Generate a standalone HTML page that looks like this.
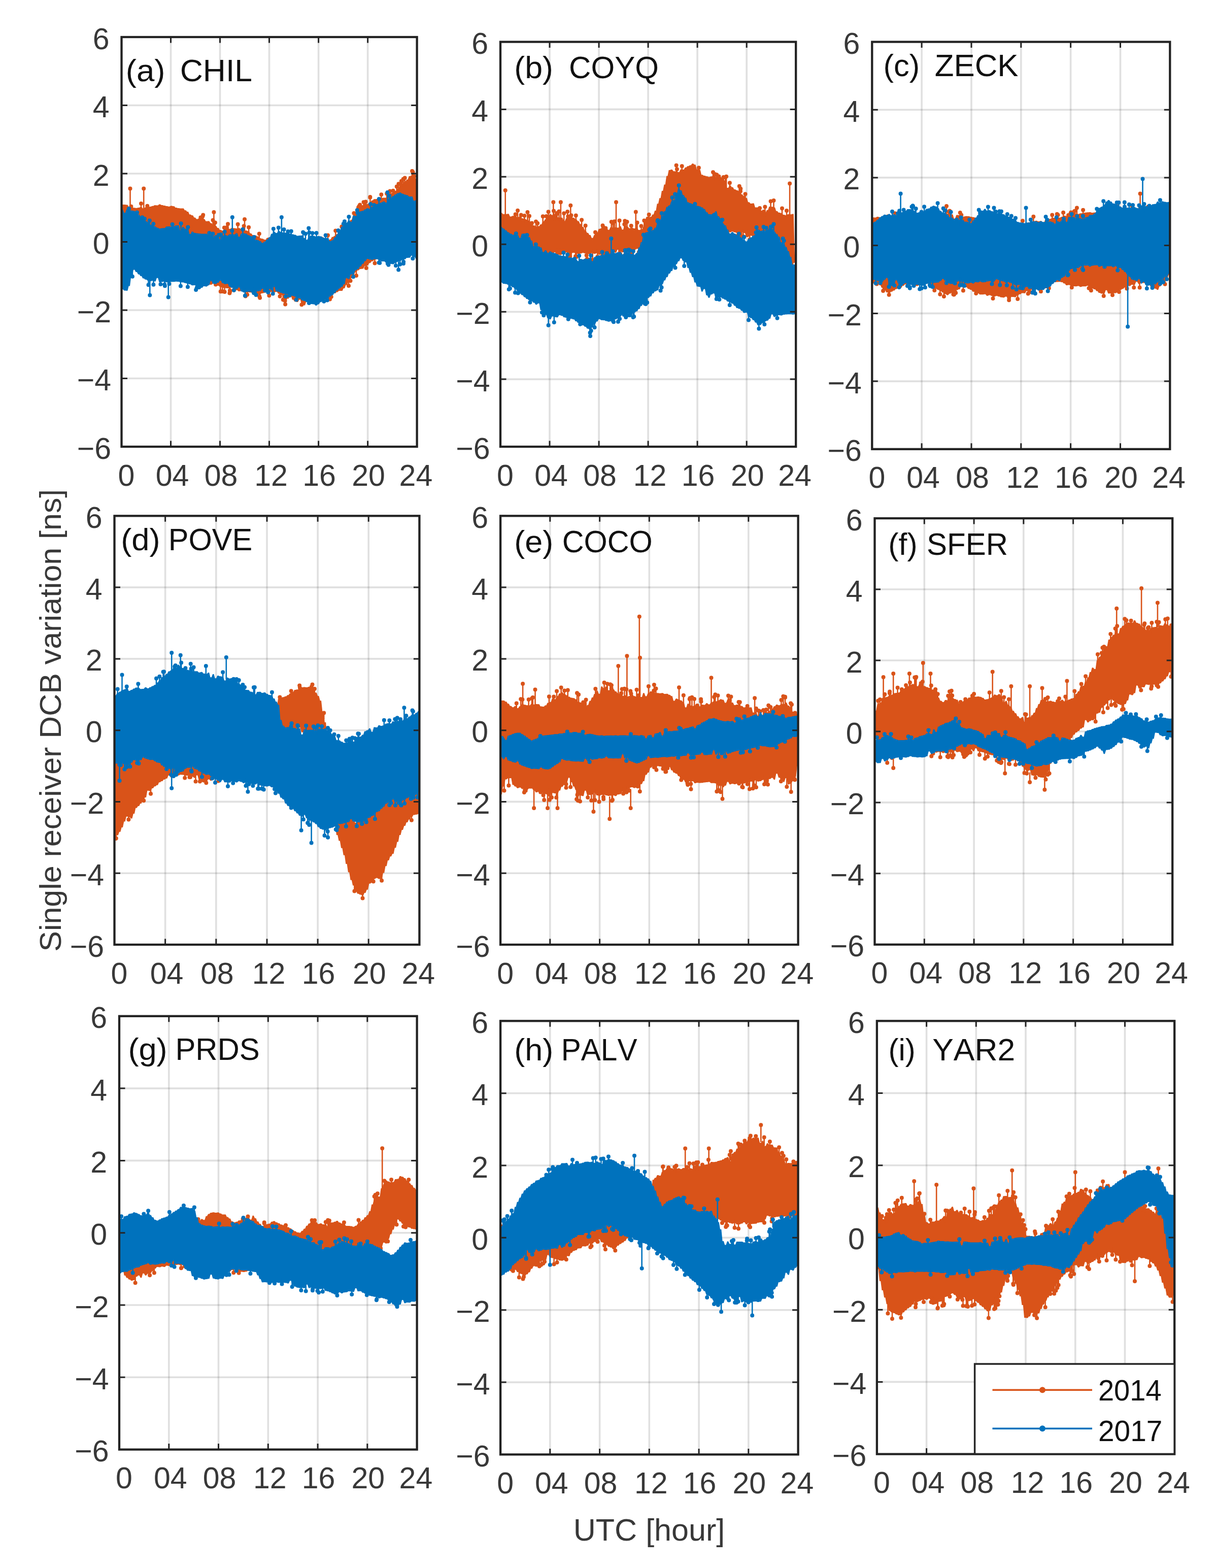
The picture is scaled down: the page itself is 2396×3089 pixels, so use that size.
<!DOCTYPE html><html><head><meta charset="utf-8"><title>Single receiver DCB variation</title>
<style>html,body{margin:0;padding:0;background:#fff;}svg{display:block;}text{font-family:"Liberation Sans",Arial,Helvetica,sans-serif;font-kerning:none;}</style></head><body>
<svg width="2396" height="3089" viewBox="0 0 2396 3089">
<rect width="2396" height="3089" fill="#fff"/>
<clipPath id="ca"><rect x="239.5" y="73" width="582.1" height="807"/></clipPath>
<path d="M336.5 73V880M433.5 73V880M530.5 73V880M627.6 73V880M724.6 73V880" stroke="#262626" stroke-opacity="0.145" stroke-width="3.6" fill="none"/>
<path d="M239.5 745.5H821.6M239.5 611H821.6M239.5 476.5H821.6M239.5 342H821.6M239.5 207.5H821.6" stroke="#262626" stroke-opacity="0.145" stroke-width="3.6" fill="none"/>
<g clip-path="url(#ca)">
<polygon fill="#D95319" points="235.3,403.3 237.7,403.3 239.9,402.9 242.2,402.9 244.5,403 246.8,403 249.1,403.4 251.4,403.4 253.7,407.6 256,407.6 258.4,407.5 260.6,407.5 262.9,409.2 265.2,409.2 267.5,409.8 269.8,409.8 272.1,409.1 274.4,409.1 276.8,407.6 279,407.6 281.3,410.4 283.6,410.4 285.9,408.2 288.2,408.2 290.5,408.3 292.8,408.3 295.1,406.9 297.4,406.9 299.7,405.7 302,405.7 304.3,404.2 306.6,404.2 308.9,404.5 311.2,404.5 313.5,402.5 315.8,402.5 318.1,404.1 320.4,404.1 322.7,404.9 325,404.9 327.3,406.1 329.6,406.1 331.9,406.7 334.2,406.7 336.5,405.5 338.8,405.5 341.1,406.3 343.4,406.3 345.7,409.1 348,409.1 350.3,409.9 352.6,409.9 354.9,410.5 357.2,410.5 359.5,410.6 361.8,410.6 364.1,414.2 366.4,414.2 368.7,417.1 371,417.1 373.3,422.4 375.6,422.4 377.9,424.3 380.2,424.3 382.5,428.6 384.8,428.6 387.1,431.4 389.4,431.4 391.7,429.9 394,429.9 396.3,433.3 398.6,433.3 400.9,431.4 403.2,431.4 405.5,435.7 407.8,435.7 410.1,435.5 412.4,435.5 414.7,439.4 417,439.4 419.3,443.7 421.6,443.7 423.9,445.1 426.2,445.1 428.5,449.1 430.8,449.1 433.1,453.1 435.4,453.1 437.7,454.2 440,454.2 442.3,450.2 444.6,450.2 446.9,448.6 449.2,448.6 451.5,450.8 453.8,450.8 456.1,449 458.4,449 460.7,449.5 463,449.5 465.3,450.1 467.6,450.1 469.9,449.3 472.2,449.3 474.5,451.3 476.8,451.3 479.1,451.9 481.4,451.9 483.7,453.9 486,453.9 488.3,455.3 490.6,455.3 492.9,459.7 495.2,459.7 497.5,463.1 499.8,463.1 502.1,463.8 504.4,463.8 506.7,465.4 509,465.4 511.3,469.3 513.6,469.3 515.9,470.3 518.2,470.3 520.5,472 522.8,472 525.1,472.4 527.4,472.4 529.7,475.4 532,475.4 534.3,475.3 536.6,475.3 538.9,476.2 541.2,476.2 543.5,477.1 545.8,477.1 548.1,478.8 550.4,478.8 552.7,479.7 555,479.7 557.3,478.9 559.6,478.9 561.9,480.6 564.2,480.6 566.5,480.7 568.8,480.7 571.1,481.9 573.4,481.9 575.7,481.4 578,481.4 580.3,483.6 582.6,483.6 584.9,490.5 587.2,490.5 589.5,481.2 591.8,481.2 594.1,482.5 596.4,482.5 598.7,483.1 601,483.1 603.3,483 605.6,483 607.9,481.2 610.2,481.2 612.5,485.7 614.8,485.7 617.1,480.5 619.4,480.5 621.7,480.3 624,480.3 626.3,478.9 628.6,478.9 630.9,476.1 633.2,476.1 635.5,475.7 637.8,475.7 640.1,474.4 642.4,474.4 644.7,474.7 647,474.7 649.3,471.6 651.6,471.6 653.9,466.7 656.2,466.7 658.5,464.8 660.8,464.8 663.1,461.1 665.4,461.1 667.7,458.7 670,458.7 672.3,453.9 674.6,453.9 676.9,450.6 679.2,450.6 681.5,443.5 683.8,443.5 686.1,436.9 688.4,436.9 690.7,433.3 693,433.3 695.3,425.2 697.6,425.2 699.9,419.4 702.2,419.4 704.5,412.7 706.8,412.7 709.1,406.7 711.4,406.7 713.7,404.3 716,404.3 718.3,400.7 720.6,400.7 722.9,401.7 725.2,401.7 727.5,399.1 729.8,399.1 732.1,394.7 734.4,394.7 736.7,392.3 739,392.3 741.3,392 743.6,392 745.9,390.9 748.2,390.9 750.5,389.9 752.8,389.9 755.1,389.6 757.4,389.6 759.7,389.4 762,389.4 764.3,385.9 766.6,385.9 768.9,380.5 771.2,380.5 773.5,379.3 775.8,379.3 778.1,376 780.4,376 782.7,371.6 785,371.6 787.3,366.9 789.6,366.9 791.9,362.2 794.2,362.2 796.5,357.7 798.8,357.7 801.1,353.8 803.4,353.8 805.7,347 808,347 810.3,345.8 812.6,345.8 814.9,348.1 817.2,348.1 819.5,352 821.8,352 824.1,351.2 826.4,351.2 826.4,469.4 824.1,469.4 821.8,470.6 819.5,470.6 817.2,474 814.9,474 812.6,473.6 810.3,473.6 808,476.5 805.7,476.5 803.4,478.6 801.1,478.6 798.8,480 796.5,480 794.2,475.9 791.9,475.9 789.6,483.7 787.3,483.7 785,485.7 782.7,485.7 780.4,488.5 778.1,488.5 775.8,482.8 773.5,482.8 771.2,493.1 768.9,493.1 766.6,495.6 764.3,495.6 762,496.4 759.7,496.4 757.4,495.5 755.1,495.5 752.8,501.8 750.5,501.8 748.2,506.5 745.9,506.5 743.6,510.2 741.3,510.2 739,512.8 736.7,512.8 734.4,514.7 732.1,514.7 729.8,518.2 727.5,518.2 725.2,523.1 722.9,523.1 720.6,524.3 718.3,524.3 716,529.6 713.7,529.6 711.4,530.1 709.1,530.1 706.8,532.6 704.5,532.6 702.2,536.3 699.9,536.3 697.6,541.5 695.3,541.5 693,548.1 690.7,548.1 688.4,556.3 686.1,556.3 683.8,561.4 681.5,561.4 679.2,568 676.9,568 674.6,573.1 672.3,573.1 670,573 667.7,573 665.4,575.5 663.1,575.5 660.8,577.9 658.5,577.9 656.2,578.6 653.9,578.6 651.6,579.2 649.3,579.2 647,582.5 644.7,582.5 642.4,581.5 640.1,581.5 637.8,585.9 635.5,585.9 633.2,585.7 630.9,585.7 628.6,589.4 626.3,589.4 624,589.6 621.7,589.6 619.4,593.7 617.1,593.7 614.8,592.2 612.5,592.2 610.2,596.9 607.9,596.9 605.6,594.3 603.3,594.3 601,601.6 598.7,601.6 596.4,599.9 594.1,599.9 591.8,590.5 589.5,590.5 587.2,594.9 584.9,594.9 582.6,594.3 580.3,594.3 578,590.5 575.7,590.5 573.4,582.3 571.1,582.3 568.8,588.6 566.5,588.6 564.2,584.7 561.9,584.7 559.6,582.7 557.3,582.7 555,581.2 552.7,581.2 550.4,578.8 548.1,578.8 545.8,575.1 543.5,575.1 541.2,576.1 538.9,576.1 536.6,574.9 534.3,574.9 532,575.6 529.7,575.6 527.4,575.9 525.1,575.9 522.8,576.7 520.5,576.7 518.2,577.8 515.9,577.8 513.6,579.2 511.3,579.2 509,580.2 506.7,580.2 504.4,580 502.1,580 499.8,577 497.5,577 495.2,576.3 492.9,576.3 490.6,576.1 488.3,576.1 486,576 483.7,576 481.4,575.6 479.1,575.6 476.8,573 474.5,573 472.2,574 469.9,574 467.6,571.8 465.3,571.8 463,572.3 460.7,572.3 458.4,563.9 456.1,563.9 453.8,568.3 451.5,568.3 449.2,567.9 446.9,567.9 444.6,567.6 442.3,567.6 440,567.3 437.7,567.3 435.4,565 433.1,565 430.8,562.9 428.5,562.9 426.2,560.7 423.9,560.7 421.6,557 419.3,557 417,554 414.7,554 412.4,543.1 410.1,543.1 407.8,549.9 405.5,549.9 403.2,549.9 400.9,549.9 398.6,546.6 396.3,546.6 394,546.6 391.7,546.6 389.4,545.7 387.1,545.7 384.8,543.6 382.5,543.6 380.2,542.9 377.9,542.9 375.6,541.9 373.3,541.9 371,540.3 368.7,540.3 366.4,539.2 364.1,539.2 361.8,539.6 359.5,539.6 357.2,538.1 354.9,538.1 352.6,538.5 350.3,538.5 348,537.6 345.7,537.6 343.4,530.3 341.1,530.3 338.8,537.9 336.5,537.9 334.2,537.1 331.9,537.1 329.6,537.6 327.3,537.6 325,537.3 322.7,537.3 320.4,538.3 318.1,538.3 315.8,535.1 313.5,535.1 311.2,532.3 308.9,532.3 306.6,536.8 304.3,536.8 302,538.1 299.7,538.1 297.4,538.1 295.1,538.1 292.8,536.7 290.5,536.7 288.2,537.6 285.9,537.6 283.6,536.4 281.3,536.4 279,535.6 276.8,535.6 274.4,535.3 272.1,535.3 269.8,531 267.5,531 265.2,529.3 262.9,529.3 260.6,525.6 258.4,525.6 256,521.8 253.7,521.8 251.4,517.6 249.1,517.6 246.8,515 244.5,515 242.2,511.5 239.9,511.5 237.7,510.6 235.3,510.6"/>
<path d="M256.5 410.8V371.6M283.2 413.2V371.6M421.4 447.2V418M482 456.3V432.1M562.1 580.2V599.6M438.4 561.5V574M762.2 395.5V381.6M560.2 488V477.5M813.6 355.7V339.1M729.3 404.1V389M441.9 459.2V448.4M400.2 440.9V423.4M706.1 422.1V408.8M680.3 455V443.9M709.2 418.1V403.5M751.3 397.8V383.3M716.5 411.6V398.2M797.7 365.5V350.5M533.4 484.3V475.1M790.2 373.2V363.7M480.6 460.2V445.2M447 458.5V448.1M633.3 485V470.3M661.2 471.1V454.6M399.4 440.8V425.9M781.7 381V367.6M697.4 433.2V419.9M590.1 490.6V477.9M626.1 487.5V471.7M490.1 465.1V447.7M528.2 483V472.2M535.5 484.6V472.4M790.9 372.5V356.7M396.8 440.5V429.3M423.9 453.1V438.6M646 480.1V463.4M816.1 357.1V347.3M278 417V401.1M290.3 416.7V405.7M768.4 390.9V376.5M258.4 415.3V406.7M707.4 420.4V406.4M710.1 417V406.4M774.6 386.3V375.7M785.4 378.1V362.3M673.3 462.4V446.5M574.1 489.9V477.8M468.6 458.5V441.8M541 485.3V471.7M395.3 440.3V428.5M794.6 368.7V352.8M449 458.2V441.3M812.1 354.9V336.9M729.3 404.2V387.9M510.8 476.2V460.4M720.5 409.3V397.5M419.5 449.9V433.7M759.3 490.2V505.8M452.4 560.4V577.4M460.7 562V571.6M816.4 464.6V480.3M372.7 533.9V547.3M453.2 560.5V574.4M790.9 475.2V483.7M322.6 528.3V545.6M809.9 467.2V484.1M413.3 544.7V555.5M331.1 528.3V544.6M652.7 570.8V584.7M319.8 528.3V541M551.5 571.3V583.8M327.3 528.3V544M384.1 536.5V553.7M818.9 463.5V481.4M320.9 528.3V538.2M367.1 532.6V544.9M259.9 517.1V529.3M347 528.3V543.5M616.3 585V593.3M244.7 506.4V516.1M738.5 503.7V518.4M292.9 528.3V544.1M702 527.3V542.9M328 528.3V539.7M561.6 575.9V592.4M562.2 576.2V587.1M408.1 542.1V558.9M385.9 537V551.8M690.5 542.8V553.3M530.3 568.7V582.2M594.4 591V600.2M511.1 570.8V583.7M335.3 528.3V543.6M407.3 541.9V551M721.7 515.8V528M487.2 567.4V580.5M650 571.6V589.6M442.6 558.4V574.9M452.9 560.5V572.2M557.8 574.2V590.4M425 551.5V560.4M434.7 556.8V574.2M789.9 475.5V488.4M349 528.4V544.5M415.2 545.8V557.1M687 547.9V563M512.1 570.7V586.8M483.8 566.7V583.5" stroke="#D95319" stroke-width="2.6" fill="none"/>
<path d="M252.5 371.6a4 4 0 1 0 8 0a4 4 0 1 0 -8 0M279.2 371.6a4 4 0 1 0 8 0a4 4 0 1 0 -8 0M417.4 418a4 4 0 1 0 8 0a4 4 0 1 0 -8 0M478 432.1a4 4 0 1 0 8 0a4 4 0 1 0 -8 0M558.1 599.6a4 4 0 1 0 8 0a4 4 0 1 0 -8 0M434.4 574a4 4 0 1 0 8 0a4 4 0 1 0 -8 0M758.2 381.6a4 4 0 1 0 8 0a4 4 0 1 0 -8 0M556.2 477.5a4 4 0 1 0 8 0a4 4 0 1 0 -8 0M809.6 339.1a4 4 0 1 0 8 0a4 4 0 1 0 -8 0M725.3 389a4 4 0 1 0 8 0a4 4 0 1 0 -8 0M437.9 448.4a4 4 0 1 0 8 0a4 4 0 1 0 -8 0M396.2 423.4a4 4 0 1 0 8 0a4 4 0 1 0 -8 0M702.1 408.8a4 4 0 1 0 8 0a4 4 0 1 0 -8 0M676.3 443.9a4 4 0 1 0 8 0a4 4 0 1 0 -8 0M705.2 403.5a4 4 0 1 0 8 0a4 4 0 1 0 -8 0M747.3 383.3a4 4 0 1 0 8 0a4 4 0 1 0 -8 0M712.5 398.2a4 4 0 1 0 8 0a4 4 0 1 0 -8 0M793.7 350.5a4 4 0 1 0 8 0a4 4 0 1 0 -8 0M529.4 475.1a4 4 0 1 0 8 0a4 4 0 1 0 -8 0M786.2 363.7a4 4 0 1 0 8 0a4 4 0 1 0 -8 0M476.6 445.2a4 4 0 1 0 8 0a4 4 0 1 0 -8 0M443 448.1a4 4 0 1 0 8 0a4 4 0 1 0 -8 0M629.3 470.3a4 4 0 1 0 8 0a4 4 0 1 0 -8 0M657.2 454.6a4 4 0 1 0 8 0a4 4 0 1 0 -8 0M395.4 425.9a4 4 0 1 0 8 0a4 4 0 1 0 -8 0M777.7 367.6a4 4 0 1 0 8 0a4 4 0 1 0 -8 0M693.4 419.9a4 4 0 1 0 8 0a4 4 0 1 0 -8 0M586.1 477.9a4 4 0 1 0 8 0a4 4 0 1 0 -8 0M622.1 471.7a4 4 0 1 0 8 0a4 4 0 1 0 -8 0M486.1 447.7a4 4 0 1 0 8 0a4 4 0 1 0 -8 0M524.2 472.2a4 4 0 1 0 8 0a4 4 0 1 0 -8 0M531.5 472.4a4 4 0 1 0 8 0a4 4 0 1 0 -8 0M786.9 356.7a4 4 0 1 0 8 0a4 4 0 1 0 -8 0M392.8 429.3a4 4 0 1 0 8 0a4 4 0 1 0 -8 0M419.9 438.6a4 4 0 1 0 8 0a4 4 0 1 0 -8 0M642 463.4a4 4 0 1 0 8 0a4 4 0 1 0 -8 0M812.1 347.3a4 4 0 1 0 8 0a4 4 0 1 0 -8 0M274 401.1a4 4 0 1 0 8 0a4 4 0 1 0 -8 0M286.3 405.7a4 4 0 1 0 8 0a4 4 0 1 0 -8 0M764.4 376.5a4 4 0 1 0 8 0a4 4 0 1 0 -8 0M254.4 406.7a4 4 0 1 0 8 0a4 4 0 1 0 -8 0M703.4 406.4a4 4 0 1 0 8 0a4 4 0 1 0 -8 0M706.1 406.4a4 4 0 1 0 8 0a4 4 0 1 0 -8 0M770.6 375.7a4 4 0 1 0 8 0a4 4 0 1 0 -8 0M781.4 362.3a4 4 0 1 0 8 0a4 4 0 1 0 -8 0M669.3 446.5a4 4 0 1 0 8 0a4 4 0 1 0 -8 0M570.1 477.8a4 4 0 1 0 8 0a4 4 0 1 0 -8 0M464.6 441.8a4 4 0 1 0 8 0a4 4 0 1 0 -8 0M537 471.7a4 4 0 1 0 8 0a4 4 0 1 0 -8 0M391.3 428.5a4 4 0 1 0 8 0a4 4 0 1 0 -8 0M790.6 352.8a4 4 0 1 0 8 0a4 4 0 1 0 -8 0M445 441.3a4 4 0 1 0 8 0a4 4 0 1 0 -8 0M808.1 336.9a4 4 0 1 0 8 0a4 4 0 1 0 -8 0M725.3 387.9a4 4 0 1 0 8 0a4 4 0 1 0 -8 0M506.8 460.4a4 4 0 1 0 8 0a4 4 0 1 0 -8 0M716.5 397.5a4 4 0 1 0 8 0a4 4 0 1 0 -8 0M415.5 433.7a4 4 0 1 0 8 0a4 4 0 1 0 -8 0M755.3 505.8a4 4 0 1 0 8 0a4 4 0 1 0 -8 0M448.4 577.4a4 4 0 1 0 8 0a4 4 0 1 0 -8 0M456.7 571.6a4 4 0 1 0 8 0a4 4 0 1 0 -8 0M812.4 480.3a4 4 0 1 0 8 0a4 4 0 1 0 -8 0M368.7 547.3a4 4 0 1 0 8 0a4 4 0 1 0 -8 0M449.2 574.4a4 4 0 1 0 8 0a4 4 0 1 0 -8 0M786.9 483.7a4 4 0 1 0 8 0a4 4 0 1 0 -8 0M318.6 545.6a4 4 0 1 0 8 0a4 4 0 1 0 -8 0M805.9 484.1a4 4 0 1 0 8 0a4 4 0 1 0 -8 0M409.3 555.5a4 4 0 1 0 8 0a4 4 0 1 0 -8 0M327.1 544.6a4 4 0 1 0 8 0a4 4 0 1 0 -8 0M648.7 584.7a4 4 0 1 0 8 0a4 4 0 1 0 -8 0M315.8 541a4 4 0 1 0 8 0a4 4 0 1 0 -8 0M547.5 583.8a4 4 0 1 0 8 0a4 4 0 1 0 -8 0M323.3 544a4 4 0 1 0 8 0a4 4 0 1 0 -8 0M380.1 553.7a4 4 0 1 0 8 0a4 4 0 1 0 -8 0M814.9 481.4a4 4 0 1 0 8 0a4 4 0 1 0 -8 0M316.9 538.2a4 4 0 1 0 8 0a4 4 0 1 0 -8 0M363.1 544.9a4 4 0 1 0 8 0a4 4 0 1 0 -8 0M255.9 529.3a4 4 0 1 0 8 0a4 4 0 1 0 -8 0M343 543.5a4 4 0 1 0 8 0a4 4 0 1 0 -8 0M612.3 593.3a4 4 0 1 0 8 0a4 4 0 1 0 -8 0M240.7 516.1a4 4 0 1 0 8 0a4 4 0 1 0 -8 0M734.5 518.4a4 4 0 1 0 8 0a4 4 0 1 0 -8 0M288.9 544.1a4 4 0 1 0 8 0a4 4 0 1 0 -8 0M698 542.9a4 4 0 1 0 8 0a4 4 0 1 0 -8 0M324 539.7a4 4 0 1 0 8 0a4 4 0 1 0 -8 0M557.6 592.4a4 4 0 1 0 8 0a4 4 0 1 0 -8 0M558.2 587.1a4 4 0 1 0 8 0a4 4 0 1 0 -8 0M404.1 558.9a4 4 0 1 0 8 0a4 4 0 1 0 -8 0M381.9 551.8a4 4 0 1 0 8 0a4 4 0 1 0 -8 0M686.5 553.3a4 4 0 1 0 8 0a4 4 0 1 0 -8 0M526.3 582.2a4 4 0 1 0 8 0a4 4 0 1 0 -8 0M590.4 600.2a4 4 0 1 0 8 0a4 4 0 1 0 -8 0M507.1 583.7a4 4 0 1 0 8 0a4 4 0 1 0 -8 0M331.3 543.6a4 4 0 1 0 8 0a4 4 0 1 0 -8 0M403.3 551a4 4 0 1 0 8 0a4 4 0 1 0 -8 0M717.7 528a4 4 0 1 0 8 0a4 4 0 1 0 -8 0M483.2 580.5a4 4 0 1 0 8 0a4 4 0 1 0 -8 0M646 589.6a4 4 0 1 0 8 0a4 4 0 1 0 -8 0M438.6 574.9a4 4 0 1 0 8 0a4 4 0 1 0 -8 0M448.9 572.2a4 4 0 1 0 8 0a4 4 0 1 0 -8 0M553.8 590.4a4 4 0 1 0 8 0a4 4 0 1 0 -8 0M421 560.4a4 4 0 1 0 8 0a4 4 0 1 0 -8 0M430.7 574.2a4 4 0 1 0 8 0a4 4 0 1 0 -8 0M785.9 488.4a4 4 0 1 0 8 0a4 4 0 1 0 -8 0M345 544.5a4 4 0 1 0 8 0a4 4 0 1 0 -8 0M411.2 557.1a4 4 0 1 0 8 0a4 4 0 1 0 -8 0M683 563a4 4 0 1 0 8 0a4 4 0 1 0 -8 0M508.1 586.8a4 4 0 1 0 8 0a4 4 0 1 0 -8 0M479.8 583.5a4 4 0 1 0 8 0a4 4 0 1 0 -8 0" fill="#D95319"/>
<polygon fill="#0072BD" points="235.3,412.2 237.7,412.2 239.9,412.5 242.2,412.5 244.5,419.3 246.8,419.3 249.1,412.5 251.4,412.5 253.7,414.1 256,414.1 258.4,414.7 260.6,414.7 262.9,415.6 265.2,415.6 267.5,419.2 269.8,419.2 272.1,422.5 274.4,422.5 276.8,427.4 279,427.4 281.3,431.4 283.6,431.4 285.9,435.2 288.2,435.2 290.5,437.6 292.8,437.6 295.1,442.6 297.4,442.6 299.7,444.3 302,444.3 304.3,445.9 306.6,445.9 308.9,448.6 311.2,448.6 313.5,450.2 315.8,450.2 318.1,449.4 320.4,449.4 322.7,449.2 325,449.2 327.3,446.3 329.6,446.3 331.9,446 334.2,446 336.5,446.6 338.8,446.6 341.1,445.8 343.4,445.8 345.7,443.9 348,443.9 350.3,444 352.6,444 354.9,454.3 357.2,454.3 359.5,447.1 361.8,447.1 364.1,450.6 366.4,450.6 368.7,451.2 371,451.2 373.3,460.9 375.6,460.9 377.9,456.3 380.2,456.3 382.5,458.7 384.8,458.7 387.1,459.4 389.4,459.4 391.7,460 394,460 396.3,460.6 398.6,460.6 400.9,460.4 403.2,460.4 405.5,460.6 407.8,460.6 410.1,462.8 412.4,462.8 414.7,462.8 417,462.8 419.3,465.7 421.6,465.7 423.9,463.1 426.2,463.1 428.5,465.7 430.8,465.7 433.1,471.8 435.4,471.8 437.7,464.2 440,464.2 442.3,462.5 444.6,462.5 446.9,464.2 449.2,464.2 451.5,461.5 453.8,461.5 456.1,461.7 458.4,461.7 460.7,461.8 463,461.8 465.3,459.2 467.6,459.2 469.9,466.6 472.2,466.6 474.5,460.1 476.8,460.1 479.1,459.6 481.4,459.6 483.7,460.3 486,460.3 488.3,463.3 490.6,463.3 492.9,464.9 495.2,464.9 497.5,467.6 499.8,467.6 502.1,471.7 504.4,471.7 506.7,472.9 509,472.9 511.3,475.1 513.6,475.1 515.9,478.4 518.2,478.4 520.5,475.7 522.8,475.7 525.1,471.8 527.4,471.8 529.7,467.2 532,467.2 534.3,460.5 536.6,460.5 538.9,456.3 541.2,456.3 543.5,459 545.8,459 548.1,454.8 550.4,454.8 552.7,456.8 555,456.8 557.3,458.1 559.6,458.1 561.9,458.3 564.2,458.3 566.5,458.7 568.8,458.7 571.1,460.1 573.4,460.1 575.7,461.4 578,461.4 580.3,462.6 582.6,462.6 584.9,464.6 587.2,464.6 589.5,464.1 591.8,464.1 594.1,463.8 596.4,463.8 598.7,469.1 601,469.1 603.3,472.2 605.6,472.2 607.9,466 610.2,466 612.5,463.7 614.8,463.7 617.1,464.6 619.4,464.6 621.7,465.9 624,465.9 626.3,465.1 628.6,465.1 630.9,465.5 633.2,465.5 635.5,467.8 637.8,467.8 640.1,469.2 642.4,469.2 644.7,468.5 647,468.5 649.3,475 651.6,475 653.9,473.2 656.2,473.2 658.5,467.6 660.8,467.6 663.1,461.7 665.4,461.7 667.7,454.3 670,454.3 672.3,446.2 674.6,446.2 676.9,442.8 679.2,442.8 681.5,438.5 683.8,438.5 686.1,434.2 688.4,434.2 690.7,436.7 693,436.7 695.3,424.6 697.6,424.6 699.9,425.3 702.2,425.3 704.5,420 706.8,420 709.1,416.3 711.4,416.3 713.7,415.2 716,415.2 718.3,412.6 720.6,412.6 722.9,409.9 725.2,409.9 727.5,411.7 729.8,411.7 732.1,407.4 734.4,407.4 736.7,403.9 739,403.9 741.3,402.1 743.6,402.1 745.9,400.8 748.2,400.8 750.5,398.8 752.8,398.8 755.1,396.8 757.4,396.8 759.7,399.1 762,399.1 764.3,391.9 766.6,391.9 768.9,388.9 771.2,388.9 773.5,386.3 775.8,386.3 778.1,382.9 780.4,382.9 782.7,380.4 785,380.4 787.3,379.2 789.6,379.2 791.9,381.6 794.2,381.6 796.5,383.2 798.8,383.2 801.1,384.6 803.4,384.6 805.7,387.3 808,387.3 810.3,386.9 812.6,386.9 814.9,395.2 817.2,395.2 819.5,394.2 821.8,394.2 824.1,397.2 826.4,397.2 826.4,509.1 824.1,509.1 821.8,510.2 819.5,510.2 817.2,506.6 814.9,506.6 812.6,503.8 810.3,503.8 808,507.7 805.7,507.7 803.4,508 801.1,508 798.8,510.8 796.5,510.8 794.2,512.4 791.9,512.4 789.6,514.1 787.3,514.1 785,515.7 782.7,515.7 780.4,518.1 778.1,518.1 775.8,520.4 773.5,520.4 771.2,520 768.9,520 766.6,517.6 764.3,517.6 762,517.3 759.7,517.3 757.4,514.9 755.1,514.9 752.8,515.1 750.5,515.1 748.2,511.8 745.9,511.8 743.6,510.8 741.3,510.8 739,510.8 736.7,510.8 734.4,511.9 732.1,511.9 729.8,511.3 727.5,511.3 725.2,510.1 722.9,510.1 720.6,514.5 718.3,514.5 716,519.7 713.7,519.7 711.4,524.9 709.1,524.9 706.8,529.9 704.5,529.9 702.2,532.7 699.9,532.7 697.6,540.1 695.3,540.1 693,541.1 690.7,541.1 688.4,549.7 686.1,549.7 683.8,548.1 681.5,548.1 679.2,560 676.9,560 674.6,565.3 672.3,565.3 670,568.5 667.7,568.5 665.4,572.5 663.1,572.5 660.8,577.3 658.5,577.3 656.2,581.5 653.9,581.5 651.6,584.3 649.3,584.3 647,588.9 644.7,588.9 642.4,590.2 640.1,590.2 637.8,592.6 635.5,592.6 633.2,595.2 630.9,595.2 628.6,599.6 626.3,599.6 624,602.1 621.7,602.1 619.4,599.5 617.1,599.5 614.8,599 612.5,599 610.2,596.6 607.9,596.6 605.6,595.3 603.3,595.3 601,593 598.7,593 596.4,591.7 594.1,591.7 591.8,588.1 589.5,588.1 587.2,587.7 584.9,587.7 582.6,584.6 580.3,584.6 578,583 575.7,583 573.4,581.3 571.1,581.3 568.8,580.3 566.5,580.3 564.2,579 561.9,579 559.6,578.4 557.3,578.4 555,576.9 552.7,576.9 550.4,574.7 548.1,574.7 545.8,574.3 543.5,574.3 541.2,565.3 538.9,565.3 536.6,572.3 534.3,572.3 532,569.3 529.7,569.3 527.4,571.3 525.1,571.3 522.8,570.4 520.5,570.4 518.2,569.1 515.9,569.1 513.6,573 511.3,573 509,574.1 506.7,574.1 504.4,572.8 502.1,572.8 499.8,575.2 497.5,575.2 495.2,575.2 492.9,575.2 490.6,574.8 488.3,574.8 486,575.2 483.7,575.2 481.4,576.1 479.1,576.1 476.8,574.2 474.5,574.2 472.2,566.3 469.9,566.3 467.6,569.7 465.3,569.7 463,567.9 460.7,567.9 458.4,567.3 456.1,567.3 453.8,565.1 451.5,565.1 449.2,559.2 446.9,559.2 444.6,559.7 442.3,559.7 440,558.1 437.7,558.1 435.4,552.9 433.1,552.9 430.8,556.9 428.5,556.9 426.2,559.4 423.9,559.4 421.6,559.3 419.3,559.3 417,553.7 414.7,553.7 412.4,561.9 410.1,561.9 407.8,564.4 405.5,564.4 403.2,564 400.9,564 398.6,566.9 396.3,566.9 394,564.3 391.7,564.3 389.4,564.6 387.1,564.6 384.8,562.1 382.5,562.1 380.2,562.3 377.9,562.3 375.6,560.3 373.3,560.3 371,559.1 368.7,559.1 366.4,557.7 364.1,557.7 361.8,556.6 359.5,556.6 357.2,555.9 354.9,555.9 352.6,555 350.3,555 348,554.7 345.7,554.7 343.4,555.2 341.1,555.2 338.8,555.3 336.5,555.3 334.2,556.6 331.9,556.6 329.6,556.2 327.3,556.2 325,554.8 322.7,554.8 320.4,555.6 318.1,555.6 315.8,555.9 313.5,555.9 311.2,547.7 308.9,547.7 306.6,554.4 304.3,554.4 302,553.2 299.7,553.2 297.4,553.9 295.1,553.9 292.8,552.8 290.5,552.8 288.2,550.7 285.9,550.7 283.6,548.6 281.3,548.6 279,543.9 276.8,543.9 274.4,540.4 272.1,540.4 269.8,536 267.5,536 265.2,531.5 262.9,531.5 260.6,543.9 258.4,543.9 256,563.6 253.7,563.6 251.4,572.7 249.1,572.7 246.8,572.5 244.5,572.5 242.2,570 239.9,570 237.7,568.9 235.3,568.9"/>
<path d="M457.8 467.1V428.1M554.8 462.4V428.1M608.2 470.4V449.6M763.4 397.8V379M295.3 548.1V581.4M331.7 550.5V585.4M785.2 509.9V531.6M573.8 469.1V455.4M666.5 465.8V453.9M559.5 466V452M284.8 441.9V430.9M687.4 441.4V427.1M548.8 463.6V448.4M302.2 453V440.9M615.7 473V459.3M254 421.9V410.9M737.1 412.3V404M339.6 453.3V442M623.5 473V459.1M457.3 469.7V454.5M746.8 408V392M767.1 398.2V385.8M435.2 472.8V462M431 472.7V463.1M609.4 473V458.1M730.1 415.7V402.1M678.9 449V436.2M500.7 476.9V466.9M676.7 450.9V441.1M704.4 428V418.9M294.7 448.7V434.6M538.8 466.2V450.7M412.4 470.1V459M602 473V460.6M597.1 473V457.5M703.8 428.3V414.1M270 428.8V418.5M356.6 454.7V440.3M478.3 466.8V451.8M419.3 471V460.5M370.3 460.3V447.4M567.4 467.7V456M641.6 476.6V463.5M442.6 471.7V456.6M280.2 437.8V428.3M386.1 554.9V571M570.4 573.6V582.3M562.9 571.5V584M528.3 562.4V576.1M504.5 565.6V580.9M795.1 503.3V515.8M528.9 562.3V575M482.8 568.7V582.5M333.4 547.9V559.2M748.2 504.8V518.1M696.1 531.3V545.2M638.3 584.6V593.7M765.5 510V521.8M387.6 555.4V567.3M460.9 559.7V571.8M324.2 547.9V560.5M302.4 546.5V560.7M746.6 504.6V517.5M369.9 550.5V565.3M316.4 547.9V559.9M355.9 547.9V563.4M763.8 509.5V519.2M392.2 556.6V565.9M537.7 564.1V578.5M292.5 545.2V561.2M499.3 566.4V574.9M522.3 563.2V572.2M788.3 506.1V520.7M794.9 503.4V519.3M644.8 580.5V591.5M260.9 534V544.8M583.8 578.1V590.5M324.9 547.9V563.2M500.1 566.3V577.3M608.9 588.6V597M779.9 509.5V523.2M813.3 498.8V509.3M525.3 562.8V572" stroke="#0072BD" stroke-width="2.6" fill="none"/>
<path d="M453.8 428.1a4 4 0 1 0 8 0a4 4 0 1 0 -8 0M550.8 428.1a4 4 0 1 0 8 0a4 4 0 1 0 -8 0M604.2 449.6a4 4 0 1 0 8 0a4 4 0 1 0 -8 0M759.4 379a4 4 0 1 0 8 0a4 4 0 1 0 -8 0M291.3 581.4a4 4 0 1 0 8 0a4 4 0 1 0 -8 0M327.7 585.4a4 4 0 1 0 8 0a4 4 0 1 0 -8 0M781.2 531.6a4 4 0 1 0 8 0a4 4 0 1 0 -8 0M569.8 455.4a4 4 0 1 0 8 0a4 4 0 1 0 -8 0M662.5 453.9a4 4 0 1 0 8 0a4 4 0 1 0 -8 0M555.5 452a4 4 0 1 0 8 0a4 4 0 1 0 -8 0M280.8 430.9a4 4 0 1 0 8 0a4 4 0 1 0 -8 0M683.4 427.1a4 4 0 1 0 8 0a4 4 0 1 0 -8 0M544.8 448.4a4 4 0 1 0 8 0a4 4 0 1 0 -8 0M298.2 440.9a4 4 0 1 0 8 0a4 4 0 1 0 -8 0M611.7 459.3a4 4 0 1 0 8 0a4 4 0 1 0 -8 0M250 410.9a4 4 0 1 0 8 0a4 4 0 1 0 -8 0M733.1 404a4 4 0 1 0 8 0a4 4 0 1 0 -8 0M335.6 442a4 4 0 1 0 8 0a4 4 0 1 0 -8 0M619.5 459.1a4 4 0 1 0 8 0a4 4 0 1 0 -8 0M453.3 454.5a4 4 0 1 0 8 0a4 4 0 1 0 -8 0M742.8 392a4 4 0 1 0 8 0a4 4 0 1 0 -8 0M763.1 385.8a4 4 0 1 0 8 0a4 4 0 1 0 -8 0M431.2 462a4 4 0 1 0 8 0a4 4 0 1 0 -8 0M427 463.1a4 4 0 1 0 8 0a4 4 0 1 0 -8 0M605.4 458.1a4 4 0 1 0 8 0a4 4 0 1 0 -8 0M726.1 402.1a4 4 0 1 0 8 0a4 4 0 1 0 -8 0M674.9 436.2a4 4 0 1 0 8 0a4 4 0 1 0 -8 0M496.7 466.9a4 4 0 1 0 8 0a4 4 0 1 0 -8 0M672.7 441.1a4 4 0 1 0 8 0a4 4 0 1 0 -8 0M700.4 418.9a4 4 0 1 0 8 0a4 4 0 1 0 -8 0M290.7 434.6a4 4 0 1 0 8 0a4 4 0 1 0 -8 0M534.8 450.7a4 4 0 1 0 8 0a4 4 0 1 0 -8 0M408.4 459a4 4 0 1 0 8 0a4 4 0 1 0 -8 0M598 460.6a4 4 0 1 0 8 0a4 4 0 1 0 -8 0M593.1 457.5a4 4 0 1 0 8 0a4 4 0 1 0 -8 0M699.8 414.1a4 4 0 1 0 8 0a4 4 0 1 0 -8 0M266 418.5a4 4 0 1 0 8 0a4 4 0 1 0 -8 0M352.6 440.3a4 4 0 1 0 8 0a4 4 0 1 0 -8 0M474.3 451.8a4 4 0 1 0 8 0a4 4 0 1 0 -8 0M415.3 460.5a4 4 0 1 0 8 0a4 4 0 1 0 -8 0M366.3 447.4a4 4 0 1 0 8 0a4 4 0 1 0 -8 0M563.4 456a4 4 0 1 0 8 0a4 4 0 1 0 -8 0M637.6 463.5a4 4 0 1 0 8 0a4 4 0 1 0 -8 0M438.6 456.6a4 4 0 1 0 8 0a4 4 0 1 0 -8 0M276.2 428.3a4 4 0 1 0 8 0a4 4 0 1 0 -8 0M382.1 571a4 4 0 1 0 8 0a4 4 0 1 0 -8 0M566.4 582.3a4 4 0 1 0 8 0a4 4 0 1 0 -8 0M558.9 584a4 4 0 1 0 8 0a4 4 0 1 0 -8 0M524.3 576.1a4 4 0 1 0 8 0a4 4 0 1 0 -8 0M500.5 580.9a4 4 0 1 0 8 0a4 4 0 1 0 -8 0M791.1 515.8a4 4 0 1 0 8 0a4 4 0 1 0 -8 0M524.9 575a4 4 0 1 0 8 0a4 4 0 1 0 -8 0M478.8 582.5a4 4 0 1 0 8 0a4 4 0 1 0 -8 0M329.4 559.2a4 4 0 1 0 8 0a4 4 0 1 0 -8 0M744.2 518.1a4 4 0 1 0 8 0a4 4 0 1 0 -8 0M692.1 545.2a4 4 0 1 0 8 0a4 4 0 1 0 -8 0M634.3 593.7a4 4 0 1 0 8 0a4 4 0 1 0 -8 0M761.5 521.8a4 4 0 1 0 8 0a4 4 0 1 0 -8 0M383.6 567.3a4 4 0 1 0 8 0a4 4 0 1 0 -8 0M456.9 571.8a4 4 0 1 0 8 0a4 4 0 1 0 -8 0M320.2 560.5a4 4 0 1 0 8 0a4 4 0 1 0 -8 0M298.4 560.7a4 4 0 1 0 8 0a4 4 0 1 0 -8 0M742.6 517.5a4 4 0 1 0 8 0a4 4 0 1 0 -8 0M365.9 565.3a4 4 0 1 0 8 0a4 4 0 1 0 -8 0M312.4 559.9a4 4 0 1 0 8 0a4 4 0 1 0 -8 0M351.9 563.4a4 4 0 1 0 8 0a4 4 0 1 0 -8 0M759.8 519.2a4 4 0 1 0 8 0a4 4 0 1 0 -8 0M388.2 565.9a4 4 0 1 0 8 0a4 4 0 1 0 -8 0M533.7 578.5a4 4 0 1 0 8 0a4 4 0 1 0 -8 0M288.5 561.2a4 4 0 1 0 8 0a4 4 0 1 0 -8 0M495.3 574.9a4 4 0 1 0 8 0a4 4 0 1 0 -8 0M518.3 572.2a4 4 0 1 0 8 0a4 4 0 1 0 -8 0M784.3 520.7a4 4 0 1 0 8 0a4 4 0 1 0 -8 0M790.9 519.3a4 4 0 1 0 8 0a4 4 0 1 0 -8 0M640.8 591.5a4 4 0 1 0 8 0a4 4 0 1 0 -8 0M256.9 544.8a4 4 0 1 0 8 0a4 4 0 1 0 -8 0M579.8 590.5a4 4 0 1 0 8 0a4 4 0 1 0 -8 0M320.9 563.2a4 4 0 1 0 8 0a4 4 0 1 0 -8 0M496.1 577.3a4 4 0 1 0 8 0a4 4 0 1 0 -8 0M604.9 597a4 4 0 1 0 8 0a4 4 0 1 0 -8 0M775.9 523.2a4 4 0 1 0 8 0a4 4 0 1 0 -8 0M809.3 509.3a4 4 0 1 0 8 0a4 4 0 1 0 -8 0M521.3 572a4 4 0 1 0 8 0a4 4 0 1 0 -8 0" fill="#0072BD"/>
</g>
<path d="M239.5 880v-11.5M239.5 73v11.5M336.5 880v-11.5M336.5 73v11.5M433.5 880v-11.5M433.5 73v11.5M530.5 880v-11.5M530.5 73v11.5M627.6 880v-11.5M627.6 73v11.5M724.6 880v-11.5M724.6 73v11.5M821.6 880v-11.5M821.6 73v11.5M239.5 880h11.5M821.6 880h-11.5M239.5 745.5h11.5M821.6 745.5h-11.5M239.5 611h11.5M821.6 611h-11.5M239.5 476.5h11.5M821.6 476.5h-11.5M239.5 342h11.5M821.6 342h-11.5M239.5 207.5h11.5M821.6 207.5h-11.5M239.5 73h11.5M821.6 73h-11.5" stroke="#262626" stroke-width="3" fill="none"/>
<rect x="239.5" y="73" width="582.1" height="807" fill="none" stroke="#222" stroke-width="4.3"/>
<g font-size="59" fill="#383838"><text x="249" y="956.5" text-anchor="middle">0</text><text x="339.5" y="956.5" text-anchor="middle">04</text><text x="435.5" y="956.5" text-anchor="middle">08</text><text x="534" y="956.5" text-anchor="middle">12</text><text x="629.1" y="956.5" text-anchor="middle">16</text><text x="726.1" y="956.5" text-anchor="middle">20</text><text x="819.4" y="956.5" text-anchor="middle">24</text><text x="219" y="903.5" text-anchor="end">−6</text><text x="219" y="769" text-anchor="end">−4</text><text x="219" y="634.5" text-anchor="end">−2</text><text x="215.5" y="500" text-anchor="end">0</text><text x="215.5" y="365.5" text-anchor="end">2</text><text x="215.5" y="231" text-anchor="end">4</text><text x="215.5" y="96.5" text-anchor="end">6</text></g>
<text x="247.7" y="159.5" font-size="61" fill="#111" textLength="77.8" lengthAdjust="spacingAndGlyphs">(a)</text>
<text x="354.7" y="159.5" font-size="61" fill="#111" textLength="142.3" lengthAdjust="spacingAndGlyphs">CHIL</text>
<clipPath id="cb"><rect x="986" y="82.5" width="582.2" height="797.5"/></clipPath>
<path d="M1083 82.5V880M1180.1 82.5V880M1277.1 82.5V880M1374.1 82.5V880M1471.2 82.5V880" stroke="#262626" stroke-opacity="0.145" stroke-width="3.6" fill="none"/>
<path d="M986 747.1H1568.2M986 614.2H1568.2M986 481.2H1568.2M986 348.3H1568.2M986 215.4H1568.2" stroke="#262626" stroke-opacity="0.145" stroke-width="3.6" fill="none"/>
<g clip-path="url(#cb)">
<polygon fill="#D95319" points="981.9,421.4 984.1,421.4 986.5,419.2 988.8,419.2 991.1,421.7 993.4,421.7 995.7,421.7 998,421.7 1000.3,421.2 1002.6,421.2 1004.9,426.6 1007.2,426.6 1009.5,425.2 1011.8,425.2 1014.1,424.3 1016.4,424.3 1018.7,428.1 1021,428.1 1023.3,426.2 1025.6,426.2 1027.9,429.9 1030.2,429.9 1032.5,430.7 1034.8,430.7 1037.1,432.8 1039.4,432.8 1041.7,434.5 1044,434.5 1046.3,441.7 1048.6,441.7 1050.9,443.9 1053.2,443.9 1055.5,446.6 1057.8,446.6 1060.1,445.6 1062.4,445.6 1064.7,442.1 1067,442.1 1069.3,436 1071.6,436 1073.9,431.9 1076.2,431.9 1078.5,426.5 1080.8,426.5 1083.1,421.8 1085.4,421.8 1087.7,423.7 1090,423.7 1092.3,427.2 1094.6,427.2 1096.9,428.1 1099.2,428.1 1101.5,428.5 1103.8,428.5 1106.1,428.7 1108.4,428.7 1110.7,435.5 1113,435.5 1115.3,429.5 1117.6,429.5 1119.9,426.6 1122.2,426.6 1124.5,427.6 1126.8,427.6 1129.1,428.9 1131.4,428.9 1133.7,431.9 1136,431.9 1138.3,435.5 1140.6,435.5 1142.9,441.3 1145.2,441.3 1147.5,447 1149.8,447 1152.1,454 1154.4,454 1156.7,458.7 1159,458.7 1161.3,462.9 1163.6,462.9 1165.9,468.7 1168.2,468.7 1170.5,462.8 1172.8,462.8 1175.1,457.7 1177.4,457.7 1179.7,450.8 1182,450.8 1184.3,449.6 1186.6,449.6 1188.9,449 1191.2,449 1193.5,448.9 1195.8,448.9 1198.1,452.7 1200.4,452.7 1202.7,447.4 1205,447.4 1207.3,448.4 1209.6,448.4 1211.9,447.8 1214.2,447.8 1216.5,448.6 1218.8,448.6 1221.1,445.6 1223.4,445.6 1225.7,452.3 1228,452.3 1230.3,443.2 1232.6,443.2 1234.9,446.6 1237.2,446.6 1239.5,449.5 1241.8,449.5 1244.1,448.6 1246.4,448.6 1248.7,450 1251,450 1253.3,448.1 1255.6,448.1 1257.9,452.9 1260.2,452.9 1262.5,452.6 1264.8,452.6 1267.1,446.8 1269.4,446.8 1271.7,437.5 1274,437.5 1276.3,431.6 1278.6,431.6 1280.9,427 1283.2,427 1285.5,422.5 1287.8,422.5 1290.1,415 1292.4,415 1294.7,401.3 1297,401.3 1299.3,390.2 1301.6,390.2 1303.9,376 1306.2,376 1308.5,363.4 1310.8,363.4 1313.1,346.7 1315.4,346.7 1317.7,334.9 1320,334.9 1322.3,334 1324.6,334 1326.9,337.2 1329.2,337.2 1331.5,337.7 1333.8,337.7 1336.1,339.1 1338.4,339.1 1340.7,333.7 1343,333.7 1345.3,333.9 1347.6,333.9 1349.9,329.7 1352.2,329.7 1354.5,327.3 1356.8,327.3 1359.1,325.6 1361.4,325.6 1363.7,322.2 1366,322.2 1368.3,324.3 1370.6,324.3 1372.9,333.5 1375.2,333.5 1377.5,334.6 1379.8,334.6 1382.1,344.2 1384.4,344.2 1386.7,346.1 1389,346.1 1391.3,347.2 1393.6,347.2 1395.9,348.4 1398.2,348.4 1400.5,347.6 1402.8,347.6 1405.1,345.9 1407.4,345.9 1409.7,348.2 1412,348.2 1414.3,347.2 1416.6,347.2 1418.9,349.1 1421.2,349.1 1423.5,352.1 1425.8,352.1 1428.1,356.2 1430.4,356.2 1432.7,370.1 1435,370.1 1437.3,365.5 1439.6,365.5 1441.9,368.8 1444.2,368.8 1446.5,373 1448.8,373 1451.1,374.7 1453.4,374.7 1455.7,377.2 1458,377.2 1460.3,382.8 1462.6,382.8 1464.9,386 1467.2,386 1469.5,390 1471.8,390 1474.1,398.2 1476.4,398.2 1478.7,401.1 1481,401.1 1483.3,400.5 1485.6,400.5 1487.9,408.6 1490.2,408.6 1492.5,408.6 1494.8,408.6 1497.1,413.5 1499.4,413.5 1501.7,416.4 1504,416.4 1506.3,419.1 1508.6,419.1 1510.9,413.7 1513.2,413.7 1515.5,407.1 1517.8,407.1 1520.1,407.3 1522.4,407.3 1524.7,408.4 1527,408.4 1529.3,415.8 1531.6,415.8 1533.9,418.8 1536.2,418.8 1538.5,419.7 1540.8,419.7 1543.1,422.9 1545.4,422.9 1547.7,424 1550,424 1552.3,421.9 1554.6,421.9 1556.9,422.3 1559.2,422.3 1561.5,421.4 1563.8,421.4 1566.1,506.4 1568.4,506.4 1570.7,518.5 1573,518.5 1573,522.5 1570.7,522.5 1568.4,513.3 1566.1,513.3 1563.8,512.4 1561.5,512.4 1559.2,506.1 1556.9,506.1 1554.6,506.1 1552.3,506.1 1550,505.1 1547.7,505.1 1545.4,499.4 1543.1,499.4 1540.8,498.4 1538.5,498.4 1536.2,494.9 1533.9,494.9 1531.6,493 1529.3,493 1527,488.8 1524.7,488.8 1522.4,487.5 1520.1,487.5 1517.8,484.1 1515.5,484.1 1513.2,482.1 1510.9,482.1 1508.6,482.4 1506.3,482.4 1504,478.7 1501.7,478.7 1499.4,473.7 1497.1,473.7 1494.8,473.5 1492.5,473.5 1490.2,471.8 1487.9,471.8 1485.6,466.8 1483.3,466.8 1481,464.5 1478.7,464.5 1476.4,462.7 1474.1,462.7 1471.8,462.2 1469.5,462.2 1467.2,459.1 1464.9,459.1 1462.6,457.2 1460.3,457.2 1458,457 1455.7,457 1453.4,459.2 1451.1,459.2 1448.8,457.8 1446.5,457.8 1444.2,456.2 1441.9,456.2 1439.6,457.8 1437.3,457.8 1435,455.8 1432.7,455.8 1430.4,456.2 1428.1,456.2 1425.8,455.1 1423.5,455.1 1421.2,455.4 1418.9,455.4 1416.6,453.7 1414.3,453.7 1412,445.5 1409.7,445.5 1407.4,451.8 1405.1,451.8 1402.8,450.7 1400.5,450.7 1398.2,451.6 1395.9,451.6 1393.6,451.3 1391.3,451.3 1389,447.7 1386.7,447.7 1384.4,447.7 1382.1,447.7 1379.8,447.5 1377.5,447.5 1375.2,446.1 1372.9,446.1 1370.6,444.8 1368.3,444.8 1366,444.5 1363.7,444.5 1361.4,444.4 1359.1,444.4 1356.8,443.4 1354.5,443.4 1352.2,445.7 1349.9,445.7 1347.6,444.2 1345.3,444.2 1343,444.3 1340.7,444.3 1338.4,440.2 1336.1,440.2 1333.8,443.1 1331.5,443.1 1329.2,440.9 1326.9,440.9 1324.6,442.6 1322.3,442.6 1320,444.2 1317.7,444.2 1315.4,445.2 1313.1,445.2 1310.8,448.3 1308.5,448.3 1306.2,450.2 1303.9,450.2 1301.6,453.3 1299.3,453.3 1297,457.7 1294.7,457.7 1292.4,460.2 1290.1,460.2 1287.8,464 1285.5,464 1283.2,468 1280.9,468 1278.6,474.4 1276.3,474.4 1274,476.8 1271.7,476.8 1269.4,480.3 1267.1,480.3 1264.8,485.7 1262.5,485.7 1260.2,489.5 1257.9,489.5 1255.6,490.6 1253.3,490.6 1251,493.5 1248.7,493.5 1246.4,494.2 1244.1,494.2 1241.8,492.9 1239.5,492.9 1237.2,494.6 1234.9,494.6 1232.6,495.4 1230.3,495.4 1228,496.9 1225.7,496.9 1223.4,495.8 1221.1,495.8 1218.8,492 1216.5,492 1214.2,497.8 1211.9,497.8 1209.6,496 1207.3,496 1205,500.2 1202.7,500.2 1200.4,499.1 1198.1,499.1 1195.8,497.8 1193.5,497.8 1191.2,501.4 1188.9,501.4 1186.6,498.7 1184.3,498.7 1182,502.1 1179.7,502.1 1177.4,498.8 1175.1,498.8 1172.8,500 1170.5,500 1168.2,498.6 1165.9,498.6 1163.6,501.1 1161.3,501.1 1159,500.6 1156.7,500.6 1154.4,499.3 1152.1,499.3 1149.8,498.3 1147.5,498.3 1145.2,499.4 1142.9,499.4 1140.6,500.5 1138.3,500.5 1136,498.8 1133.7,498.8 1131.4,498.1 1129.1,498.1 1126.8,498.7 1124.5,498.7 1122.2,497.7 1119.9,497.7 1117.6,497.2 1115.3,497.2 1113,500.3 1110.7,500.3 1108.4,499.4 1106.1,499.4 1103.8,500.3 1101.5,500.3 1099.2,500.2 1096.9,500.2 1094.6,497.3 1092.3,497.3 1090,499.3 1087.7,499.3 1085.4,497.7 1083.1,497.7 1080.8,498.8 1078.5,498.8 1076.2,498.9 1073.9,498.9 1071.6,497.2 1069.3,497.2 1067,492.1 1064.7,492.1 1062.4,495.9 1060.1,495.9 1057.8,495.2 1055.5,495.2 1053.2,497.9 1050.9,497.9 1048.6,498 1046.3,498 1044,496.9 1041.7,496.9 1039.4,495.7 1037.1,495.7 1034.8,493.9 1032.5,493.9 1030.2,496.3 1027.9,496.3 1025.6,496.6 1023.3,496.6 1021,493.7 1018.7,493.7 1016.4,494.3 1014.1,494.3 1011.8,494 1009.5,494 1007.2,494.6 1004.9,494.6 1002.6,490.7 1000.3,490.7 998,493.9 995.7,493.9 993.4,492.6 991.1,492.6 988.8,495.8 986.5,495.8 984.1,495 981.9,495"/>
<path d="M995.7 423.7V374.9M1020 428.7V414.8M1039.4 436.5V418.1M1090.3 427.7V398.2M1104.9 430.9V398.2M1124.3 430V404.8M1214 449.7V398.2M1252.8 451.3V417.4M1556.1 425.3V361.6M1524.5 411.7V394.9M1504.8 426.3V417.1M1456.8 387.4V366.7M1276.4 440.4V430.8M1043 445.5V425.6M1091 434V415.6M1425.7 363.3V349.1M1119.3 436.6V426.3M1153.6 461.6V444.6M1468.5 397.4V382.3M1056 455.4V436.4M1278.7 437.5V422.8M1416.4 356.5V347.6M1092.1 434.3V425.4M1134.8 439.4V424.5M1094.4 434.8V425.9M1033.4 438.6V425M1243.7 456V444.8M1270.7 452.2V435.3M1187.5 459.8V444.2M1096.9 435.3V421.6M1207.9 456.9V439.6M1437.9 373.4V360.3M1376.9 342.6V330.4M1497 420.5V410.1M1333.9 345.2V333.2M1173 471.3V457.4M1097.6 435.5V419.8M1507.4 428.1V407.6M1048 449.3V439.6M1210.7 456.5V436.2M1408.6 356.5V343M1541 430.1V410.5M1220.6 454.9V434.6M1459.3 389.3V371.7M1431.1 367.9V347.8M1405 356.5V339.2M1255.5 459V438.6M1146.1 452.8V433.3M1125.5 436.1V424.2M1118.2 436.7V417M1412.3 356.5V344.2M1080.5 434.9V417.3M1069.7 446.1V426.2M1059.2 457.1V439.8M1111.2 437.3V420.3M1518.6 415.6V396.5M1343.7 342.6V327.3M1235.5 454.7V437M1429.3 366.4V349.3M1263.5 463.4V445.3M1188.6 459.7V447.3M1015.6 433.7V422.3M1550 431.9V415M1204.7 457.5V437.1M1026.7 436.8V423.6M1230.3 453.8V441.7M1459 389.1V376.7M1269.3 455.1V434.6M1272.1 449.3V437.3M1332.6 345V325.7M1193.4 459V449.4M1231.3 454V435.2M1076.5 439V426.1M1101.5 436.3V416.5M1472.5 452.6V463.2M1060.5 488.4V500.3M1430 446.2V456M1314.9 437.7V455.4M1519.5 478.3V498.7M1238.6 486.3V505.6M1559.6 500.2V521M1477.3 455.1V471.8M1047.2 487.8V503.8M993.2 485.4V504M1096.8 489.4V504.5M1063.4 488.5V507.3M1245.4 485.7V499.6M1017.3 486.5V504.1M1004.6 485.9V498.7M1464.5 450.9V465.8M1156.8 491V510.3M1118.3 490V510.6M1155.6 491V503M1506.6 471.2V479.7M1497.6 466.3V482.3M1453.8 449.4V463.8M1134 490.4V505.1M1098.2 489.4V498.3M1184.4 491.3V508.2M1123.1 490.1V500.2M1410.6 443.5V451.9M1486.6 460.3V468.6M1123.3 490.1V504.8M1135.8 490.5V506.1M1434.5 446.8V462.1M1258.9 480.1V496.7M1177.1 491.6V505.9M1222 487.9V500.3M1297.1 448.6V469.3M1347.1 434.8V444.8M1134.3 490.4V505.7M1053 488.1V505.1M1387.1 440.3V457M1305.6 442.8V455.2M1201.2 489.7V502M1270.5 470.5V490M1191.2 490.7V508.4M1231.8 487V501.9M1526.5 482.1V494.7M1500.2 467.7V477.7M1420 444.8V458.5M1491 462.7V472.6M1457.5 449.9V469M1554 497.2V515.1M1097.6 489.4V507M1167.7 491.3V512M1461.3 450.5V466.6M1040 487.5V501.3M1336 433.3V453.5M1075.9 488.8V501.7M1420.9 444.9V465.6M1562.7 502V514.6M1411.3 443.6V454.6M1024.4 486.8V503.4M1219.4 488.1V504.5M1190.2 490.8V499M1104 489.6V498.4M1458.5 450.1V459.8" stroke="#D95319" stroke-width="2.6" fill="none"/>
<path d="M991.7 374.9a4 4 0 1 0 8 0a4 4 0 1 0 -8 0M1016 414.8a4 4 0 1 0 8 0a4 4 0 1 0 -8 0M1035.4 418.1a4 4 0 1 0 8 0a4 4 0 1 0 -8 0M1086.3 398.2a4 4 0 1 0 8 0a4 4 0 1 0 -8 0M1100.9 398.2a4 4 0 1 0 8 0a4 4 0 1 0 -8 0M1120.3 404.8a4 4 0 1 0 8 0a4 4 0 1 0 -8 0M1210 398.2a4 4 0 1 0 8 0a4 4 0 1 0 -8 0M1248.8 417.4a4 4 0 1 0 8 0a4 4 0 1 0 -8 0M1552.1 361.6a4 4 0 1 0 8 0a4 4 0 1 0 -8 0M1520.5 394.9a4 4 0 1 0 8 0a4 4 0 1 0 -8 0M1500.8 417.1a4 4 0 1 0 8 0a4 4 0 1 0 -8 0M1452.8 366.7a4 4 0 1 0 8 0a4 4 0 1 0 -8 0M1272.4 430.8a4 4 0 1 0 8 0a4 4 0 1 0 -8 0M1039 425.6a4 4 0 1 0 8 0a4 4 0 1 0 -8 0M1087 415.6a4 4 0 1 0 8 0a4 4 0 1 0 -8 0M1421.7 349.1a4 4 0 1 0 8 0a4 4 0 1 0 -8 0M1115.3 426.3a4 4 0 1 0 8 0a4 4 0 1 0 -8 0M1149.6 444.6a4 4 0 1 0 8 0a4 4 0 1 0 -8 0M1464.5 382.3a4 4 0 1 0 8 0a4 4 0 1 0 -8 0M1052 436.4a4 4 0 1 0 8 0a4 4 0 1 0 -8 0M1274.7 422.8a4 4 0 1 0 8 0a4 4 0 1 0 -8 0M1412.4 347.6a4 4 0 1 0 8 0a4 4 0 1 0 -8 0M1088.1 425.4a4 4 0 1 0 8 0a4 4 0 1 0 -8 0M1130.8 424.5a4 4 0 1 0 8 0a4 4 0 1 0 -8 0M1090.4 425.9a4 4 0 1 0 8 0a4 4 0 1 0 -8 0M1029.4 425a4 4 0 1 0 8 0a4 4 0 1 0 -8 0M1239.7 444.8a4 4 0 1 0 8 0a4 4 0 1 0 -8 0M1266.7 435.3a4 4 0 1 0 8 0a4 4 0 1 0 -8 0M1183.5 444.2a4 4 0 1 0 8 0a4 4 0 1 0 -8 0M1092.9 421.6a4 4 0 1 0 8 0a4 4 0 1 0 -8 0M1203.9 439.6a4 4 0 1 0 8 0a4 4 0 1 0 -8 0M1433.9 360.3a4 4 0 1 0 8 0a4 4 0 1 0 -8 0M1372.9 330.4a4 4 0 1 0 8 0a4 4 0 1 0 -8 0M1493 410.1a4 4 0 1 0 8 0a4 4 0 1 0 -8 0M1329.9 333.2a4 4 0 1 0 8 0a4 4 0 1 0 -8 0M1169 457.4a4 4 0 1 0 8 0a4 4 0 1 0 -8 0M1093.6 419.8a4 4 0 1 0 8 0a4 4 0 1 0 -8 0M1503.4 407.6a4 4 0 1 0 8 0a4 4 0 1 0 -8 0M1044 439.6a4 4 0 1 0 8 0a4 4 0 1 0 -8 0M1206.7 436.2a4 4 0 1 0 8 0a4 4 0 1 0 -8 0M1404.6 343a4 4 0 1 0 8 0a4 4 0 1 0 -8 0M1537 410.5a4 4 0 1 0 8 0a4 4 0 1 0 -8 0M1216.6 434.6a4 4 0 1 0 8 0a4 4 0 1 0 -8 0M1455.3 371.7a4 4 0 1 0 8 0a4 4 0 1 0 -8 0M1427.1 347.8a4 4 0 1 0 8 0a4 4 0 1 0 -8 0M1401 339.2a4 4 0 1 0 8 0a4 4 0 1 0 -8 0M1251.5 438.6a4 4 0 1 0 8 0a4 4 0 1 0 -8 0M1142.1 433.3a4 4 0 1 0 8 0a4 4 0 1 0 -8 0M1121.5 424.2a4 4 0 1 0 8 0a4 4 0 1 0 -8 0M1114.2 417a4 4 0 1 0 8 0a4 4 0 1 0 -8 0M1408.3 344.2a4 4 0 1 0 8 0a4 4 0 1 0 -8 0M1076.5 417.3a4 4 0 1 0 8 0a4 4 0 1 0 -8 0M1065.7 426.2a4 4 0 1 0 8 0a4 4 0 1 0 -8 0M1055.2 439.8a4 4 0 1 0 8 0a4 4 0 1 0 -8 0M1107.2 420.3a4 4 0 1 0 8 0a4 4 0 1 0 -8 0M1514.6 396.5a4 4 0 1 0 8 0a4 4 0 1 0 -8 0M1339.7 327.3a4 4 0 1 0 8 0a4 4 0 1 0 -8 0M1231.5 437a4 4 0 1 0 8 0a4 4 0 1 0 -8 0M1425.3 349.3a4 4 0 1 0 8 0a4 4 0 1 0 -8 0M1259.5 445.3a4 4 0 1 0 8 0a4 4 0 1 0 -8 0M1184.6 447.3a4 4 0 1 0 8 0a4 4 0 1 0 -8 0M1011.6 422.3a4 4 0 1 0 8 0a4 4 0 1 0 -8 0M1546 415a4 4 0 1 0 8 0a4 4 0 1 0 -8 0M1200.7 437.1a4 4 0 1 0 8 0a4 4 0 1 0 -8 0M1022.7 423.6a4 4 0 1 0 8 0a4 4 0 1 0 -8 0M1226.3 441.7a4 4 0 1 0 8 0a4 4 0 1 0 -8 0M1455 376.7a4 4 0 1 0 8 0a4 4 0 1 0 -8 0M1265.3 434.6a4 4 0 1 0 8 0a4 4 0 1 0 -8 0M1268.1 437.3a4 4 0 1 0 8 0a4 4 0 1 0 -8 0M1328.6 325.7a4 4 0 1 0 8 0a4 4 0 1 0 -8 0M1189.4 449.4a4 4 0 1 0 8 0a4 4 0 1 0 -8 0M1227.3 435.2a4 4 0 1 0 8 0a4 4 0 1 0 -8 0M1072.5 426.1a4 4 0 1 0 8 0a4 4 0 1 0 -8 0M1097.5 416.5a4 4 0 1 0 8 0a4 4 0 1 0 -8 0M1468.5 463.2a4 4 0 1 0 8 0a4 4 0 1 0 -8 0M1056.5 500.3a4 4 0 1 0 8 0a4 4 0 1 0 -8 0M1426 456a4 4 0 1 0 8 0a4 4 0 1 0 -8 0M1310.9 455.4a4 4 0 1 0 8 0a4 4 0 1 0 -8 0M1515.5 498.7a4 4 0 1 0 8 0a4 4 0 1 0 -8 0M1234.6 505.6a4 4 0 1 0 8 0a4 4 0 1 0 -8 0M1555.6 521a4 4 0 1 0 8 0a4 4 0 1 0 -8 0M1473.3 471.8a4 4 0 1 0 8 0a4 4 0 1 0 -8 0M1043.2 503.8a4 4 0 1 0 8 0a4 4 0 1 0 -8 0M989.2 504a4 4 0 1 0 8 0a4 4 0 1 0 -8 0M1092.8 504.5a4 4 0 1 0 8 0a4 4 0 1 0 -8 0M1059.4 507.3a4 4 0 1 0 8 0a4 4 0 1 0 -8 0M1241.4 499.6a4 4 0 1 0 8 0a4 4 0 1 0 -8 0M1013.3 504.1a4 4 0 1 0 8 0a4 4 0 1 0 -8 0M1000.6 498.7a4 4 0 1 0 8 0a4 4 0 1 0 -8 0M1460.5 465.8a4 4 0 1 0 8 0a4 4 0 1 0 -8 0M1152.8 510.3a4 4 0 1 0 8 0a4 4 0 1 0 -8 0M1114.3 510.6a4 4 0 1 0 8 0a4 4 0 1 0 -8 0M1151.6 503a4 4 0 1 0 8 0a4 4 0 1 0 -8 0M1502.6 479.7a4 4 0 1 0 8 0a4 4 0 1 0 -8 0M1493.6 482.3a4 4 0 1 0 8 0a4 4 0 1 0 -8 0M1449.8 463.8a4 4 0 1 0 8 0a4 4 0 1 0 -8 0M1130 505.1a4 4 0 1 0 8 0a4 4 0 1 0 -8 0M1094.2 498.3a4 4 0 1 0 8 0a4 4 0 1 0 -8 0M1180.4 508.2a4 4 0 1 0 8 0a4 4 0 1 0 -8 0M1119.1 500.2a4 4 0 1 0 8 0a4 4 0 1 0 -8 0M1406.6 451.9a4 4 0 1 0 8 0a4 4 0 1 0 -8 0M1482.6 468.6a4 4 0 1 0 8 0a4 4 0 1 0 -8 0M1119.3 504.8a4 4 0 1 0 8 0a4 4 0 1 0 -8 0M1131.8 506.1a4 4 0 1 0 8 0a4 4 0 1 0 -8 0M1430.5 462.1a4 4 0 1 0 8 0a4 4 0 1 0 -8 0M1254.9 496.7a4 4 0 1 0 8 0a4 4 0 1 0 -8 0M1173.1 505.9a4 4 0 1 0 8 0a4 4 0 1 0 -8 0M1218 500.3a4 4 0 1 0 8 0a4 4 0 1 0 -8 0M1293.1 469.3a4 4 0 1 0 8 0a4 4 0 1 0 -8 0M1343.1 444.8a4 4 0 1 0 8 0a4 4 0 1 0 -8 0M1130.3 505.7a4 4 0 1 0 8 0a4 4 0 1 0 -8 0M1049 505.1a4 4 0 1 0 8 0a4 4 0 1 0 -8 0M1383.1 457a4 4 0 1 0 8 0a4 4 0 1 0 -8 0M1301.6 455.2a4 4 0 1 0 8 0a4 4 0 1 0 -8 0M1197.2 502a4 4 0 1 0 8 0a4 4 0 1 0 -8 0M1266.5 490a4 4 0 1 0 8 0a4 4 0 1 0 -8 0M1187.2 508.4a4 4 0 1 0 8 0a4 4 0 1 0 -8 0M1227.8 501.9a4 4 0 1 0 8 0a4 4 0 1 0 -8 0M1522.5 494.7a4 4 0 1 0 8 0a4 4 0 1 0 -8 0M1496.2 477.7a4 4 0 1 0 8 0a4 4 0 1 0 -8 0M1416 458.5a4 4 0 1 0 8 0a4 4 0 1 0 -8 0M1487 472.6a4 4 0 1 0 8 0a4 4 0 1 0 -8 0M1453.5 469a4 4 0 1 0 8 0a4 4 0 1 0 -8 0M1550 515.1a4 4 0 1 0 8 0a4 4 0 1 0 -8 0M1093.6 507a4 4 0 1 0 8 0a4 4 0 1 0 -8 0M1163.7 512a4 4 0 1 0 8 0a4 4 0 1 0 -8 0M1457.3 466.6a4 4 0 1 0 8 0a4 4 0 1 0 -8 0M1036 501.3a4 4 0 1 0 8 0a4 4 0 1 0 -8 0M1332 453.5a4 4 0 1 0 8 0a4 4 0 1 0 -8 0M1071.9 501.7a4 4 0 1 0 8 0a4 4 0 1 0 -8 0M1416.9 465.6a4 4 0 1 0 8 0a4 4 0 1 0 -8 0M1558.7 514.6a4 4 0 1 0 8 0a4 4 0 1 0 -8 0M1407.3 454.6a4 4 0 1 0 8 0a4 4 0 1 0 -8 0M1020.4 503.4a4 4 0 1 0 8 0a4 4 0 1 0 -8 0M1215.4 504.5a4 4 0 1 0 8 0a4 4 0 1 0 -8 0M1186.2 499a4 4 0 1 0 8 0a4 4 0 1 0 -8 0M1100 498.4a4 4 0 1 0 8 0a4 4 0 1 0 -8 0M1454.5 459.8a4 4 0 1 0 8 0a4 4 0 1 0 -8 0" fill="#D95319"/>
<polygon fill="#0072BD" points="981.9,447.2 984.1,447.2 986.5,447.1 988.8,447.1 991.1,450.3 993.4,450.3 995.7,453.8 998,453.8 1000.3,457.4 1002.6,457.4 1004.9,460.2 1007.2,460.2 1009.5,462.2 1011.8,462.2 1014.1,462.6 1016.4,462.6 1018.7,462.9 1021,462.9 1023.3,468.8 1025.6,468.8 1027.9,460.6 1030.2,460.6 1032.5,460.1 1034.8,460.1 1037.1,462.8 1039.4,462.8 1041.7,467.2 1044,467.2 1046.3,474 1048.6,474 1050.9,484.9 1053.2,484.9 1055.5,482.6 1057.8,482.6 1060.1,485.4 1062.4,485.4 1064.7,487.5 1067,487.5 1069.3,496.4 1071.6,496.4 1073.9,493 1076.2,493 1078.5,497.9 1080.8,497.9 1083.1,495.3 1085.4,495.3 1087.7,497.5 1090,497.5 1092.3,498.4 1094.6,498.4 1096.9,500.5 1099.2,500.5 1101.5,502.8 1103.8,502.8 1106.1,503.8 1108.4,503.8 1110.7,504.5 1113,504.5 1115.3,504.5 1117.6,504.5 1119.9,507.5 1122.2,507.5 1124.5,507.3 1126.8,507.3 1129.1,509.3 1131.4,509.3 1133.7,510.6 1136,510.6 1138.3,514.2 1140.6,514.2 1142.9,510 1145.2,510 1147.5,511 1149.8,511 1152.1,509.6 1154.4,509.6 1156.7,509.9 1159,509.9 1161.3,507.5 1163.6,507.5 1165.9,514.5 1168.2,514.5 1170.5,506.2 1172.8,506.2 1175.1,503.9 1177.4,503.9 1179.7,503.2 1182,503.2 1184.3,503 1186.6,503 1188.9,501.5 1191.2,501.5 1193.5,499.6 1195.8,499.6 1198.1,499.6 1200.4,499.6 1202.7,499.8 1205,499.8 1207.3,498 1209.6,498 1211.9,498.4 1214.2,498.4 1216.5,496.7 1218.8,496.7 1221.1,496.4 1223.4,496.4 1225.7,501 1228,501 1230.3,497.8 1232.6,497.8 1234.9,496.8 1237.2,496.8 1239.5,500.5 1241.8,500.5 1244.1,500 1246.4,500 1248.7,501.8 1251,501.8 1253.3,498.3 1255.6,498.3 1257.9,487.5 1260.2,487.5 1262.5,476.9 1264.8,476.9 1267.1,463.7 1269.4,463.7 1271.7,457.5 1274,457.5 1276.3,456.7 1278.6,456.7 1280.9,454.7 1283.2,454.7 1285.5,453.2 1287.8,453.2 1290.1,448.4 1292.4,448.4 1294.7,439.7 1297,439.7 1299.3,432.5 1301.6,432.5 1303.9,425.1 1306.2,425.1 1308.5,416.1 1310.8,416.1 1313.1,407.5 1315.4,407.5 1317.7,404.5 1320,404.5 1322.3,396.9 1324.6,396.9 1326.9,394 1329.2,394 1331.5,381.7 1333.8,381.7 1336.1,371.6 1338.4,371.6 1340.7,375 1343,375 1345.3,384.2 1347.6,384.2 1349.9,389.5 1352.2,389.5 1354.5,398.4 1356.8,398.4 1359.1,400.3 1361.4,400.3 1363.7,402 1366,402 1368.3,404.5 1370.6,404.5 1372.9,405.5 1375.2,405.5 1377.5,406.5 1379.8,406.5 1382.1,408.4 1384.4,408.4 1386.7,411.8 1389,411.8 1391.3,417.8 1393.6,417.8 1395.9,422.1 1398.2,422.1 1400.5,422.2 1402.8,422.2 1405.1,419.6 1407.4,419.6 1409.7,416.3 1412,416.3 1414.3,426.1 1416.6,426.1 1418.9,429.9 1421.2,429.9 1423.5,440.3 1425.8,440.3 1428.1,443.9 1430.4,443.9 1432.7,452.2 1435,452.2 1437.3,459.9 1439.6,459.9 1441.9,457.1 1444.2,457.1 1446.5,460 1448.8,460 1451.1,462.9 1453.4,462.9 1455.7,465.2 1458,465.2 1460.3,468.3 1462.6,468.3 1464.9,472.2 1467.2,472.2 1469.5,475.4 1471.8,475.4 1474.1,470.4 1476.4,470.4 1478.7,467.4 1481,467.4 1483.3,464.1 1485.6,464.1 1487.9,462 1490.2,462 1492.5,456.7 1494.8,456.7 1497.1,454.9 1499.4,454.9 1501.7,454.1 1504,454.1 1506.3,454 1508.6,454 1510.9,452.8 1513.2,452.8 1515.5,449.3 1517.8,449.3 1520.1,451 1522.4,451 1524.7,456.3 1527,456.3 1529.3,460.8 1531.6,460.8 1533.9,466.3 1536.2,466.3 1538.5,477.2 1540.8,477.2 1543.1,478.7 1545.4,478.7 1547.7,486.6 1550,486.6 1552.3,494.8 1554.6,494.8 1556.9,505.9 1559.2,505.9 1561.5,520.9 1563.8,520.9 1566.1,521.3 1568.4,521.3 1570.7,524.9 1573,524.9 1573,619.7 1570.7,619.7 1568.4,618.9 1566.1,618.9 1563.8,619.7 1561.5,619.7 1559.2,619.2 1556.9,619.2 1554.6,619.3 1552.3,619.3 1550,619.5 1547.7,619.5 1545.4,619.9 1543.1,619.9 1540.8,621.6 1538.5,621.6 1536.2,621.1 1533.9,621.1 1531.6,622.4 1529.3,622.4 1527,624.4 1524.7,624.4 1522.4,619.6 1520.1,619.6 1517.8,627.9 1515.5,627.9 1513.2,631.7 1510.9,631.7 1508.6,633.3 1506.3,633.3 1504,636.4 1501.7,636.4 1499.4,640.2 1497.1,640.2 1494.8,640.8 1492.5,640.8 1490.2,635.6 1487.9,635.6 1485.6,630.7 1483.3,630.7 1481,626.7 1478.7,626.7 1476.4,624.5 1474.1,624.5 1471.8,615.9 1469.5,615.9 1467.2,616.5 1464.9,616.5 1462.6,612.2 1460.3,612.2 1458,608.4 1455.7,608.4 1453.4,606.9 1451.1,606.9 1448.8,602.4 1446.5,602.4 1444.2,598.2 1441.9,598.2 1439.6,596 1437.3,596 1435,594.1 1432.7,594.1 1430.4,590.5 1428.1,590.5 1425.8,588.5 1423.5,588.5 1421.2,585.9 1418.9,585.9 1416.6,586.1 1414.3,586.1 1412,588.2 1409.7,588.2 1407.4,578.2 1405.1,578.2 1402.8,580.2 1400.5,580.2 1398.2,586.8 1395.9,586.8 1393.6,581.8 1391.3,581.8 1389,569.6 1386.7,569.6 1384.4,574.6 1382.1,574.6 1379.8,565.2 1377.5,565.2 1375.2,564.5 1372.9,564.5 1370.6,556.6 1368.3,556.6 1366,546.1 1363.7,546.1 1361.4,537.5 1359.1,537.5 1356.8,527.9 1354.5,527.9 1352.2,516.9 1349.9,516.9 1347.6,514.3 1345.3,514.3 1343,508.9 1340.7,508.9 1338.4,514.7 1336.1,514.7 1333.8,520.5 1331.5,520.5 1329.2,525.7 1326.9,525.7 1324.6,534 1322.3,534 1320,539.1 1317.7,539.1 1315.4,546 1313.1,546 1310.8,552.5 1308.5,552.5 1306.2,559.8 1303.9,559.8 1301.6,563.5 1299.3,563.5 1297,571.9 1294.7,571.9 1292.4,574.1 1290.1,574.1 1287.8,578.1 1285.5,578.1 1283.2,584 1280.9,584 1278.6,587 1276.3,587 1274,592.8 1271.7,592.8 1269.4,597.4 1267.1,597.4 1264.8,602.8 1262.5,602.8 1260.2,608.9 1257.9,608.9 1255.6,613.4 1253.3,613.4 1251,615.9 1248.7,615.9 1246.4,617.7 1244.1,617.7 1241.8,617.2 1239.5,617.2 1237.2,617.7 1234.9,617.7 1232.6,619.4 1230.3,619.4 1228,619.9 1225.7,619.9 1223.4,623.7 1221.1,623.7 1218.8,627 1216.5,627 1214.2,629.2 1211.9,629.2 1209.6,632.9 1207.3,632.9 1205,633.1 1202.7,633.1 1200.4,633.8 1198.1,633.8 1195.8,632.6 1193.5,632.6 1191.2,631.1 1188.9,631.1 1186.6,630.7 1184.3,630.7 1182,628.7 1179.7,628.7 1177.4,633.5 1175.1,633.5 1172.8,638.9 1170.5,638.9 1168.2,645.3 1165.9,645.3 1163.6,649.3 1161.3,649.3 1159,647.6 1156.7,647.6 1154.4,643.7 1152.1,643.7 1149.8,641.1 1147.5,641.1 1145.2,638.1 1142.9,638.1 1140.6,636.1 1138.3,636.1 1136,632.9 1133.7,632.9 1131.4,629.3 1129.1,629.3 1126.8,628 1124.5,628 1122.2,628.1 1119.9,628.1 1117.6,626.2 1115.3,626.2 1113,625.2 1110.7,625.2 1108.4,622.3 1106.1,622.3 1103.8,621.1 1101.5,621.1 1099.2,625.2 1096.9,625.2 1094.6,624.7 1092.3,624.7 1090,623.5 1087.7,623.5 1085.4,629.1 1083.1,629.1 1080.8,627.3 1078.5,627.3 1076.2,620.5 1073.9,620.5 1071.6,615.4 1069.3,615.4 1067,611.1 1064.7,611.1 1062.4,597.7 1060.1,597.7 1057.8,600.2 1055.5,600.2 1053.2,596.6 1050.9,596.6 1048.6,593.5 1046.3,593.5 1044,591.4 1041.7,591.4 1039.4,589.1 1037.1,589.1 1034.8,585.5 1032.5,585.5 1030.2,581.4 1027.9,581.4 1025.6,578.4 1023.3,578.4 1021,573.7 1018.7,573.7 1016.4,569.4 1014.1,569.4 1011.8,566.1 1009.5,566.1 1007.2,563.4 1004.9,563.4 1002.6,560.9 1000.3,560.9 998,559.4 995.7,559.4 993.4,558.9 991.1,558.9 988.8,556.6 986.5,556.6 984.1,555.2 981.9,555.2"/>
<path d="M1204.3 504.8V470M1490.6 465.6V448M1524.5 460.4V441.4M1080.6 621.9V640.8M1163.1 644.1V662M1495.4 636.1V647.4M1132 518.3V510.1M1232.1 504.8V494.9M1519.7 457.3V446.5M1279.4 464.2V452.6M1303.9 434.5V420M1504.6 461.7V446.9M1118.2 514.3V501.5M1295.6 449.3V435.5M1186.6 510V496.6M1324.6 404.6V388.9M1466.2 479.5V466.9M1519.1 457.4V446.5M1267.8 473.1V462.6M1369.4 411.9V401.7M1337.7 378.2V365.2M1330.2 393.9V382.6M1423.2 443.3V432.9M1231.7 504.6V493.1M1544.6 487V474.2M1016.8 470.3V460.1M1489.6 468.8V458M1493.9 465.6V456.1M1207.4 506.9V495.1M1238.8 506.8V492M1195.8 508.6V498.7M1247.8 509.5V495.1M1038.4 471.8V462.9M1281.5 463.4V450.2M1141.2 518.3V503.7M1542.6 484.2V470.1M1241.1 507.5V493.3M1455.9 473.2V460.5M1235.2 505.7V493M1164.2 515.8V503.2M1110.4 512V497.7M1055.8 490V481.5M1296.1 448.4V433.9M1509.9 460.1V449.1M1240.8 610V621M1209.1 623.4V634.3M1506.3 627V639.1M1270.8 586.6V598.2M1247.6 609V624.9M1162.6 641.2V655.4M1475 615.1V630.5M1275.2 581.4V596M1330.6 515.7V527.6M1208.2 623.9V632.8M1171.6 631.9V645.1M1437.8 588.2V601M1249.2 608.8V623.8M1272.3 584.8V599.1M1411.7 579.1V589M1348.2 508.9V523.9M1020.8 567V577.4M1067.9 604.5V615.4M1164.7 639.8V651.4M1233.2 611V624.9M1091.8 619.6V635.1M1417.4 579.1V590.1M1221.1 616.1V627.9M1071.3 608.4V621.2M1236 610.6V621.3M1044.4 585V595.8M1217.9 618.1V633.8M1229.5 611.5V620M1531.5 615.4V626.8M1301.6 557.5V572.5M1119.8 618.7V628.8M1242 609.8V618.7M1015 562V576.5M1303.6 554.5V566.3M1002.7 554.5V570M1270.2 587.4V597.4M1143.2 629.4V638.8M1004.9 555.5V568.2" stroke="#0072BD" stroke-width="2.6" fill="none"/>
<path d="M1200.3 470a4 4 0 1 0 8 0a4 4 0 1 0 -8 0M1486.6 448a4 4 0 1 0 8 0a4 4 0 1 0 -8 0M1520.5 441.4a4 4 0 1 0 8 0a4 4 0 1 0 -8 0M1076.6 640.8a4 4 0 1 0 8 0a4 4 0 1 0 -8 0M1159.1 662a4 4 0 1 0 8 0a4 4 0 1 0 -8 0M1491.4 647.4a4 4 0 1 0 8 0a4 4 0 1 0 -8 0M1128 510.1a4 4 0 1 0 8 0a4 4 0 1 0 -8 0M1228.1 494.9a4 4 0 1 0 8 0a4 4 0 1 0 -8 0M1515.7 446.5a4 4 0 1 0 8 0a4 4 0 1 0 -8 0M1275.4 452.6a4 4 0 1 0 8 0a4 4 0 1 0 -8 0M1299.9 420a4 4 0 1 0 8 0a4 4 0 1 0 -8 0M1500.6 446.9a4 4 0 1 0 8 0a4 4 0 1 0 -8 0M1114.2 501.5a4 4 0 1 0 8 0a4 4 0 1 0 -8 0M1291.6 435.5a4 4 0 1 0 8 0a4 4 0 1 0 -8 0M1182.6 496.6a4 4 0 1 0 8 0a4 4 0 1 0 -8 0M1320.6 388.9a4 4 0 1 0 8 0a4 4 0 1 0 -8 0M1462.2 466.9a4 4 0 1 0 8 0a4 4 0 1 0 -8 0M1515.1 446.5a4 4 0 1 0 8 0a4 4 0 1 0 -8 0M1263.8 462.6a4 4 0 1 0 8 0a4 4 0 1 0 -8 0M1365.4 401.7a4 4 0 1 0 8 0a4 4 0 1 0 -8 0M1333.7 365.2a4 4 0 1 0 8 0a4 4 0 1 0 -8 0M1326.2 382.6a4 4 0 1 0 8 0a4 4 0 1 0 -8 0M1419.2 432.9a4 4 0 1 0 8 0a4 4 0 1 0 -8 0M1227.7 493.1a4 4 0 1 0 8 0a4 4 0 1 0 -8 0M1540.6 474.2a4 4 0 1 0 8 0a4 4 0 1 0 -8 0M1012.8 460.1a4 4 0 1 0 8 0a4 4 0 1 0 -8 0M1485.6 458a4 4 0 1 0 8 0a4 4 0 1 0 -8 0M1489.9 456.1a4 4 0 1 0 8 0a4 4 0 1 0 -8 0M1203.4 495.1a4 4 0 1 0 8 0a4 4 0 1 0 -8 0M1234.8 492a4 4 0 1 0 8 0a4 4 0 1 0 -8 0M1191.8 498.7a4 4 0 1 0 8 0a4 4 0 1 0 -8 0M1243.8 495.1a4 4 0 1 0 8 0a4 4 0 1 0 -8 0M1034.4 462.9a4 4 0 1 0 8 0a4 4 0 1 0 -8 0M1277.5 450.2a4 4 0 1 0 8 0a4 4 0 1 0 -8 0M1137.2 503.7a4 4 0 1 0 8 0a4 4 0 1 0 -8 0M1538.6 470.1a4 4 0 1 0 8 0a4 4 0 1 0 -8 0M1237.1 493.3a4 4 0 1 0 8 0a4 4 0 1 0 -8 0M1451.9 460.5a4 4 0 1 0 8 0a4 4 0 1 0 -8 0M1231.2 493a4 4 0 1 0 8 0a4 4 0 1 0 -8 0M1160.2 503.2a4 4 0 1 0 8 0a4 4 0 1 0 -8 0M1106.4 497.7a4 4 0 1 0 8 0a4 4 0 1 0 -8 0M1051.8 481.5a4 4 0 1 0 8 0a4 4 0 1 0 -8 0M1292.1 433.9a4 4 0 1 0 8 0a4 4 0 1 0 -8 0M1505.9 449.1a4 4 0 1 0 8 0a4 4 0 1 0 -8 0M1236.8 621a4 4 0 1 0 8 0a4 4 0 1 0 -8 0M1205.1 634.3a4 4 0 1 0 8 0a4 4 0 1 0 -8 0M1502.3 639.1a4 4 0 1 0 8 0a4 4 0 1 0 -8 0M1266.8 598.2a4 4 0 1 0 8 0a4 4 0 1 0 -8 0M1243.6 624.9a4 4 0 1 0 8 0a4 4 0 1 0 -8 0M1158.6 655.4a4 4 0 1 0 8 0a4 4 0 1 0 -8 0M1471 630.5a4 4 0 1 0 8 0a4 4 0 1 0 -8 0M1271.2 596a4 4 0 1 0 8 0a4 4 0 1 0 -8 0M1326.6 527.6a4 4 0 1 0 8 0a4 4 0 1 0 -8 0M1204.2 632.8a4 4 0 1 0 8 0a4 4 0 1 0 -8 0M1167.6 645.1a4 4 0 1 0 8 0a4 4 0 1 0 -8 0M1433.8 601a4 4 0 1 0 8 0a4 4 0 1 0 -8 0M1245.2 623.8a4 4 0 1 0 8 0a4 4 0 1 0 -8 0M1268.3 599.1a4 4 0 1 0 8 0a4 4 0 1 0 -8 0M1407.7 589a4 4 0 1 0 8 0a4 4 0 1 0 -8 0M1344.2 523.9a4 4 0 1 0 8 0a4 4 0 1 0 -8 0M1016.8 577.4a4 4 0 1 0 8 0a4 4 0 1 0 -8 0M1063.9 615.4a4 4 0 1 0 8 0a4 4 0 1 0 -8 0M1160.7 651.4a4 4 0 1 0 8 0a4 4 0 1 0 -8 0M1229.2 624.9a4 4 0 1 0 8 0a4 4 0 1 0 -8 0M1087.8 635.1a4 4 0 1 0 8 0a4 4 0 1 0 -8 0M1413.4 590.1a4 4 0 1 0 8 0a4 4 0 1 0 -8 0M1217.1 627.9a4 4 0 1 0 8 0a4 4 0 1 0 -8 0M1067.3 621.2a4 4 0 1 0 8 0a4 4 0 1 0 -8 0M1232 621.3a4 4 0 1 0 8 0a4 4 0 1 0 -8 0M1040.4 595.8a4 4 0 1 0 8 0a4 4 0 1 0 -8 0M1213.9 633.8a4 4 0 1 0 8 0a4 4 0 1 0 -8 0M1225.5 620a4 4 0 1 0 8 0a4 4 0 1 0 -8 0M1527.5 626.8a4 4 0 1 0 8 0a4 4 0 1 0 -8 0M1297.6 572.5a4 4 0 1 0 8 0a4 4 0 1 0 -8 0M1115.8 628.8a4 4 0 1 0 8 0a4 4 0 1 0 -8 0M1238 618.7a4 4 0 1 0 8 0a4 4 0 1 0 -8 0M1011 576.5a4 4 0 1 0 8 0a4 4 0 1 0 -8 0M1299.6 566.3a4 4 0 1 0 8 0a4 4 0 1 0 -8 0M998.7 570a4 4 0 1 0 8 0a4 4 0 1 0 -8 0M1266.2 597.4a4 4 0 1 0 8 0a4 4 0 1 0 -8 0M1139.2 638.8a4 4 0 1 0 8 0a4 4 0 1 0 -8 0M1000.9 568.2a4 4 0 1 0 8 0a4 4 0 1 0 -8 0" fill="#0072BD"/>
</g>
<path d="M986 880v-11.5M986 82.5v11.5M1083 880v-11.5M1083 82.5v11.5M1180.1 880v-11.5M1180.1 82.5v11.5M1277.1 880v-11.5M1277.1 82.5v11.5M1374.1 880v-11.5M1374.1 82.5v11.5M1471.2 880v-11.5M1471.2 82.5v11.5M1568.2 880v-11.5M1568.2 82.5v11.5M986 880h11.5M1568.2 880h-11.5M986 747.1h11.5M1568.2 747.1h-11.5M986 614.2h11.5M1568.2 614.2h-11.5M986 481.2h11.5M1568.2 481.2h-11.5M986 348.3h11.5M1568.2 348.3h-11.5M986 215.4h11.5M1568.2 215.4h-11.5M986 82.5h11.5M1568.2 82.5h-11.5" stroke="#262626" stroke-width="3" fill="none"/>
<rect x="986" y="82.5" width="582.2" height="797.5" fill="none" stroke="#222" stroke-width="4.3"/>
<g font-size="59" fill="#383838"><text x="995.5" y="956.5" text-anchor="middle">0</text><text x="1086" y="956.5" text-anchor="middle">04</text><text x="1182.1" y="956.5" text-anchor="middle">08</text><text x="1280.6" y="956.5" text-anchor="middle">12</text><text x="1375.6" y="956.5" text-anchor="middle">16</text><text x="1472.7" y="956.5" text-anchor="middle">20</text><text x="1566" y="956.5" text-anchor="middle">24</text><text x="965.5" y="903.5" text-anchor="end">−6</text><text x="965.5" y="770.6" text-anchor="end">−4</text><text x="965.5" y="637.7" text-anchor="end">−2</text><text x="962" y="504.8" text-anchor="end">0</text><text x="962" y="371.8" text-anchor="end">2</text><text x="962" y="238.9" text-anchor="end">4</text><text x="962" y="106" text-anchor="end">6</text></g>
<text x="1013.3" y="154.3" font-size="61" fill="#111" textLength="76.6" lengthAdjust="spacingAndGlyphs">(b)</text>
<text x="1121.1" y="154.3" font-size="61" fill="#111" textLength="176.9" lengthAdjust="spacingAndGlyphs">COYQ</text>
<clipPath id="cc"><rect x="1718.3" y="82.5" width="587" height="802.3"/></clipPath>
<path d="M1816.1 82.5V884.8M1914 82.5V884.8M2011.8 82.5V884.8M2109.6 82.5V884.8M2207.5 82.5V884.8" stroke="#262626" stroke-opacity="0.145" stroke-width="3.6" fill="none"/>
<path d="M1718.3 751.1H2305.3M1718.3 617.4H2305.3M1718.3 483.6H2305.3M1718.3 349.9H2305.3M1718.3 216.2H2305.3" stroke="#262626" stroke-opacity="0.145" stroke-width="3.6" fill="none"/>
<g clip-path="url(#cc)">
<polygon fill="#D95319" points="1714.1,427.1 1716.5,427.1 1718.7,428.2 1721,428.2 1723.3,428.6 1725.6,428.6 1727.9,427 1730.2,427 1732.5,427.8 1734.8,427.8 1737.1,427 1739.4,427 1741.7,428 1744,428 1746.3,432.8 1748.6,432.8 1750.9,427.8 1753.2,427.8 1755.5,425.6 1757.8,425.6 1760.1,425 1762.4,425 1764.7,425.5 1767,425.5 1769.3,426.4 1771.6,426.4 1773.9,425.6 1776.2,425.6 1778.5,426.4 1780.8,426.4 1783.1,426.3 1785.4,426.3 1787.7,425.9 1790,425.9 1792.3,423.7 1794.6,423.7 1796.9,424.6 1799.2,424.6 1801.5,424.8 1803.8,424.8 1806.1,425.1 1808.4,425.1 1810.7,430.4 1813,430.4 1815.3,423.9 1817.6,423.9 1819.9,422.2 1822.2,422.2 1824.5,423.8 1826.8,423.8 1829.1,423.1 1831.4,423.1 1833.7,421.7 1836,421.7 1838.3,421.5 1840.6,421.5 1842.9,422.4 1845.2,422.4 1847.5,422.1 1849.8,422.1 1852.1,422 1854.4,422 1856.7,422.9 1859,422.9 1861.3,422.7 1863.6,422.7 1865.9,421.1 1868.2,421.1 1870.5,421.1 1872.8,421.1 1875.1,422.3 1877.4,422.3 1879.7,430.6 1882,430.6 1884.3,423.5 1886.6,423.5 1888.9,423.8 1891.2,423.8 1893.5,430.8 1895.8,430.8 1898.1,426.5 1900.4,426.5 1902.7,425.8 1905,425.8 1907.3,426.1 1909.6,426.1 1911.9,427 1914.2,427 1916.5,427.8 1918.8,427.8 1921.1,428.8 1923.4,428.8 1925.7,430 1928,430 1930.3,431.5 1932.6,431.5 1934.9,432.1 1937.2,432.1 1939.5,432 1941.8,432 1944.1,432.8 1946.4,432.8 1948.7,432.4 1951,432.4 1953.3,433.7 1955.6,433.7 1957.9,435.5 1960.2,435.5 1962.5,441.4 1964.8,441.4 1967.1,436.2 1969.4,436.2 1971.7,437 1974,437 1976.3,436.3 1978.6,436.3 1980.9,438.2 1983.2,438.2 1985.5,437.7 1987.8,437.7 1990.1,439.3 1992.4,439.3 1994.7,438.1 1997,438.1 1999.3,439.1 2001.6,439.1 2003.9,440.8 2006.2,440.8 2008.5,448.1 2010.8,448.1 2013.1,440.4 2015.4,440.4 2017.7,440.6 2020,440.6 2022.3,438.7 2024.6,438.7 2026.9,438 2029.2,438 2031.5,438.4 2033.8,438.4 2036.1,435.7 2038.4,435.7 2040.7,434.7 2043,434.7 2045.3,436 2047.6,436 2049.9,435.3 2052.2,435.3 2054.5,440.2 2056.8,440.2 2059.1,432.9 2061.4,432.9 2063.7,432.8 2066,432.8 2068.3,431 2070.6,431 2072.9,429 2075.2,429 2077.5,428.9 2079.8,428.9 2082.1,428.2 2084.4,428.2 2086.7,428.5 2089,428.5 2091.3,427 2093.6,427 2095.9,424.7 2098.2,424.7 2100.5,425.4 2102.8,425.4 2105.1,425.1 2107.4,425.1 2109.7,422.2 2112,422.2 2114.3,423.6 2116.6,423.6 2118.9,420.5 2121.2,420.5 2123.5,421.6 2125.8,421.6 2128.1,420.2 2130.4,420.2 2132.7,420.1 2135,420.1 2137.3,418.7 2139.6,418.7 2141.9,418.2 2144.2,418.2 2146.5,418 2148.8,418 2151.1,418.9 2153.4,418.9 2155.7,418.5 2158,418.5 2160.3,417.9 2162.6,417.9 2164.9,416.2 2167.2,416.2 2169.5,415.7 2171.8,415.7 2174.1,415.5 2176.4,415.5 2178.7,414.2 2181,414.2 2183.3,414.3 2185.6,414.3 2187.9,414.3 2190.2,414.3 2192.5,413.1 2194.8,413.1 2197.1,417.5 2199.4,417.5 2201.7,411.6 2204,411.6 2206.3,412 2208.6,412 2210.9,418.8 2213.2,418.8 2215.5,410.7 2217.8,410.7 2220.1,409.4 2222.4,409.4 2224.7,410.1 2227,410.1 2229.3,410.9 2231.6,410.9 2233.9,409.4 2236.2,409.4 2238.5,416.3 2240.8,416.3 2243.1,408.1 2245.4,408.1 2247.7,408.1 2250,408.1 2252.3,409.8 2254.6,409.8 2256.9,409.8 2259.2,409.8 2261.5,412.7 2263.8,412.7 2266.1,412.6 2268.4,412.6 2270.7,414.2 2273,414.2 2275.3,413.6 2277.6,413.6 2279.9,415.5 2282.2,415.5 2284.5,416 2286.8,416 2289.1,420.1 2291.4,420.1 2293.7,419.4 2296,419.4 2298.3,420.5 2300.6,420.5 2302.9,421.4 2305.2,421.4 2307.5,424.2 2309.8,424.2 2309.8,539.8 2307.5,539.8 2305.2,541.2 2302.9,541.2 2300.6,547.9 2298.3,547.9 2296,552.9 2293.7,552.9 2291.4,559.3 2289.1,559.3 2286.8,564.2 2284.5,564.2 2282.2,571.1 2279.9,571.1 2277.6,568.8 2275.3,568.8 2273,567.1 2270.7,567.1 2268.4,564 2266.1,564 2263.8,552.3 2261.5,552.3 2259.2,557.5 2256.9,557.5 2254.6,557.6 2252.3,557.6 2250,557.4 2247.7,557.4 2245.4,559.5 2243.1,559.5 2240.8,555.3 2238.5,555.3 2236.2,561 2233.9,561 2231.6,561.1 2229.3,561.1 2227,563.6 2224.7,563.6 2222.4,563.3 2220.1,563.3 2217.8,566.5 2215.5,566.5 2213.2,569.3 2210.9,569.3 2208.6,571.4 2206.3,571.4 2204,575 2201.7,575 2199.4,577.5 2197.1,577.5 2194.8,577.8 2192.5,577.8 2190.2,578.2 2187.9,578.2 2185.6,578.2 2183.3,578.2 2181,571.8 2178.7,571.8 2176.4,578.6 2174.1,578.6 2171.8,578.5 2169.5,578.5 2167.2,576.9 2164.9,576.9 2162.6,573.5 2160.3,573.5 2158,570.1 2155.7,570.1 2153.4,568.6 2151.1,568.6 2148.8,565.5 2146.5,565.5 2144.2,563 2141.9,563 2139.6,564.3 2137.3,564.3 2135,564.3 2132.7,564.3 2130.4,565.2 2128.1,565.2 2125.8,563.4 2123.5,563.4 2121.2,564.2 2118.9,564.2 2116.6,564 2114.3,564 2112,563.2 2109.7,563.2 2107.4,561.5 2105.1,561.5 2102.8,562 2100.5,562 2098.2,558.4 2095.9,558.4 2093.6,556.1 2091.3,556.1 2089,555.2 2086.7,555.2 2084.4,555.5 2082.1,555.5 2079.8,555.9 2077.5,555.9 2075.2,558.9 2072.9,558.9 2070.6,559.7 2068.3,559.7 2066,561.6 2063.7,561.6 2061.4,557.5 2059.1,557.5 2056.8,565.6 2054.5,565.6 2052.2,564.1 2049.9,564.1 2047.6,569.2 2045.3,569.2 2043,569.4 2040.7,569.4 2038.4,569.8 2036.1,569.8 2033.8,571 2031.5,571 2029.2,572.4 2026.9,572.4 2024.6,573.6 2022.3,573.6 2020,577.7 2017.7,577.7 2015.4,577.6 2013.1,577.6 2010.8,579.7 2008.5,579.7 2006.2,581.7 2003.9,581.7 2001.6,585.4 1999.3,585.4 1997,585 1994.7,585 1992.4,585.1 1990.1,585.1 1987.8,586.3 1985.5,586.3 1983.2,584.4 1980.9,584.4 1978.6,586.2 1976.3,586.2 1974,585.7 1971.7,585.7 1969.4,584.3 1967.1,584.3 1964.8,583.1 1962.5,583.1 1960.2,584.4 1957.9,584.4 1955.6,583 1953.3,583 1951,581.5 1948.7,581.5 1946.4,582.7 1944.1,582.7 1941.8,579.7 1939.5,579.7 1937.2,580.2 1934.9,580.2 1932.6,580.3 1930.3,580.3 1928,577.9 1925.7,577.9 1923.4,575.2 1921.1,575.2 1918.8,574.8 1916.5,574.8 1914.2,570.9 1911.9,570.9 1909.6,569.2 1907.3,569.2 1905,565.9 1902.7,565.9 1900.4,564.2 1898.1,564.2 1895.8,564 1893.5,564 1891.2,569.9 1888.9,569.9 1886.6,571.6 1884.3,571.6 1882,575.2 1879.7,575.2 1877.4,576.1 1875.1,576.1 1872.8,578.6 1870.5,578.6 1868.2,581.5 1865.9,581.5 1863.6,579.4 1861.3,579.4 1859,576.3 1856.7,576.3 1854.4,573.8 1852.1,573.8 1849.8,571.3 1847.5,571.3 1845.2,569.1 1842.9,569.1 1840.6,565.6 1838.3,565.6 1836,562.8 1833.7,562.8 1831.4,559.2 1829.1,559.2 1826.8,557.4 1824.5,557.4 1822.2,557.8 1819.9,557.8 1817.6,558.4 1815.3,558.4 1813,557.8 1810.7,557.8 1808.4,557.8 1806.1,557.8 1803.8,556.6 1801.5,556.6 1799.2,554.1 1796.9,554.1 1794.6,558.3 1792.3,558.3 1790,558.6 1787.7,558.6 1785.4,560.2 1783.1,560.2 1780.8,562.9 1778.5,562.9 1776.2,567.1 1773.9,567.1 1771.6,567 1769.3,567 1767,569.5 1764.7,569.5 1762.4,572.4 1760.1,572.4 1757.8,574.7 1755.5,574.7 1753.2,577.4 1750.9,577.4 1748.6,575.9 1746.3,575.9 1744,571.4 1741.7,571.4 1739.4,567.1 1737.1,567.1 1734.8,562 1732.5,562 1730.2,557.2 1727.9,557.2 1725.6,553 1723.3,553 1721,547.8 1718.7,547.8 1716.5,546.4 1714.1,546.4"/>
<path d="M1865 426.8V406.1M2121.9 426.8V409.4M2246.6 413.4V381.4M2036.3 442.4V426.8M2262.4 419.6V407.3M2118.2 430V415.6M2110.3 431.5V418.5M1894.3 433.4V423.4M2201.4 420.8V406.6M2095.1 434.2V418.8M2178.4 423.3V407.9M2181.9 422.9V411M2134.1 428.1V413.7M1960.5 442.4V431.5M1996.7 447.3V438.2M1941.8 439.9V425.3M2073.2 438.2V423.6M1950.6 441.1V425.3M2082.8 436.5V421.7M1778.7 433.3V422.4M1749.9 434.6V426.2M1843.5 430.3V415.1M1955.3 441.7V432.8M1763.3 434V420.3M2109.6 431.6V420.1M2289.1 425.7V417.6M1841.2 430.4V417.4M1871.2 430.2V415.4M1791 432.7V421.1M2114.3 430.7V421.3M1846.8 430.2V418.8M2084.6 436.2V423.6M2282.8 424.2V408.7M1992.3 446.8V436.5M1891.8 433V419.1M1783.1 433.1V424.2M1869.7 430V416.9M2282.4 424.1V412.8M1771.2 433.6V419M2230.9 417.7V406.2M2015 448.8V434.9M2117 430.2V416.1M2105.1 432.4V424.1M1923.2 568.9V577.9M1751.7 569.9V580.7M2192 570.7V581.3M2005.2 574.9V588.9M1988.1 577.4V591.3M2245.6 551.3V566.6M1878.4 567.5V579.7M1897.9 557.9V572.6M1883.2 565.1V576.9M1806.7 549.3V559.5M2054.2 557.9V566.4M2204.9 564.9V575.1M1878.2 567.6V575.8M2295.5 544.1V559.8M2149.9 558.1V572.2M1722 542.3V554.4M1841.3 558V571.9M2174.7 570.7V582.9M1956.5 575.1V588M1801.7 549.3V558M2066.8 553.5V567.8M2037.1 562.9V576.3M1859.9 570.6V584.1M1804 549.3V557.8M1881.9 565.7V575.3M2050.9 558.9V574.1M1852.3 565.5V579.7M2025.7 566.2V578.4M2065.8 553.9V566.1M2029.9 565V575.5M2220.4 555.9V568.5M2111.8 556V566.2M1988.2 577.4V586.3M1740.1 560.6V573M2234.2 553.4V566.4M1727.5 547.9V559.5M1879.5 566.9V580.6M1880 566.7V580.3M2145.5 556V567.7" stroke="#D95319" stroke-width="2.6" fill="none"/>
<path d="M1861 406.1a4 4 0 1 0 8 0a4 4 0 1 0 -8 0M2117.9 409.4a4 4 0 1 0 8 0a4 4 0 1 0 -8 0M2242.6 381.4a4 4 0 1 0 8 0a4 4 0 1 0 -8 0M2032.3 426.8a4 4 0 1 0 8 0a4 4 0 1 0 -8 0M2258.4 407.3a4 4 0 1 0 8 0a4 4 0 1 0 -8 0M2114.2 415.6a4 4 0 1 0 8 0a4 4 0 1 0 -8 0M2106.3 418.5a4 4 0 1 0 8 0a4 4 0 1 0 -8 0M1890.3 423.4a4 4 0 1 0 8 0a4 4 0 1 0 -8 0M2197.4 406.6a4 4 0 1 0 8 0a4 4 0 1 0 -8 0M2091.1 418.8a4 4 0 1 0 8 0a4 4 0 1 0 -8 0M2174.4 407.9a4 4 0 1 0 8 0a4 4 0 1 0 -8 0M2177.9 411a4 4 0 1 0 8 0a4 4 0 1 0 -8 0M2130.1 413.7a4 4 0 1 0 8 0a4 4 0 1 0 -8 0M1956.5 431.5a4 4 0 1 0 8 0a4 4 0 1 0 -8 0M1992.7 438.2a4 4 0 1 0 8 0a4 4 0 1 0 -8 0M1937.8 425.3a4 4 0 1 0 8 0a4 4 0 1 0 -8 0M2069.2 423.6a4 4 0 1 0 8 0a4 4 0 1 0 -8 0M1946.6 425.3a4 4 0 1 0 8 0a4 4 0 1 0 -8 0M2078.8 421.7a4 4 0 1 0 8 0a4 4 0 1 0 -8 0M1774.7 422.4a4 4 0 1 0 8 0a4 4 0 1 0 -8 0M1745.9 426.2a4 4 0 1 0 8 0a4 4 0 1 0 -8 0M1839.5 415.1a4 4 0 1 0 8 0a4 4 0 1 0 -8 0M1951.3 432.8a4 4 0 1 0 8 0a4 4 0 1 0 -8 0M1759.3 420.3a4 4 0 1 0 8 0a4 4 0 1 0 -8 0M2105.6 420.1a4 4 0 1 0 8 0a4 4 0 1 0 -8 0M2285.1 417.6a4 4 0 1 0 8 0a4 4 0 1 0 -8 0M1837.2 417.4a4 4 0 1 0 8 0a4 4 0 1 0 -8 0M1867.2 415.4a4 4 0 1 0 8 0a4 4 0 1 0 -8 0M1787 421.1a4 4 0 1 0 8 0a4 4 0 1 0 -8 0M2110.3 421.3a4 4 0 1 0 8 0a4 4 0 1 0 -8 0M1842.8 418.8a4 4 0 1 0 8 0a4 4 0 1 0 -8 0M2080.6 423.6a4 4 0 1 0 8 0a4 4 0 1 0 -8 0M2278.8 408.7a4 4 0 1 0 8 0a4 4 0 1 0 -8 0M1988.3 436.5a4 4 0 1 0 8 0a4 4 0 1 0 -8 0M1887.8 419.1a4 4 0 1 0 8 0a4 4 0 1 0 -8 0M1779.1 424.2a4 4 0 1 0 8 0a4 4 0 1 0 -8 0M1865.7 416.9a4 4 0 1 0 8 0a4 4 0 1 0 -8 0M2278.4 412.8a4 4 0 1 0 8 0a4 4 0 1 0 -8 0M1767.2 419a4 4 0 1 0 8 0a4 4 0 1 0 -8 0M2226.9 406.2a4 4 0 1 0 8 0a4 4 0 1 0 -8 0M2011 434.9a4 4 0 1 0 8 0a4 4 0 1 0 -8 0M2113 416.1a4 4 0 1 0 8 0a4 4 0 1 0 -8 0M2101.1 424.1a4 4 0 1 0 8 0a4 4 0 1 0 -8 0M1919.2 577.9a4 4 0 1 0 8 0a4 4 0 1 0 -8 0M1747.7 580.7a4 4 0 1 0 8 0a4 4 0 1 0 -8 0M2188 581.3a4 4 0 1 0 8 0a4 4 0 1 0 -8 0M2001.2 588.9a4 4 0 1 0 8 0a4 4 0 1 0 -8 0M1984.1 591.3a4 4 0 1 0 8 0a4 4 0 1 0 -8 0M2241.6 566.6a4 4 0 1 0 8 0a4 4 0 1 0 -8 0M1874.4 579.7a4 4 0 1 0 8 0a4 4 0 1 0 -8 0M1893.9 572.6a4 4 0 1 0 8 0a4 4 0 1 0 -8 0M1879.2 576.9a4 4 0 1 0 8 0a4 4 0 1 0 -8 0M1802.7 559.5a4 4 0 1 0 8 0a4 4 0 1 0 -8 0M2050.2 566.4a4 4 0 1 0 8 0a4 4 0 1 0 -8 0M2200.9 575.1a4 4 0 1 0 8 0a4 4 0 1 0 -8 0M1874.2 575.8a4 4 0 1 0 8 0a4 4 0 1 0 -8 0M2291.5 559.8a4 4 0 1 0 8 0a4 4 0 1 0 -8 0M2145.9 572.2a4 4 0 1 0 8 0a4 4 0 1 0 -8 0M1718 554.4a4 4 0 1 0 8 0a4 4 0 1 0 -8 0M1837.3 571.9a4 4 0 1 0 8 0a4 4 0 1 0 -8 0M2170.7 582.9a4 4 0 1 0 8 0a4 4 0 1 0 -8 0M1952.5 588a4 4 0 1 0 8 0a4 4 0 1 0 -8 0M1797.7 558a4 4 0 1 0 8 0a4 4 0 1 0 -8 0M2062.8 567.8a4 4 0 1 0 8 0a4 4 0 1 0 -8 0M2033.1 576.3a4 4 0 1 0 8 0a4 4 0 1 0 -8 0M1855.9 584.1a4 4 0 1 0 8 0a4 4 0 1 0 -8 0M1800 557.8a4 4 0 1 0 8 0a4 4 0 1 0 -8 0M1877.9 575.3a4 4 0 1 0 8 0a4 4 0 1 0 -8 0M2046.9 574.1a4 4 0 1 0 8 0a4 4 0 1 0 -8 0M1848.3 579.7a4 4 0 1 0 8 0a4 4 0 1 0 -8 0M2021.7 578.4a4 4 0 1 0 8 0a4 4 0 1 0 -8 0M2061.8 566.1a4 4 0 1 0 8 0a4 4 0 1 0 -8 0M2025.9 575.5a4 4 0 1 0 8 0a4 4 0 1 0 -8 0M2216.4 568.5a4 4 0 1 0 8 0a4 4 0 1 0 -8 0M2107.8 566.2a4 4 0 1 0 8 0a4 4 0 1 0 -8 0M1984.2 586.3a4 4 0 1 0 8 0a4 4 0 1 0 -8 0M1736.1 573a4 4 0 1 0 8 0a4 4 0 1 0 -8 0M2230.2 566.4a4 4 0 1 0 8 0a4 4 0 1 0 -8 0M1723.5 559.5a4 4 0 1 0 8 0a4 4 0 1 0 -8 0M1875.5 580.6a4 4 0 1 0 8 0a4 4 0 1 0 -8 0M1876 580.3a4 4 0 1 0 8 0a4 4 0 1 0 -8 0M2141.5 567.7a4 4 0 1 0 8 0a4 4 0 1 0 -8 0" fill="#D95319"/>
<polygon fill="#0072BD" points="1714.1,439.4 1716.5,439.4 1718.7,438.6 1721,438.6 1723.3,436.5 1725.6,436.5 1727.9,432.8 1730.2,432.8 1732.5,428.3 1734.8,428.3 1737.1,425.5 1739.4,425.5 1741.7,422.7 1744,422.7 1746.3,423.6 1748.6,423.6 1750.9,421.5 1753.2,421.5 1755.5,423.9 1757.8,423.9 1760.1,421.9 1762.4,421.9 1764.7,423.4 1767,423.4 1769.3,421.1 1771.6,421.1 1773.9,418.5 1776.2,418.5 1778.5,417.2 1780.8,417.2 1783.1,415 1785.4,415 1787.7,411.9 1790,411.9 1792.3,412.1 1794.6,412.1 1796.9,415 1799.2,415 1801.5,415.3 1803.8,415.3 1806.1,419.1 1808.4,419.1 1810.7,418 1813,418 1815.3,418.9 1817.6,418.9 1819.9,415.6 1822.2,415.6 1824.5,411.4 1826.8,411.4 1829.1,410.5 1831.4,410.5 1833.7,407 1836,407 1838.3,405.2 1840.6,405.2 1842.9,406.6 1845.2,406.6 1847.5,410.1 1849.8,410.1 1852.1,415.3 1854.4,415.3 1856.7,418.7 1859,418.7 1861.3,419.5 1863.6,419.5 1865.9,422.8 1868.2,422.8 1870.5,427.9 1872.8,427.9 1875.1,429.1 1877.4,429.1 1879.7,432.2 1882,432.2 1884.3,434.5 1886.6,434.5 1888.9,435.4 1891.2,435.4 1893.5,437.4 1895.8,437.4 1898.1,436.4 1900.4,436.4 1902.7,436.8 1905,436.8 1907.3,437.5 1909.6,437.5 1911.9,439.8 1914.2,439.8 1916.5,434.2 1918.8,434.2 1921.1,428.8 1923.4,428.8 1925.7,423.7 1928,423.7 1930.3,419.8 1932.6,419.8 1934.9,414.9 1937.2,414.9 1939.5,411.5 1941.8,411.5 1944.1,415 1946.4,415 1948.7,413.9 1951,413.9 1953.3,416 1955.6,416 1957.9,417.9 1960.2,417.9 1962.5,420.2 1964.8,420.2 1967.1,419.1 1969.4,419.1 1971.7,420.5 1974,420.5 1976.3,422.1 1978.6,422.1 1980.9,424.5 1983.2,424.5 1985.5,426.8 1987.8,426.8 1990.1,427 1992.4,427 1994.7,430.7 1997,430.7 1999.3,432.5 2001.6,432.5 2003.9,437 2006.2,437 2008.5,438.3 2010.8,438.3 2013.1,438.4 2015.4,438.4 2017.7,439.5 2020,439.5 2022.3,438.4 2024.6,438.4 2026.9,438.2 2029.2,438.2 2031.5,436.1 2033.8,436.1 2036.1,435.8 2038.4,435.8 2040.7,435.9 2043,435.9 2045.3,437.7 2047.6,437.7 2049.9,435.8 2052.2,435.8 2054.5,437.2 2056.8,437.2 2059.1,437 2061.4,437 2063.7,437.1 2066,437.1 2068.3,436.3 2070.6,436.3 2072.9,437.4 2075.2,437.4 2077.5,440.4 2079.8,440.4 2082.1,435.7 2084.4,435.7 2086.7,437 2089,437 2091.3,433.9 2093.6,433.9 2095.9,430.1 2098.2,430.1 2100.5,437 2102.8,437 2105.1,427.3 2107.4,427.3 2109.7,427.5 2112,427.5 2114.3,427.5 2116.6,427.5 2118.9,430 2121.2,430 2123.5,428.9 2125.8,428.9 2128.1,430 2130.4,430 2132.7,432.9 2135,432.9 2137.3,428.3 2139.6,428.3 2141.9,427.3 2144.2,427.3 2146.5,423.4 2148.8,423.4 2151.1,423.2 2153.4,423.2 2155.7,420.3 2158,420.3 2160.3,415.3 2162.6,415.3 2164.9,409.6 2167.2,409.6 2169.5,407.2 2171.8,407.2 2174.1,403.2 2176.4,403.2 2178.7,396.9 2181,396.9 2183.3,394.1 2185.6,394.1 2187.9,396.9 2190.2,396.9 2192.5,400.8 2194.8,400.8 2197.1,401.5 2199.4,401.5 2201.7,404.1 2204,404.1 2206.3,406.8 2208.6,406.8 2210.9,408.9 2213.2,408.9 2215.5,408.6 2217.8,408.6 2220.1,409.3 2222.4,409.3 2224.7,409.2 2227,409.2 2229.3,408 2231.6,408 2233.9,407.5 2236.2,407.5 2238.5,409.5 2240.8,409.5 2243.1,411 2245.4,411 2247.7,411.7 2250,411.7 2252.3,409.8 2254.6,409.8 2256.9,412.4 2259.2,412.4 2261.5,408 2263.8,408 2266.1,404.6 2268.4,404.6 2270.7,402.2 2273,402.2 2275.3,401.7 2277.6,401.7 2279.9,397.1 2282.2,397.1 2284.5,399.6 2286.8,399.6 2289.1,396.5 2291.4,396.5 2293.7,397.6 2296,397.6 2298.3,398.2 2300.6,398.2 2302.9,397.7 2305.2,397.7 2307.5,397.2 2309.8,397.2 2309.8,537.1 2307.5,537.1 2305.2,539.1 2302.9,539.1 2300.6,543.8 2298.3,543.8 2296,546.7 2293.7,546.7 2291.4,549.1 2289.1,549.1 2286.8,553.5 2284.5,553.5 2282.2,556.4 2279.9,556.4 2277.6,560.2 2275.3,560.2 2273,559.4 2270.7,559.4 2268.4,561.6 2266.1,561.6 2263.8,562.7 2261.5,562.7 2259.2,561.7 2256.9,561.7 2254.6,555.5 2252.3,555.5 2250,558.8 2247.7,558.8 2245.4,549.9 2243.1,549.9 2240.8,554 2238.5,554 2236.2,552.1 2233.9,552.1 2231.6,550.7 2229.3,550.7 2227,545.6 2224.7,545.6 2222.4,540.5 2220.1,540.5 2217.8,536.1 2215.5,536.1 2213.2,532.1 2210.9,532.1 2208.6,527.8 2206.3,527.8 2204,528.4 2201.7,528.4 2199.4,524.4 2197.1,524.4 2194.8,526.5 2192.5,526.5 2190.2,524.4 2187.9,524.4 2185.6,524.4 2183.3,524.4 2181,524.6 2178.7,524.6 2176.4,522.6 2174.1,522.6 2171.8,523.9 2169.5,523.9 2167.2,525.7 2164.9,525.7 2162.6,522.5 2160.3,522.5 2158,522.8 2155.7,522.8 2153.4,523.5 2151.1,523.5 2148.8,525.3 2146.5,525.3 2144.2,523 2141.9,523 2139.6,523.2 2137.3,523.2 2135,522.7 2132.7,522.7 2130.4,525.1 2128.1,525.1 2125.8,527.8 2123.5,527.8 2121.2,528.6 2118.9,528.6 2116.6,529.2 2114.3,529.2 2112,530.1 2109.7,530.1 2107.4,533.6 2105.1,533.6 2102.8,538.8 2100.5,538.8 2098.2,545 2095.9,545 2093.6,547.5 2091.3,547.5 2089,553.7 2086.7,553.7 2084.4,552 2082.1,552 2079.8,555.7 2077.5,555.7 2075.2,559.6 2072.9,559.6 2070.6,564.4 2068.3,564.4 2066,565.9 2063.7,565.9 2061.4,568 2059.1,568 2056.8,571.3 2054.5,571.3 2052.2,571.1 2049.9,571.1 2047.6,572.4 2045.3,572.4 2043,570.2 2040.7,570.2 2038.4,570.9 2036.1,570.9 2033.8,568.6 2031.5,568.6 2029.2,569.2 2026.9,569.2 2024.6,564.9 2022.3,564.9 2020,566.6 2017.7,566.6 2015.4,563.4 2013.1,563.4 2010.8,561 2008.5,561 2006.2,561.5 2003.9,561.5 2001.6,561.8 1999.3,561.8 1997,559.4 1994.7,559.4 1992.4,557.3 1990.1,557.3 1987.8,556 1985.5,556 1983.2,557.2 1980.9,557.2 1978.6,554.4 1976.3,554.4 1974,553.5 1971.7,553.5 1969.4,551.8 1967.1,551.8 1964.8,550.2 1962.5,550.2 1960.2,553.6 1957.9,553.6 1955.6,552.3 1953.3,552.3 1951,553.7 1948.7,553.7 1946.4,554.5 1944.1,554.5 1941.8,556.1 1939.5,556.1 1937.2,556.3 1934.9,556.3 1932.6,554.8 1930.3,554.8 1928,556.2 1925.7,556.2 1923.4,555.7 1921.1,555.7 1918.8,558.6 1916.5,558.6 1914.2,557 1911.9,557 1909.6,558.2 1907.3,558.2 1905,558.3 1902.7,558.3 1900.4,555.6 1898.1,555.6 1895.8,554.4 1893.5,554.4 1891.2,554.1 1888.9,554.1 1886.6,555 1884.3,555 1882,552.1 1879.7,552.1 1877.4,552 1875.1,552 1872.8,550.8 1870.5,550.8 1868.2,552.9 1865.9,552.9 1863.6,553.3 1861.3,553.3 1859,549.6 1856.7,549.6 1854.4,553.4 1852.1,553.4 1849.8,556.6 1847.5,556.6 1845.2,556.9 1842.9,556.9 1840.6,557.3 1838.3,557.3 1836,557 1833.7,557 1831.4,558.1 1829.1,558.1 1826.8,559.4 1824.5,559.4 1822.2,563.1 1819.9,563.1 1817.6,562.9 1815.3,562.9 1813,562.1 1810.7,562.1 1808.4,560.9 1806.1,560.9 1803.8,561.2 1801.5,561.2 1799.2,562 1796.9,562 1794.6,561.1 1792.3,561.1 1790,560.4 1787.7,560.4 1785.4,557.8 1783.1,557.8 1780.8,560.2 1778.5,560.2 1776.2,558.3 1773.9,558.3 1771.6,558.3 1769.3,558.3 1767,552.2 1764.7,552.2 1762.4,558.3 1760.1,558.3 1757.8,556.9 1755.5,556.9 1753.2,556.2 1750.9,556.2 1748.6,547.5 1746.3,547.5 1744,551.5 1741.7,551.5 1739.4,555.4 1737.1,555.4 1734.8,553.4 1732.5,553.4 1730.2,553.4 1727.9,553.4 1725.6,551.4 1723.3,551.4 1721,551.5 1718.7,551.5 1716.5,551.4 1714.1,551.4"/>
<path d="M1774.6 423.6V381.4M2021.6 442.9V409.4M2251.5 415.3V352.6M2222.1 537.8V643.4M2001 442V429.6M1821.1 423.9V407.3M1796.5 421.4V407.3M1772.2 428.7V415.3M1780.6 425V413.5M1931.5 428.1V419M1862.6 429.1V414.4M2133.8 440.8V425.5M1873.6 435.7V417.8M1958.5 425.6V409.5M1847.6 417.9V400.2M1932.9 426.5V418.4M2081.7 444.9V428.3M2264.7 415.4V405.6M2200.6 412.2V399.1M1758 430.8V416.8M2122.3 437.6V426M2063.5 444.9V433.1M1893.6 445.4V428.4M1984.8 433.4V422.1M2232.1 416.1V403.9M2174.2 411V396.2M2111.5 434.7V421.8M2215.9 416.1V407.2M2249.9 419.1V408.6M2161.2 424.2V411.5M1815.6 426.7V417.6M2060.6 444.9V427.1M2224.9 416.1V402.8M1895.7 445.7V436.4M1799.1 422.2V406.2M1798.5 422V405.2M1910.3 447.7V432.7M1858.7 426.2V410.6M1769.1 430V420.4M1804.7 423.7V410.9M1992.8 437.3V425.5M2244.5 418.2V404.4M2254.4 419.8V401.9M2030.8 445.6V432.7M1885 442.3V432.8M1969.4 428.8V416.3M1973 429.9V416.4M2215.8 416.1V398.5M1928.7 431.3V413.5M1946.9 422.5V407.6M2204.3 414.3V399M2257.8 419.3V409.7M2285.9 406.1V394.3M1891.5 445.1V436.6M2095.9 440.2V430.9M1962 426.6V416.9M1787.9 551.8V563.2M2286 545.6V558.9M1995.4 550.7V566.4M2036.4 561.7V574.9M1881.6 545.4V558.1M1771.6 550.3V565.9M1833 550.6V563.4M2034.5 561.1V576.5M2299 534.9V549.9M1864.8 543.2V557.6M1831.9 550.8V561.4M2202.2 518.9V532.4M2259.8 553.9V568.2M1800.6 553V563.1M2270.9 551.7V563.2M1877.4 544.8V555.1M2039.9 562.7V578.3M2134.2 516.4V532M1792.8 552.3V567.8M1983.8 548V562M2132.9 516.7V529.8M1954.5 544.3V559.5M2002.8 552.4V570M1970.3 544.9V561.5M1955.8 544.1V552.3M2176.4 515.7V525.5M1756.8 548.4V559.3M2015.1 555.5V567.8M1880.4 545.2V556.9M2103.9 528.6V542.2M1725.5 544.1V558M2010.6 554.2V567M2118 520.8V531.7M2291.8 540.9V555.7M1762.2 549.2V562.3M1891.6 546.8V562.1M1837.7 549.5V565.2M2104.9 527.6V541.1M1895.7 547.3V561.6M1869.5 543.8V553.6M1812.2 554.1V569.5M1751.6 547.7V565M1823 552.9V566.3M2288.5 543.6V556M2064.7 556.9V573.4M2270.5 551.8V567M1900.2 548V562.9M1734.6 545.4V557.2M1873.5 544.3V555.5M1792.8 552.3V565.9M1815.7 554.5V568M1775.1 550.6V560.1" stroke="#0072BD" stroke-width="2.6" fill="none"/>
<path d="M1770.6 381.4a4 4 0 1 0 8 0a4 4 0 1 0 -8 0M2017.6 409.4a4 4 0 1 0 8 0a4 4 0 1 0 -8 0M2247.5 352.6a4 4 0 1 0 8 0a4 4 0 1 0 -8 0M2218.1 643.4a4 4 0 1 0 8 0a4 4 0 1 0 -8 0M1997 429.6a4 4 0 1 0 8 0a4 4 0 1 0 -8 0M1817.1 407.3a4 4 0 1 0 8 0a4 4 0 1 0 -8 0M1792.5 407.3a4 4 0 1 0 8 0a4 4 0 1 0 -8 0M1768.2 415.3a4 4 0 1 0 8 0a4 4 0 1 0 -8 0M1776.6 413.5a4 4 0 1 0 8 0a4 4 0 1 0 -8 0M1927.5 419a4 4 0 1 0 8 0a4 4 0 1 0 -8 0M1858.6 414.4a4 4 0 1 0 8 0a4 4 0 1 0 -8 0M2129.8 425.5a4 4 0 1 0 8 0a4 4 0 1 0 -8 0M1869.6 417.8a4 4 0 1 0 8 0a4 4 0 1 0 -8 0M1954.5 409.5a4 4 0 1 0 8 0a4 4 0 1 0 -8 0M1843.6 400.2a4 4 0 1 0 8 0a4 4 0 1 0 -8 0M1928.9 418.4a4 4 0 1 0 8 0a4 4 0 1 0 -8 0M2077.7 428.3a4 4 0 1 0 8 0a4 4 0 1 0 -8 0M2260.7 405.6a4 4 0 1 0 8 0a4 4 0 1 0 -8 0M2196.6 399.1a4 4 0 1 0 8 0a4 4 0 1 0 -8 0M1754 416.8a4 4 0 1 0 8 0a4 4 0 1 0 -8 0M2118.3 426a4 4 0 1 0 8 0a4 4 0 1 0 -8 0M2059.5 433.1a4 4 0 1 0 8 0a4 4 0 1 0 -8 0M1889.6 428.4a4 4 0 1 0 8 0a4 4 0 1 0 -8 0M1980.8 422.1a4 4 0 1 0 8 0a4 4 0 1 0 -8 0M2228.1 403.9a4 4 0 1 0 8 0a4 4 0 1 0 -8 0M2170.2 396.2a4 4 0 1 0 8 0a4 4 0 1 0 -8 0M2107.5 421.8a4 4 0 1 0 8 0a4 4 0 1 0 -8 0M2211.9 407.2a4 4 0 1 0 8 0a4 4 0 1 0 -8 0M2245.9 408.6a4 4 0 1 0 8 0a4 4 0 1 0 -8 0M2157.2 411.5a4 4 0 1 0 8 0a4 4 0 1 0 -8 0M1811.6 417.6a4 4 0 1 0 8 0a4 4 0 1 0 -8 0M2056.6 427.1a4 4 0 1 0 8 0a4 4 0 1 0 -8 0M2220.9 402.8a4 4 0 1 0 8 0a4 4 0 1 0 -8 0M1891.7 436.4a4 4 0 1 0 8 0a4 4 0 1 0 -8 0M1795.1 406.2a4 4 0 1 0 8 0a4 4 0 1 0 -8 0M1794.5 405.2a4 4 0 1 0 8 0a4 4 0 1 0 -8 0M1906.3 432.7a4 4 0 1 0 8 0a4 4 0 1 0 -8 0M1854.7 410.6a4 4 0 1 0 8 0a4 4 0 1 0 -8 0M1765.1 420.4a4 4 0 1 0 8 0a4 4 0 1 0 -8 0M1800.7 410.9a4 4 0 1 0 8 0a4 4 0 1 0 -8 0M1988.8 425.5a4 4 0 1 0 8 0a4 4 0 1 0 -8 0M2240.5 404.4a4 4 0 1 0 8 0a4 4 0 1 0 -8 0M2250.4 401.9a4 4 0 1 0 8 0a4 4 0 1 0 -8 0M2026.8 432.7a4 4 0 1 0 8 0a4 4 0 1 0 -8 0M1881 432.8a4 4 0 1 0 8 0a4 4 0 1 0 -8 0M1965.4 416.3a4 4 0 1 0 8 0a4 4 0 1 0 -8 0M1969 416.4a4 4 0 1 0 8 0a4 4 0 1 0 -8 0M2211.8 398.5a4 4 0 1 0 8 0a4 4 0 1 0 -8 0M1924.7 413.5a4 4 0 1 0 8 0a4 4 0 1 0 -8 0M1942.9 407.6a4 4 0 1 0 8 0a4 4 0 1 0 -8 0M2200.3 399a4 4 0 1 0 8 0a4 4 0 1 0 -8 0M2253.8 409.7a4 4 0 1 0 8 0a4 4 0 1 0 -8 0M2281.9 394.3a4 4 0 1 0 8 0a4 4 0 1 0 -8 0M1887.5 436.6a4 4 0 1 0 8 0a4 4 0 1 0 -8 0M2091.9 430.9a4 4 0 1 0 8 0a4 4 0 1 0 -8 0M1958 416.9a4 4 0 1 0 8 0a4 4 0 1 0 -8 0M1783.9 563.2a4 4 0 1 0 8 0a4 4 0 1 0 -8 0M2282 558.9a4 4 0 1 0 8 0a4 4 0 1 0 -8 0M1991.4 566.4a4 4 0 1 0 8 0a4 4 0 1 0 -8 0M2032.4 574.9a4 4 0 1 0 8 0a4 4 0 1 0 -8 0M1877.6 558.1a4 4 0 1 0 8 0a4 4 0 1 0 -8 0M1767.6 565.9a4 4 0 1 0 8 0a4 4 0 1 0 -8 0M1829 563.4a4 4 0 1 0 8 0a4 4 0 1 0 -8 0M2030.5 576.5a4 4 0 1 0 8 0a4 4 0 1 0 -8 0M2295 549.9a4 4 0 1 0 8 0a4 4 0 1 0 -8 0M1860.8 557.6a4 4 0 1 0 8 0a4 4 0 1 0 -8 0M1827.9 561.4a4 4 0 1 0 8 0a4 4 0 1 0 -8 0M2198.2 532.4a4 4 0 1 0 8 0a4 4 0 1 0 -8 0M2255.8 568.2a4 4 0 1 0 8 0a4 4 0 1 0 -8 0M1796.6 563.1a4 4 0 1 0 8 0a4 4 0 1 0 -8 0M2266.9 563.2a4 4 0 1 0 8 0a4 4 0 1 0 -8 0M1873.4 555.1a4 4 0 1 0 8 0a4 4 0 1 0 -8 0M2035.9 578.3a4 4 0 1 0 8 0a4 4 0 1 0 -8 0M2130.2 532a4 4 0 1 0 8 0a4 4 0 1 0 -8 0M1788.8 567.8a4 4 0 1 0 8 0a4 4 0 1 0 -8 0M1979.8 562a4 4 0 1 0 8 0a4 4 0 1 0 -8 0M2128.9 529.8a4 4 0 1 0 8 0a4 4 0 1 0 -8 0M1950.5 559.5a4 4 0 1 0 8 0a4 4 0 1 0 -8 0M1998.8 570a4 4 0 1 0 8 0a4 4 0 1 0 -8 0M1966.3 561.5a4 4 0 1 0 8 0a4 4 0 1 0 -8 0M1951.8 552.3a4 4 0 1 0 8 0a4 4 0 1 0 -8 0M2172.4 525.5a4 4 0 1 0 8 0a4 4 0 1 0 -8 0M1752.8 559.3a4 4 0 1 0 8 0a4 4 0 1 0 -8 0M2011.1 567.8a4 4 0 1 0 8 0a4 4 0 1 0 -8 0M1876.4 556.9a4 4 0 1 0 8 0a4 4 0 1 0 -8 0M2099.9 542.2a4 4 0 1 0 8 0a4 4 0 1 0 -8 0M1721.5 558a4 4 0 1 0 8 0a4 4 0 1 0 -8 0M2006.6 567a4 4 0 1 0 8 0a4 4 0 1 0 -8 0M2114 531.7a4 4 0 1 0 8 0a4 4 0 1 0 -8 0M2287.8 555.7a4 4 0 1 0 8 0a4 4 0 1 0 -8 0M1758.2 562.3a4 4 0 1 0 8 0a4 4 0 1 0 -8 0M1887.6 562.1a4 4 0 1 0 8 0a4 4 0 1 0 -8 0M1833.7 565.2a4 4 0 1 0 8 0a4 4 0 1 0 -8 0M2100.9 541.1a4 4 0 1 0 8 0a4 4 0 1 0 -8 0M1891.7 561.6a4 4 0 1 0 8 0a4 4 0 1 0 -8 0M1865.5 553.6a4 4 0 1 0 8 0a4 4 0 1 0 -8 0M1808.2 569.5a4 4 0 1 0 8 0a4 4 0 1 0 -8 0M1747.6 565a4 4 0 1 0 8 0a4 4 0 1 0 -8 0M1819 566.3a4 4 0 1 0 8 0a4 4 0 1 0 -8 0M2284.5 556a4 4 0 1 0 8 0a4 4 0 1 0 -8 0M2060.7 573.4a4 4 0 1 0 8 0a4 4 0 1 0 -8 0M2266.5 567a4 4 0 1 0 8 0a4 4 0 1 0 -8 0M1896.2 562.9a4 4 0 1 0 8 0a4 4 0 1 0 -8 0M1730.6 557.2a4 4 0 1 0 8 0a4 4 0 1 0 -8 0M1869.5 555.5a4 4 0 1 0 8 0a4 4 0 1 0 -8 0M1788.8 565.9a4 4 0 1 0 8 0a4 4 0 1 0 -8 0M1811.7 568a4 4 0 1 0 8 0a4 4 0 1 0 -8 0M1771.1 560.1a4 4 0 1 0 8 0a4 4 0 1 0 -8 0" fill="#0072BD"/>
</g>
<path d="M1718.3 884.8v-11.5M1718.3 82.5v11.5M1816.1 884.8v-11.5M1816.1 82.5v11.5M1914 884.8v-11.5M1914 82.5v11.5M2011.8 884.8v-11.5M2011.8 82.5v11.5M2109.6 884.8v-11.5M2109.6 82.5v11.5M2207.5 884.8v-11.5M2207.5 82.5v11.5M2305.3 884.8v-11.5M2305.3 82.5v11.5M1718.3 884.8h11.5M2305.3 884.8h-11.5M1718.3 751.1h11.5M2305.3 751.1h-11.5M1718.3 617.4h11.5M2305.3 617.4h-11.5M1718.3 483.6h11.5M2305.3 483.6h-11.5M1718.3 349.9h11.5M2305.3 349.9h-11.5M1718.3 216.2h11.5M2305.3 216.2h-11.5M1718.3 82.5h11.5M2305.3 82.5h-11.5" stroke="#262626" stroke-width="3" fill="none"/>
<rect x="1718.3" y="82.5" width="587" height="802.3" fill="none" stroke="#222" stroke-width="4.3"/>
<g font-size="59" fill="#383838"><text x="1727.8" y="961.3" text-anchor="middle">0</text><text x="1819.1" y="961.3" text-anchor="middle">04</text><text x="1916" y="961.3" text-anchor="middle">08</text><text x="2015.3" y="961.3" text-anchor="middle">12</text><text x="2111.1" y="961.3" text-anchor="middle">16</text><text x="2209" y="961.3" text-anchor="middle">20</text><text x="2303.1" y="961.3" text-anchor="middle">24</text><text x="1697.8" y="908.3" text-anchor="end">−6</text><text x="1697.8" y="774.6" text-anchor="end">−4</text><text x="1697.8" y="640.9" text-anchor="end">−2</text><text x="1694.3" y="507.1" text-anchor="end">0</text><text x="1694.3" y="373.4" text-anchor="end">2</text><text x="1694.3" y="239.7" text-anchor="end">4</text><text x="1694.3" y="106" text-anchor="end">6</text></g>
<text x="1740.5" y="150.2" font-size="61" fill="#111" textLength="71.7" lengthAdjust="spacingAndGlyphs">(c)</text>
<text x="1841.7" y="150.2" font-size="61" fill="#111" textLength="164.8" lengthAdjust="spacingAndGlyphs">ZECK</text>
<clipPath id="cd"><rect x="225.5" y="1016.3" width="600.9" height="844.7"/></clipPath>
<path d="M325.6 1016.3V1861M425.8 1016.3V1861M526 1016.3V1861M626.1 1016.3V1861M726.2 1016.3V1861" stroke="#262626" stroke-opacity="0.145" stroke-width="3.6" fill="none"/>
<path d="M225.5 1720.2H826.4M225.5 1579.4H826.4M225.5 1438.7H826.4M225.5 1297.9H826.4M225.5 1157.1H826.4" stroke="#262626" stroke-opacity="0.145" stroke-width="3.6" fill="none"/>
<g clip-path="url(#cd)">
<polygon fill="#D95319" points="221.3,1480.5 223.7,1480.5 225.9,1476.6 228.2,1476.6 230.5,1475.9 232.8,1475.9 235.1,1476.7 237.4,1476.7 239.7,1476 242,1476 244.3,1473.8 246.6,1473.8 248.9,1473.5 251.2,1473.5 253.5,1473.7 255.8,1473.7 258.1,1473.1 260.4,1473.1 262.8,1471.9 265,1471.9 267.3,1471.4 269.6,1471.4 271.9,1471.3 274.2,1471.3 276.5,1470 278.8,1470 281.1,1470.4 283.4,1470.4 285.7,1468.4 288,1468.4 290.3,1467.4 292.6,1467.4 294.9,1467 297.2,1467 299.5,1465.9 301.8,1465.9 304.1,1474 306.4,1474 308.7,1465.9 311,1465.9 313.3,1464.3 315.6,1464.3 317.9,1463.3 320.2,1463.3 322.5,1464.4 324.8,1464.4 327.1,1462.5 329.4,1462.5 331.7,1461.2 334,1461.2 336.3,1460.7 338.6,1460.7 340.9,1459.2 343.2,1459.2 345.5,1458 347.8,1458 350.1,1457 352.4,1457 354.7,1456 357,1456 359.3,1456.3 361.6,1456.3 363.9,1454.7 366.2,1454.7 368.5,1453.6 370.8,1453.6 373.1,1453 375.4,1453 377.7,1452.4 380,1452.4 382.3,1450.6 384.6,1450.6 386.9,1449.4 389.2,1449.4 391.5,1449.6 393.8,1449.6 396.1,1447.8 398.4,1447.8 400.7,1448 403,1448 405.3,1446.3 407.6,1446.3 409.9,1446.4 412.2,1446.4 414.5,1443.7 416.8,1443.7 419.1,1442.6 421.4,1442.6 423.7,1441.7 426,1441.7 428.3,1442.5 430.6,1442.5 432.9,1440.9 435.2,1440.9 437.5,1439.7 439.8,1439.7 442.1,1438.2 444.4,1438.2 446.7,1444 449,1444 451.3,1435.6 453.6,1435.6 455.9,1441.7 458.2,1441.7 460.5,1434.6 462.8,1434.6 465.1,1434.7 467.4,1434.7 469.7,1431.7 472,1431.7 474.3,1432.5 476.6,1432.5 478.9,1430.1 481.2,1430.1 483.5,1430.8 485.8,1430.8 488.1,1428.1 490.4,1428.1 492.7,1427.3 495,1427.3 497.3,1426.8 499.6,1426.8 501.9,1426 504.2,1426 506.5,1424.3 508.8,1424.3 511.1,1424.5 513.4,1424.5 515.7,1423.9 518,1423.9 520.3,1421.2 522.6,1421.2 524.9,1420.3 527.2,1420.3 529.5,1417.9 531.8,1417.9 534.1,1412.7 536.4,1412.7 538.7,1410.3 541,1410.3 543.3,1394.9 545.6,1394.9 547.9,1376.3 550.2,1376.3 552.5,1374.6 554.8,1374.6 557.1,1373.3 559.4,1373.3 561.7,1371.8 564,1371.8 566.3,1369.3 568.6,1369.3 570.9,1365.8 573.2,1365.8 575.5,1363.3 577.8,1363.3 580.1,1359.1 582.4,1359.1 584.7,1358.3 587,1358.3 589.3,1357.3 591.6,1357.3 593.9,1354 596.2,1354 598.5,1353.6 600.8,1353.6 603.1,1354 605.4,1354 607.7,1353 610,1353 612.3,1354.9 614.6,1354.9 616.9,1357.7 619.2,1357.7 621.5,1364.4 623.8,1364.4 626.1,1371 628.4,1371 630.7,1380.2 633,1380.2 635.3,1401.6 637.6,1401.6 639.9,1423 642.2,1423 644.5,1455.7 646.8,1455.7 649.1,1504.1 651.4,1504.1 653.7,1523.5 656,1523.5 658.3,1535.9 660.6,1535.9 662.9,1549.9 665.2,1549.9 667.5,1561.7 669.8,1561.7 672.1,1583.5 674.4,1583.5 676.7,1585.5 679,1585.5 681.3,1591.1 683.6,1591.1 685.9,1598.9 688.2,1598.9 690.5,1604.8 692.8,1604.8 695.1,1611.4 697.4,1611.4 699.7,1620.8 702,1620.8 704.3,1616 706.6,1616 708.9,1614.9 711.2,1614.9 713.5,1614.5 715.8,1614.5 718.1,1613 720.4,1613 722.7,1611.7 725,1611.7 727.3,1607.8 729.6,1607.8 731.9,1602.7 734.2,1602.7 736.5,1596.6 738.8,1596.6 741.1,1590.9 743.4,1590.9 745.7,1592 748,1592 750.3,1584.5 752.6,1584.5 754.9,1573.9 757.2,1573.9 759.5,1567.9 761.8,1567.9 764.1,1562.2 766.4,1562.2 768.7,1555.5 771,1555.5 773.3,1550.7 775.6,1550.7 777.9,1546.2 780.2,1546.2 782.5,1545.4 784.8,1545.4 787.1,1542.2 789.4,1542.2 791.7,1541.5 794,1541.5 796.3,1538.6 798.6,1538.6 800.9,1538.5 803.2,1538.5 805.5,1535.7 807.8,1535.7 810.1,1534 812.4,1534 814.7,1531.7 817,1531.7 819.3,1528.9 821.6,1528.9 823.9,1526.6 826.2,1526.6 828.5,1527.6 830.8,1527.6 830.8,1603.1 828.5,1603.1 826.2,1603.6 823.9,1603.6 821.6,1604.8 819.3,1604.8 817,1605.4 814.7,1605.4 812.4,1609.3 810.1,1609.3 807.8,1614.6 805.5,1614.6 803.2,1620 800.9,1620 798.6,1627 796.3,1627 794,1634.9 791.7,1634.9 789.4,1645.1 787.1,1645.1 784.8,1658.5 782.5,1658.5 780.2,1670.2 777.9,1670.2 775.6,1681.9 773.3,1681.9 771,1687.2 768.7,1687.2 766.4,1695.1 764.1,1695.1 761.8,1706.3 759.5,1706.3 757.2,1719.7 754.9,1719.7 752.6,1732.8 750.3,1732.8 748,1731.4 745.7,1731.4 743.4,1729.8 741.1,1729.8 738.8,1731.7 736.5,1731.7 734.2,1739 731.9,1739 729.6,1740.8 727.3,1740.8 725,1752.7 722.7,1752.7 720.4,1759 718.1,1759 715.8,1764.4 713.5,1764.4 711.2,1762.6 708.9,1762.6 706.6,1760.8 704.3,1760.8 702,1756.2 699.7,1756.2 697.4,1744.4 695.1,1744.4 692.8,1733.8 690.5,1733.8 688.2,1718.5 685.9,1718.5 683.6,1702.1 681.3,1702.1 679,1684.7 676.7,1684.7 674.4,1670.8 672.1,1670.8 669.8,1656.5 667.5,1656.5 665.2,1644.9 662.9,1644.9 660.6,1625.2 658.3,1625.2 656,1595.5 653.7,1595.5 651.4,1534.9 649.1,1534.9 646.8,1476.1 644.5,1476.1 642.2,1446.5 639.9,1446.5 637.6,1445.9 635.3,1445.9 633,1443.2 630.7,1443.2 628.4,1441.9 626.1,1441.9 623.8,1441.3 621.5,1441.3 619.2,1441.2 616.9,1441.2 614.6,1442.5 612.3,1442.5 610,1441.6 607.7,1441.6 605.4,1441.3 603.1,1441.3 600.8,1441.8 598.5,1441.8 596.2,1442.7 593.9,1442.7 591.6,1433.6 589.3,1433.6 587,1442.8 584.7,1442.8 582.4,1441.2 580.1,1441.2 577.8,1442.2 575.5,1442.2 573.2,1443.7 570.9,1443.7 568.6,1444.3 566.3,1444.3 564,1444.3 561.7,1444.3 559.4,1446.5 557.1,1446.5 554.8,1447.2 552.5,1447.2 550.2,1449 547.9,1449 545.6,1452.7 543.3,1452.7 541,1465.6 538.7,1465.6 536.4,1479.8 534.1,1479.8 531.8,1493.1 529.5,1493.1 527.2,1505.9 524.9,1505.9 522.6,1506.4 520.3,1506.4 518,1507.2 515.7,1507.2 513.4,1510.3 511.1,1510.3 508.8,1510.2 506.5,1510.2 504.2,1512.9 501.9,1512.9 499.6,1512.3 497.3,1512.3 495,1514.6 492.7,1514.6 490.4,1516.3 488.1,1516.3 485.8,1516.5 483.5,1516.5 481.2,1517.8 478.9,1517.8 476.6,1520.4 474.3,1520.4 472,1513.7 469.7,1513.7 467.4,1520.2 465.1,1520.2 462.8,1523.7 460.5,1523.7 458.2,1524.9 455.9,1524.9 453.6,1525.9 451.3,1525.9 449,1526.9 446.7,1526.9 444.4,1527.8 442.1,1527.8 439.8,1528.9 437.5,1528.9 435.2,1532 432.9,1532 430.6,1533.5 428.3,1533.5 426,1533 423.7,1533 421.4,1535.6 419.1,1535.6 416.8,1538 414.5,1538 412.2,1535.6 409.9,1535.6 407.6,1540.2 405.3,1540.2 403,1541.5 400.7,1541.5 398.4,1540.5 396.1,1540.5 393.8,1536.5 391.5,1536.5 389.2,1527.5 386.9,1527.5 384.6,1532.6 382.3,1532.6 380,1530.2 377.7,1530.2 375.4,1526.3 373.1,1526.3 370.8,1527.9 368.5,1527.9 366.2,1528.2 363.9,1528.2 361.6,1526.4 359.3,1526.4 357,1526.3 354.7,1526.3 352.4,1527.8 350.1,1527.8 347.8,1528.8 345.5,1528.8 343.2,1529.9 340.9,1529.9 338.6,1531.8 336.3,1531.8 334,1527.7 331.7,1527.7 329.4,1533.7 327.1,1533.7 324.8,1535.7 322.5,1535.7 320.2,1539 317.9,1539 315.6,1541.2 313.3,1541.2 311,1546.7 308.7,1546.7 306.4,1549.3 304.1,1549.3 301.8,1553.1 299.5,1553.1 297.2,1558.4 294.9,1558.4 292.6,1557.7 290.3,1557.7 288,1571 285.7,1571 283.4,1575.4 281.1,1575.4 278.8,1582.9 276.5,1582.9 274.2,1588 271.9,1588 269.6,1591.7 267.3,1591.7 265,1603.1 262.8,1603.1 260.4,1612.4 258.1,1612.4 255.8,1610.1 253.5,1610.1 251.2,1608.7 248.9,1608.7 246.6,1618.6 244.3,1618.6 242,1629.9 239.7,1629.9 237.4,1638.8 235.1,1638.8 232.8,1645.6 230.5,1645.6 228.2,1645.2 225.9,1645.2 223.7,1650.5 221.3,1650.5"/>
<path d="M745.9 1594.4V1581.4M551.4 1383.1V1373.6M426.3 1450.2V1437.3M736 1606.9V1597.7M746.8 1593.3V1578.8M573.7 1373.5V1361.3M437.4 1447.9V1438.3M615.5 1362.3V1348.6M619.8 1367.8V1357M651.9 1522.7V1514.1M285.5 1477.1V1463.4M687.7 1607.3V1593.4M590.2 1364.4V1350.5M236.2 1484V1473.1M448.8 1445.5V1436.6M748.5 1591.2V1577.2M720.4 1620.9V1609.6M375.9 1460.8V1448M613.8 1362.1V1353M590.9 1364.2V1355.1M367.8 1462.6V1449.2M753.8 1584.4V1570.8M661.8 1550.6V1538.1M638.2 1416.9V1404.6M705.9 1625V1610.9M299.4 1475.1V1462.4M228.2 1639.7V1652.1M810.9 1602.1V1615.8M385.5 1525V1539.5M478.1 1510.8V1520M364.2 1519.2V1532.4M481.3 1509.9V1523.7M735.7 1726.4V1736.5M228.8 1639.4V1651.5M714.5 1756.2V1769.6M462.3 1515.2V1526.9M503.6 1503.6V1513.7M752.1 1722.3V1734.7M253.4 1601.4V1614.6M373.4 1519.2V1531M297 1549.2V1563.7M430.3 1524.2V1538.6M448.8 1519V1528.4M375 1519.2V1531M564.1 1436.8V1449.6M406.3 1532.1V1542.2M698.4 1742V1755.4M620.1 1434V1448M548.4 1440.5V1453.8M462.4 1515.2V1525.9M283.2 1567.1V1577.3M393.9 1529.9V1539.5" stroke="#D95319" stroke-width="2.6" fill="none"/>
<path d="M741.9 1581.4a4 4 0 1 0 8 0a4 4 0 1 0 -8 0M547.4 1373.6a4 4 0 1 0 8 0a4 4 0 1 0 -8 0M422.3 1437.3a4 4 0 1 0 8 0a4 4 0 1 0 -8 0M732 1597.7a4 4 0 1 0 8 0a4 4 0 1 0 -8 0M742.8 1578.8a4 4 0 1 0 8 0a4 4 0 1 0 -8 0M569.7 1361.3a4 4 0 1 0 8 0a4 4 0 1 0 -8 0M433.4 1438.3a4 4 0 1 0 8 0a4 4 0 1 0 -8 0M611.5 1348.6a4 4 0 1 0 8 0a4 4 0 1 0 -8 0M615.8 1357a4 4 0 1 0 8 0a4 4 0 1 0 -8 0M647.9 1514.1a4 4 0 1 0 8 0a4 4 0 1 0 -8 0M281.5 1463.4a4 4 0 1 0 8 0a4 4 0 1 0 -8 0M683.7 1593.4a4 4 0 1 0 8 0a4 4 0 1 0 -8 0M586.2 1350.5a4 4 0 1 0 8 0a4 4 0 1 0 -8 0M232.2 1473.1a4 4 0 1 0 8 0a4 4 0 1 0 -8 0M444.8 1436.6a4 4 0 1 0 8 0a4 4 0 1 0 -8 0M744.5 1577.2a4 4 0 1 0 8 0a4 4 0 1 0 -8 0M716.4 1609.6a4 4 0 1 0 8 0a4 4 0 1 0 -8 0M371.9 1448a4 4 0 1 0 8 0a4 4 0 1 0 -8 0M609.8 1353a4 4 0 1 0 8 0a4 4 0 1 0 -8 0M586.9 1355.1a4 4 0 1 0 8 0a4 4 0 1 0 -8 0M363.8 1449.2a4 4 0 1 0 8 0a4 4 0 1 0 -8 0M749.8 1570.8a4 4 0 1 0 8 0a4 4 0 1 0 -8 0M657.8 1538.1a4 4 0 1 0 8 0a4 4 0 1 0 -8 0M634.2 1404.6a4 4 0 1 0 8 0a4 4 0 1 0 -8 0M701.9 1610.9a4 4 0 1 0 8 0a4 4 0 1 0 -8 0M295.4 1462.4a4 4 0 1 0 8 0a4 4 0 1 0 -8 0M224.2 1652.1a4 4 0 1 0 8 0a4 4 0 1 0 -8 0M806.9 1615.8a4 4 0 1 0 8 0a4 4 0 1 0 -8 0M381.5 1539.5a4 4 0 1 0 8 0a4 4 0 1 0 -8 0M474.1 1520a4 4 0 1 0 8 0a4 4 0 1 0 -8 0M360.2 1532.4a4 4 0 1 0 8 0a4 4 0 1 0 -8 0M477.3 1523.7a4 4 0 1 0 8 0a4 4 0 1 0 -8 0M731.7 1736.5a4 4 0 1 0 8 0a4 4 0 1 0 -8 0M224.8 1651.5a4 4 0 1 0 8 0a4 4 0 1 0 -8 0M710.5 1769.6a4 4 0 1 0 8 0a4 4 0 1 0 -8 0M458.3 1526.9a4 4 0 1 0 8 0a4 4 0 1 0 -8 0M499.6 1513.7a4 4 0 1 0 8 0a4 4 0 1 0 -8 0M748.1 1734.7a4 4 0 1 0 8 0a4 4 0 1 0 -8 0M249.4 1614.6a4 4 0 1 0 8 0a4 4 0 1 0 -8 0M369.4 1531a4 4 0 1 0 8 0a4 4 0 1 0 -8 0M293 1563.7a4 4 0 1 0 8 0a4 4 0 1 0 -8 0M426.3 1538.6a4 4 0 1 0 8 0a4 4 0 1 0 -8 0M444.8 1528.4a4 4 0 1 0 8 0a4 4 0 1 0 -8 0M371 1531a4 4 0 1 0 8 0a4 4 0 1 0 -8 0M560.1 1449.6a4 4 0 1 0 8 0a4 4 0 1 0 -8 0M402.3 1542.2a4 4 0 1 0 8 0a4 4 0 1 0 -8 0M694.4 1755.4a4 4 0 1 0 8 0a4 4 0 1 0 -8 0M616.1 1448a4 4 0 1 0 8 0a4 4 0 1 0 -8 0M544.4 1453.8a4 4 0 1 0 8 0a4 4 0 1 0 -8 0M458.4 1525.9a4 4 0 1 0 8 0a4 4 0 1 0 -8 0M279.2 1577.3a4 4 0 1 0 8 0a4 4 0 1 0 -8 0M389.9 1539.5a4 4 0 1 0 8 0a4 4 0 1 0 -8 0" fill="#D95319"/>
<polygon fill="#0072BD" points="221.3,1372.4 223.7,1372.4 225.9,1369.7 228.2,1369.7 230.5,1365.5 232.8,1365.5 235.1,1362.6 237.4,1362.6 239.7,1359.5 242,1359.5 244.3,1358.1 246.6,1358.1 248.9,1353.9 251.2,1353.9 253.5,1361.1 255.8,1361.1 258.1,1359.1 260.4,1359.1 262.8,1356.4 265,1356.4 267.3,1354.6 269.6,1354.6 271.9,1355 274.2,1355 276.5,1357.2 278.8,1357.2 281.1,1356.9 283.4,1356.9 285.7,1354 288,1354 290.3,1356 292.6,1356 294.9,1353.7 297.2,1353.7 299.5,1351.4 301.8,1351.4 304.1,1349.3 306.4,1349.3 308.7,1344.6 311,1344.6 313.3,1340.3 315.6,1340.3 317.9,1333.9 320.2,1333.9 322.5,1331.2 324.8,1331.2 327.1,1327.5 329.4,1327.5 331.7,1322.6 334,1322.6 336.3,1320.5 338.6,1320.5 340.9,1316 343.2,1316 345.5,1315.4 347.8,1315.4 350.1,1309.5 352.4,1309.5 354.7,1313.1 357,1313.1 359.3,1316.1 361.6,1316.1 363.9,1318.5 366.2,1318.5 368.5,1319.6 370.8,1319.6 373.1,1321.1 375.4,1321.1 377.7,1322.6 380,1322.6 382.3,1322.2 384.6,1322.2 386.9,1322.2 389.2,1322.2 391.5,1324.7 393.8,1324.7 396.1,1323.7 398.4,1323.7 400.7,1326.7 403,1326.7 405.3,1327.4 407.6,1327.4 409.9,1324.9 412.2,1324.9 414.5,1334.2 416.8,1334.2 419.1,1328.1 421.4,1328.1 423.7,1336.3 426,1336.3 428.3,1331 430.6,1331 432.9,1332.3 435.2,1332.3 437.5,1333.1 439.8,1333.1 442.1,1340.6 444.4,1340.6 446.7,1334.8 449,1334.8 451.3,1336.5 453.6,1336.5 455.9,1335.7 458.2,1335.7 460.5,1337.8 462.8,1337.8 465.1,1341.4 467.4,1341.4 469.7,1346.9 472,1346.9 474.3,1348.9 476.6,1348.9 478.9,1353.4 481.2,1353.4 483.5,1359.1 485.8,1359.1 488.1,1359.3 490.4,1359.3 492.7,1362.5 495,1362.5 497.3,1363.4 499.6,1363.4 501.9,1367.7 504.2,1367.7 506.5,1362.9 508.8,1362.9 511.1,1362.7 513.4,1362.7 515.7,1364.9 518,1364.9 520.3,1364.1 522.6,1364.1 524.9,1366.8 527.2,1366.8 529.5,1369 531.8,1369 534.1,1369.4 536.4,1369.4 538.7,1376.1 541,1376.1 543.3,1382.3 545.6,1382.3 547.9,1388.4 550.2,1388.4 552.5,1418.3 554.8,1418.3 557.1,1429.5 559.4,1429.5 561.7,1433.1 564,1433.1 566.3,1432.2 568.6,1432.2 570.9,1433.2 573.2,1433.2 575.5,1433.7 577.8,1433.7 580.1,1434.3 582.4,1434.3 584.7,1436.5 587,1436.5 589.3,1434.5 591.6,1434.5 593.9,1446.9 596.2,1446.9 598.5,1436.8 600.8,1436.8 603.1,1438.3 605.4,1438.3 607.7,1437.8 610,1437.8 612.3,1437.4 614.6,1437.4 616.9,1438 619.2,1438 621.5,1439.1 623.8,1439.1 626.1,1436.1 628.4,1436.1 630.7,1435.6 633,1435.6 635.3,1436.1 637.6,1436.1 639.9,1435 642.2,1435 644.5,1438.8 646.8,1438.8 649.1,1441 651.4,1441 653.7,1446.3 656,1446.3 658.3,1449.9 660.6,1449.9 662.9,1458.1 665.2,1458.1 667.5,1458.6 669.8,1458.6 672.1,1461 674.4,1461 676.7,1463.2 679,1463.2 681.3,1462.9 683.6,1462.9 685.9,1460.4 688.2,1460.4 690.5,1459.7 692.8,1459.7 695.1,1461 697.4,1461 699.7,1459.3 702,1459.3 704.3,1455.3 706.6,1455.3 708.9,1451.1 711.2,1451.1 713.5,1447.6 715.8,1447.6 718.1,1440.5 720.4,1440.5 722.7,1438.5 725,1438.5 727.3,1434.7 729.6,1434.7 731.9,1441.4 734.2,1441.4 736.5,1432.5 738.8,1432.5 741.1,1433.1 743.4,1433.1 745.7,1428.7 748,1428.7 750.3,1430 752.6,1430 754.9,1428.7 757.2,1428.7 759.5,1425.5 761.8,1425.5 764.1,1424.4 766.4,1424.4 768.7,1425.2 771,1425.2 773.3,1421.1 775.6,1421.1 777.9,1422.6 780.2,1422.6 782.5,1420.5 784.8,1420.5 787.1,1417 789.4,1417 791.7,1419.3 794,1419.3 796.3,1412.7 798.6,1412.7 800.9,1414.8 803.2,1414.8 805.5,1411.5 807.8,1411.5 810.1,1408.4 812.4,1408.4 814.7,1407.2 817,1407.2 819.3,1404.1 821.6,1404.1 823.9,1400.5 826.2,1400.5 828.5,1407.4 830.8,1407.4 830.8,1561.8 828.5,1561.8 826.2,1559.9 823.9,1559.9 821.6,1565.6 819.3,1565.6 817,1568.6 814.7,1568.6 812.4,1568.8 810.1,1568.8 807.8,1570.6 805.5,1570.6 803.2,1572.5 800.9,1572.5 798.6,1575.6 796.3,1575.6 794,1577.4 791.7,1577.4 789.4,1579.8 787.1,1579.8 784.8,1578.5 782.5,1578.5 780.2,1581.9 777.9,1581.9 775.6,1575.1 773.3,1575.1 771,1583.4 768.7,1583.4 766.4,1581.6 764.1,1581.6 761.8,1583.6 759.5,1583.6 757.2,1589.4 754.9,1589.4 752.6,1593.6 750.3,1593.6 748,1598.3 745.7,1598.3 743.4,1599.7 741.1,1599.7 738.8,1606 736.5,1606 734.2,1607.5 731.9,1607.5 729.6,1611 727.3,1611 725,1612 722.7,1612 720.4,1616.9 718.1,1616.9 715.8,1619.5 713.5,1619.5 711.2,1619.9 708.9,1619.9 706.6,1620 704.3,1620 702,1618.9 699.7,1618.9 697.4,1618.5 695.1,1618.5 692.8,1613.8 690.5,1613.8 688.2,1619.4 685.9,1619.4 683.6,1620.1 681.3,1620.1 679,1622.1 676.7,1622.1 674.4,1622.9 672.1,1622.9 669.8,1623.4 667.5,1623.4 665.2,1617 662.9,1617 660.6,1628.6 658.3,1628.6 656,1630.5 653.7,1630.5 651.4,1631.4 649.1,1631.4 646.8,1633.4 644.5,1633.4 642.2,1636.3 639.9,1636.3 637.6,1634.5 635.3,1634.5 633,1632.9 630.7,1632.9 628.4,1629.6 626.1,1629.6 623.8,1623.4 621.5,1623.4 619.2,1620.3 616.9,1620.3 614.6,1617.4 612.3,1617.4 610,1615.8 607.7,1615.8 605.4,1612 603.1,1612 600.8,1605.4 598.5,1605.4 596.2,1609.1 593.9,1609.1 591.6,1607.1 589.3,1607.1 587,1602.4 584.7,1602.4 582.4,1598.2 580.1,1598.2 577.8,1593.5 575.5,1593.5 573.2,1590.6 570.9,1590.6 568.6,1587.8 566.3,1587.8 564,1582.9 561.7,1582.9 559.4,1574.8 557.1,1574.8 554.8,1571.4 552.5,1571.4 550.2,1563.7 547.9,1563.7 545.6,1559.3 543.3,1559.3 541,1551.5 538.7,1551.5 536.4,1550.9 534.1,1550.9 531.8,1548.6 529.5,1548.6 527.2,1549.5 524.9,1549.5 522.6,1549 520.3,1549 518,1548.3 515.7,1548.3 513.4,1547.3 511.1,1547.3 508.8,1543.4 506.5,1543.4 504.2,1545.4 501.9,1545.4 499.6,1544.5 497.3,1544.5 495,1544.4 492.7,1544.4 490.4,1541.7 488.1,1541.7 485.8,1540.9 483.5,1540.9 481.2,1543.1 478.9,1543.1 476.6,1540.4 474.3,1540.4 472,1539.2 469.7,1539.2 467.4,1541.6 465.1,1541.6 462.8,1540.2 460.5,1540.2 458.2,1539.3 455.9,1539.3 453.6,1541.8 451.3,1541.8 449,1541.3 446.7,1541.3 444.4,1541.2 442.1,1541.2 439.8,1536.6 437.5,1536.6 435.2,1541.1 432.9,1541.1 430.6,1537.9 428.3,1537.9 426,1535.4 423.7,1535.4 421.4,1532.4 419.1,1532.4 416.8,1529.3 414.5,1529.3 412.2,1526.1 409.9,1526.1 407.6,1526.4 405.3,1526.4 403,1524.3 400.7,1524.3 398.4,1521.2 396.1,1521.2 393.8,1519.8 391.5,1519.8 389.2,1515.9 386.9,1515.9 384.6,1514.6 382.3,1514.6 380,1510.3 377.7,1510.3 375.4,1512.4 373.1,1512.4 370.8,1512.6 368.5,1512.6 366.2,1514.8 363.9,1514.8 361.6,1519.7 359.3,1519.7 357,1521 354.7,1521 352.4,1524 350.1,1524 347.8,1523.4 345.5,1523.4 343.2,1513.2 340.9,1513.2 338.6,1516.1 336.3,1516.1 334,1514.5 331.7,1514.5 329.4,1513.2 327.1,1513.2 324.8,1511 322.5,1511 320.2,1508 317.9,1508 315.6,1503.1 313.3,1503.1 311,1502.2 308.7,1502.2 306.4,1499.8 304.1,1499.8 301.8,1497 299.5,1497 297.2,1497.2 294.9,1497.2 292.6,1496.1 290.3,1496.1 288,1494.6 285.7,1494.6 283.4,1492.2 281.1,1492.2 278.8,1497.4 276.5,1497.4 274.2,1498.6 271.9,1498.6 269.6,1498.8 267.3,1498.8 265,1497.5 262.8,1497.5 260.4,1502.5 258.1,1502.5 255.8,1506.8 253.5,1506.8 251.2,1508.6 248.9,1508.6 246.6,1506.5 244.3,1506.5 242,1504.2 239.7,1504.2 237.4,1506 235.1,1506 232.8,1504.2 230.5,1504.2 228.2,1504.2 225.9,1504.2 223.7,1504.4 221.3,1504.4"/>
<path d="M240.5 1365V1329.5M338.2 1324.3V1285.9M355.7 1317.6V1290.8M375.7 1326V1307.7M405.8 1330.2V1311.9M445.8 1338.7V1295.1M796.4 1418.8V1394.3M235.5 1500.2V1537.9M338.2 1513.1V1552.7M488.4 1538.6V1559.7M593.6 1602.7V1635.7M613.6 1613.9V1660.4M646.1 1628.8V1649.8M813.9 1416.1V1401.6M535.9 1379.6V1363.8M789.1 1425.9V1416.9M376.7 1330.4V1317.3M499.9 1371.3V1354.3M622.3 1446.4V1433.6M650.6 1451.6V1438.8M478.4 1361V1349.1M321.6 1341.2V1323.5M778.3 1430.1V1416.8M249.7 1362.6V1352.5M646 1448.4V1433.9M756.8 1436.4V1418.8M470.7 1354.2V1340.1M634.1 1445.6V1430.7M357.1 1322.4V1305.4M365.4 1325.9V1316.2M705.4 1463.1V1445.3M573.5 1442.4V1431.3M466.2 1350.3V1337.9M323 1339.9V1323.3M779.6 1429.6V1417.4M617.8 1446.4V1431.2M586.4 1444.3V1429.1M666.8 1465.7V1449.8M272.3 1365V1347.3M344.1 1324.3V1313.3M688.7 1470.3V1455.6M682.2 1472.2V1458.6M586.9 1444.4V1430.2M345.7 1323.2V1310.9M308 1354.7V1336.5M603.1 1446.4V1429.6M460.3 1347V1337.7M702 1466.1V1455.8M482 1364.1V1353.7M439.1 1341V1324.3M658.5 1458.5V1446.7M694.5 1468.7V1453.2M689.3 1470.1V1458.5M812.5 1416.7V1399.5M376.6 1330.4V1320.1M501.8 1371.5V1354.1M626.4 1446.4V1429.2M782.8 1428.4V1414.2M699.3 1467.3V1454.2M707 1461.7V1445.6M767.3 1433.4V1419.2M381.6 1331.1V1314.4M574.5 1442.6V1425.1M231.7 1375.7V1357.6M800.3 1421.5V1409.9M314.3 1348.5V1332.7M498.4 1535.8V1547.9M509.8 1537.4V1553.8M342 1511.1V1529M721.8 1605.2V1619.6M377 1501.9V1518.3M606.1 1605.5V1621.3M639.5 1627.6V1646M786 1570.7V1581.4M485.5 1534V1547.4M508.2 1537.2V1553.8M597.8 1600.8V1614.2M681.9 1611.6V1628M665.4 1616.3V1628.9M573.8 1582.8V1591.6M256.3 1495.9V1510.2M237.8 1496.3V1506.9M418.1 1522.4V1533.4M516 1538.3V1553.7M541 1544.7V1554.5M484.4 1533.8V1547.9M767.3 1573.3V1585.9M337.1 1508.2V1526.3M346.1 1513.4V1523.1M273.4 1488.2V1503.9M249.3 1498.3V1511.2M738.9 1595.5V1613.3M245.4 1497.6V1515.5M790.5 1569.6V1586.5M797.1 1566.8V1582.8M377.5 1502.1V1519.7M235.3 1495.9V1506.5M270.2 1489.6V1502.9M809.7 1561.5V1573.8M663.4 1616.9V1635.3M822.8 1554.2V1570.8M814.6 1559.3V1571.2M779 1571.7V1586.5M542.9 1547.2V1562.5M459.2 1531.5V1542.8M328.1 1503.1V1515.1M645.7 1624.8V1638.1M449 1532.9V1548.9M609.2 1607.2V1625M424 1525.9V1541.8M519.7 1538.8V1555.5M347.1 1514V1526.3M720.6 1605.9V1615M702.9 1609.7V1627.5M713.3 1609.7V1623.1M490.5 1534.7V1544.8M770.3 1572.9V1582M397.9 1512.1V1530.5M661.7 1617.6V1633.9" stroke="#0072BD" stroke-width="2.6" fill="none"/>
<path d="M236.5 1329.5a4 4 0 1 0 8 0a4 4 0 1 0 -8 0M334.2 1285.9a4 4 0 1 0 8 0a4 4 0 1 0 -8 0M351.7 1290.8a4 4 0 1 0 8 0a4 4 0 1 0 -8 0M371.7 1307.7a4 4 0 1 0 8 0a4 4 0 1 0 -8 0M401.8 1311.9a4 4 0 1 0 8 0a4 4 0 1 0 -8 0M441.8 1295.1a4 4 0 1 0 8 0a4 4 0 1 0 -8 0M792.4 1394.3a4 4 0 1 0 8 0a4 4 0 1 0 -8 0M231.5 1537.9a4 4 0 1 0 8 0a4 4 0 1 0 -8 0M334.2 1552.7a4 4 0 1 0 8 0a4 4 0 1 0 -8 0M484.4 1559.7a4 4 0 1 0 8 0a4 4 0 1 0 -8 0M589.6 1635.7a4 4 0 1 0 8 0a4 4 0 1 0 -8 0M609.6 1660.4a4 4 0 1 0 8 0a4 4 0 1 0 -8 0M642.1 1649.8a4 4 0 1 0 8 0a4 4 0 1 0 -8 0M809.9 1401.6a4 4 0 1 0 8 0a4 4 0 1 0 -8 0M531.9 1363.8a4 4 0 1 0 8 0a4 4 0 1 0 -8 0M785.1 1416.9a4 4 0 1 0 8 0a4 4 0 1 0 -8 0M372.7 1317.3a4 4 0 1 0 8 0a4 4 0 1 0 -8 0M495.9 1354.3a4 4 0 1 0 8 0a4 4 0 1 0 -8 0M618.3 1433.6a4 4 0 1 0 8 0a4 4 0 1 0 -8 0M646.6 1438.8a4 4 0 1 0 8 0a4 4 0 1 0 -8 0M474.4 1349.1a4 4 0 1 0 8 0a4 4 0 1 0 -8 0M317.6 1323.5a4 4 0 1 0 8 0a4 4 0 1 0 -8 0M774.3 1416.8a4 4 0 1 0 8 0a4 4 0 1 0 -8 0M245.7 1352.5a4 4 0 1 0 8 0a4 4 0 1 0 -8 0M642 1433.9a4 4 0 1 0 8 0a4 4 0 1 0 -8 0M752.8 1418.8a4 4 0 1 0 8 0a4 4 0 1 0 -8 0M466.7 1340.1a4 4 0 1 0 8 0a4 4 0 1 0 -8 0M630.1 1430.7a4 4 0 1 0 8 0a4 4 0 1 0 -8 0M353.1 1305.4a4 4 0 1 0 8 0a4 4 0 1 0 -8 0M361.4 1316.2a4 4 0 1 0 8 0a4 4 0 1 0 -8 0M701.4 1445.3a4 4 0 1 0 8 0a4 4 0 1 0 -8 0M569.5 1431.3a4 4 0 1 0 8 0a4 4 0 1 0 -8 0M462.2 1337.9a4 4 0 1 0 8 0a4 4 0 1 0 -8 0M319 1323.3a4 4 0 1 0 8 0a4 4 0 1 0 -8 0M775.6 1417.4a4 4 0 1 0 8 0a4 4 0 1 0 -8 0M613.8 1431.2a4 4 0 1 0 8 0a4 4 0 1 0 -8 0M582.4 1429.1a4 4 0 1 0 8 0a4 4 0 1 0 -8 0M662.8 1449.8a4 4 0 1 0 8 0a4 4 0 1 0 -8 0M268.3 1347.3a4 4 0 1 0 8 0a4 4 0 1 0 -8 0M340.1 1313.3a4 4 0 1 0 8 0a4 4 0 1 0 -8 0M684.7 1455.6a4 4 0 1 0 8 0a4 4 0 1 0 -8 0M678.2 1458.6a4 4 0 1 0 8 0a4 4 0 1 0 -8 0M582.9 1430.2a4 4 0 1 0 8 0a4 4 0 1 0 -8 0M341.7 1310.9a4 4 0 1 0 8 0a4 4 0 1 0 -8 0M304 1336.5a4 4 0 1 0 8 0a4 4 0 1 0 -8 0M599.1 1429.6a4 4 0 1 0 8 0a4 4 0 1 0 -8 0M456.3 1337.7a4 4 0 1 0 8 0a4 4 0 1 0 -8 0M698 1455.8a4 4 0 1 0 8 0a4 4 0 1 0 -8 0M478 1353.7a4 4 0 1 0 8 0a4 4 0 1 0 -8 0M435.1 1324.3a4 4 0 1 0 8 0a4 4 0 1 0 -8 0M654.5 1446.7a4 4 0 1 0 8 0a4 4 0 1 0 -8 0M690.5 1453.2a4 4 0 1 0 8 0a4 4 0 1 0 -8 0M685.3 1458.5a4 4 0 1 0 8 0a4 4 0 1 0 -8 0M808.5 1399.5a4 4 0 1 0 8 0a4 4 0 1 0 -8 0M372.6 1320.1a4 4 0 1 0 8 0a4 4 0 1 0 -8 0M497.8 1354.1a4 4 0 1 0 8 0a4 4 0 1 0 -8 0M622.4 1429.2a4 4 0 1 0 8 0a4 4 0 1 0 -8 0M778.8 1414.2a4 4 0 1 0 8 0a4 4 0 1 0 -8 0M695.3 1454.2a4 4 0 1 0 8 0a4 4 0 1 0 -8 0M703 1445.6a4 4 0 1 0 8 0a4 4 0 1 0 -8 0M763.3 1419.2a4 4 0 1 0 8 0a4 4 0 1 0 -8 0M377.6 1314.4a4 4 0 1 0 8 0a4 4 0 1 0 -8 0M570.5 1425.1a4 4 0 1 0 8 0a4 4 0 1 0 -8 0M227.7 1357.6a4 4 0 1 0 8 0a4 4 0 1 0 -8 0M796.3 1409.9a4 4 0 1 0 8 0a4 4 0 1 0 -8 0M310.3 1332.7a4 4 0 1 0 8 0a4 4 0 1 0 -8 0M494.4 1547.9a4 4 0 1 0 8 0a4 4 0 1 0 -8 0M505.8 1553.8a4 4 0 1 0 8 0a4 4 0 1 0 -8 0M338 1529a4 4 0 1 0 8 0a4 4 0 1 0 -8 0M717.8 1619.6a4 4 0 1 0 8 0a4 4 0 1 0 -8 0M373 1518.3a4 4 0 1 0 8 0a4 4 0 1 0 -8 0M602.1 1621.3a4 4 0 1 0 8 0a4 4 0 1 0 -8 0M635.5 1646a4 4 0 1 0 8 0a4 4 0 1 0 -8 0M782 1581.4a4 4 0 1 0 8 0a4 4 0 1 0 -8 0M481.5 1547.4a4 4 0 1 0 8 0a4 4 0 1 0 -8 0M504.2 1553.8a4 4 0 1 0 8 0a4 4 0 1 0 -8 0M593.8 1614.2a4 4 0 1 0 8 0a4 4 0 1 0 -8 0M677.9 1628a4 4 0 1 0 8 0a4 4 0 1 0 -8 0M661.4 1628.9a4 4 0 1 0 8 0a4 4 0 1 0 -8 0M569.8 1591.6a4 4 0 1 0 8 0a4 4 0 1 0 -8 0M252.3 1510.2a4 4 0 1 0 8 0a4 4 0 1 0 -8 0M233.8 1506.9a4 4 0 1 0 8 0a4 4 0 1 0 -8 0M414.1 1533.4a4 4 0 1 0 8 0a4 4 0 1 0 -8 0M512 1553.7a4 4 0 1 0 8 0a4 4 0 1 0 -8 0M537 1554.5a4 4 0 1 0 8 0a4 4 0 1 0 -8 0M480.4 1547.9a4 4 0 1 0 8 0a4 4 0 1 0 -8 0M763.3 1585.9a4 4 0 1 0 8 0a4 4 0 1 0 -8 0M333.1 1526.3a4 4 0 1 0 8 0a4 4 0 1 0 -8 0M342.1 1523.1a4 4 0 1 0 8 0a4 4 0 1 0 -8 0M269.4 1503.9a4 4 0 1 0 8 0a4 4 0 1 0 -8 0M245.3 1511.2a4 4 0 1 0 8 0a4 4 0 1 0 -8 0M734.9 1613.3a4 4 0 1 0 8 0a4 4 0 1 0 -8 0M241.4 1515.5a4 4 0 1 0 8 0a4 4 0 1 0 -8 0M786.5 1586.5a4 4 0 1 0 8 0a4 4 0 1 0 -8 0M793.1 1582.8a4 4 0 1 0 8 0a4 4 0 1 0 -8 0M373.5 1519.7a4 4 0 1 0 8 0a4 4 0 1 0 -8 0M231.3 1506.5a4 4 0 1 0 8 0a4 4 0 1 0 -8 0M266.2 1502.9a4 4 0 1 0 8 0a4 4 0 1 0 -8 0M805.7 1573.8a4 4 0 1 0 8 0a4 4 0 1 0 -8 0M659.4 1635.3a4 4 0 1 0 8 0a4 4 0 1 0 -8 0M818.8 1570.8a4 4 0 1 0 8 0a4 4 0 1 0 -8 0M810.6 1571.2a4 4 0 1 0 8 0a4 4 0 1 0 -8 0M775 1586.5a4 4 0 1 0 8 0a4 4 0 1 0 -8 0M538.9 1562.5a4 4 0 1 0 8 0a4 4 0 1 0 -8 0M455.2 1542.8a4 4 0 1 0 8 0a4 4 0 1 0 -8 0M324.1 1515.1a4 4 0 1 0 8 0a4 4 0 1 0 -8 0M641.7 1638.1a4 4 0 1 0 8 0a4 4 0 1 0 -8 0M445 1548.9a4 4 0 1 0 8 0a4 4 0 1 0 -8 0M605.2 1625a4 4 0 1 0 8 0a4 4 0 1 0 -8 0M420 1541.8a4 4 0 1 0 8 0a4 4 0 1 0 -8 0M515.7 1555.5a4 4 0 1 0 8 0a4 4 0 1 0 -8 0M343.1 1526.3a4 4 0 1 0 8 0a4 4 0 1 0 -8 0M716.6 1615a4 4 0 1 0 8 0a4 4 0 1 0 -8 0M698.9 1627.5a4 4 0 1 0 8 0a4 4 0 1 0 -8 0M709.3 1623.1a4 4 0 1 0 8 0a4 4 0 1 0 -8 0M486.5 1544.8a4 4 0 1 0 8 0a4 4 0 1 0 -8 0M766.3 1582a4 4 0 1 0 8 0a4 4 0 1 0 -8 0M393.9 1530.5a4 4 0 1 0 8 0a4 4 0 1 0 -8 0M657.7 1633.9a4 4 0 1 0 8 0a4 4 0 1 0 -8 0" fill="#0072BD"/>
</g>
<path d="M225.5 1861v-11.5M225.5 1016.3v11.5M325.6 1861v-11.5M325.6 1016.3v11.5M425.8 1861v-11.5M425.8 1016.3v11.5M526 1861v-11.5M526 1016.3v11.5M626.1 1861v-11.5M626.1 1016.3v11.5M726.2 1861v-11.5M726.2 1016.3v11.5M826.4 1861v-11.5M826.4 1016.3v11.5M225.5 1861h11.5M826.4 1861h-11.5M225.5 1720.2h11.5M826.4 1720.2h-11.5M225.5 1579.4h11.5M826.4 1579.4h-11.5M225.5 1438.7h11.5M826.4 1438.7h-11.5M225.5 1297.9h11.5M826.4 1297.9h-11.5M225.5 1157.1h11.5M826.4 1157.1h-11.5M225.5 1016.3h11.5M826.4 1016.3h-11.5" stroke="#262626" stroke-width="3" fill="none"/>
<rect x="225.5" y="1016.3" width="600.9" height="844.7" fill="none" stroke="#222" stroke-width="4.3"/>
<g font-size="59" fill="#383838"><text x="235" y="1937.5" text-anchor="middle">0</text><text x="328.6" y="1937.5" text-anchor="middle">04</text><text x="427.8" y="1937.5" text-anchor="middle">08</text><text x="529.5" y="1937.5" text-anchor="middle">12</text><text x="627.6" y="1937.5" text-anchor="middle">16</text><text x="727.8" y="1937.5" text-anchor="middle">20</text><text x="824.2" y="1937.5" text-anchor="middle">24</text><text x="205" y="1884.5" text-anchor="end">−6</text><text x="205" y="1743.7" text-anchor="end">−4</text><text x="205" y="1602.9" text-anchor="end">−2</text><text x="201.5" y="1462.2" text-anchor="end">0</text><text x="201.5" y="1321.4" text-anchor="end">2</text><text x="201.5" y="1180.6" text-anchor="end">4</text><text x="201.5" y="1039.8" text-anchor="end">6</text></g>
<text x="238.2" y="1084.2" font-size="61" fill="#111" textLength="77.3" lengthAdjust="spacingAndGlyphs">(d)</text>
<text x="331.7" y="1084.2" font-size="61" fill="#111" textLength="165.5" lengthAdjust="spacingAndGlyphs">POVE</text>
<clipPath id="ce"><rect x="986.1" y="1016.3" width="586.5" height="844.7"/></clipPath>
<path d="M1083.8 1016.3V1861M1181.6 1016.3V1861M1279.3 1016.3V1861M1377.1 1016.3V1861M1474.8 1016.3V1861" stroke="#262626" stroke-opacity="0.145" stroke-width="3.6" fill="none"/>
<path d="M986.1 1720.2H1572.6M986.1 1579.4H1572.6M986.1 1438.7H1572.6M986.1 1297.9H1572.6M986.1 1157.1H1572.6" stroke="#262626" stroke-opacity="0.145" stroke-width="3.6" fill="none"/>
<g clip-path="url(#ce)">
<polygon fill="#D95319" points="982,1379.7 984.2,1379.7 986.6,1379.9 988.9,1379.9 991.2,1380.1 993.5,1380.1 995.8,1382.2 998.1,1382.2 1000.4,1386.2 1002.7,1386.2 1005,1390.8 1007.3,1390.8 1009.6,1393.2 1011.9,1393.2 1014.2,1390.8 1016.5,1390.8 1018.8,1395 1021.1,1395 1023.4,1391.3 1025.7,1391.3 1028,1386.6 1030.3,1386.6 1032.6,1388.2 1034.9,1388.2 1037.2,1389.2 1039.5,1389.2 1041.8,1389.5 1044.1,1389.5 1046.4,1386.4 1048.7,1386.4 1051,1387.7 1053.3,1387.7 1055.6,1387.1 1057.9,1387.1 1060.2,1387.2 1062.5,1387.2 1064.8,1391.6 1067.1,1391.6 1069.4,1392 1071.7,1392 1074,1389.6 1076.3,1389.6 1078.6,1384.5 1080.9,1384.5 1083.2,1383.1 1085.5,1383.1 1087.8,1376.1 1090.1,1376.1 1092.4,1377.3 1094.7,1377.3 1097,1371.2 1099.3,1371.2 1101.6,1366 1103.9,1366 1106.2,1363.8 1108.5,1363.8 1110.8,1366.4 1113.1,1366.4 1115.4,1369.6 1117.7,1369.6 1120,1372.5 1122.3,1372.5 1124.6,1374.6 1126.9,1374.6 1129.2,1375.2 1131.5,1375.2 1133.8,1377.5 1136.1,1377.5 1138.4,1382.2 1140.7,1382.2 1143,1383.8 1145.3,1383.8 1147.6,1387 1149.9,1387 1152.2,1394.2 1154.5,1394.2 1156.8,1388.8 1159.1,1388.8 1161.4,1380.7 1163.7,1380.7 1166,1374 1168.3,1374 1170.6,1367 1172.9,1367 1175.2,1360.2 1177.5,1360.2 1179.8,1366.7 1182.1,1366.7 1184.4,1352.2 1186.7,1352.2 1189,1355.7 1191.3,1355.7 1193.6,1351.8 1195.9,1351.8 1198.2,1359.8 1200.5,1359.8 1202.8,1357.3 1205.1,1357.3 1207.4,1357.7 1209.7,1357.7 1212,1361.9 1214.3,1361.9 1216.6,1365.4 1218.9,1365.4 1221.2,1367.7 1223.5,1367.7 1225.8,1371 1228.1,1371 1230.4,1369.7 1232.7,1369.7 1235,1372 1237.3,1372 1239.6,1371 1241.9,1371 1244.2,1368 1246.5,1368 1248.8,1371.2 1251.1,1371.2 1253.4,1372.8 1255.7,1372.8 1258,1367.9 1260.3,1367.9 1262.6,1372.9 1264.9,1372.9 1267.2,1365.3 1269.5,1365.3 1271.8,1371.4 1274.1,1371.4 1276.4,1365.8 1278.7,1365.8 1281,1361.9 1283.3,1361.9 1285.6,1362.6 1287.9,1362.6 1290.2,1364.7 1292.5,1364.7 1294.8,1365.2 1297.1,1365.2 1299.4,1365.7 1301.7,1365.7 1304,1365.2 1306.3,1365.2 1308.6,1367 1310.9,1367 1313.2,1366.8 1315.5,1366.8 1317.8,1368.7 1320.1,1368.7 1322.4,1371.3 1324.7,1371.3 1327,1380.4 1329.3,1380.4 1331.6,1376.3 1333.9,1376.3 1336.2,1377.8 1338.5,1377.8 1340.8,1379.7 1343.1,1379.7 1345.4,1382.9 1347.7,1382.9 1350,1393.4 1352.3,1393.4 1354.6,1386.2 1356.9,1386.2 1359.2,1389.7 1361.5,1389.7 1363.8,1390.7 1366.1,1390.7 1368.4,1389.8 1370.7,1389.8 1373,1390.2 1375.3,1390.2 1377.6,1391.3 1379.9,1391.3 1382.2,1387.9 1384.5,1387.9 1386.8,1388.6 1389.1,1388.6 1391.4,1385.2 1393.7,1385.2 1396,1387.5 1398.3,1387.5 1400.6,1383.8 1402.9,1383.8 1405.2,1381.7 1407.5,1381.7 1409.8,1381.6 1412.1,1381.6 1414.4,1379.5 1416.7,1379.5 1419,1377.5 1421.3,1377.5 1423.6,1378.4 1425.9,1378.4 1428.2,1384.5 1430.5,1384.5 1432.8,1379.9 1435.1,1379.9 1437.4,1384 1439.7,1384 1442,1384.1 1444.3,1384.1 1446.6,1388.9 1448.9,1388.9 1451.2,1388 1453.5,1388 1455.8,1389.9 1458.1,1389.9 1460.4,1390.8 1462.7,1390.8 1465,1393.6 1467.3,1393.6 1469.6,1392.8 1471.9,1392.8 1474.2,1393.4 1476.5,1393.4 1478.8,1393.5 1481.1,1393.5 1483.4,1403.5 1485.7,1403.5 1488,1401.9 1490.3,1401.9 1492.6,1409.5 1494.9,1409.5 1497.2,1410 1499.5,1410 1501.8,1412.6 1504.1,1412.6 1506.4,1406 1508.7,1406 1511,1402.9 1513.3,1402.9 1515.6,1400.3 1517.9,1400.3 1520.2,1395.8 1522.5,1395.8 1524.8,1391.3 1527.1,1391.3 1529.4,1388 1531.7,1388 1534,1389.2 1536.3,1389.2 1538.6,1387.1 1540.9,1387.1 1543.2,1387.1 1545.5,1387.1 1547.8,1384 1550.1,1384 1552.4,1389.9 1554.7,1389.9 1557,1393.4 1559.3,1393.4 1561.6,1402 1563.9,1402 1566.2,1404 1568.5,1404 1570.8,1406.5 1573.1,1406.5 1575.4,1415 1577.7,1415 1577.7,1515.1 1575.4,1515.1 1573.1,1508.9 1570.8,1508.9 1568.5,1530.4 1566.2,1530.4 1563.9,1538.9 1561.6,1538.9 1559.3,1544 1557,1544 1554.7,1545.4 1552.4,1545.4 1550.1,1532.9 1547.8,1532.9 1545.5,1540.4 1543.2,1540.4 1540.9,1535.8 1538.6,1535.8 1536.3,1532 1534,1532 1531.7,1524.2 1529.4,1524.2 1527.1,1535.9 1524.8,1535.9 1522.5,1532.4 1520.2,1532.4 1517.9,1534.8 1515.6,1534.8 1513.3,1536.9 1511,1536.9 1508.7,1534.1 1506.4,1534.1 1504.1,1536.8 1501.8,1536.8 1499.5,1539.1 1497.2,1539.1 1494.9,1539.8 1492.6,1539.8 1490.3,1537.2 1488,1537.2 1485.7,1540.3 1483.4,1540.3 1481.1,1539.7 1478.8,1539.7 1476.5,1541.3 1474.2,1541.3 1471.9,1542.2 1469.6,1542.2 1467.3,1543.4 1465,1543.4 1462.7,1544.1 1460.4,1544.1 1458.1,1545.3 1455.8,1545.3 1453.5,1544 1451.2,1544 1448.9,1544.9 1446.6,1544.9 1444.3,1544.1 1442,1544.1 1439.7,1545.3 1437.4,1545.3 1435.1,1540.6 1432.8,1540.6 1430.5,1547.8 1428.2,1547.8 1425.9,1551 1423.6,1551 1421.3,1548.1 1419,1548.1 1416.7,1548.5 1414.4,1548.5 1412.1,1543.6 1409.8,1543.6 1407.5,1542.7 1405.2,1542.7 1402.9,1542.7 1400.6,1542.7 1398.3,1540.6 1396,1540.6 1393.7,1540.9 1391.4,1540.9 1389.1,1541.5 1386.8,1541.5 1384.5,1542.2 1382.2,1542.2 1379.9,1542.4 1377.6,1542.4 1375.3,1541.9 1373,1541.9 1370.7,1543 1368.4,1543 1366.1,1539.3 1363.8,1539.3 1361.5,1539.3 1359.2,1539.3 1356.9,1540.2 1354.6,1540.2 1352.3,1541.6 1350,1541.6 1347.7,1536.5 1345.4,1536.5 1343.1,1534.5 1340.8,1534.5 1338.5,1529 1336.2,1529 1333.9,1524.2 1331.6,1524.2 1329.3,1522.3 1327,1522.3 1324.7,1517.5 1322.4,1517.5 1320.1,1511.3 1317.8,1511.3 1315.5,1512.5 1313.2,1512.5 1310.9,1513.9 1308.6,1513.9 1306.3,1511.1 1304,1511.1 1301.7,1510.1 1299.4,1510.1 1297.1,1509.2 1294.8,1509.2 1292.5,1510.9 1290.2,1510.9 1287.9,1509.3 1285.6,1509.3 1283.3,1512.4 1281,1512.4 1278.7,1522.1 1276.4,1522.1 1274.1,1526.6 1271.8,1526.6 1269.5,1539 1267.2,1539 1264.9,1544.7 1262.6,1544.7 1260.3,1548.3 1258,1548.3 1255.7,1551 1253.4,1551 1251.1,1552.5 1248.8,1552.5 1246.5,1550.9 1244.2,1550.9 1241.9,1551.8 1239.6,1551.8 1237.3,1556.6 1235,1556.6 1232.7,1562.2 1230.4,1562.2 1228.1,1559.4 1225.8,1559.4 1223.5,1564.5 1221.2,1564.5 1218.9,1565.3 1216.6,1565.3 1214.3,1568.3 1212,1568.3 1209.7,1567.1 1207.4,1567.1 1205.1,1567.4 1202.8,1567.4 1200.5,1568.1 1198.2,1568.1 1195.9,1567 1193.6,1567 1191.3,1565.8 1189,1565.8 1186.7,1566.1 1184.4,1566.1 1182.1,1567.8 1179.8,1567.8 1177.5,1567.1 1175.2,1567.1 1172.9,1561.7 1170.6,1561.7 1168.3,1565.3 1166,1565.3 1163.7,1565.9 1161.4,1565.9 1159.1,1566.5 1156.8,1566.5 1154.5,1557.8 1152.2,1557.8 1149.9,1568.2 1147.6,1568.2 1145.3,1567.6 1143,1567.6 1140.7,1566.1 1138.4,1566.1 1136.1,1556.4 1133.8,1556.4 1131.5,1549.4 1129.2,1549.4 1126.9,1541 1124.6,1541 1122.3,1532.3 1120,1532.3 1117.7,1540.9 1115.4,1540.9 1113.1,1546.4 1110.8,1546.4 1108.5,1550.1 1106.2,1550.1 1103.9,1557.6 1101.6,1557.6 1099.3,1563.7 1097,1563.7 1094.7,1563.1 1092.4,1563.1 1090.1,1562.2 1087.8,1562.2 1085.5,1564.3 1083.2,1564.3 1080.9,1565.7 1078.6,1565.7 1076.3,1564.6 1074,1564.6 1071.7,1561.7 1069.4,1561.7 1067.1,1562.1 1064.8,1562.1 1062.5,1559.9 1060.2,1559.9 1057.9,1560.9 1055.6,1560.9 1053.3,1557.3 1051,1557.3 1048.7,1553.6 1046.4,1553.6 1044.1,1553.6 1041.8,1553.6 1039.5,1556.2 1037.2,1556.2 1034.9,1553.1 1032.6,1553.1 1030.3,1554.2 1028,1554.2 1025.7,1551.6 1023.4,1551.6 1021.1,1552.8 1018.8,1552.8 1016.5,1549.4 1014.2,1549.4 1011.9,1546.3 1009.6,1546.3 1007.3,1532.9 1005,1532.9 1002.7,1533.4 1000.4,1533.4 998.1,1535.6 995.8,1535.6 993.5,1549.5 991.2,1549.5 988.9,1565.1 986.6,1565.1 984.2,1570.4 982,1570.4"/>
<path d="M1030.1 1390.2V1347.1M1054.5 1389.4V1358.4M1091.2 1378.2V1372.5M1218.3 1365.9V1311.9M1235.4 1371.8V1292.2M1259.8 1370.4V1214.8M1261 1370V1295.8M1338 1380V1354.2M1401.5 1385.9V1335.2M1487.1 1403V1375.3M1543.3 1388V1371.8M1140.1 1383V1368.3M1052.1 1555.9V1592.1M1079 1561.8V1592.1M1098.5 1561.8V1592.1M1169.4 1561.8V1599.1M1201.2 1568.9V1613.2M1242.7 1554.8V1592.1M1423.5 1547.8V1573.8M1407.1 1392.5V1372.9M1346.8 1392V1369.7M1017.7 1400.5V1385.4M1049.8 1397.5V1373.9M1539.4 1397.2V1379.1M1026.2 1399V1377.2M1455.5 1399.8V1383.1M1566.5 1413.2V1404.4M1242.3 1379.9V1361.4M1560 1406.6V1388M1048 1397.5V1376.1M1494.6 1418.3V1399.9M1196.8 1363.3V1347.2M1414.5 1390.6V1370.2M1029.4 1398.4V1377.9M1137 1389.4V1365.3M1041.7 1397.5V1378.1M1472.6 1401.7V1390.9M1359.6 1396.7V1375.2M1381.1 1400.4V1377.4M1105.7 1374.9V1354.6M1437.6 1392.4V1379.6M1204.9 1367.6V1350.1M1224.1 1376.8V1365.7M1498 1421.6V1401.5M1547.1 1394.9V1373.9M1154.6 1400.1V1378.6M1149.2 1396.8V1383.5M1457.8 1400.7V1383.3M1514.2 1409.9V1389.8M1112.2 1375.1V1360.4M1204.7 1367.5V1356.3M1190.6 1359.7V1344.8M1254.5 1379.9V1358.8M1292.5 1372.8V1356.5M1230.4 1379.8V1356.7M1358.7 1396.4V1377.2M1435 1391.3V1370.4M1373.8 1400.7V1390.1M1258.3 1378.9V1370M1547 1395V1372.7M1504.2 1418.6V1399M1202.4 1366.4V1348.3M1225.6 1377.5V1357.6M1288.2 1372.8V1360.7M1558 1404.6V1385.6M1507.3 1415.9V1402.2M1288.9 1372.8V1349.1M1509.7 1413.8V1397.9M1243.5 1379.9V1366.4M1489.9 1413.8V1395.7M1368.1 1399.1V1377.1M1440.4 1393.5V1372.4M1277.9 1373.3V1351.9M1518.3 1406.4V1393.1M1152.1 1398.5V1386.4M1234.3 1379.9V1358M1081.9 1393.6V1372.3M1173.3 1374.4V1356.9M1436.3 1391.9V1381.1M1409.3 1391.9V1368.3M1363.4 1397.8V1373.8M1097 1381.7V1361.5M1118.8 1378.9V1359.6M1381.5 1400.3V1382.1M1180.5 1556.2V1579.5M1312.3 1501.9V1520.3M1456.1 1534V1543.5M1476.9 1533.4V1554.4M1412.3 1536.7V1559.2M1189 1558.1V1570.2M1137.5 1554.1V1565.7M1508.6 1526.1V1544.1M1143 1558.2V1578.8M1558.7 1536.6V1560M1115.5 1530.3V1544.8M993.5 1537.5V1557.4M1136.1 1551.5V1574.6M1072.2 1552.2V1576M1205.7 1559.2V1577.4M1035.7 1544.5V1557.5M1355.2 1530.7V1546M1124.2 1530.2V1550.5M1506 1526.3V1545.1M1354.5 1530.7V1543.3M1361.5 1531V1554.8M1538.8 1525.1V1539.2M1306.4 1501.3V1514.5M1566.1 1522.6V1536.2M1472.7 1534V1544.8M1485.6 1530.9V1547.1M1070.5 1551.9V1566.4M1096.2 1553.7V1571.3M1462.3 1534V1550.2M1002.4 1527.1V1547.4M1138.7 1556.1V1577.3M1081.9 1553.7V1564.7M1483.5 1531.6V1553.2M1361.2 1531V1544.3M1288.9 1499.3V1511.5M1158.2 1555.6V1570.9M1260.8 1536.3V1559.3M1082.8 1553.7V1562.3M1034.2 1544.2V1556.3M1172.4 1554.4V1576.3M1065.1 1550.7V1560.5M1315.3 1502.3V1513.3M1307.7 1501.4V1514.3M1311.3 1501.8V1520.6M1419.9 1538.7V1560.3M1565.7 1523.9V1535.1M1115.5 1530.4V1551.7M1256.6 1538.7V1549.2M1415.6 1537.6V1556.5M1239.9 1547.6V1557.6M1165.2 1554.4V1577.1M1234.4 1549.5V1560.7M1513 1525.7V1545.5M1490 1529.7V1551M1550.3 1531.8V1550M1207 1558.8V1575.7M1087 1553.7V1570.9M1511 1525.9V1538.1M1342.2 1523.9V1536.4M1189.2 1558.1V1574.3M1228.1 1551.7V1563.4M1463.6 1534V1551.1M1032.9 1544V1561.1M1293.4 1499.9V1516.7M1082.9 1553.7V1575.7" stroke="#D95319" stroke-width="2.6" fill="none"/>
<path d="M1026.1 1347.1a4 4 0 1 0 8 0a4 4 0 1 0 -8 0M1050.5 1358.4a4 4 0 1 0 8 0a4 4 0 1 0 -8 0M1087.2 1372.5a4 4 0 1 0 8 0a4 4 0 1 0 -8 0M1214.3 1311.9a4 4 0 1 0 8 0a4 4 0 1 0 -8 0M1231.4 1292.2a4 4 0 1 0 8 0a4 4 0 1 0 -8 0M1255.8 1214.8a4 4 0 1 0 8 0a4 4 0 1 0 -8 0M1257 1295.8a4 4 0 1 0 8 0a4 4 0 1 0 -8 0M1334 1354.2a4 4 0 1 0 8 0a4 4 0 1 0 -8 0M1397.5 1335.2a4 4 0 1 0 8 0a4 4 0 1 0 -8 0M1483.1 1375.3a4 4 0 1 0 8 0a4 4 0 1 0 -8 0M1539.3 1371.8a4 4 0 1 0 8 0a4 4 0 1 0 -8 0M1136.1 1368.3a4 4 0 1 0 8 0a4 4 0 1 0 -8 0M1048.1 1592.1a4 4 0 1 0 8 0a4 4 0 1 0 -8 0M1075 1592.1a4 4 0 1 0 8 0a4 4 0 1 0 -8 0M1094.5 1592.1a4 4 0 1 0 8 0a4 4 0 1 0 -8 0M1165.4 1599.1a4 4 0 1 0 8 0a4 4 0 1 0 -8 0M1197.2 1613.2a4 4 0 1 0 8 0a4 4 0 1 0 -8 0M1238.7 1592.1a4 4 0 1 0 8 0a4 4 0 1 0 -8 0M1419.5 1573.8a4 4 0 1 0 8 0a4 4 0 1 0 -8 0M1403.1 1372.9a4 4 0 1 0 8 0a4 4 0 1 0 -8 0M1342.8 1369.7a4 4 0 1 0 8 0a4 4 0 1 0 -8 0M1013.7 1385.4a4 4 0 1 0 8 0a4 4 0 1 0 -8 0M1045.8 1373.9a4 4 0 1 0 8 0a4 4 0 1 0 -8 0M1535.4 1379.1a4 4 0 1 0 8 0a4 4 0 1 0 -8 0M1022.2 1377.2a4 4 0 1 0 8 0a4 4 0 1 0 -8 0M1451.5 1383.1a4 4 0 1 0 8 0a4 4 0 1 0 -8 0M1562.5 1404.4a4 4 0 1 0 8 0a4 4 0 1 0 -8 0M1238.3 1361.4a4 4 0 1 0 8 0a4 4 0 1 0 -8 0M1556 1388a4 4 0 1 0 8 0a4 4 0 1 0 -8 0M1044 1376.1a4 4 0 1 0 8 0a4 4 0 1 0 -8 0M1490.6 1399.9a4 4 0 1 0 8 0a4 4 0 1 0 -8 0M1192.8 1347.2a4 4 0 1 0 8 0a4 4 0 1 0 -8 0M1410.5 1370.2a4 4 0 1 0 8 0a4 4 0 1 0 -8 0M1025.4 1377.9a4 4 0 1 0 8 0a4 4 0 1 0 -8 0M1133 1365.3a4 4 0 1 0 8 0a4 4 0 1 0 -8 0M1037.7 1378.1a4 4 0 1 0 8 0a4 4 0 1 0 -8 0M1468.6 1390.9a4 4 0 1 0 8 0a4 4 0 1 0 -8 0M1355.6 1375.2a4 4 0 1 0 8 0a4 4 0 1 0 -8 0M1377.1 1377.4a4 4 0 1 0 8 0a4 4 0 1 0 -8 0M1101.7 1354.6a4 4 0 1 0 8 0a4 4 0 1 0 -8 0M1433.6 1379.6a4 4 0 1 0 8 0a4 4 0 1 0 -8 0M1200.9 1350.1a4 4 0 1 0 8 0a4 4 0 1 0 -8 0M1220.1 1365.7a4 4 0 1 0 8 0a4 4 0 1 0 -8 0M1494 1401.5a4 4 0 1 0 8 0a4 4 0 1 0 -8 0M1543.1 1373.9a4 4 0 1 0 8 0a4 4 0 1 0 -8 0M1150.6 1378.6a4 4 0 1 0 8 0a4 4 0 1 0 -8 0M1145.2 1383.5a4 4 0 1 0 8 0a4 4 0 1 0 -8 0M1453.8 1383.3a4 4 0 1 0 8 0a4 4 0 1 0 -8 0M1510.2 1389.8a4 4 0 1 0 8 0a4 4 0 1 0 -8 0M1108.2 1360.4a4 4 0 1 0 8 0a4 4 0 1 0 -8 0M1200.7 1356.3a4 4 0 1 0 8 0a4 4 0 1 0 -8 0M1186.6 1344.8a4 4 0 1 0 8 0a4 4 0 1 0 -8 0M1250.5 1358.8a4 4 0 1 0 8 0a4 4 0 1 0 -8 0M1288.5 1356.5a4 4 0 1 0 8 0a4 4 0 1 0 -8 0M1226.4 1356.7a4 4 0 1 0 8 0a4 4 0 1 0 -8 0M1354.7 1377.2a4 4 0 1 0 8 0a4 4 0 1 0 -8 0M1431 1370.4a4 4 0 1 0 8 0a4 4 0 1 0 -8 0M1369.8 1390.1a4 4 0 1 0 8 0a4 4 0 1 0 -8 0M1254.3 1370a4 4 0 1 0 8 0a4 4 0 1 0 -8 0M1543 1372.7a4 4 0 1 0 8 0a4 4 0 1 0 -8 0M1500.2 1399a4 4 0 1 0 8 0a4 4 0 1 0 -8 0M1198.4 1348.3a4 4 0 1 0 8 0a4 4 0 1 0 -8 0M1221.6 1357.6a4 4 0 1 0 8 0a4 4 0 1 0 -8 0M1284.2 1360.7a4 4 0 1 0 8 0a4 4 0 1 0 -8 0M1554 1385.6a4 4 0 1 0 8 0a4 4 0 1 0 -8 0M1503.3 1402.2a4 4 0 1 0 8 0a4 4 0 1 0 -8 0M1284.9 1349.1a4 4 0 1 0 8 0a4 4 0 1 0 -8 0M1505.7 1397.9a4 4 0 1 0 8 0a4 4 0 1 0 -8 0M1239.5 1366.4a4 4 0 1 0 8 0a4 4 0 1 0 -8 0M1485.9 1395.7a4 4 0 1 0 8 0a4 4 0 1 0 -8 0M1364.1 1377.1a4 4 0 1 0 8 0a4 4 0 1 0 -8 0M1436.4 1372.4a4 4 0 1 0 8 0a4 4 0 1 0 -8 0M1273.9 1351.9a4 4 0 1 0 8 0a4 4 0 1 0 -8 0M1514.3 1393.1a4 4 0 1 0 8 0a4 4 0 1 0 -8 0M1148.1 1386.4a4 4 0 1 0 8 0a4 4 0 1 0 -8 0M1230.3 1358a4 4 0 1 0 8 0a4 4 0 1 0 -8 0M1077.9 1372.3a4 4 0 1 0 8 0a4 4 0 1 0 -8 0M1169.3 1356.9a4 4 0 1 0 8 0a4 4 0 1 0 -8 0M1432.3 1381.1a4 4 0 1 0 8 0a4 4 0 1 0 -8 0M1405.3 1368.3a4 4 0 1 0 8 0a4 4 0 1 0 -8 0M1359.4 1373.8a4 4 0 1 0 8 0a4 4 0 1 0 -8 0M1093 1361.5a4 4 0 1 0 8 0a4 4 0 1 0 -8 0M1114.8 1359.6a4 4 0 1 0 8 0a4 4 0 1 0 -8 0M1377.5 1382.1a4 4 0 1 0 8 0a4 4 0 1 0 -8 0M1176.5 1579.5a4 4 0 1 0 8 0a4 4 0 1 0 -8 0M1308.3 1520.3a4 4 0 1 0 8 0a4 4 0 1 0 -8 0M1452.1 1543.5a4 4 0 1 0 8 0a4 4 0 1 0 -8 0M1472.9 1554.4a4 4 0 1 0 8 0a4 4 0 1 0 -8 0M1408.3 1559.2a4 4 0 1 0 8 0a4 4 0 1 0 -8 0M1185 1570.2a4 4 0 1 0 8 0a4 4 0 1 0 -8 0M1133.5 1565.7a4 4 0 1 0 8 0a4 4 0 1 0 -8 0M1504.6 1544.1a4 4 0 1 0 8 0a4 4 0 1 0 -8 0M1139 1578.8a4 4 0 1 0 8 0a4 4 0 1 0 -8 0M1554.7 1560a4 4 0 1 0 8 0a4 4 0 1 0 -8 0M1111.5 1544.8a4 4 0 1 0 8 0a4 4 0 1 0 -8 0M989.5 1557.4a4 4 0 1 0 8 0a4 4 0 1 0 -8 0M1132.1 1574.6a4 4 0 1 0 8 0a4 4 0 1 0 -8 0M1068.2 1576a4 4 0 1 0 8 0a4 4 0 1 0 -8 0M1201.7 1577.4a4 4 0 1 0 8 0a4 4 0 1 0 -8 0M1031.7 1557.5a4 4 0 1 0 8 0a4 4 0 1 0 -8 0M1351.2 1546a4 4 0 1 0 8 0a4 4 0 1 0 -8 0M1120.2 1550.5a4 4 0 1 0 8 0a4 4 0 1 0 -8 0M1502 1545.1a4 4 0 1 0 8 0a4 4 0 1 0 -8 0M1350.5 1543.3a4 4 0 1 0 8 0a4 4 0 1 0 -8 0M1357.5 1554.8a4 4 0 1 0 8 0a4 4 0 1 0 -8 0M1534.8 1539.2a4 4 0 1 0 8 0a4 4 0 1 0 -8 0M1302.4 1514.5a4 4 0 1 0 8 0a4 4 0 1 0 -8 0M1562.1 1536.2a4 4 0 1 0 8 0a4 4 0 1 0 -8 0M1468.7 1544.8a4 4 0 1 0 8 0a4 4 0 1 0 -8 0M1481.6 1547.1a4 4 0 1 0 8 0a4 4 0 1 0 -8 0M1066.5 1566.4a4 4 0 1 0 8 0a4 4 0 1 0 -8 0M1092.2 1571.3a4 4 0 1 0 8 0a4 4 0 1 0 -8 0M1458.3 1550.2a4 4 0 1 0 8 0a4 4 0 1 0 -8 0M998.4 1547.4a4 4 0 1 0 8 0a4 4 0 1 0 -8 0M1134.7 1577.3a4 4 0 1 0 8 0a4 4 0 1 0 -8 0M1077.9 1564.7a4 4 0 1 0 8 0a4 4 0 1 0 -8 0M1479.5 1553.2a4 4 0 1 0 8 0a4 4 0 1 0 -8 0M1357.2 1544.3a4 4 0 1 0 8 0a4 4 0 1 0 -8 0M1284.9 1511.5a4 4 0 1 0 8 0a4 4 0 1 0 -8 0M1154.2 1570.9a4 4 0 1 0 8 0a4 4 0 1 0 -8 0M1256.8 1559.3a4 4 0 1 0 8 0a4 4 0 1 0 -8 0M1078.8 1562.3a4 4 0 1 0 8 0a4 4 0 1 0 -8 0M1030.2 1556.3a4 4 0 1 0 8 0a4 4 0 1 0 -8 0M1168.4 1576.3a4 4 0 1 0 8 0a4 4 0 1 0 -8 0M1061.1 1560.5a4 4 0 1 0 8 0a4 4 0 1 0 -8 0M1311.3 1513.3a4 4 0 1 0 8 0a4 4 0 1 0 -8 0M1303.7 1514.3a4 4 0 1 0 8 0a4 4 0 1 0 -8 0M1307.3 1520.6a4 4 0 1 0 8 0a4 4 0 1 0 -8 0M1415.9 1560.3a4 4 0 1 0 8 0a4 4 0 1 0 -8 0M1561.7 1535.1a4 4 0 1 0 8 0a4 4 0 1 0 -8 0M1111.5 1551.7a4 4 0 1 0 8 0a4 4 0 1 0 -8 0M1252.6 1549.2a4 4 0 1 0 8 0a4 4 0 1 0 -8 0M1411.6 1556.5a4 4 0 1 0 8 0a4 4 0 1 0 -8 0M1235.9 1557.6a4 4 0 1 0 8 0a4 4 0 1 0 -8 0M1161.2 1577.1a4 4 0 1 0 8 0a4 4 0 1 0 -8 0M1230.4 1560.7a4 4 0 1 0 8 0a4 4 0 1 0 -8 0M1509 1545.5a4 4 0 1 0 8 0a4 4 0 1 0 -8 0M1486 1551a4 4 0 1 0 8 0a4 4 0 1 0 -8 0M1546.3 1550a4 4 0 1 0 8 0a4 4 0 1 0 -8 0M1203 1575.7a4 4 0 1 0 8 0a4 4 0 1 0 -8 0M1083 1570.9a4 4 0 1 0 8 0a4 4 0 1 0 -8 0M1507 1538.1a4 4 0 1 0 8 0a4 4 0 1 0 -8 0M1338.2 1536.4a4 4 0 1 0 8 0a4 4 0 1 0 -8 0M1185.2 1574.3a4 4 0 1 0 8 0a4 4 0 1 0 -8 0M1224.1 1563.4a4 4 0 1 0 8 0a4 4 0 1 0 -8 0M1459.6 1551.1a4 4 0 1 0 8 0a4 4 0 1 0 -8 0M1028.9 1561.1a4 4 0 1 0 8 0a4 4 0 1 0 -8 0M1289.4 1516.7a4 4 0 1 0 8 0a4 4 0 1 0 -8 0M1078.9 1575.7a4 4 0 1 0 8 0a4 4 0 1 0 -8 0" fill="#D95319"/>
<polygon fill="#0072BD" points="982,1455.9 984.2,1455.9 986.6,1455.7 988.9,1455.7 991.2,1453.6 993.5,1453.6 995.8,1457.8 998.1,1457.8 1000.4,1449.2 1002.7,1449.2 1005,1447.7 1007.3,1447.7 1009.6,1445.8 1011.9,1445.8 1014.2,1444.3 1016.5,1444.3 1018.8,1443.5 1021.1,1443.5 1023.4,1443.4 1025.7,1443.4 1028,1446.2 1030.3,1446.2 1032.6,1449 1034.9,1449 1037.2,1452.4 1039.5,1452.4 1041.8,1455.8 1044.1,1455.8 1046.4,1458.8 1048.7,1458.8 1051,1456.8 1053.3,1456.8 1055.6,1455.3 1057.9,1455.3 1060.2,1452.8 1062.5,1452.8 1064.8,1451.3 1067.1,1451.3 1069.4,1449.1 1071.7,1449.1 1074,1448.4 1076.3,1448.4 1078.6,1448 1080.9,1448 1083.2,1447.6 1085.5,1447.6 1087.8,1447.1 1090.1,1447.1 1092.4,1446.2 1094.7,1446.2 1097,1446.2 1099.3,1446.2 1101.6,1445.1 1103.9,1445.1 1106.2,1444.9 1108.5,1444.9 1110.8,1444.1 1113.1,1444.1 1115.4,1444 1117.7,1444 1120,1442.8 1122.3,1442.8 1124.6,1443.2 1126.9,1443.2 1129.2,1442.1 1131.5,1442.1 1133.8,1442 1136.1,1442 1138.4,1443.4 1140.7,1443.4 1143,1443.6 1145.3,1443.6 1147.6,1444.2 1149.9,1444.2 1152.2,1447.2 1154.5,1447.2 1156.8,1446 1159.1,1446 1161.4,1445.5 1163.7,1445.5 1166,1446.2 1168.3,1446.2 1170.6,1447.5 1172.9,1447.5 1175.2,1448.4 1177.5,1448.4 1179.8,1448.9 1182.1,1448.9 1184.4,1448.5 1186.7,1448.5 1189,1449.4 1191.3,1449.4 1193.6,1449.1 1195.9,1449.1 1198.2,1449.1 1200.5,1449.1 1202.8,1448.7 1205.1,1448.7 1207.4,1448.9 1209.7,1448.9 1212,1448.6 1214.3,1448.6 1216.6,1449.2 1218.9,1449.2 1221.2,1448.4 1223.5,1448.4 1225.8,1448.4 1228.1,1448.4 1230.4,1448.6 1232.7,1448.6 1235,1448.9 1237.3,1448.9 1239.6,1448.9 1241.9,1448.9 1244.2,1448.7 1246.5,1448.7 1248.8,1448.3 1251.1,1448.3 1253.4,1448.6 1255.7,1448.6 1258,1449.3 1260.3,1449.3 1262.6,1448.1 1264.9,1448.1 1267.2,1449.3 1269.5,1449.3 1271.8,1454.5 1274.1,1454.5 1276.4,1448.6 1278.7,1448.6 1281,1447.8 1283.3,1447.8 1285.6,1452.5 1287.9,1452.5 1290.2,1445 1292.5,1445 1294.8,1444.2 1297.1,1444.2 1299.4,1442.1 1301.7,1442.1 1304,1448.9 1306.3,1448.9 1308.6,1441.7 1310.9,1441.7 1313.2,1441 1315.5,1441 1317.8,1440.2 1320.1,1440.2 1322.4,1440.5 1324.7,1440.5 1327,1439.6 1329.3,1439.6 1331.6,1439.6 1333.9,1439.6 1336.2,1438.7 1338.5,1438.7 1340.8,1438.5 1343.1,1438.5 1345.4,1436.2 1347.7,1436.2 1350,1434.6 1352.3,1434.6 1354.6,1433.7 1356.9,1433.7 1359.2,1432.3 1361.5,1432.3 1363.8,1431 1366.1,1431 1368.4,1434.7 1370.7,1434.7 1373,1428.4 1375.3,1428.4 1377.6,1427.2 1379.9,1427.2 1382.2,1423.5 1384.5,1423.5 1386.8,1421.5 1389.1,1421.5 1391.4,1418.9 1393.7,1418.9 1396,1415.8 1398.3,1415.8 1400.6,1415.7 1402.9,1415.7 1405.2,1414.5 1407.5,1414.5 1409.8,1416.1 1412.1,1416.1 1414.4,1417.9 1416.7,1417.9 1419,1419.2 1421.3,1419.2 1423.6,1420.6 1425.9,1420.6 1428.2,1421 1430.5,1421 1432.8,1420.2 1435.1,1420.2 1437.4,1420.9 1439.7,1420.9 1442,1420.3 1444.3,1420.3 1446.6,1423.6 1448.9,1423.6 1451.2,1419.5 1453.5,1419.5 1455.8,1418.7 1458.1,1418.7 1460.4,1417.7 1462.7,1417.7 1465,1416.5 1467.3,1416.5 1469.6,1414.2 1471.9,1414.2 1474.2,1413.5 1476.5,1413.5 1478.8,1410.9 1481.1,1410.9 1483.4,1408.9 1485.7,1408.9 1488,1407.4 1490.3,1407.4 1492.6,1411 1494.9,1411 1497.2,1402.8 1499.5,1402.8 1501.8,1408.5 1504.1,1408.5 1506.4,1404.6 1508.7,1404.6 1511,1405.3 1513.3,1405.3 1515.6,1405.2 1517.9,1405.2 1520.2,1405.8 1522.5,1405.8 1524.8,1407.7 1527.1,1407.7 1529.4,1408.3 1531.7,1408.3 1534,1410.3 1536.3,1410.3 1538.6,1410.7 1540.9,1410.7 1543.2,1412.6 1545.5,1412.6 1547.8,1414 1550.1,1414 1552.4,1412.2 1554.7,1412.2 1557,1412 1559.3,1412 1561.6,1411 1563.9,1411 1566.2,1410.3 1568.5,1410.3 1570.8,1409.8 1573.1,1409.8 1575.4,1410.6 1577.7,1410.6 1577.7,1451.2 1575.4,1451.2 1573.1,1450.6 1570.8,1450.6 1568.5,1452.1 1566.2,1452.1 1563.9,1451.6 1561.6,1451.6 1559.3,1454.9 1557,1454.9 1554.7,1456.8 1552.4,1456.8 1550.1,1458.3 1547.8,1458.3 1545.5,1461.1 1543.2,1461.1 1540.9,1463.3 1538.6,1463.3 1536.3,1465.6 1534,1465.6 1531.7,1468.4 1529.4,1468.4 1527.1,1471.5 1524.8,1471.5 1522.5,1471.9 1520.2,1471.9 1517.9,1472.3 1515.6,1472.3 1513.3,1471.5 1511,1471.5 1508.7,1470.2 1506.4,1470.2 1504.1,1470.2 1501.8,1470.2 1499.5,1469.3 1497.2,1469.3 1494.9,1471.6 1492.6,1471.6 1490.3,1472.4 1488,1472.4 1485.7,1473.4 1483.4,1473.4 1481.1,1474.6 1478.8,1474.6 1476.5,1475.6 1474.2,1475.6 1471.9,1477.2 1469.6,1477.2 1467.3,1478.3 1465,1478.3 1462.7,1478.3 1460.4,1478.3 1458.1,1478.5 1455.8,1478.5 1453.5,1479.3 1451.2,1479.3 1448.9,1480.4 1446.6,1480.4 1444.3,1481.8 1442,1481.8 1439.7,1483.9 1437.4,1483.9 1435.1,1484.8 1432.8,1484.8 1430.5,1480 1428.2,1480 1425.9,1487.5 1423.6,1487.5 1421.3,1487.6 1419,1487.6 1416.7,1481.1 1414.4,1481.1 1412.1,1486.8 1409.8,1486.8 1407.5,1478 1405.2,1478 1402.9,1486.4 1400.6,1486.4 1398.3,1486.7 1396,1486.7 1393.7,1487.5 1391.4,1487.5 1389.1,1487.5 1386.8,1487.5 1384.5,1482.7 1382.2,1482.7 1379.9,1486.5 1377.6,1486.5 1375.3,1486.9 1373,1486.9 1370.7,1487.8 1368.4,1487.8 1366.1,1488.3 1363.8,1488.3 1361.5,1487.8 1359.2,1487.8 1356.9,1484.2 1354.6,1484.2 1352.3,1489.1 1350,1489.1 1347.7,1489.1 1345.4,1489.1 1343.1,1489.9 1340.8,1489.9 1338.5,1489.7 1336.2,1489.7 1333.9,1489.5 1331.6,1489.5 1329.3,1490.7 1327,1490.7 1324.7,1490.4 1322.4,1490.4 1320.1,1491.3 1317.8,1491.3 1315.5,1491.9 1313.2,1491.9 1310.9,1491.2 1308.6,1491.2 1306.3,1491.6 1304,1491.6 1301.7,1492.2 1299.4,1492.2 1297.1,1493 1294.8,1493 1292.5,1492.5 1290.2,1492.5 1287.9,1493.1 1285.6,1493.1 1283.3,1493.6 1281,1493.6 1278.7,1489.8 1276.4,1489.8 1274.1,1496.6 1271.8,1496.6 1269.5,1498.4 1267.2,1498.4 1264.9,1500.8 1262.6,1500.8 1260.3,1503 1258,1503 1255.7,1504.1 1253.4,1504.1 1251.1,1502.6 1248.8,1502.6 1246.5,1500.4 1244.2,1500.4 1241.9,1498.8 1239.6,1498.8 1237.3,1494 1235,1494 1232.7,1494.1 1230.4,1494.1 1228.1,1486.1 1225.8,1486.1 1223.5,1494.1 1221.2,1494.1 1218.9,1494.2 1216.6,1494.2 1214.3,1493.9 1212,1493.9 1209.7,1494.2 1207.4,1494.2 1205.1,1494 1202.8,1494 1200.5,1493.8 1198.2,1493.8 1195.9,1490.4 1193.6,1490.4 1191.3,1493.4 1189,1493.4 1186.7,1494.5 1184.4,1494.5 1182.1,1493.7 1179.8,1493.7 1177.5,1495.4 1175.2,1495.4 1172.9,1495.8 1170.6,1495.8 1168.3,1496.8 1166,1496.8 1163.7,1494.8 1161.4,1494.8 1159.1,1499.1 1156.8,1499.1 1154.5,1494.8 1152.2,1494.8 1149.9,1500.8 1147.6,1500.8 1145.3,1500.6 1143,1500.6 1140.7,1500.1 1138.4,1500.1 1136.1,1500.2 1133.8,1500.2 1131.5,1500 1129.2,1500 1126.9,1499.5 1124.6,1499.5 1122.3,1498.2 1120,1498.2 1117.7,1498.6 1115.4,1498.6 1113.1,1497.3 1110.8,1497.3 1108.5,1495.2 1106.2,1495.2 1103.9,1502 1101.6,1502 1099.3,1505 1097,1505 1094.7,1507.8 1092.4,1507.8 1090.1,1511.2 1087.8,1511.2 1085.5,1514.6 1083.2,1514.6 1080.9,1515.8 1078.6,1515.8 1076.3,1515.4 1074,1515.4 1071.7,1514.4 1069.4,1514.4 1067.1,1512.1 1064.8,1512.1 1062.5,1515.2 1060.2,1515.2 1057.9,1514.8 1055.6,1514.8 1053.3,1514.5 1051,1514.5 1048.7,1515 1046.4,1515 1044.1,1513 1041.8,1513 1039.5,1511.7 1037.2,1511.7 1034.9,1509.9 1032.6,1509.9 1030.3,1508.5 1028,1508.5 1025.7,1506.3 1023.4,1506.3 1021.1,1500 1018.8,1500 1016.5,1502.6 1014.2,1502.6 1011.9,1501.5 1009.6,1501.5 1007.3,1499.5 1005,1499.5 1002.7,1498.2 1000.4,1498.2 998.1,1491.2 995.8,1491.2 993.5,1495.7 991.2,1495.7 988.9,1491.6 986.6,1491.6 984.2,1493.7 982,1493.7"/>
<path d="M1242.9 1456.5V1446.3M1117.7 1451.2V1441.6M1542.3 1419.6V1410.7M1311.7 1448.7V1438.4M1338.3 1446.2V1434.1M1523.4 1414.2V1402.6M988.7 1462.6V1453.8M1451.3 1428.1V1415.9M1456 1426.8V1417.2M1064.7 1459.5V1450.1M1341 1445.8V1435.7M1466.7 1423.7V1411.4M1148.6 1451.8V1441.7M1477.8 1467.8V1480.3M1361.6 1480.3V1492.5M1459.6 1470.8V1482.8M1493.1 1463.4V1473M1463.8 1470.2V1482.1M1161.6 1490.1V1501.1M1415.4 1479.2V1491.2M1546.6 1451.3V1461.1M1530.1 1461.2V1472.6M1428.9 1478.3V1490.5M1234.2 1487.8V1498.7M1366.9 1479.9V1491.9M1336.3 1482.1V1492.4" stroke="#0072BD" stroke-width="2.6" fill="none"/>
<path d="M1238.9 1446.3a4 4 0 1 0 8 0a4 4 0 1 0 -8 0M1113.7 1441.6a4 4 0 1 0 8 0a4 4 0 1 0 -8 0M1538.3 1410.7a4 4 0 1 0 8 0a4 4 0 1 0 -8 0M1307.7 1438.4a4 4 0 1 0 8 0a4 4 0 1 0 -8 0M1334.3 1434.1a4 4 0 1 0 8 0a4 4 0 1 0 -8 0M1519.4 1402.6a4 4 0 1 0 8 0a4 4 0 1 0 -8 0M984.7 1453.8a4 4 0 1 0 8 0a4 4 0 1 0 -8 0M1447.3 1415.9a4 4 0 1 0 8 0a4 4 0 1 0 -8 0M1452 1417.2a4 4 0 1 0 8 0a4 4 0 1 0 -8 0M1060.7 1450.1a4 4 0 1 0 8 0a4 4 0 1 0 -8 0M1337 1435.7a4 4 0 1 0 8 0a4 4 0 1 0 -8 0M1462.7 1411.4a4 4 0 1 0 8 0a4 4 0 1 0 -8 0M1144.6 1441.7a4 4 0 1 0 8 0a4 4 0 1 0 -8 0M1473.8 1480.3a4 4 0 1 0 8 0a4 4 0 1 0 -8 0M1357.6 1492.5a4 4 0 1 0 8 0a4 4 0 1 0 -8 0M1455.6 1482.8a4 4 0 1 0 8 0a4 4 0 1 0 -8 0M1489.1 1473a4 4 0 1 0 8 0a4 4 0 1 0 -8 0M1459.8 1482.1a4 4 0 1 0 8 0a4 4 0 1 0 -8 0M1157.6 1501.1a4 4 0 1 0 8 0a4 4 0 1 0 -8 0M1411.4 1491.2a4 4 0 1 0 8 0a4 4 0 1 0 -8 0M1542.6 1461.1a4 4 0 1 0 8 0a4 4 0 1 0 -8 0M1526.1 1472.6a4 4 0 1 0 8 0a4 4 0 1 0 -8 0M1424.9 1490.5a4 4 0 1 0 8 0a4 4 0 1 0 -8 0M1230.2 1498.7a4 4 0 1 0 8 0a4 4 0 1 0 -8 0M1362.9 1491.9a4 4 0 1 0 8 0a4 4 0 1 0 -8 0M1332.3 1492.4a4 4 0 1 0 8 0a4 4 0 1 0 -8 0" fill="#0072BD"/>
</g>
<path d="M986.1 1861v-11.5M986.1 1016.3v11.5M1083.8 1861v-11.5M1083.8 1016.3v11.5M1181.6 1861v-11.5M1181.6 1016.3v11.5M1279.3 1861v-11.5M1279.3 1016.3v11.5M1377.1 1861v-11.5M1377.1 1016.3v11.5M1474.8 1861v-11.5M1474.8 1016.3v11.5M1572.6 1861v-11.5M1572.6 1016.3v11.5M986.1 1861h11.5M1572.6 1861h-11.5M986.1 1720.2h11.5M1572.6 1720.2h-11.5M986.1 1579.4h11.5M1572.6 1579.4h-11.5M986.1 1438.7h11.5M1572.6 1438.7h-11.5M986.1 1297.9h11.5M1572.6 1297.9h-11.5M986.1 1157.1h11.5M1572.6 1157.1h-11.5M986.1 1016.3h11.5M1572.6 1016.3h-11.5" stroke="#262626" stroke-width="3" fill="none"/>
<rect x="986.1" y="1016.3" width="586.5" height="844.7" fill="none" stroke="#222" stroke-width="4.3"/>
<g font-size="59" fill="#383838"><text x="995.6" y="1937.5" text-anchor="middle">0</text><text x="1086.8" y="1937.5" text-anchor="middle">04</text><text x="1183.6" y="1937.5" text-anchor="middle">08</text><text x="1282.8" y="1937.5" text-anchor="middle">12</text><text x="1378.6" y="1937.5" text-anchor="middle">16</text><text x="1476.3" y="1937.5" text-anchor="middle">20</text><text x="1570.4" y="1937.5" text-anchor="middle">24</text><text x="965.6" y="1884.5" text-anchor="end">−6</text><text x="965.6" y="1743.7" text-anchor="end">−4</text><text x="965.6" y="1602.9" text-anchor="end">−2</text><text x="962.1" y="1462.2" text-anchor="end">0</text><text x="962.1" y="1321.4" text-anchor="end">2</text><text x="962.1" y="1180.6" text-anchor="end">4</text><text x="962.1" y="1039.8" text-anchor="end">6</text></g>
<text x="1013.3" y="1088.3" font-size="61" fill="#111" textLength="77" lengthAdjust="spacingAndGlyphs">(e)</text>
<text x="1107.7" y="1088.3" font-size="61" fill="#111" textLength="178.1" lengthAdjust="spacingAndGlyphs">COCO</text>
<clipPath id="cf"><rect x="1723.5" y="1021.1" width="586.7" height="839.7"/></clipPath>
<path d="M1821.3 1021.1V1860.8M1919.1 1021.1V1860.8M2016.8 1021.1V1860.8M2114.6 1021.1V1860.8M2212.4 1021.1V1860.8" stroke="#262626" stroke-opacity="0.145" stroke-width="3.6" fill="none"/>
<path d="M1723.5 1720.8H2310.2M1723.5 1580.9H2310.2M1723.5 1441H2310.2M1723.5 1301H2310.2M1723.5 1161H2310.2" stroke="#262626" stroke-opacity="0.145" stroke-width="3.6" fill="none"/>
<g clip-path="url(#cf)">
<polygon fill="#D95319" points="1719.3,1395.5 1721.7,1395.5 1723.9,1400.1 1726.2,1400.1 1728.5,1387.2 1730.8,1387.2 1733.1,1384.4 1735.4,1384.4 1737.7,1379.5 1740,1379.5 1742.3,1374.2 1744.6,1374.2 1746.9,1372.7 1749.2,1372.7 1751.5,1369.7 1753.8,1369.7 1756.1,1368.4 1758.4,1368.4 1760.7,1365.5 1763,1365.5 1765.3,1365 1767.6,1365 1769.9,1364.2 1772.2,1364.2 1774.5,1359.4 1776.8,1359.4 1779.1,1356.7 1781.4,1356.7 1783.7,1354 1786,1354 1788.3,1351.8 1790.6,1351.8 1792.9,1349.1 1795.2,1349.1 1797.5,1347.4 1799.8,1347.4 1802.1,1347.9 1804.4,1347.9 1806.7,1351.7 1809,1351.7 1811.3,1346.1 1813.6,1346.1 1815.9,1348.2 1818.2,1348.2 1820.5,1351.6 1822.8,1351.6 1825.1,1353.5 1827.4,1353.5 1829.7,1355 1832,1355 1834.3,1358.2 1836.6,1358.2 1838.9,1365.4 1841.2,1365.4 1843.5,1369.1 1845.8,1369.1 1848.1,1374.3 1850.4,1374.3 1852.7,1380.5 1855,1380.5 1857.3,1383.1 1859.6,1383.1 1861.9,1379 1864.2,1379 1866.5,1379.6 1868.8,1379.6 1871.1,1371 1873.4,1371 1875.7,1374.4 1878,1374.4 1880.3,1377.1 1882.6,1377.1 1884.9,1378.6 1887.2,1378.6 1889.5,1385.9 1891.8,1385.9 1894.1,1382.9 1896.4,1382.9 1898.7,1380.3 1901,1380.3 1903.3,1378.7 1905.6,1378.7 1907.9,1374.3 1910.2,1374.3 1912.5,1373.4 1914.8,1373.4 1917.1,1371.7 1919.4,1371.7 1921.7,1372.5 1924,1372.5 1926.3,1371.9 1928.6,1371.9 1930.9,1372.8 1933.2,1372.8 1935.5,1374.8 1937.8,1374.8 1940.1,1378.1 1942.4,1378.1 1944.7,1377.2 1947,1377.2 1949.3,1374.9 1951.6,1374.9 1953.9,1373.7 1956.2,1373.7 1958.5,1368.3 1960.8,1368.3 1963.1,1369.6 1965.4,1369.6 1967.7,1367.2 1970,1367.2 1972.3,1371.8 1974.6,1371.8 1976.9,1383.6 1979.2,1383.6 1981.5,1380.8 1983.8,1380.8 1986.1,1388.5 1988.4,1388.5 1990.7,1392.1 1993,1392.1 1995.3,1400.3 1997.6,1400.3 1999.9,1404.9 2002.2,1404.9 2004.5,1411.1 2006.8,1411.1 2009.1,1415.1 2011.4,1415.1 2013.7,1412.5 2016,1412.5 2018.3,1421.9 2020.6,1421.9 2022.9,1413.7 2025.2,1413.7 2027.5,1415.6 2029.8,1415.6 2032.1,1409 2034.4,1409 2036.7,1404.1 2039,1404.1 2041.3,1394.7 2043.6,1394.7 2045.9,1387.1 2048.2,1387.1 2050.5,1379 2052.8,1379 2055.1,1378 2057.4,1378 2059.7,1381.6 2062,1381.6 2064.3,1381.4 2066.6,1381.4 2068.9,1380.5 2071.2,1380.5 2073.5,1381.9 2075.8,1381.9 2078.1,1383.1 2080.4,1383.1 2082.7,1384 2085,1384 2087.3,1380.5 2089.6,1380.5 2091.9,1378.5 2094.2,1378.5 2096.5,1381.4 2098.8,1381.4 2101.1,1380 2103.4,1380 2105.7,1378.1 2108,1378.1 2110.3,1375.9 2112.6,1375.9 2114.9,1375 2117.2,1375 2119.5,1366.8 2121.8,1366.8 2124.1,1361.8 2126.4,1361.8 2128.7,1352.5 2131,1352.5 2133.3,1351 2135.6,1351 2137.9,1342.9 2140.2,1342.9 2142.5,1334.2 2144.8,1334.2 2147.1,1323.9 2149.4,1323.9 2151.7,1315.2 2154,1315.2 2156.3,1318 2158.6,1318 2160.9,1300.7 2163.2,1300.7 2165.5,1293.8 2167.8,1293.8 2170.1,1286.6 2172.4,1286.6 2174.7,1275.8 2177,1275.8 2179.3,1273.1 2181.6,1273.1 2183.9,1260 2186.2,1260 2188.5,1254.5 2190.8,1254.5 2193.1,1250.5 2195.4,1250.5 2197.7,1244.9 2200,1244.9 2202.3,1247.8 2204.6,1247.8 2206.9,1237.2 2209.2,1237.2 2211.5,1232.8 2213.8,1232.8 2216.1,1229.2 2218.4,1229.2 2220.7,1226.2 2223,1226.2 2225.3,1226.5 2227.6,1226.5 2229.9,1226.8 2232.2,1226.8 2234.5,1221.9 2236.8,1221.9 2239.1,1227.1 2241.4,1227.1 2243.7,1228.6 2246,1228.6 2248.3,1233.9 2250.6,1233.9 2252.9,1236.1 2255.2,1236.1 2257.5,1240.8 2259.8,1240.8 2262.1,1241.5 2264.4,1241.5 2266.7,1237.3 2269,1237.3 2271.3,1235.5 2273.6,1235.5 2275.9,1235 2278.2,1235 2280.5,1236.7 2282.8,1236.7 2285.1,1231.8 2287.4,1231.8 2289.7,1232.5 2292,1232.5 2294.3,1227.5 2296.6,1227.5 2298.9,1230.2 2301.2,1230.2 2303.5,1232.7 2305.8,1232.7 2308.1,1232.3 2310.4,1232.3 2312.7,1233.3 2315,1233.3 2315,1320.4 2312.7,1320.4 2310.4,1322 2308.1,1322 2305.8,1324.6 2303.5,1324.6 2301.2,1332.4 2298.9,1332.4 2296.6,1338.3 2294.3,1338.3 2292,1342.6 2289.7,1342.6 2287.4,1346.3 2285.1,1346.3 2282.8,1350.5 2280.5,1350.5 2278.2,1348.7 2275.9,1348.7 2273.6,1348.7 2271.3,1348.7 2269,1348.9 2266.7,1348.9 2264.4,1349.2 2262.1,1349.2 2259.8,1348.6 2257.5,1348.6 2255.2,1354.1 2252.9,1354.1 2250.6,1353.8 2248.3,1353.8 2246,1356.5 2243.7,1356.5 2241.4,1350.5 2239.1,1350.5 2236.8,1365.4 2234.5,1365.4 2232.2,1369.4 2229.9,1369.4 2227.6,1368.2 2225.3,1368.2 2223,1379.9 2220.7,1379.9 2218.4,1387.1 2216.1,1387.1 2213.8,1390 2211.5,1390 2209.2,1388.8 2206.9,1388.8 2204.6,1386.9 2202.3,1386.9 2200,1384.3 2197.7,1384.3 2195.4,1380.4 2193.1,1380.4 2190.8,1377.2 2188.5,1377.2 2186.2,1380.2 2183.9,1380.2 2181.6,1386.5 2179.3,1386.5 2177,1390.1 2174.7,1390.1 2172.4,1394.4 2170.1,1394.4 2167.8,1404.1 2165.5,1404.1 2163.2,1405.7 2160.9,1405.7 2158.6,1411.4 2156.3,1411.4 2154,1414.8 2151.7,1414.8 2149.4,1420.4 2147.1,1420.4 2144.8,1423.3 2142.5,1423.3 2140.2,1418.7 2137.9,1418.7 2135.6,1433.1 2133.3,1433.1 2131,1435.4 2128.7,1435.4 2126.4,1439.9 2124.1,1439.9 2121.8,1443 2119.5,1443 2117.2,1447.4 2114.9,1447.4 2112.6,1454.1 2110.3,1454.1 2108,1459.9 2105.7,1459.9 2103.4,1462.2 2101.1,1462.2 2098.8,1466.1 2096.5,1466.1 2094.2,1472.1 2091.9,1472.1 2089.6,1477.8 2087.3,1477.8 2085,1485.9 2082.7,1485.9 2080.4,1492.3 2078.1,1492.3 2075.8,1499.7 2073.5,1499.7 2071.2,1504.7 2068.9,1504.7 2066.6,1518 2064.3,1518 2062,1526.4 2059.7,1526.4 2057.4,1532 2055.1,1532 2052.8,1531.8 2050.5,1531.8 2048.2,1530.7 2045.9,1530.7 2043.6,1527.4 2041.3,1527.4 2039,1528.6 2036.7,1528.6 2034.4,1527.6 2032.1,1527.6 2029.8,1517.6 2027.5,1517.6 2025.2,1520.5 2022.9,1520.5 2020.6,1516.2 2018.3,1516.2 2016,1510.4 2013.7,1510.4 2011.4,1504.2 2009.1,1504.2 2006.8,1492 2004.5,1492 2002.2,1490.9 1999.9,1490.9 1997.6,1498.4 1995.3,1498.4 1993,1499 1990.7,1499 1988.4,1498.1 1986.1,1498.1 1983.8,1494.8 1981.5,1494.8 1979.2,1497.3 1976.9,1497.3 1974.6,1496.4 1972.3,1496.4 1970,1487.2 1967.7,1487.2 1965.4,1490.7 1963.1,1490.7 1960.8,1489.7 1958.5,1489.7 1956.2,1487.8 1953.9,1487.8 1951.6,1487 1949.3,1487 1947,1485.4 1944.7,1485.4 1942.4,1483.9 1940.1,1483.9 1937.8,1482 1935.5,1482 1933.2,1481.3 1930.9,1481.3 1928.6,1480 1926.3,1480 1924,1474.2 1921.7,1474.2 1919.4,1479.9 1917.1,1479.9 1914.8,1476.6 1912.5,1476.6 1910.2,1482.8 1907.9,1482.8 1905.6,1481.6 1903.3,1481.6 1901,1483.3 1898.7,1483.3 1896.4,1484.6 1894.1,1484.6 1891.8,1480.9 1889.5,1480.9 1887.2,1481.7 1884.9,1481.7 1882.6,1479.2 1880.3,1479.2 1878,1484.2 1875.7,1484.2 1873.4,1480.8 1871.1,1480.8 1868.8,1484.2 1866.5,1484.2 1864.2,1482.6 1861.9,1482.6 1859.6,1483.6 1857.3,1483.6 1855,1481.8 1852.7,1481.8 1850.4,1481.4 1848.1,1481.4 1845.8,1482.8 1843.5,1482.8 1841.2,1480.2 1838.9,1480.2 1836.6,1481.1 1834.3,1481.1 1832,1477.8 1829.7,1477.8 1827.4,1477.9 1825.1,1477.9 1822.8,1475.7 1820.5,1475.7 1818.2,1474.7 1815.9,1474.7 1813.6,1477.1 1811.3,1477.1 1809,1473.3 1806.7,1473.3 1804.4,1472.6 1802.1,1472.6 1799.8,1474.2 1797.5,1474.2 1795.2,1470.6 1792.9,1470.6 1790.6,1470.5 1788.3,1470.5 1786,1469 1783.7,1469 1781.4,1469.8 1779.1,1469.8 1776.8,1469.8 1774.5,1469.8 1772.2,1472.1 1769.9,1472.1 1767.6,1476.4 1765.3,1476.4 1763,1482.5 1760.7,1482.5 1758.4,1488.7 1756.1,1488.7 1753.8,1494.1 1751.5,1494.1 1749.2,1497.2 1746.9,1497.2 1744.6,1489.9 1742.3,1489.9 1740,1482.5 1737.7,1482.5 1735.4,1475.3 1733.1,1475.3 1730.8,1466.1 1728.5,1466.1 1726.2,1453 1723.9,1453 1721.7,1455.2 1719.3,1455.2"/>
<path d="M1740.6 1381.6V1333.9M1760.2 1370.3V1326.9M1791.9 1353.5V1326.9M1818.8 1352.1V1305.9M1833.5 1360.5V1326.9M1955.7 1375.5V1323.4M1992.4 1395.5V1352.1M2029.1 1420V1352.1M2053.5 1381.5V1355.6M2102.4 1381.5V1341.6M2200.2 1246.8V1198.8M2249.1 1235.9V1159M2280.9 1236.6V1187.6M1760.2 1480.1V1513M1980.2 1493.4V1523.5M2029.1 1521.4V1541M2058.4 1528.4V1555.7M1874.8 1381.6V1360.8M2059.7 1388.8V1377M1817.8 1357.2V1342.9M2228.6 1235.2V1222.8M1805.3 1353.8V1333.7M1949.7 1384.2V1364.3M2139.1 1350.1V1332.2M1743.3 1384.7V1367.7M2021.7 1424.4V1407.4M2216.2 1239.1V1219.3M2263.3 1249.9V1235.7M1871 1379.3V1362.3M2300.7 1237.6V1218.4M1785.1 1363.6V1350.1M2254.4 1245.6V1231M2028.6 1425.6V1416.6M1902.2 1388.9V1377.6M2219.4 1238.1V1221.9M2296.2 1236.7V1220.1M1839.4 1372.8V1361.9M1987.9 1396.4V1377.4M2130.6 1362.6V1347.5M1740.1 1387.8V1378.7M1868.2 1381.2V1370.7M2172.4 1291.9V1275.9M1753.1 1378.4V1362.6M1876.2 1382.4V1370.3M2064.6 1390.1V1374M1839.7 1373.2V1364.3M2279.3 1243V1225M2175.3 1286.8V1273.9M1802.3 1355V1334.5M2117.3 1381.9V1361.4M1972.8 1380.4V1361.3M2170.7 1294.9V1286.4M2084.1 1391.9V1381.5M2197.6 1255.1V1238.2M2269.4 1247.3V1227.1M1804.6 1354V1335.2M2162.9 1308.5V1288.9M2087 1391.2V1376.1M2201.2 1251.5V1233.3M1847.7 1382V1367.3M1978.2 1386.1V1373.5M2308.1 1241.9V1232.1M1733.8 1393.9V1378M1776.8 1369V1358M1793 1358.8V1344.6M1919.1 1378.8V1367.1M2255.3 1246.3V1228.2M1814.6 1355.4V1345.9M2188.3 1264.4V1249M1915.9 1380.7V1370.8M1843.2 1377.1V1363.7M2283.6 1241.2V1225.8M1875.3 1381.9V1369.8M2261.7 1250.6V1237.2M1892.7 1392.4V1383.1M2099.3 1388V1372.6M1843.2 1377.1V1357.9M1834.8 1367.7V1350.5M2019.9 1424.1V1407.1M1752.9 1378.5V1365.6M1768.6 1373.1V1354.8M1730.2 1397.5V1380.6M1903 1473.1V1484.2M1801 1464.5V1482.3M2198.4 1374V1390.2M2210.9 1381.2V1398.1M1988 1488.1V1504.8M1835.3 1470.1V1489.8M1899.8 1473.3V1491.1M1852.7 1473V1491.7M2182.6 1374.3V1394.8M1731 1459V1473.2M2158.7 1401V1421.6M1822.1 1467.9V1477.2M1971.7 1484.9V1494.6M1972.3 1485.1V1502.9M1989 1488.2V1505.2M2108 1448.4V1460.1M2213.8 1380.4V1396.9M1946 1476.5V1490.4M1912.1 1472.6V1482.2M1804.2 1465V1485.1M1748.2 1488.7V1502.7M2067.6 1503.2V1523.7M1897.9 1473.4V1485.7M2023.2 1509.3V1523.7M1838.6 1470.7V1484.2M1940.7 1474.7V1494.5M1964.2 1482.4V1498.3M1742.5 1479.3V1489.5M1780.5 1461.1V1480.2M1906.3 1472.9V1484.4M2196.4 1372.9V1386.6M2040.4 1518.4V1532.2M1868.3 1474.9V1491.4M1876.7 1474.5V1491.9M1814.7 1466.7V1481.5M2307.5 1313.8V1333.1M1903.6 1473.1V1487.6M2189.5 1368.9V1388.7M2173.9 1384.5V1403.3M1872.5 1474.7V1488.6M1822.8 1468.1V1483.8M1930 1471.7V1487.1M1794.8 1463.4V1477.7M1866.7 1475V1490.3M2018.5 1504.2V1522.8M1742.3 1479.1V1489.1M1742.3 1479.1V1489.2M2087 1471.6V1491.2M2282.1 1339.3V1352.9M2064.6 1509.6V1526.1M2060.5 1518.2V1535.4M1732.4 1461.5V1473M2279.3 1339.3V1350.1M2268.2 1339.3V1356.6M1757.4 1477.7V1493.1M1968.1 1483.7V1501M1973.2 1485.4V1501.6M2248.3 1346.8V1359.7M1767.5 1465.6V1484.9M2155.9 1403.4V1412.8M1901.3 1473.2V1489.3M2269.2 1339.3V1352.1M2152.6 1406.3V1415.1M1879.1 1474.4V1487.5M2001 1488.9V1506.4" stroke="#D95319" stroke-width="2.6" fill="none"/>
<path d="M1736.6 1333.9a4 4 0 1 0 8 0a4 4 0 1 0 -8 0M1756.2 1326.9a4 4 0 1 0 8 0a4 4 0 1 0 -8 0M1787.9 1326.9a4 4 0 1 0 8 0a4 4 0 1 0 -8 0M1814.8 1305.9a4 4 0 1 0 8 0a4 4 0 1 0 -8 0M1829.5 1326.9a4 4 0 1 0 8 0a4 4 0 1 0 -8 0M1951.7 1323.4a4 4 0 1 0 8 0a4 4 0 1 0 -8 0M1988.4 1352.1a4 4 0 1 0 8 0a4 4 0 1 0 -8 0M2025.1 1352.1a4 4 0 1 0 8 0a4 4 0 1 0 -8 0M2049.5 1355.6a4 4 0 1 0 8 0a4 4 0 1 0 -8 0M2098.4 1341.6a4 4 0 1 0 8 0a4 4 0 1 0 -8 0M2196.2 1198.8a4 4 0 1 0 8 0a4 4 0 1 0 -8 0M2245.1 1159a4 4 0 1 0 8 0a4 4 0 1 0 -8 0M2276.9 1187.6a4 4 0 1 0 8 0a4 4 0 1 0 -8 0M1756.2 1513a4 4 0 1 0 8 0a4 4 0 1 0 -8 0M1976.2 1523.5a4 4 0 1 0 8 0a4 4 0 1 0 -8 0M2025.1 1541a4 4 0 1 0 8 0a4 4 0 1 0 -8 0M2054.4 1555.7a4 4 0 1 0 8 0a4 4 0 1 0 -8 0M1870.8 1360.8a4 4 0 1 0 8 0a4 4 0 1 0 -8 0M2055.7 1377a4 4 0 1 0 8 0a4 4 0 1 0 -8 0M1813.8 1342.9a4 4 0 1 0 8 0a4 4 0 1 0 -8 0M2224.6 1222.8a4 4 0 1 0 8 0a4 4 0 1 0 -8 0M1801.3 1333.7a4 4 0 1 0 8 0a4 4 0 1 0 -8 0M1945.7 1364.3a4 4 0 1 0 8 0a4 4 0 1 0 -8 0M2135.1 1332.2a4 4 0 1 0 8 0a4 4 0 1 0 -8 0M1739.3 1367.7a4 4 0 1 0 8 0a4 4 0 1 0 -8 0M2017.7 1407.4a4 4 0 1 0 8 0a4 4 0 1 0 -8 0M2212.2 1219.3a4 4 0 1 0 8 0a4 4 0 1 0 -8 0M2259.3 1235.7a4 4 0 1 0 8 0a4 4 0 1 0 -8 0M1867 1362.3a4 4 0 1 0 8 0a4 4 0 1 0 -8 0M2296.7 1218.4a4 4 0 1 0 8 0a4 4 0 1 0 -8 0M1781.1 1350.1a4 4 0 1 0 8 0a4 4 0 1 0 -8 0M2250.4 1231a4 4 0 1 0 8 0a4 4 0 1 0 -8 0M2024.6 1416.6a4 4 0 1 0 8 0a4 4 0 1 0 -8 0M1898.2 1377.6a4 4 0 1 0 8 0a4 4 0 1 0 -8 0M2215.4 1221.9a4 4 0 1 0 8 0a4 4 0 1 0 -8 0M2292.2 1220.1a4 4 0 1 0 8 0a4 4 0 1 0 -8 0M1835.4 1361.9a4 4 0 1 0 8 0a4 4 0 1 0 -8 0M1983.9 1377.4a4 4 0 1 0 8 0a4 4 0 1 0 -8 0M2126.6 1347.5a4 4 0 1 0 8 0a4 4 0 1 0 -8 0M1736.1 1378.7a4 4 0 1 0 8 0a4 4 0 1 0 -8 0M1864.2 1370.7a4 4 0 1 0 8 0a4 4 0 1 0 -8 0M2168.4 1275.9a4 4 0 1 0 8 0a4 4 0 1 0 -8 0M1749.1 1362.6a4 4 0 1 0 8 0a4 4 0 1 0 -8 0M1872.2 1370.3a4 4 0 1 0 8 0a4 4 0 1 0 -8 0M2060.6 1374a4 4 0 1 0 8 0a4 4 0 1 0 -8 0M1835.7 1364.3a4 4 0 1 0 8 0a4 4 0 1 0 -8 0M2275.3 1225a4 4 0 1 0 8 0a4 4 0 1 0 -8 0M2171.3 1273.9a4 4 0 1 0 8 0a4 4 0 1 0 -8 0M1798.3 1334.5a4 4 0 1 0 8 0a4 4 0 1 0 -8 0M2113.3 1361.4a4 4 0 1 0 8 0a4 4 0 1 0 -8 0M1968.8 1361.3a4 4 0 1 0 8 0a4 4 0 1 0 -8 0M2166.7 1286.4a4 4 0 1 0 8 0a4 4 0 1 0 -8 0M2080.1 1381.5a4 4 0 1 0 8 0a4 4 0 1 0 -8 0M2193.6 1238.2a4 4 0 1 0 8 0a4 4 0 1 0 -8 0M2265.4 1227.1a4 4 0 1 0 8 0a4 4 0 1 0 -8 0M1800.6 1335.2a4 4 0 1 0 8 0a4 4 0 1 0 -8 0M2158.9 1288.9a4 4 0 1 0 8 0a4 4 0 1 0 -8 0M2083 1376.1a4 4 0 1 0 8 0a4 4 0 1 0 -8 0M2197.2 1233.3a4 4 0 1 0 8 0a4 4 0 1 0 -8 0M1843.7 1367.3a4 4 0 1 0 8 0a4 4 0 1 0 -8 0M1974.2 1373.5a4 4 0 1 0 8 0a4 4 0 1 0 -8 0M2304.1 1232.1a4 4 0 1 0 8 0a4 4 0 1 0 -8 0M1729.8 1378a4 4 0 1 0 8 0a4 4 0 1 0 -8 0M1772.8 1358a4 4 0 1 0 8 0a4 4 0 1 0 -8 0M1789 1344.6a4 4 0 1 0 8 0a4 4 0 1 0 -8 0M1915.1 1367.1a4 4 0 1 0 8 0a4 4 0 1 0 -8 0M2251.3 1228.2a4 4 0 1 0 8 0a4 4 0 1 0 -8 0M1810.6 1345.9a4 4 0 1 0 8 0a4 4 0 1 0 -8 0M2184.3 1249a4 4 0 1 0 8 0a4 4 0 1 0 -8 0M1911.9 1370.8a4 4 0 1 0 8 0a4 4 0 1 0 -8 0M1839.2 1363.7a4 4 0 1 0 8 0a4 4 0 1 0 -8 0M2279.6 1225.8a4 4 0 1 0 8 0a4 4 0 1 0 -8 0M1871.3 1369.8a4 4 0 1 0 8 0a4 4 0 1 0 -8 0M2257.7 1237.2a4 4 0 1 0 8 0a4 4 0 1 0 -8 0M1888.7 1383.1a4 4 0 1 0 8 0a4 4 0 1 0 -8 0M2095.3 1372.6a4 4 0 1 0 8 0a4 4 0 1 0 -8 0M1839.2 1357.9a4 4 0 1 0 8 0a4 4 0 1 0 -8 0M1830.8 1350.5a4 4 0 1 0 8 0a4 4 0 1 0 -8 0M2015.9 1407.1a4 4 0 1 0 8 0a4 4 0 1 0 -8 0M1748.9 1365.6a4 4 0 1 0 8 0a4 4 0 1 0 -8 0M1764.6 1354.8a4 4 0 1 0 8 0a4 4 0 1 0 -8 0M1726.2 1380.6a4 4 0 1 0 8 0a4 4 0 1 0 -8 0M1899 1484.2a4 4 0 1 0 8 0a4 4 0 1 0 -8 0M1797 1482.3a4 4 0 1 0 8 0a4 4 0 1 0 -8 0M2194.4 1390.2a4 4 0 1 0 8 0a4 4 0 1 0 -8 0M2206.9 1398.1a4 4 0 1 0 8 0a4 4 0 1 0 -8 0M1984 1504.8a4 4 0 1 0 8 0a4 4 0 1 0 -8 0M1831.3 1489.8a4 4 0 1 0 8 0a4 4 0 1 0 -8 0M1895.8 1491.1a4 4 0 1 0 8 0a4 4 0 1 0 -8 0M1848.7 1491.7a4 4 0 1 0 8 0a4 4 0 1 0 -8 0M2178.6 1394.8a4 4 0 1 0 8 0a4 4 0 1 0 -8 0M1727 1473.2a4 4 0 1 0 8 0a4 4 0 1 0 -8 0M2154.7 1421.6a4 4 0 1 0 8 0a4 4 0 1 0 -8 0M1818.1 1477.2a4 4 0 1 0 8 0a4 4 0 1 0 -8 0M1967.7 1494.6a4 4 0 1 0 8 0a4 4 0 1 0 -8 0M1968.3 1502.9a4 4 0 1 0 8 0a4 4 0 1 0 -8 0M1985 1505.2a4 4 0 1 0 8 0a4 4 0 1 0 -8 0M2104 1460.1a4 4 0 1 0 8 0a4 4 0 1 0 -8 0M2209.8 1396.9a4 4 0 1 0 8 0a4 4 0 1 0 -8 0M1942 1490.4a4 4 0 1 0 8 0a4 4 0 1 0 -8 0M1908.1 1482.2a4 4 0 1 0 8 0a4 4 0 1 0 -8 0M1800.2 1485.1a4 4 0 1 0 8 0a4 4 0 1 0 -8 0M1744.2 1502.7a4 4 0 1 0 8 0a4 4 0 1 0 -8 0M2063.6 1523.7a4 4 0 1 0 8 0a4 4 0 1 0 -8 0M1893.9 1485.7a4 4 0 1 0 8 0a4 4 0 1 0 -8 0M2019.2 1523.7a4 4 0 1 0 8 0a4 4 0 1 0 -8 0M1834.6 1484.2a4 4 0 1 0 8 0a4 4 0 1 0 -8 0M1936.7 1494.5a4 4 0 1 0 8 0a4 4 0 1 0 -8 0M1960.2 1498.3a4 4 0 1 0 8 0a4 4 0 1 0 -8 0M1738.5 1489.5a4 4 0 1 0 8 0a4 4 0 1 0 -8 0M1776.5 1480.2a4 4 0 1 0 8 0a4 4 0 1 0 -8 0M1902.3 1484.4a4 4 0 1 0 8 0a4 4 0 1 0 -8 0M2192.4 1386.6a4 4 0 1 0 8 0a4 4 0 1 0 -8 0M2036.4 1532.2a4 4 0 1 0 8 0a4 4 0 1 0 -8 0M1864.3 1491.4a4 4 0 1 0 8 0a4 4 0 1 0 -8 0M1872.7 1491.9a4 4 0 1 0 8 0a4 4 0 1 0 -8 0M1810.7 1481.5a4 4 0 1 0 8 0a4 4 0 1 0 -8 0M2303.5 1333.1a4 4 0 1 0 8 0a4 4 0 1 0 -8 0M1899.6 1487.6a4 4 0 1 0 8 0a4 4 0 1 0 -8 0M2185.5 1388.7a4 4 0 1 0 8 0a4 4 0 1 0 -8 0M2169.9 1403.3a4 4 0 1 0 8 0a4 4 0 1 0 -8 0M1868.5 1488.6a4 4 0 1 0 8 0a4 4 0 1 0 -8 0M1818.8 1483.8a4 4 0 1 0 8 0a4 4 0 1 0 -8 0M1926 1487.1a4 4 0 1 0 8 0a4 4 0 1 0 -8 0M1790.8 1477.7a4 4 0 1 0 8 0a4 4 0 1 0 -8 0M1862.7 1490.3a4 4 0 1 0 8 0a4 4 0 1 0 -8 0M2014.5 1522.8a4 4 0 1 0 8 0a4 4 0 1 0 -8 0M1738.3 1489.1a4 4 0 1 0 8 0a4 4 0 1 0 -8 0M1738.3 1489.2a4 4 0 1 0 8 0a4 4 0 1 0 -8 0M2083 1491.2a4 4 0 1 0 8 0a4 4 0 1 0 -8 0M2278.1 1352.9a4 4 0 1 0 8 0a4 4 0 1 0 -8 0M2060.6 1526.1a4 4 0 1 0 8 0a4 4 0 1 0 -8 0M2056.5 1535.4a4 4 0 1 0 8 0a4 4 0 1 0 -8 0M1728.4 1473a4 4 0 1 0 8 0a4 4 0 1 0 -8 0M2275.3 1350.1a4 4 0 1 0 8 0a4 4 0 1 0 -8 0M2264.2 1356.6a4 4 0 1 0 8 0a4 4 0 1 0 -8 0M1753.4 1493.1a4 4 0 1 0 8 0a4 4 0 1 0 -8 0M1964.1 1501a4 4 0 1 0 8 0a4 4 0 1 0 -8 0M1969.2 1501.6a4 4 0 1 0 8 0a4 4 0 1 0 -8 0M2244.3 1359.7a4 4 0 1 0 8 0a4 4 0 1 0 -8 0M1763.5 1484.9a4 4 0 1 0 8 0a4 4 0 1 0 -8 0M2151.9 1412.8a4 4 0 1 0 8 0a4 4 0 1 0 -8 0M1897.3 1489.3a4 4 0 1 0 8 0a4 4 0 1 0 -8 0M2265.2 1352.1a4 4 0 1 0 8 0a4 4 0 1 0 -8 0M2148.6 1415.1a4 4 0 1 0 8 0a4 4 0 1 0 -8 0M1875.1 1487.5a4 4 0 1 0 8 0a4 4 0 1 0 -8 0M1997 1506.4a4 4 0 1 0 8 0a4 4 0 1 0 -8 0" fill="#D95319"/>
<polygon fill="#0072BD" points="1719.3,1459.3 1721.7,1459.3 1723.9,1457.5 1726.2,1457.5 1728.5,1456.5 1730.8,1456.5 1733.1,1456.3 1735.4,1456.3 1737.7,1451.9 1740,1451.9 1742.3,1449.4 1744.6,1449.4 1746.9,1448.1 1749.2,1448.1 1751.5,1449.5 1753.8,1449.5 1756.1,1451.9 1758.4,1451.9 1760.7,1454.9 1763,1454.9 1765.3,1456.8 1767.6,1456.8 1769.9,1458.3 1772.2,1458.3 1774.5,1458.1 1776.8,1458.1 1779.1,1458.1 1781.4,1458.1 1783.7,1457.5 1786,1457.5 1788.3,1456.9 1790.6,1456.9 1792.9,1455.4 1795.2,1455.4 1797.5,1457.1 1799.8,1457.1 1802.1,1453.5 1804.4,1453.5 1806.7,1452.6 1809,1452.6 1811.3,1450.1 1813.6,1450.1 1815.9,1449.1 1818.2,1449.1 1820.5,1447.8 1822.8,1447.8 1825.1,1444.8 1827.4,1444.8 1829.7,1444.3 1832,1444.3 1834.3,1446 1836.6,1446 1838.9,1436.8 1841.2,1436.8 1843.5,1442.1 1845.8,1442.1 1848.1,1431.5 1850.4,1431.5 1852.7,1428.7 1855,1428.7 1857.3,1427 1859.6,1427 1861.9,1424.3 1864.2,1424.3 1866.5,1423.4 1868.8,1423.4 1871.1,1421.5 1873.4,1421.5 1875.7,1418.9 1878,1418.9 1880.3,1416.7 1882.6,1416.7 1884.9,1424.2 1887.2,1424.2 1889.5,1428.1 1891.8,1428.1 1894.1,1432.8 1896.4,1432.8 1898.7,1434.2 1901,1434.2 1903.3,1435.7 1905.6,1435.7 1907.9,1434.8 1910.2,1434.8 1912.5,1435.4 1914.8,1435.4 1917.1,1437.5 1919.4,1437.5 1921.7,1438.4 1924,1438.4 1926.3,1440 1928.6,1440 1930.9,1443.1 1933.2,1443.1 1935.5,1445.8 1937.8,1445.8 1940.1,1454 1942.4,1454 1944.7,1447.7 1947,1447.7 1949.3,1447.7 1951.6,1447.7 1953.9,1448.1 1956.2,1448.1 1958.5,1444.7 1960.8,1444.7 1963.1,1444.3 1965.4,1444.3 1967.7,1444 1970,1444 1972.3,1451.8 1974.6,1451.8 1976.9,1447.6 1979.2,1447.6 1981.5,1448.1 1983.8,1448.1 1986.1,1450.8 1988.4,1450.8 1990.7,1452 1993,1452 1995.3,1453.1 1997.6,1453.1 1999.9,1454.5 2002.2,1454.5 2004.5,1457.9 2006.8,1457.9 2009.1,1458.8 2011.4,1458.8 2013.7,1462 2016,1462 2018.3,1464.5 2020.6,1464.5 2022.9,1475.4 2025.2,1475.4 2027.5,1473 2029.8,1473 2032.1,1469.7 2034.4,1469.7 2036.7,1468.4 2039,1468.4 2041.3,1464.6 2043.6,1464.6 2045.9,1462.4 2048.2,1462.4 2050.5,1458.8 2052.8,1458.8 2055.1,1456.8 2057.4,1456.8 2059.7,1454.4 2062,1454.4 2064.3,1452 2066.6,1452 2068.9,1452.2 2071.2,1452.2 2073.5,1451.6 2075.8,1451.6 2078.1,1451.6 2080.4,1451.6 2082.7,1452.4 2085,1452.4 2087.3,1458.7 2089.6,1458.7 2091.9,1452.8 2094.2,1452.8 2096.5,1453.4 2098.8,1453.4 2101.1,1455.3 2103.4,1455.3 2105.7,1457 2108,1457 2110.3,1457.8 2112.6,1457.8 2114.9,1457.1 2117.2,1457.1 2119.5,1453.4 2121.8,1453.4 2124.1,1451.9 2126.4,1451.9 2128.7,1447.8 2131,1447.8 2133.3,1451.3 2135.6,1451.3 2137.9,1440.7 2140.2,1440.7 2142.5,1438.7 2144.8,1438.7 2147.1,1438.1 2149.4,1438.1 2151.7,1436.1 2154,1436.1 2156.3,1434.3 2158.6,1434.3 2160.9,1433 2163.2,1433 2165.5,1431.8 2167.8,1431.8 2170.1,1430.4 2172.4,1430.4 2174.7,1430.3 2177,1430.3 2179.3,1428 2181.6,1428 2183.9,1427.5 2186.2,1427.5 2188.5,1425.6 2190.8,1425.6 2193.1,1421.1 2195.4,1421.1 2197.7,1417.6 2200,1417.6 2202.3,1415.3 2204.6,1415.3 2206.9,1411.5 2209.2,1411.5 2211.5,1407.5 2213.8,1407.5 2216.1,1407.9 2218.4,1407.9 2220.7,1407.9 2223,1407.9 2225.3,1408.4 2227.6,1408.4 2229.9,1408.9 2232.2,1408.9 2234.5,1410 2236.8,1410 2239.1,1410 2241.4,1410 2243.7,1412.4 2246,1412.4 2248.3,1415.1 2250.6,1415.1 2252.9,1418.9 2255.2,1418.9 2257.5,1420.8 2259.8,1420.8 2262.1,1421.5 2264.4,1421.5 2266.7,1419.8 2269,1419.8 2271.3,1418.4 2273.6,1418.4 2275.9,1415.4 2278.2,1415.4 2280.5,1413.5 2282.8,1413.5 2285.1,1412.6 2287.4,1412.6 2289.7,1413.7 2292,1413.7 2294.3,1413.9 2296.6,1413.9 2298.9,1415.3 2301.2,1415.3 2303.5,1415.8 2305.8,1415.8 2308.1,1415.4 2310.4,1415.4 2312.7,1415.3 2315,1415.3 2315,1452.3 2312.7,1452.3 2310.4,1453.2 2308.1,1453.2 2305.8,1452.6 2303.5,1452.6 2301.2,1451 2298.9,1451 2296.6,1450.1 2294.3,1450.1 2292,1450.4 2289.7,1450.4 2287.4,1448.4 2285.1,1448.4 2282.8,1443.9 2280.5,1443.9 2278.2,1443.4 2275.9,1443.4 2273.6,1455.4 2271.3,1455.4 2269,1464.6 2266.7,1464.6 2264.4,1474.6 2262.1,1474.6 2259.8,1471.1 2257.5,1471.1 2255.2,1472.8 2252.9,1472.8 2250.6,1469.9 2248.3,1469.9 2246,1465.4 2243.7,1465.4 2241.4,1462 2239.1,1462 2236.8,1459.7 2234.5,1459.7 2232.2,1457.8 2229.9,1457.8 2227.6,1457.2 2225.3,1457.2 2223,1455.4 2220.7,1455.4 2218.4,1453.9 2216.1,1453.9 2213.8,1453.2 2211.5,1453.2 2209.2,1457.6 2206.9,1457.6 2204.6,1462.9 2202.3,1462.9 2200,1468.1 2197.7,1468.1 2195.4,1471.7 2193.1,1471.7 2190.8,1475 2188.5,1475 2186.2,1477.1 2183.9,1477.1 2181.6,1477.4 2179.3,1477.4 2177,1485.3 2174.7,1485.3 2172.4,1478.7 2170.1,1478.7 2167.8,1474.8 2165.5,1474.8 2163.2,1471 2160.9,1471 2158.6,1474.2 2156.3,1474.2 2154,1476.4 2151.7,1476.4 2149.4,1478.5 2147.1,1478.5 2144.8,1480.3 2142.5,1480.3 2140.2,1481.1 2137.9,1481.1 2135.6,1487.3 2133.3,1487.3 2131,1489.3 2128.7,1489.3 2126.4,1490 2124.1,1490 2121.8,1493.2 2119.5,1493.2 2117.2,1495.5 2114.9,1495.5 2112.6,1494.5 2110.3,1494.5 2108,1495.5 2105.7,1495.5 2103.4,1495.3 2101.1,1495.3 2098.8,1495.4 2096.5,1495.4 2094.2,1495.7 2091.9,1495.7 2089.6,1496.8 2087.3,1496.8 2085,1498.6 2082.7,1498.6 2080.4,1500.7 2078.1,1500.7 2075.8,1501.3 2073.5,1501.3 2071.2,1503.8 2068.9,1503.8 2066.6,1506.4 2064.3,1506.4 2062,1507.3 2059.7,1507.3 2057.4,1506.6 2055.1,1506.6 2052.8,1508.9 2050.5,1508.9 2048.2,1509.6 2045.9,1509.6 2043.6,1510.2 2041.3,1510.2 2039,1509.1 2036.7,1509.1 2034.4,1507.1 2032.1,1507.1 2029.8,1505.4 2027.5,1505.4 2025.2,1505.2 2022.9,1505.2 2020.6,1503.1 2018.3,1503.1 2016,1502.7 2013.7,1502.7 2011.4,1500.3 2009.1,1500.3 2006.8,1499.9 2004.5,1499.9 2002.2,1497.3 1999.9,1497.3 1997.6,1496.2 1995.3,1496.2 1993,1495.8 1990.7,1495.8 1988.4,1494 1986.1,1494 1983.8,1493.6 1981.5,1493.6 1979.2,1493 1976.9,1493 1974.6,1492.5 1972.3,1492.5 1970,1491.2 1967.7,1491.2 1965.4,1489.4 1963.1,1489.4 1960.8,1487.1 1958.5,1487.1 1956.2,1483.9 1953.9,1483.9 1951.6,1482.3 1949.3,1482.3 1947,1479.2 1944.7,1479.2 1942.4,1476.8 1940.1,1476.8 1937.8,1475.2 1935.5,1475.2 1933.2,1473.3 1930.9,1473.3 1928.6,1471.4 1926.3,1471.4 1924,1467.8 1921.7,1467.8 1919.4,1466.3 1917.1,1466.3 1914.8,1467.1 1912.5,1467.1 1910.2,1466.1 1907.9,1466.1 1905.6,1466.9 1903.3,1466.9 1901,1466 1898.7,1466 1896.4,1466.5 1894.1,1466.5 1891.8,1468.7 1889.5,1468.7 1887.2,1471.1 1884.9,1471.1 1882.6,1473.3 1880.3,1473.3 1878,1475.4 1875.7,1475.4 1873.4,1476.8 1871.1,1476.8 1868.8,1477.7 1866.5,1477.7 1864.2,1478.7 1861.9,1478.7 1859.6,1479.9 1857.3,1479.9 1855,1480.7 1852.7,1480.7 1850.4,1480.2 1848.1,1480.2 1845.8,1480.5 1843.5,1480.5 1841.2,1483.9 1838.9,1483.9 1836.6,1485.3 1834.3,1485.3 1832,1480.6 1829.7,1480.6 1827.4,1490.1 1825.1,1490.1 1822.8,1491.8 1820.5,1491.8 1818.2,1492.2 1815.9,1492.2 1813.6,1491.8 1811.3,1491.8 1809,1492.3 1806.7,1492.3 1804.4,1491.4 1802.1,1491.4 1799.8,1491.3 1797.5,1491.3 1795.2,1489.8 1792.9,1489.8 1790.6,1491.6 1788.3,1491.6 1786,1492.5 1783.7,1492.5 1781.4,1492 1779.1,1492 1776.8,1491.1 1774.5,1491.1 1772.2,1492.2 1769.9,1492.2 1767.6,1492.8 1765.3,1492.8 1763,1494.2 1760.7,1494.2 1758.4,1496 1756.1,1496 1753.8,1494 1751.5,1494 1749.2,1498.1 1746.9,1498.1 1744.6,1500.1 1742.3,1500.1 1740,1495.3 1737.7,1495.3 1735.4,1503.3 1733.1,1503.3 1730.8,1503.4 1728.5,1503.4 1726.2,1501.3 1723.9,1501.3 1721.7,1504.4 1719.3,1504.4"/>
<path d="M2228 1416.1V1407.4M1960.9 1453V1442.9M2042.3 1472.9V1462.2M1743 1458.1V1446.3M1956 1453.9V1444.8M1789.7 1464V1451.1M1755.6 1459.3V1446.1M2287.7 1420.6V1409.1M1883.3 1425.1V1415.6M2218.5 1416.1V1404.4M2259.5 1429.7V1417.2M1981.2 1456V1442.6M2277.8 1423.7V1411.7M2075.8 1459.5V1449.3M1727.8 1464.6V1452.7M1890.1 1434.8V1422.1M1795.6 1463.2V1453.1M1829.5 1451.1V1438.4M2238.3 1417V1406.9M2033.2 1499.6V1513M1880 1465.5V1474.2M2260.7 1469.5V1479.6M2136.3 1478.2V1490.4M2209.2 1448.5V1460.7M1864.8 1470.8V1480.1M2016.4 1494.4V1504.4M2008.8 1492.2V1504.8M1775 1484V1493.2M2107.9 1487.5V1499.9M1961 1480V1489.4M2079.8 1491.9V1501.1M1989.2 1487V1496.9M1901.2 1458.8V1468M2248.9 1460.8V1471M2209 1448.7V1460.7M1968.4 1484V1495.1M2299.8 1443.3V1453.8M1989.1 1487V1496.5" stroke="#0072BD" stroke-width="2.6" fill="none"/>
<path d="M2224 1407.4a4 4 0 1 0 8 0a4 4 0 1 0 -8 0M1956.9 1442.9a4 4 0 1 0 8 0a4 4 0 1 0 -8 0M2038.3 1462.2a4 4 0 1 0 8 0a4 4 0 1 0 -8 0M1739 1446.3a4 4 0 1 0 8 0a4 4 0 1 0 -8 0M1952 1444.8a4 4 0 1 0 8 0a4 4 0 1 0 -8 0M1785.7 1451.1a4 4 0 1 0 8 0a4 4 0 1 0 -8 0M1751.6 1446.1a4 4 0 1 0 8 0a4 4 0 1 0 -8 0M2283.7 1409.1a4 4 0 1 0 8 0a4 4 0 1 0 -8 0M1879.3 1415.6a4 4 0 1 0 8 0a4 4 0 1 0 -8 0M2214.5 1404.4a4 4 0 1 0 8 0a4 4 0 1 0 -8 0M2255.5 1417.2a4 4 0 1 0 8 0a4 4 0 1 0 -8 0M1977.2 1442.6a4 4 0 1 0 8 0a4 4 0 1 0 -8 0M2273.8 1411.7a4 4 0 1 0 8 0a4 4 0 1 0 -8 0M2071.8 1449.3a4 4 0 1 0 8 0a4 4 0 1 0 -8 0M1723.8 1452.7a4 4 0 1 0 8 0a4 4 0 1 0 -8 0M1886.1 1422.1a4 4 0 1 0 8 0a4 4 0 1 0 -8 0M1791.6 1453.1a4 4 0 1 0 8 0a4 4 0 1 0 -8 0M1825.5 1438.4a4 4 0 1 0 8 0a4 4 0 1 0 -8 0M2234.3 1406.9a4 4 0 1 0 8 0a4 4 0 1 0 -8 0M2029.2 1513a4 4 0 1 0 8 0a4 4 0 1 0 -8 0M1876 1474.2a4 4 0 1 0 8 0a4 4 0 1 0 -8 0M2256.7 1479.6a4 4 0 1 0 8 0a4 4 0 1 0 -8 0M2132.3 1490.4a4 4 0 1 0 8 0a4 4 0 1 0 -8 0M2205.2 1460.7a4 4 0 1 0 8 0a4 4 0 1 0 -8 0M1860.8 1480.1a4 4 0 1 0 8 0a4 4 0 1 0 -8 0M2012.4 1504.4a4 4 0 1 0 8 0a4 4 0 1 0 -8 0M2004.8 1504.8a4 4 0 1 0 8 0a4 4 0 1 0 -8 0M1771 1493.2a4 4 0 1 0 8 0a4 4 0 1 0 -8 0M2103.9 1499.9a4 4 0 1 0 8 0a4 4 0 1 0 -8 0M1957 1489.4a4 4 0 1 0 8 0a4 4 0 1 0 -8 0M2075.8 1501.1a4 4 0 1 0 8 0a4 4 0 1 0 -8 0M1985.2 1496.9a4 4 0 1 0 8 0a4 4 0 1 0 -8 0M1897.2 1468a4 4 0 1 0 8 0a4 4 0 1 0 -8 0M2244.9 1471a4 4 0 1 0 8 0a4 4 0 1 0 -8 0M2205 1460.7a4 4 0 1 0 8 0a4 4 0 1 0 -8 0M1964.4 1495.1a4 4 0 1 0 8 0a4 4 0 1 0 -8 0M2295.8 1453.8a4 4 0 1 0 8 0a4 4 0 1 0 -8 0M1985.1 1496.5a4 4 0 1 0 8 0a4 4 0 1 0 -8 0" fill="#0072BD"/>
</g>
<path d="M1723.5 1860.8v-11.5M1723.5 1021.1v11.5M1821.3 1860.8v-11.5M1821.3 1021.1v11.5M1919.1 1860.8v-11.5M1919.1 1021.1v11.5M2016.8 1860.8v-11.5M2016.8 1021.1v11.5M2114.6 1860.8v-11.5M2114.6 1021.1v11.5M2212.4 1860.8v-11.5M2212.4 1021.1v11.5M2310.2 1860.8v-11.5M2310.2 1021.1v11.5M1723.5 1860.8h11.5M2310.2 1860.8h-11.5M1723.5 1720.8h11.5M2310.2 1720.8h-11.5M1723.5 1580.9h11.5M2310.2 1580.9h-11.5M1723.5 1441h11.5M2310.2 1441h-11.5M1723.5 1301h11.5M2310.2 1301h-11.5M1723.5 1161h11.5M2310.2 1161h-11.5M1723.5 1021.1h11.5M2310.2 1021.1h-11.5" stroke="#262626" stroke-width="3" fill="none"/>
<rect x="1723.5" y="1021.1" width="586.7" height="839.7" fill="none" stroke="#222" stroke-width="4.3"/>
<g font-size="59" fill="#383838"><text x="1733" y="1937.3" text-anchor="middle">0</text><text x="1824.3" y="1937.3" text-anchor="middle">04</text><text x="1921.1" y="1937.3" text-anchor="middle">08</text><text x="2020.3" y="1937.3" text-anchor="middle">12</text><text x="2116.1" y="1937.3" text-anchor="middle">16</text><text x="2213.9" y="1937.3" text-anchor="middle">20</text><text x="2308" y="1937.3" text-anchor="middle">24</text><text x="1703" y="1884.3" text-anchor="end">−6</text><text x="1703" y="1744.3" text-anchor="end">−4</text><text x="1703" y="1604.4" text-anchor="end">−2</text><text x="1699.5" y="1464.5" text-anchor="end">0</text><text x="1699.5" y="1324.5" text-anchor="end">2</text><text x="1699.5" y="1184.5" text-anchor="end">4</text><text x="1699.5" y="1044.6" text-anchor="end">6</text></g>
<text x="1750.3" y="1093.3" font-size="61" fill="#111" textLength="57.3" lengthAdjust="spacingAndGlyphs">(f)</text>
<text x="1826.1" y="1093.3" font-size="61" fill="#111" textLength="159.9" lengthAdjust="spacingAndGlyphs">SFER</text>
<clipPath id="cg"><rect x="235" y="2001.8" width="586.6" height="853.8"/></clipPath>
<path d="M332.8 2001.8V2855.6M430.5 2001.8V2855.6M528.3 2001.8V2855.6M626.1 2001.8V2855.6M723.8 2001.8V2855.6" stroke="#262626" stroke-opacity="0.145" stroke-width="3.6" fill="none"/>
<path d="M235 2713.3H821.6M235 2571H821.6M235 2428.7H821.6M235 2286.4H821.6M235 2144.1H821.6" stroke="#262626" stroke-opacity="0.145" stroke-width="3.6" fill="none"/>
<g clip-path="url(#cg)">
<polygon fill="#D95319" points="230.8,2419.1 233.2,2419.1 235.4,2417.1 237.8,2417.1 240,2417 242.3,2417 244.6,2417.5 246.9,2417.5 249.2,2418.3 251.5,2418.3 253.8,2416.4 256.1,2416.4 258.4,2416.5 260.7,2416.5 263,2416 265.3,2416 267.6,2416.1 269.9,2416.1 272.2,2415.3 274.5,2415.3 276.8,2416.3 279.1,2416.3 281.4,2417.2 283.7,2417.2 286,2416.6 288.3,2416.6 290.6,2414.6 292.9,2414.6 295.2,2414.7 297.5,2414.7 299.8,2414 302.1,2414 304.4,2422.2 306.7,2422.2 309,2414.2 311.3,2414.2 313.6,2414.3 315.9,2414.3 318.2,2421.6 320.5,2421.6 322.8,2412.8 325.1,2412.8 327.4,2413.1 329.7,2413.1 332,2413.2 334.3,2413.2 336.6,2412.3 338.9,2412.3 341.2,2412 343.5,2412 345.8,2411.6 348.1,2411.6 350.4,2412.9 352.7,2412.9 355,2412.1 357.3,2412.1 359.6,2412.8 361.9,2412.8 364.2,2411 366.5,2411 368.8,2411.3 371.1,2411.3 373.4,2412.4 375.7,2412.4 378,2410.5 380.3,2410.5 382.6,2409.2 384.9,2409.2 387.2,2407.7 389.5,2407.7 391.8,2404.5 394.1,2404.5 396.4,2401.6 398.7,2401.6 401,2403.3 403.3,2403.3 405.6,2395.7 407.9,2395.7 410.2,2391.5 412.5,2391.5 414.8,2389.1 417.1,2389.1 419.4,2388.2 421.7,2388.2 424,2389.1 426.3,2389.1 428.6,2388.5 430.9,2388.5 433.2,2390.6 435.5,2390.6 437.8,2392.6 440.1,2392.6 442.4,2392.4 444.7,2392.4 447,2397.4 449.3,2397.4 451.6,2400.5 453.9,2400.5 456.2,2406 458.5,2406 460.8,2408 463.1,2408 465.4,2406.7 467.7,2406.7 470,2404.2 472.3,2404.2 474.6,2403.8 476.9,2403.8 479.2,2402.4 481.5,2402.4 483.8,2398.9 486.1,2398.9 488.4,2399 490.7,2399 493,2402.5 495.3,2402.5 497.6,2394.8 499.9,2394.8 502.2,2399.9 504.5,2399.9 506.8,2406.3 509.1,2406.3 511.4,2411 513.7,2411 516,2416.1 518.3,2416.1 520.6,2413.2 522.9,2413.2 525.2,2411.6 527.5,2411.6 529.8,2410.5 532.1,2410.5 534.4,2406.7 536.7,2406.7 539,2405.4 541.3,2405.4 543.6,2408.1 545.9,2408.1 548.2,2409.8 550.5,2409.8 552.8,2412.2 555.1,2412.2 557.4,2413.6 559.7,2413.6 562,2415.7 564.3,2415.7 566.6,2417.5 568.9,2417.5 571.2,2419.8 573.5,2419.8 575.8,2423.2 578.1,2423.2 580.4,2425.6 582.7,2425.6 585,2428 587.3,2428 589.6,2428.7 591.9,2428.7 594.2,2424.7 596.5,2424.7 598.8,2420.4 601.1,2420.4 603.4,2414.8 605.7,2414.8 608,2410.3 610.3,2410.3 612.6,2406.4 614.9,2406.4 617.2,2406.7 619.5,2406.7 621.8,2407.4 624.1,2407.4 626.4,2411.2 628.7,2411.2 631,2409.9 633.3,2409.9 635.6,2411.9 637.9,2411.9 640.2,2411.5 642.5,2411.5 644.8,2415.8 647.1,2415.8 649.4,2408.3 651.7,2408.3 654,2408.2 656.3,2408.2 658.6,2406.7 660.9,2406.7 663.2,2405 665.5,2405 667.8,2408.2 670.1,2408.2 672.4,2410.3 674.7,2410.3 677,2411.2 679.3,2411.2 681.6,2415 683.9,2415 686.2,2415.1 688.5,2415.1 690.8,2415.5 693.1,2415.5 695.4,2416.8 697.7,2416.8 700,2414.8 702.3,2414.8 704.6,2411.2 706.9,2411.2 709.2,2406.3 711.5,2406.3 713.8,2403 716.1,2403 718.4,2398 720.7,2398 723,2393.7 725.3,2393.7 727.6,2386 729.9,2386 732.2,2372.8 734.5,2372.8 736.8,2362.5 739.1,2362.5 741.4,2356 743.7,2356 746,2357.3 748.3,2357.3 750.6,2340.7 752.9,2340.7 755.2,2333 757.5,2333 759.8,2325.6 762.1,2325.6 764.4,2327.6 766.7,2327.6 769,2329.2 771.3,2329.2 773.6,2328.4 775.9,2328.4 778.2,2323 780.5,2323 782.8,2322.6 785.1,2322.6 787.4,2317 789.7,2317 792,2318.2 794.3,2318.2 796.6,2321 798.9,2321 801.2,2326.1 803.5,2326.1 805.8,2330.8 808.1,2330.8 810.4,2334.4 812.7,2334.4 815,2340.1 817.3,2340.1 819.6,2343.7 821.9,2343.7 824.2,2344.9 826.5,2344.9 826.5,2422.7 824.2,2422.7 821.9,2422.6 819.6,2422.6 817.3,2421.5 815,2421.5 812.7,2420.7 810.4,2420.7 808.1,2418.2 805.8,2418.2 803.5,2417.3 801.2,2417.3 798.9,2415.1 796.6,2415.1 794.3,2410.7 792,2410.7 789.7,2406.6 787.4,2406.6 785.1,2402.6 782.8,2402.6 780.5,2412.7 778.2,2412.7 775.9,2422.4 773.6,2422.4 771.3,2431.5 769,2431.5 766.7,2440.7 764.4,2440.7 762.1,2449.8 759.8,2449.8 757.5,2447.9 755.2,2447.9 752.9,2456 750.6,2456 748.3,2458.4 746,2458.4 743.7,2459.1 741.4,2459.1 739.1,2462.3 736.8,2462.3 734.5,2463.2 732.2,2463.2 729.9,2460.8 727.6,2460.8 725.3,2461 723,2461 720.7,2460.7 718.4,2460.7 716.1,2462.4 713.8,2462.4 711.5,2463.3 709.2,2463.3 706.9,2463.7 704.6,2463.7 702.3,2463.2 700,2463.2 697.7,2464 695.4,2464 693.1,2465.1 690.8,2465.1 688.5,2466 686.2,2466 683.9,2466.5 681.6,2466.5 679.3,2467.9 677,2467.9 674.7,2469 672.4,2469 670.1,2468.1 667.8,2468.1 665.5,2470 663.2,2470 660.9,2471.3 658.6,2471.3 656.3,2472.6 654,2472.6 651.7,2473.5 649.4,2473.5 647.1,2473.3 644.8,2473.3 642.5,2473.4 640.2,2473.4 637.9,2467.7 635.6,2467.7 633.3,2475.4 631,2475.4 628.7,2476.9 626.4,2476.9 624.1,2477.7 621.8,2477.7 619.5,2477.7 617.2,2477.7 614.9,2480.6 612.6,2480.6 610.3,2481.5 608,2481.5 605.7,2482.2 603.4,2482.2 601.1,2483.3 598.8,2483.3 596.5,2483.9 594.2,2483.9 591.9,2484 589.6,2484 587.3,2485.3 585,2485.3 582.7,2486.3 580.4,2486.3 578.1,2486.7 575.8,2486.7 573.5,2480.7 571.2,2480.7 568.9,2488.8 566.6,2488.8 564.3,2489 562,2489 559.7,2490.8 557.4,2490.8 555.1,2490.4 552.8,2490.4 550.5,2492.5 548.2,2492.5 545.9,2492.4 543.6,2492.4 541.3,2493.3 539,2493.3 536.7,2494.9 534.4,2494.9 532.1,2495.9 529.8,2495.9 527.5,2493 525.2,2493 522.9,2497.3 520.6,2497.3 518.3,2499.3 516,2499.3 513.7,2493.6 511.4,2493.6 509.1,2499.1 506.8,2499.1 504.5,2500.8 502.2,2500.8 499.9,2501.5 497.6,2501.5 495.3,2502.2 493,2502.2 490.7,2503.2 488.4,2503.2 486.1,2505.3 483.8,2505.3 481.5,2506 479.2,2506 476.9,2505.4 474.6,2505.4 472.3,2506.1 470,2506.1 467.7,2505 465.4,2505 463.1,2499.2 460.8,2499.2 458.5,2502.1 456.2,2502.1 453.9,2504.8 451.6,2504.8 449.3,2504.6 447,2504.6 444.7,2505.2 442.4,2505.2 440.1,2506.1 437.8,2506.1 435.5,2505.9 433.2,2505.9 430.9,2505.9 428.6,2505.9 426.3,2504.6 424,2504.6 421.7,2504.5 419.4,2504.5 417.1,2504.4 414.8,2504.4 412.5,2506.2 410.2,2506.2 407.9,2500.1 405.6,2500.1 403.3,2504.6 401,2504.6 398.7,2501.8 396.4,2501.8 394.1,2499.8 391.8,2499.8 389.5,2499.6 387.2,2499.6 384.9,2497 382.6,2497 380.3,2496.2 378,2496.2 375.7,2495.9 373.4,2495.9 371.1,2491.4 368.8,2491.4 366.5,2494.9 364.2,2494.9 361.9,2490.9 359.6,2490.9 357.3,2492.7 355,2492.7 352.7,2491.6 350.4,2491.6 348.1,2492.1 345.8,2492.1 343.5,2492.5 341.2,2492.5 338.9,2491.6 336.6,2491.6 334.3,2494 332,2494 329.7,2493.5 327.4,2493.5 325.1,2496.1 322.8,2496.1 320.5,2495.2 318.2,2495.2 315.9,2496.4 313.6,2496.4 311.3,2496 309,2496 306.7,2499.3 304.4,2499.3 302.1,2504.2 299.8,2504.2 297.5,2508.1 295.2,2508.1 292.9,2509.6 290.6,2509.6 288.3,2512.8 286,2512.8 283.7,2508.7 281.4,2508.7 279.1,2517.2 276.8,2517.2 274.5,2512.8 272.2,2512.8 269.9,2515.2 267.6,2515.2 265.3,2521.9 263,2521.9 260.7,2522.9 258.4,2522.9 256.1,2520.7 253.8,2520.7 251.5,2517.5 249.2,2517.5 246.9,2512.7 244.6,2512.7 242.3,2499 240,2499 237.8,2485.7 235.4,2485.7 233.2,2480.1 230.8,2480.1"/>
<path d="M753.2 2345.3V2262.2M279.7 2424.1V2411.8M757.4 2339.5V2326.3M614.6 2413.7V2404.1M771.1 2337.6V2324.1M677.9 2420.1V2408.3M308.3 2422.7V2411.3M739.6 2368.6V2353.9M351.5 2420.6V2408.4M305.5 2422.9V2412.5M563 2423.3V2413.8M478.5 2410.3V2401.7M743.9 2361.6V2351.3M520.7 2422.1V2409.9M805.3 2336.8V2324.1M647.4 2417.9V2408.4M646.2 2418.3V2403.7M289.9 2423.6V2411.5M648.9 2417.5V2404.7M620.1 2415.3V2404.1M520.7 2422.1V2408.3M641.7 2419.6V2407.5M488.5 2406.6V2396.4M382.4 2418.7V2406.2M737.6 2371.8V2357M706.5 2418V2403.6M390.5 2413.5V2402M295.1 2499.8V2512.3M750.1 2448.1V2459.2M688.5 2457.6V2468.5M660.6 2462.4V2471.8M437.7 2497.3V2510.3M669.8 2460.6V2470.9M356.9 2484.7V2498.3M382 2488.2V2502.2M781.5 2400.5V2412.5M799.2 2408.2V2417.5M744.6 2450.6V2464.7M406.3 2497.3V2509.8M698.6 2456.1V2469.1M392 2492V2505.1M682.5 2458.5V2470.8M711.7 2454.2V2467.7M764.2 2435.6V2445.5M795 2405.2V2416.3M724.8 2452.6V2462.7M303.9 2493.4V2507.6M357.1 2484.7V2498M460.3 2497.3V2507.3M470.6 2497.3V2507.7M679.6 2458.9V2473.7M364 2485.6V2494.6M266.6 2513V2527.2" stroke="#D95319" stroke-width="2.6" fill="none"/>
<path d="M749.2 2262.2a4 4 0 1 0 8 0a4 4 0 1 0 -8 0M275.7 2411.8a4 4 0 1 0 8 0a4 4 0 1 0 -8 0M753.4 2326.3a4 4 0 1 0 8 0a4 4 0 1 0 -8 0M610.6 2404.1a4 4 0 1 0 8 0a4 4 0 1 0 -8 0M767.1 2324.1a4 4 0 1 0 8 0a4 4 0 1 0 -8 0M673.9 2408.3a4 4 0 1 0 8 0a4 4 0 1 0 -8 0M304.3 2411.3a4 4 0 1 0 8 0a4 4 0 1 0 -8 0M735.6 2353.9a4 4 0 1 0 8 0a4 4 0 1 0 -8 0M347.5 2408.4a4 4 0 1 0 8 0a4 4 0 1 0 -8 0M301.5 2412.5a4 4 0 1 0 8 0a4 4 0 1 0 -8 0M559 2413.8a4 4 0 1 0 8 0a4 4 0 1 0 -8 0M474.5 2401.7a4 4 0 1 0 8 0a4 4 0 1 0 -8 0M739.9 2351.3a4 4 0 1 0 8 0a4 4 0 1 0 -8 0M516.7 2409.9a4 4 0 1 0 8 0a4 4 0 1 0 -8 0M801.3 2324.1a4 4 0 1 0 8 0a4 4 0 1 0 -8 0M643.4 2408.4a4 4 0 1 0 8 0a4 4 0 1 0 -8 0M642.2 2403.7a4 4 0 1 0 8 0a4 4 0 1 0 -8 0M285.9 2411.5a4 4 0 1 0 8 0a4 4 0 1 0 -8 0M644.9 2404.7a4 4 0 1 0 8 0a4 4 0 1 0 -8 0M616.1 2404.1a4 4 0 1 0 8 0a4 4 0 1 0 -8 0M516.7 2408.3a4 4 0 1 0 8 0a4 4 0 1 0 -8 0M637.7 2407.5a4 4 0 1 0 8 0a4 4 0 1 0 -8 0M484.5 2396.4a4 4 0 1 0 8 0a4 4 0 1 0 -8 0M378.4 2406.2a4 4 0 1 0 8 0a4 4 0 1 0 -8 0M733.6 2357a4 4 0 1 0 8 0a4 4 0 1 0 -8 0M702.5 2403.6a4 4 0 1 0 8 0a4 4 0 1 0 -8 0M386.5 2402a4 4 0 1 0 8 0a4 4 0 1 0 -8 0M291.1 2512.3a4 4 0 1 0 8 0a4 4 0 1 0 -8 0M746.1 2459.2a4 4 0 1 0 8 0a4 4 0 1 0 -8 0M684.5 2468.5a4 4 0 1 0 8 0a4 4 0 1 0 -8 0M656.6 2471.8a4 4 0 1 0 8 0a4 4 0 1 0 -8 0M433.7 2510.3a4 4 0 1 0 8 0a4 4 0 1 0 -8 0M665.8 2470.9a4 4 0 1 0 8 0a4 4 0 1 0 -8 0M352.9 2498.3a4 4 0 1 0 8 0a4 4 0 1 0 -8 0M378 2502.2a4 4 0 1 0 8 0a4 4 0 1 0 -8 0M777.5 2412.5a4 4 0 1 0 8 0a4 4 0 1 0 -8 0M795.2 2417.5a4 4 0 1 0 8 0a4 4 0 1 0 -8 0M740.6 2464.7a4 4 0 1 0 8 0a4 4 0 1 0 -8 0M402.3 2509.8a4 4 0 1 0 8 0a4 4 0 1 0 -8 0M694.6 2469.1a4 4 0 1 0 8 0a4 4 0 1 0 -8 0M388 2505.1a4 4 0 1 0 8 0a4 4 0 1 0 -8 0M678.5 2470.8a4 4 0 1 0 8 0a4 4 0 1 0 -8 0M707.7 2467.7a4 4 0 1 0 8 0a4 4 0 1 0 -8 0M760.2 2445.5a4 4 0 1 0 8 0a4 4 0 1 0 -8 0M791 2416.3a4 4 0 1 0 8 0a4 4 0 1 0 -8 0M720.8 2462.7a4 4 0 1 0 8 0a4 4 0 1 0 -8 0M299.9 2507.6a4 4 0 1 0 8 0a4 4 0 1 0 -8 0M353.1 2498a4 4 0 1 0 8 0a4 4 0 1 0 -8 0M456.3 2507.3a4 4 0 1 0 8 0a4 4 0 1 0 -8 0M466.6 2507.7a4 4 0 1 0 8 0a4 4 0 1 0 -8 0M675.6 2473.7a4 4 0 1 0 8 0a4 4 0 1 0 -8 0M360 2494.6a4 4 0 1 0 8 0a4 4 0 1 0 -8 0M262.6 2527.2a4 4 0 1 0 8 0a4 4 0 1 0 -8 0" fill="#D95319"/>
<polygon fill="#0072BD" points="230.8,2402.5 233.2,2402.5 235.4,2400.7 237.8,2400.7 240,2401.3 242.3,2401.3 244.6,2396.1 246.9,2396.1 249.2,2395.1 251.5,2395.1 253.8,2391.2 256.1,2391.2 258.4,2390.5 260.7,2390.5 263,2388.3 265.3,2388.3 267.6,2389.4 269.9,2389.4 272.2,2391.6 274.5,2391.6 276.8,2394.1 279.1,2394.1 281.4,2395.1 283.7,2395.1 286,2392.2 288.3,2392.2 290.6,2387.2 292.9,2387.2 295.2,2393.6 297.5,2393.6 299.8,2397.9 302.1,2397.9 304.4,2403.1 306.7,2403.1 309,2404.6 311.3,2404.6 313.6,2402.3 315.9,2402.3 318.2,2399.8 320.5,2399.8 322.8,2398.6 325.1,2398.6 327.4,2396.7 329.7,2396.7 332,2393.8 334.3,2393.8 336.6,2390.5 338.9,2390.5 341.2,2387.5 343.5,2387.5 345.8,2384.8 348.1,2384.8 350.4,2381.8 352.7,2381.8 355,2377.5 357.3,2377.5 359.6,2377.8 361.9,2377.8 364.2,2378 366.5,2378 368.8,2379.1 371.1,2379.1 373.4,2380.2 375.7,2380.2 378,2379.7 380.3,2379.7 382.6,2385.2 384.9,2385.2 387.2,2398.1 389.5,2398.1 391.8,2409.5 394.1,2409.5 396.4,2412.5 398.7,2412.5 401,2414 403.3,2414 405.6,2415.1 407.9,2415.1 410.2,2414.4 412.5,2414.4 414.8,2415 417.1,2415 419.4,2416.4 421.7,2416.4 424,2416 426.3,2416 428.6,2415.5 430.9,2415.5 433.2,2416.8 435.5,2416.8 437.8,2416 440.1,2416 442.4,2416.5 444.7,2416.5 447,2416.1 449.3,2416.1 451.6,2416.6 453.9,2416.6 456.2,2416.6 458.5,2416.6 460.8,2415 463.1,2415 465.4,2416.1 467.7,2416.1 470,2412.3 472.3,2412.3 474.6,2408.7 476.9,2408.7 479.2,2406.2 481.5,2406.2 483.8,2399.9 486.1,2399.9 488.4,2400.3 490.7,2400.3 493,2404 495.3,2404 497.6,2405.6 499.9,2405.6 502.2,2410 504.5,2410 506.8,2412.9 509.1,2412.9 511.4,2413.4 513.7,2413.4 516,2414.9 518.3,2414.9 520.6,2419 522.9,2419 525.2,2419.8 527.5,2419.8 529.8,2419.3 532.1,2419.3 534.4,2421.2 536.7,2421.2 539,2421.1 541.3,2421.1 543.6,2421.1 545.9,2421.1 548.2,2421.9 550.5,2421.9 552.8,2423.3 555.1,2423.3 557.4,2424.8 559.7,2424.8 562,2428.1 564.3,2428.1 566.6,2428.7 568.9,2428.7 571.2,2431.6 573.5,2431.6 575.8,2434.3 578.1,2434.3 580.4,2434 582.7,2434 585,2436.1 587.3,2436.1 589.6,2438.6 591.9,2438.6 594.2,2439.5 596.5,2439.5 598.8,2440.8 601.1,2440.8 603.4,2441.6 605.7,2441.6 608,2444.9 610.3,2444.9 612.6,2447.2 614.9,2447.2 617.2,2447.3 619.5,2447.3 621.8,2450.8 624.1,2450.8 626.4,2452.4 628.7,2452.4 631,2461.3 633.3,2461.3 635.6,2460.9 637.9,2460.9 640.2,2457 642.5,2457 644.8,2456.9 647.1,2456.9 649.4,2457.9 651.7,2457.9 654,2455.5 656.3,2455.5 658.6,2454.5 660.9,2454.5 663.2,2450.1 665.5,2450.1 667.8,2448.1 670.1,2448.1 672.4,2444.8 674.7,2444.8 677,2446.6 679.3,2446.6 681.6,2447.6 683.9,2447.6 686.2,2449.3 688.5,2449.3 690.8,2452.6 693.1,2452.6 695.4,2453.7 697.7,2453.7 700,2454 702.3,2454 704.6,2452.3 706.9,2452.3 709.2,2452.4 711.5,2452.4 713.8,2453.7 716.1,2453.7 718.4,2449 720.7,2449 723,2447.3 725.3,2447.3 727.6,2450.3 729.9,2450.3 732.2,2451.1 734.5,2451.1 736.8,2453.7 739.1,2453.7 741.4,2455.9 743.7,2455.9 746,2457.7 748.3,2457.7 750.6,2460.8 752.9,2460.8 755.2,2464.5 757.5,2464.5 759.8,2466.5 762.1,2466.5 764.4,2468.6 766.7,2468.6 769,2472.1 771.3,2472.1 773.6,2471 775.9,2471 778.2,2467.1 780.5,2467.1 782.8,2462 785.1,2462 787.4,2456.2 789.7,2456.2 792,2451.7 794.3,2451.7 796.6,2447.5 798.9,2447.5 801.2,2448.2 803.5,2448.2 805.8,2447.4 808.1,2447.4 810.4,2445.6 812.7,2445.6 815,2444.9 817.3,2444.9 819.6,2443.6 821.9,2443.6 824.2,2444 826.5,2444 826.5,2557.2 824.2,2557.2 821.9,2562.7 819.6,2562.7 817.3,2564.5 815,2564.5 812.7,2564.3 810.4,2564.3 808.1,2566.2 805.8,2566.2 803.5,2565.9 801.2,2565.9 798.9,2567.3 796.6,2567.3 794.3,2561.1 792,2561.1 789.7,2569.9 787.4,2569.9 785.1,2572.9 782.8,2572.9 780.5,2573.5 778.2,2573.5 775.9,2569.8 773.6,2569.8 771.3,2565.7 769,2565.7 766.7,2561.7 764.4,2561.7 762.1,2559.4 759.8,2559.4 757.5,2558 755.2,2558 752.9,2556.7 750.6,2556.7 748.3,2557.7 746,2557.7 743.7,2555.5 741.4,2555.5 739.1,2554.7 736.8,2554.7 734.5,2553.8 732.2,2553.8 729.9,2552.8 727.6,2552.8 725.3,2549.5 723,2549.5 720.7,2548.5 718.4,2548.5 716.1,2546.7 713.8,2546.7 711.5,2543.8 709.2,2543.8 706.9,2544 704.6,2544 702.3,2537.9 700,2537.9 697.7,2545.1 695.4,2545.1 693.1,2544.5 690.8,2544.5 688.5,2544.1 686.2,2544.1 683.9,2545.8 681.6,2545.8 679.3,2546.3 677,2546.3 674.7,2548.1 672.4,2548.1 670.1,2545.9 667.8,2545.9 665.5,2552.2 663.2,2552.2 660.9,2550 658.6,2550 656.3,2548.1 654,2548.1 651.7,2545.7 649.4,2545.7 647.1,2543.9 644.8,2543.9 642.5,2543 640.2,2543 637.9,2538.2 635.6,2538.2 633.3,2539.5 631,2539.5 628.7,2538.8 626.4,2538.8 624.1,2539 621.8,2539 619.5,2538.2 617.2,2538.2 614.9,2536.6 612.6,2536.6 610.3,2537.4 608,2537.4 605.7,2530.8 603.4,2530.8 601.1,2537.7 598.8,2537.7 596.5,2537.2 594.2,2537.2 591.9,2537.5 589.6,2537.5 587.3,2536.7 585,2536.7 582.7,2534.7 580.4,2534.7 578.1,2531.5 575.8,2531.5 573.5,2523.2 571.2,2523.2 568.9,2528.5 566.6,2528.5 564.3,2527.4 562,2527.4 559.7,2527 557.4,2527 555.1,2527.1 552.8,2527.1 550.5,2527.3 548.2,2527.3 545.9,2526.6 543.6,2526.6 541.3,2526 539,2526 536.7,2527.5 534.4,2527.5 532.1,2526.7 529.8,2526.7 527.5,2526.6 525.2,2526.6 522.9,2525.9 520.6,2525.9 518.3,2526.2 516,2526.2 513.7,2519.8 511.4,2519.8 509.1,2512.6 506.8,2512.6 504.5,2506 502.2,2506 499.9,2505.4 497.6,2505.4 495.3,2504.5 493,2504.5 490.7,2503.7 488.4,2503.7 486.1,2502.8 483.8,2502.8 481.5,2503 479.2,2503 476.9,2502.4 474.6,2502.4 472.3,2501.2 470,2501.2 467.7,2501 465.4,2501 463.1,2501 460.8,2501 458.5,2501 456.2,2501 453.9,2503.6 451.6,2503.6 449.3,2508.4 447,2508.4 444.7,2513.4 442.4,2513.4 440.1,2519.5 437.8,2519.5 435.5,2518.9 433.2,2518.9 430.9,2520.5 428.6,2520.5 426.3,2519.9 424,2519.9 421.7,2518.8 419.4,2518.8 417.1,2511.1 414.8,2511.1 412.5,2519.3 410.2,2519.3 407.9,2520 405.6,2520 403.3,2520.7 401,2520.7 398.7,2519.2 396.4,2519.2 394.1,2517.6 391.8,2517.6 389.5,2516.6 387.2,2516.6 384.9,2516.5 382.6,2516.5 380.3,2514 378,2514 375.7,2504.1 373.4,2504.1 371.1,2503.5 368.8,2503.5 366.5,2500.3 364.2,2500.3 361.9,2492.6 359.6,2492.6 357.3,2490.2 355,2490.2 352.7,2489.8 350.4,2489.8 348.1,2490 345.8,2490 343.5,2483.8 341.2,2483.8 338.9,2488.7 336.6,2488.7 334.3,2488.5 332,2488.5 329.7,2486.2 327.4,2486.2 325.1,2489.6 322.8,2489.6 320.5,2489 318.2,2489 315.9,2489.8 313.6,2489.8 311.3,2490.9 309,2490.9 306.7,2491.6 304.4,2491.6 302.1,2490.8 299.8,2490.8 297.5,2491.7 295.2,2491.7 292.9,2488.8 290.6,2488.8 288.3,2490.8 286,2490.8 283.7,2492 281.4,2492 279.1,2493.5 276.8,2493.5 274.5,2496.8 272.2,2496.8 269.9,2497.3 267.6,2497.3 265.3,2498.9 263,2498.9 260.7,2501.2 258.4,2501.2 256.1,2503 253.8,2503 251.5,2505.5 249.2,2505.5 246.9,2505.5 244.6,2505.5 242.3,2506.3 240,2506.3 237.8,2508.7 235.4,2508.7 233.2,2509.5 230.8,2509.5"/>
<path d="M283.3 2402.6V2391.5M458.4 2424.1V2411.2M606.8 2451.3V2436.8M723.9 2456.2V2445.8M544.4 2430V2416.6M710.6 2460V2450M683.7 2456.4V2441.6M292.1 2396.6V2385.3M668.5 2456.3V2442.3M466 2424.1V2413.2M678.4 2454.1V2439.5M692.1 2460.1V2445.6M809 2454.4V2442.7M239.1 2407.9V2396.2M537 2429V2415.8M361.9 2385.7V2374.9M431.7 2424.1V2410.6M629.6 2460.8V2447.4M333.8 2402V2387.8M612 2453.6V2441.2M382.9 2391.9V2378.6M573.6 2440.4V2425.6M707.7 2460.9V2451.3M479.5 2412.9V2398.9M632.7 2461.7V2447M660.8 2460.9V2446M451.6 2497.3V2511.3M555.5 2518.6V2529.5M385.9 2508.7V2517.7M337.9 2480.3V2493.3M615.9 2529.6V2542.3M493.4 2495.8V2509M635.8 2532.5V2544.4M530.9 2518.6V2527.2M625.4 2531V2543.1M593.4 2529.3V2542.1M616.1 2529.6V2539.4M446.2 2502.9V2511.7M693.2 2536.4V2549.9M261.6 2492.8V2507.6M465.7 2493.7V2503.4M782.5 2564.6V2574.3M602.7 2529.3V2543.4M722.8 2541.3V2551.3M664.4 2543V2552M741.8 2547.9V2561.3M575.6 2523.3V2535M742.2 2548V2559.7M628 2531.4V2546.2M541.1 2518.6V2528.3M343.6 2481.1V2495.7M766.8 2555.5V2565" stroke="#0072BD" stroke-width="2.6" fill="none"/>
<path d="M279.3 2391.5a4 4 0 1 0 8 0a4 4 0 1 0 -8 0M454.4 2411.2a4 4 0 1 0 8 0a4 4 0 1 0 -8 0M602.8 2436.8a4 4 0 1 0 8 0a4 4 0 1 0 -8 0M719.9 2445.8a4 4 0 1 0 8 0a4 4 0 1 0 -8 0M540.4 2416.6a4 4 0 1 0 8 0a4 4 0 1 0 -8 0M706.6 2450a4 4 0 1 0 8 0a4 4 0 1 0 -8 0M679.7 2441.6a4 4 0 1 0 8 0a4 4 0 1 0 -8 0M288.1 2385.3a4 4 0 1 0 8 0a4 4 0 1 0 -8 0M664.5 2442.3a4 4 0 1 0 8 0a4 4 0 1 0 -8 0M462 2413.2a4 4 0 1 0 8 0a4 4 0 1 0 -8 0M674.4 2439.5a4 4 0 1 0 8 0a4 4 0 1 0 -8 0M688.1 2445.6a4 4 0 1 0 8 0a4 4 0 1 0 -8 0M805 2442.7a4 4 0 1 0 8 0a4 4 0 1 0 -8 0M235.1 2396.2a4 4 0 1 0 8 0a4 4 0 1 0 -8 0M533 2415.8a4 4 0 1 0 8 0a4 4 0 1 0 -8 0M357.9 2374.9a4 4 0 1 0 8 0a4 4 0 1 0 -8 0M427.7 2410.6a4 4 0 1 0 8 0a4 4 0 1 0 -8 0M625.6 2447.4a4 4 0 1 0 8 0a4 4 0 1 0 -8 0M329.8 2387.8a4 4 0 1 0 8 0a4 4 0 1 0 -8 0M608 2441.2a4 4 0 1 0 8 0a4 4 0 1 0 -8 0M378.9 2378.6a4 4 0 1 0 8 0a4 4 0 1 0 -8 0M569.6 2425.6a4 4 0 1 0 8 0a4 4 0 1 0 -8 0M703.7 2451.3a4 4 0 1 0 8 0a4 4 0 1 0 -8 0M475.5 2398.9a4 4 0 1 0 8 0a4 4 0 1 0 -8 0M628.7 2447a4 4 0 1 0 8 0a4 4 0 1 0 -8 0M656.8 2446a4 4 0 1 0 8 0a4 4 0 1 0 -8 0M447.6 2511.3a4 4 0 1 0 8 0a4 4 0 1 0 -8 0M551.5 2529.5a4 4 0 1 0 8 0a4 4 0 1 0 -8 0M381.9 2517.7a4 4 0 1 0 8 0a4 4 0 1 0 -8 0M333.9 2493.3a4 4 0 1 0 8 0a4 4 0 1 0 -8 0M611.9 2542.3a4 4 0 1 0 8 0a4 4 0 1 0 -8 0M489.4 2509a4 4 0 1 0 8 0a4 4 0 1 0 -8 0M631.8 2544.4a4 4 0 1 0 8 0a4 4 0 1 0 -8 0M526.9 2527.2a4 4 0 1 0 8 0a4 4 0 1 0 -8 0M621.4 2543.1a4 4 0 1 0 8 0a4 4 0 1 0 -8 0M589.4 2542.1a4 4 0 1 0 8 0a4 4 0 1 0 -8 0M612.1 2539.4a4 4 0 1 0 8 0a4 4 0 1 0 -8 0M442.2 2511.7a4 4 0 1 0 8 0a4 4 0 1 0 -8 0M689.2 2549.9a4 4 0 1 0 8 0a4 4 0 1 0 -8 0M257.6 2507.6a4 4 0 1 0 8 0a4 4 0 1 0 -8 0M461.7 2503.4a4 4 0 1 0 8 0a4 4 0 1 0 -8 0M778.5 2574.3a4 4 0 1 0 8 0a4 4 0 1 0 -8 0M598.7 2543.4a4 4 0 1 0 8 0a4 4 0 1 0 -8 0M718.8 2551.3a4 4 0 1 0 8 0a4 4 0 1 0 -8 0M660.4 2552a4 4 0 1 0 8 0a4 4 0 1 0 -8 0M737.8 2561.3a4 4 0 1 0 8 0a4 4 0 1 0 -8 0M571.6 2535a4 4 0 1 0 8 0a4 4 0 1 0 -8 0M738.2 2559.7a4 4 0 1 0 8 0a4 4 0 1 0 -8 0M624 2546.2a4 4 0 1 0 8 0a4 4 0 1 0 -8 0M537.1 2528.3a4 4 0 1 0 8 0a4 4 0 1 0 -8 0M339.6 2495.7a4 4 0 1 0 8 0a4 4 0 1 0 -8 0M762.8 2565a4 4 0 1 0 8 0a4 4 0 1 0 -8 0" fill="#0072BD"/>
</g>
<path d="M235 2855.6v-11.5M235 2001.8v11.5M332.8 2855.6v-11.5M332.8 2001.8v11.5M430.5 2855.6v-11.5M430.5 2001.8v11.5M528.3 2855.6v-11.5M528.3 2001.8v11.5M626.1 2855.6v-11.5M626.1 2001.8v11.5M723.8 2855.6v-11.5M723.8 2001.8v11.5M821.6 2855.6v-11.5M821.6 2001.8v11.5M235 2855.6h11.5M821.6 2855.6h-11.5M235 2713.3h11.5M821.6 2713.3h-11.5M235 2571h11.5M821.6 2571h-11.5M235 2428.7h11.5M821.6 2428.7h-11.5M235 2286.4h11.5M821.6 2286.4h-11.5M235 2144.1h11.5M821.6 2144.1h-11.5M235 2001.8h11.5M821.6 2001.8h-11.5" stroke="#262626" stroke-width="3" fill="none"/>
<rect x="235" y="2001.8" width="586.6" height="853.8" fill="none" stroke="#222" stroke-width="4.3"/>
<g font-size="59" fill="#383838"><text x="244.5" y="2932.1" text-anchor="middle">0</text><text x="335.8" y="2932.1" text-anchor="middle">04</text><text x="432.5" y="2932.1" text-anchor="middle">08</text><text x="531.8" y="2932.1" text-anchor="middle">12</text><text x="627.6" y="2932.1" text-anchor="middle">16</text><text x="725.3" y="2932.1" text-anchor="middle">20</text><text x="819.4" y="2932.1" text-anchor="middle">24</text><text x="214.5" y="2879.1" text-anchor="end">−6</text><text x="214.5" y="2736.8" text-anchor="end">−4</text><text x="214.5" y="2594.5" text-anchor="end">−2</text><text x="211" y="2452.2" text-anchor="end">0</text><text x="211" y="2309.9" text-anchor="end">2</text><text x="211" y="2167.6" text-anchor="end">4</text><text x="211" y="2025.3" text-anchor="end">6</text></g>
<text x="252.4" y="2087.7" font-size="61" fill="#111" textLength="77.2" lengthAdjust="spacingAndGlyphs">(g)</text>
<text x="345.4" y="2087.7" font-size="61" fill="#111" textLength="166.4" lengthAdjust="spacingAndGlyphs">PRDS</text>
<clipPath id="ch"><rect x="986.1" y="2011.3" width="586.5" height="854.1"/></clipPath>
<path d="M1083.8 2011.3V2865.4M1181.6 2011.3V2865.4M1279.3 2011.3V2865.4M1377.1 2011.3V2865.4M1474.8 2011.3V2865.4" stroke="#262626" stroke-opacity="0.145" stroke-width="3.6" fill="none"/>
<path d="M986.1 2723.1H1572.6M986.1 2580.7H1572.6M986.1 2438.3H1572.6M986.1 2296H1572.6M986.1 2153.7H1572.6" stroke="#262626" stroke-opacity="0.145" stroke-width="3.6" fill="none"/>
<g clip-path="url(#ch)">
<polygon fill="#D95319" points="982,2412.2 984.2,2412.2 986.6,2412.2 988.9,2412.2 991.2,2414 993.5,2414 995.8,2416.6 998.1,2416.6 1000.4,2417.5 1002.7,2417.5 1005,2417.8 1007.3,2417.8 1009.6,2420.7 1011.9,2420.7 1014.2,2424.5 1016.5,2424.5 1018.8,2423.3 1021.1,2423.3 1023.4,2432.6 1025.7,2432.6 1028,2427 1030.3,2427 1032.6,2428.7 1034.9,2428.7 1037.2,2427.9 1039.5,2427.9 1041.8,2427.2 1044.1,2427.2 1046.4,2428.4 1048.7,2428.4 1051,2428.4 1053.3,2428.4 1055.6,2425 1057.9,2425 1060.2,2424.2 1062.5,2424.2 1064.8,2422.5 1067.1,2422.5 1069.4,2424.4 1071.7,2424.4 1074,2427.3 1076.3,2427.3 1078.6,2422.6 1080.9,2422.6 1083.2,2420.2 1085.5,2420.2 1087.8,2420.5 1090.1,2420.5 1092.4,2419 1094.7,2419 1097,2418.7 1099.3,2418.7 1101.6,2417.7 1103.9,2417.7 1106.2,2414.1 1108.5,2414.1 1110.8,2414.2 1113.1,2414.2 1115.4,2414.8 1117.7,2414.8 1120,2412.8 1122.3,2412.8 1124.6,2413.5 1126.9,2413.5 1129.2,2412.1 1131.5,2412.1 1133.8,2411.3 1136.1,2411.3 1138.4,2419.6 1140.7,2419.6 1143,2412.4 1145.3,2412.4 1147.6,2413.5 1149.9,2413.5 1152.2,2411.1 1154.5,2411.1 1156.8,2409.8 1159.1,2409.8 1161.4,2409.2 1163.7,2409.2 1166,2410.7 1168.3,2410.7 1170.6,2408.6 1172.9,2408.6 1175.2,2408.5 1177.5,2408.5 1179.8,2408.8 1182.1,2408.8 1184.4,2408.6 1186.7,2408.6 1189,2408.3 1191.3,2408.3 1193.6,2407.9 1195.9,2407.9 1198.2,2409.4 1200.5,2409.4 1202.8,2408.8 1205.1,2408.8 1207.4,2407.9 1209.7,2407.9 1212,2408.7 1214.3,2408.7 1216.6,2408.4 1218.9,2408.4 1221.2,2407.9 1223.5,2407.9 1225.8,2410.2 1228.1,2410.2 1230.4,2407.7 1232.7,2407.7 1235,2410.1 1237.3,2410.1 1239.6,2408.8 1241.9,2408.8 1244.2,2409 1246.5,2409 1248.8,2410.5 1251.1,2410.5 1253.4,2410.1 1255.7,2410.1 1258,2405.7 1260.3,2405.7 1262.6,2400.1 1264.9,2400.1 1267.2,2396.8 1269.5,2396.8 1271.8,2392.9 1274.1,2392.9 1276.4,2387.9 1278.7,2387.9 1281,2362.5 1283.3,2362.5 1285.6,2324.2 1287.9,2324.2 1290.2,2320.2 1292.5,2320.2 1294.8,2315.1 1297.1,2315.1 1299.4,2315.9 1301.7,2315.9 1304,2308.5 1306.3,2308.5 1308.6,2304.9 1310.9,2304.9 1313.2,2301.6 1315.5,2301.6 1317.8,2299.7 1320.1,2299.7 1322.4,2301.5 1324.7,2301.5 1327,2302.9 1329.3,2302.9 1331.6,2302.7 1333.9,2302.7 1336.2,2301.6 1338.5,2301.6 1340.8,2302.9 1343.1,2302.9 1345.4,2300.9 1347.7,2300.9 1350,2301.2 1352.3,2301.2 1354.6,2302.7 1356.9,2302.7 1359.2,2301.4 1361.5,2301.4 1363.8,2302.5 1366.1,2302.5 1368.4,2298.8 1370.7,2298.8 1373,2297.6 1375.3,2297.6 1377.6,2297.2 1379.9,2297.2 1382.2,2294.4 1384.5,2294.4 1386.8,2294.8 1389.1,2294.8 1391.4,2294.1 1393.7,2294.1 1396,2292.6 1398.3,2292.6 1400.6,2289.1 1402.9,2289.1 1405.2,2289.2 1407.5,2289.2 1409.8,2288.7 1412.1,2288.7 1414.4,2287.1 1416.7,2287.1 1419,2285.9 1421.3,2285.9 1423.6,2283.9 1425.9,2283.9 1428.2,2281.2 1430.5,2281.2 1432.8,2279.4 1435.1,2279.4 1437.4,2287.5 1439.7,2287.5 1442,2272.5 1444.3,2272.5 1446.6,2269.3 1448.9,2269.3 1451.2,2262.7 1453.5,2262.7 1455.8,2259.4 1458.1,2259.4 1460.4,2255 1462.7,2255 1465,2249.7 1467.3,2249.7 1469.6,2248.7 1471.9,2248.7 1474.2,2242.2 1476.5,2242.2 1478.8,2243.2 1481.1,2243.2 1483.4,2241.2 1485.7,2241.2 1488,2242.2 1490.3,2242.2 1492.6,2241.3 1494.9,2241.3 1497.2,2251.2 1499.5,2251.2 1501.8,2247.6 1504.1,2247.6 1506.4,2257.4 1508.7,2257.4 1511,2252.2 1513.3,2252.2 1515.6,2254.9 1517.9,2254.9 1520.2,2255.1 1522.5,2255.1 1524.8,2260.3 1527.1,2260.3 1529.4,2260.5 1531.7,2260.5 1534,2269.7 1536.3,2269.7 1538.6,2276.6 1540.9,2276.6 1543.2,2284.6 1545.5,2284.6 1547.8,2291.9 1550.1,2291.9 1552.4,2291.1 1554.7,2291.1 1557,2291.2 1559.3,2291.2 1561.6,2289.5 1563.9,2289.5 1566.2,2287.3 1568.5,2287.3 1570.8,2286.6 1573.1,2286.6 1575.4,2285 1577.7,2285 1577.7,2396.1 1575.4,2396.1 1573.1,2395.6 1570.8,2395.6 1568.5,2398.2 1566.2,2398.2 1563.9,2396.7 1561.6,2396.7 1559.3,2395.2 1557,2395.2 1554.7,2397.7 1552.4,2397.7 1550.1,2396.2 1547.8,2396.2 1545.5,2396.5 1543.2,2396.5 1540.9,2395.9 1538.6,2395.9 1536.3,2396.7 1534,2396.7 1531.7,2397.2 1529.4,2397.2 1527.1,2398.2 1524.8,2398.2 1522.5,2395.9 1520.2,2395.9 1517.9,2396.6 1515.6,2396.6 1513.3,2394.9 1511,2394.9 1508.7,2402.3 1506.4,2402.3 1504.1,2408 1501.8,2408 1499.5,2407.9 1497.2,2407.9 1494.9,2408.8 1492.6,2408.8 1490.3,2410.8 1488,2410.8 1485.7,2410.9 1483.4,2410.9 1481.1,2411.5 1478.8,2411.5 1476.5,2409.3 1474.2,2409.3 1471.9,2412 1469.6,2412 1467.3,2408.1 1465,2408.1 1462.7,2410.4 1460.4,2410.4 1458.1,2411.9 1455.8,2411.9 1453.5,2412.3 1451.2,2412.3 1448.9,2409.2 1446.6,2409.2 1444.3,2410.7 1442,2410.7 1439.7,2409.4 1437.4,2409.4 1435.1,2408.1 1432.8,2408.1 1430.5,2408.1 1428.2,2408.1 1425.9,2410 1423.6,2410 1421.3,2404.6 1419,2404.6 1416.7,2401.8 1414.4,2401.8 1412.1,2399.6 1409.8,2399.6 1407.5,2397.8 1405.2,2397.8 1402.9,2398.5 1400.6,2398.5 1398.3,2386.3 1396,2386.3 1393.7,2392.7 1391.4,2392.7 1389.1,2389.1 1386.8,2389.1 1384.5,2392 1382.2,2392 1379.9,2391.3 1377.6,2391.3 1375.3,2390.1 1373,2390.1 1370.7,2390.5 1368.4,2390.5 1366.1,2391.2 1363.8,2391.2 1361.5,2389 1359.2,2389 1356.9,2390.7 1354.6,2390.7 1352.3,2388.2 1350,2388.2 1347.7,2390.1 1345.4,2390.1 1343.1,2389 1340.8,2389 1338.5,2390 1336.2,2390 1333.9,2380.4 1331.6,2380.4 1329.3,2389.8 1327,2389.8 1324.7,2388.8 1322.4,2388.8 1320.1,2392.1 1317.8,2392.1 1315.5,2390.4 1313.2,2390.4 1310.9,2389.9 1308.6,2389.9 1306.3,2392.6 1304,2392.6 1301.7,2391.9 1299.4,2391.9 1297.1,2393.5 1294.8,2393.5 1292.5,2393.2 1290.2,2393.2 1287.9,2395.8 1285.6,2395.8 1283.3,2396.5 1281,2396.5 1278.7,2396.8 1276.4,2396.8 1274.1,2404.2 1271.8,2404.2 1269.5,2408.1 1267.2,2408.1 1264.9,2411.9 1262.6,2411.9 1260.3,2417.8 1258,2417.8 1255.7,2419.8 1253.4,2419.8 1251.1,2425.6 1248.8,2425.6 1246.5,2430.3 1244.2,2430.3 1241.9,2434.3 1239.6,2434.3 1237.3,2439.7 1235,2439.7 1232.7,2444.8 1230.4,2444.8 1228.1,2447.9 1225.8,2447.9 1223.5,2450.8 1221.2,2450.8 1218.9,2454.1 1216.6,2454.1 1214.3,2458 1212,2458 1209.7,2461.1 1207.4,2461.1 1205.1,2457.8 1202.8,2457.8 1200.5,2456.3 1198.2,2456.3 1195.9,2452.8 1193.6,2452.8 1191.3,2448.6 1189,2448.6 1186.7,2447.2 1184.4,2447.2 1182.1,2441.6 1179.8,2441.6 1177.5,2446.2 1175.2,2446.2 1172.9,2446.7 1170.6,2446.7 1168.3,2449.9 1166,2449.9 1163.7,2449.5 1161.4,2449.5 1159.1,2454.1 1156.8,2454.1 1154.5,2455.6 1152.2,2455.6 1149.9,2455.3 1147.6,2455.3 1145.3,2459.2 1143,2459.2 1140.7,2459.6 1138.4,2459.6 1136.1,2462.9 1133.8,2462.9 1131.5,2464.4 1129.2,2464.4 1126.9,2468.3 1124.6,2468.3 1122.3,2474.7 1120,2474.7 1117.7,2474.4 1115.4,2474.4 1113.1,2482.6 1110.8,2482.6 1108.5,2483.8 1106.2,2483.8 1103.9,2483.2 1101.6,2483.2 1099.3,2481.3 1097,2481.3 1094.7,2480.6 1092.4,2480.6 1090.1,2478.5 1087.8,2478.5 1085.5,2477.8 1083.2,2477.8 1080.9,2472.6 1078.6,2472.6 1076.3,2482.3 1074,2482.3 1071.7,2483.1 1069.4,2483.1 1067.1,2484.4 1064.8,2484.4 1062.5,2486.6 1060.2,2486.6 1057.9,2489.7 1055.6,2489.7 1053.3,2494.6 1051,2494.6 1048.7,2499.4 1046.4,2499.4 1044.1,2506.4 1041.8,2506.4 1039.5,2510.4 1037.2,2510.4 1034.9,2513.6 1032.6,2513.6 1030.3,2510.2 1028,2510.2 1025.7,2509.2 1023.4,2509.2 1021.1,2506.1 1018.8,2506.1 1016.5,2501.8 1014.2,2501.8 1011.9,2501.3 1009.6,2501.3 1007.3,2497.7 1005,2497.7 1002.7,2498 1000.4,2498 998.1,2493.4 995.8,2493.4 993.5,2485.7 991.2,2485.7 988.9,2491.7 986.6,2491.7 984.2,2488.3 982,2488.3"/>
<path d="M1350.2 2306V2262.5M1396.7 2296.2V2262.5M1499.3 2250.1V2216.3M1022.8 2502.4V2516.6M1066.9 2432.5V2416.6M1114.3 2423.6V2409.9M1543.8 2294.2V2277M1045.3 2437V2421.9M1358.5 2310.2V2291.7M1243.7 2417.7V2401M1306.6 2317.1V2298M1076.2 2430.6V2411.8M1439.9 2286.3V2267.7M1563.4 2298V2288.3M1395.9 2300.7V2284.7M1329.3 2310.2V2299.1M1317.2 2310.2V2300.1M1235.8 2417.7V2400.6M1332.5 2310.2V2296.6M1073.1 2431.3V2419.2M1375.4 2307V2289.8M1477.2 2251.9V2242.3M1454.6 2270.3V2252.9M1372.2 2308V2289.9M1437.7 2288.3V2275M1078.9 2430.1V2411.3M1043.2 2437.4V2426.3M1281.7 2375.3V2362.1M1516.9 2262.6V2249.1M1505.7 2257.1V2240.6M1456.2 2268.5V2255.1M1306 2317.6V2298.5M1095.8 2426.7V2408M1098.9 2426V2413.9M1535.1 2277.9V2260.2M1095.5 2426.7V2413.5M1353.9 2310.2V2299.3M1541 2288.9V2271.3M1024.8 2435.2V2422.9M1366.4 2309.8V2292.2M1012 2430.3V2419.5M1049.7 2436.1V2424.2M1276.8 2398.5V2382.6M1368.7 2309.1V2300M1373.1 2307.7V2292.9M1549.3 2302.1V2284.1M1163.6 2419.3V2408.4M1242.9 2417.7V2398.9M1467.3 2258.9V2247.3M1489.3 2250V2238.2M1193 2417.7V2399.2M1478.9 2251.4V2237.6M1459.5 2265.3V2254.7M1176.4 2418.2V2402.4M1384 2304.4V2294.4M1203 2417.7V2402.3M1056.8 2479.9V2491.6M1192.9 2443.3V2461.2M1388.1 2383.9V2395.6M1066.2 2474.6V2491.8M1265.4 2401.6V2413M1455.1 2401.8V2420.4M1091.6 2471.4V2490.4M1073.1 2472.4V2485.4M1062.8 2475.7V2494.4M1248.7 2418.6V2430.9M1030.5 2502.7V2519.4M1250.5 2416.7V2427.1M1476.1 2401.5V2414.6M1379.6 2381.4V2400.1M1097.6 2473.3V2487.1M1371.9 2380.7V2392.7M1432.7 2400.9V2414.3M1554.6 2387.8V2396.9M1309.3 2383.4V2396.5M1379.4 2381.4V2398M1330.3 2380.7V2394.9M1347.6 2380.7V2395.1M1431.6 2400.8V2413.8M1368.7 2380.7V2394.5M1521.6 2387.8V2403.6M1165.5 2440.4V2454.7M1392.8 2385.3V2398.3M1007.7 2490.8V2500.7M1261.1 2405.9V2415.5M1357.5 2380.7V2390.2M1115.8 2470V2481.3M1430.2 2400.8V2417M1506 2394.8V2408.8M1520.6 2387.8V2406M1331 2380.7V2390.3M1212.3 2450.4V2463.5M1422.9 2398.3V2409.2M1565.7 2387.8V2402.1M1163.3 2441.4V2457.1M1447.5 2401.5V2418.8M1521.3 2387.8V2400.2M1070.4 2473.3V2488.9M1307.4 2383.7V2401.4M1191 2441.6V2453.7M1312.4 2383V2396.4M1010.9 2492.4V2503.8M1177.5 2435.2V2446.2M1059.1 2477.2V2489.3M1410.7 2390.5V2407.5M1550.4 2387.8V2405M1032 2503.5V2515.4M1478.1 2401.5V2417.6" stroke="#D95319" stroke-width="2.6" fill="none"/>
<path d="M1346.2 2262.5a4 4 0 1 0 8 0a4 4 0 1 0 -8 0M1392.7 2262.5a4 4 0 1 0 8 0a4 4 0 1 0 -8 0M1495.3 2216.3a4 4 0 1 0 8 0a4 4 0 1 0 -8 0M1018.8 2516.6a4 4 0 1 0 8 0a4 4 0 1 0 -8 0M1062.9 2416.6a4 4 0 1 0 8 0a4 4 0 1 0 -8 0M1110.3 2409.9a4 4 0 1 0 8 0a4 4 0 1 0 -8 0M1539.8 2277a4 4 0 1 0 8 0a4 4 0 1 0 -8 0M1041.3 2421.9a4 4 0 1 0 8 0a4 4 0 1 0 -8 0M1354.5 2291.7a4 4 0 1 0 8 0a4 4 0 1 0 -8 0M1239.7 2401a4 4 0 1 0 8 0a4 4 0 1 0 -8 0M1302.6 2298a4 4 0 1 0 8 0a4 4 0 1 0 -8 0M1072.2 2411.8a4 4 0 1 0 8 0a4 4 0 1 0 -8 0M1435.9 2267.7a4 4 0 1 0 8 0a4 4 0 1 0 -8 0M1559.4 2288.3a4 4 0 1 0 8 0a4 4 0 1 0 -8 0M1391.9 2284.7a4 4 0 1 0 8 0a4 4 0 1 0 -8 0M1325.3 2299.1a4 4 0 1 0 8 0a4 4 0 1 0 -8 0M1313.2 2300.1a4 4 0 1 0 8 0a4 4 0 1 0 -8 0M1231.8 2400.6a4 4 0 1 0 8 0a4 4 0 1 0 -8 0M1328.5 2296.6a4 4 0 1 0 8 0a4 4 0 1 0 -8 0M1069.1 2419.2a4 4 0 1 0 8 0a4 4 0 1 0 -8 0M1371.4 2289.8a4 4 0 1 0 8 0a4 4 0 1 0 -8 0M1473.2 2242.3a4 4 0 1 0 8 0a4 4 0 1 0 -8 0M1450.6 2252.9a4 4 0 1 0 8 0a4 4 0 1 0 -8 0M1368.2 2289.9a4 4 0 1 0 8 0a4 4 0 1 0 -8 0M1433.7 2275a4 4 0 1 0 8 0a4 4 0 1 0 -8 0M1074.9 2411.3a4 4 0 1 0 8 0a4 4 0 1 0 -8 0M1039.2 2426.3a4 4 0 1 0 8 0a4 4 0 1 0 -8 0M1277.7 2362.1a4 4 0 1 0 8 0a4 4 0 1 0 -8 0M1512.9 2249.1a4 4 0 1 0 8 0a4 4 0 1 0 -8 0M1501.7 2240.6a4 4 0 1 0 8 0a4 4 0 1 0 -8 0M1452.2 2255.1a4 4 0 1 0 8 0a4 4 0 1 0 -8 0M1302 2298.5a4 4 0 1 0 8 0a4 4 0 1 0 -8 0M1091.8 2408a4 4 0 1 0 8 0a4 4 0 1 0 -8 0M1094.9 2413.9a4 4 0 1 0 8 0a4 4 0 1 0 -8 0M1531.1 2260.2a4 4 0 1 0 8 0a4 4 0 1 0 -8 0M1091.5 2413.5a4 4 0 1 0 8 0a4 4 0 1 0 -8 0M1349.9 2299.3a4 4 0 1 0 8 0a4 4 0 1 0 -8 0M1537 2271.3a4 4 0 1 0 8 0a4 4 0 1 0 -8 0M1020.8 2422.9a4 4 0 1 0 8 0a4 4 0 1 0 -8 0M1362.4 2292.2a4 4 0 1 0 8 0a4 4 0 1 0 -8 0M1008 2419.5a4 4 0 1 0 8 0a4 4 0 1 0 -8 0M1045.7 2424.2a4 4 0 1 0 8 0a4 4 0 1 0 -8 0M1272.8 2382.6a4 4 0 1 0 8 0a4 4 0 1 0 -8 0M1364.7 2300a4 4 0 1 0 8 0a4 4 0 1 0 -8 0M1369.1 2292.9a4 4 0 1 0 8 0a4 4 0 1 0 -8 0M1545.3 2284.1a4 4 0 1 0 8 0a4 4 0 1 0 -8 0M1159.6 2408.4a4 4 0 1 0 8 0a4 4 0 1 0 -8 0M1238.9 2398.9a4 4 0 1 0 8 0a4 4 0 1 0 -8 0M1463.3 2247.3a4 4 0 1 0 8 0a4 4 0 1 0 -8 0M1485.3 2238.2a4 4 0 1 0 8 0a4 4 0 1 0 -8 0M1189 2399.2a4 4 0 1 0 8 0a4 4 0 1 0 -8 0M1474.9 2237.6a4 4 0 1 0 8 0a4 4 0 1 0 -8 0M1455.5 2254.7a4 4 0 1 0 8 0a4 4 0 1 0 -8 0M1172.4 2402.4a4 4 0 1 0 8 0a4 4 0 1 0 -8 0M1380 2294.4a4 4 0 1 0 8 0a4 4 0 1 0 -8 0M1199 2402.3a4 4 0 1 0 8 0a4 4 0 1 0 -8 0M1052.8 2491.6a4 4 0 1 0 8 0a4 4 0 1 0 -8 0M1188.9 2461.2a4 4 0 1 0 8 0a4 4 0 1 0 -8 0M1384.1 2395.6a4 4 0 1 0 8 0a4 4 0 1 0 -8 0M1062.2 2491.8a4 4 0 1 0 8 0a4 4 0 1 0 -8 0M1261.4 2413a4 4 0 1 0 8 0a4 4 0 1 0 -8 0M1451.1 2420.4a4 4 0 1 0 8 0a4 4 0 1 0 -8 0M1087.6 2490.4a4 4 0 1 0 8 0a4 4 0 1 0 -8 0M1069.1 2485.4a4 4 0 1 0 8 0a4 4 0 1 0 -8 0M1058.8 2494.4a4 4 0 1 0 8 0a4 4 0 1 0 -8 0M1244.7 2430.9a4 4 0 1 0 8 0a4 4 0 1 0 -8 0M1026.5 2519.4a4 4 0 1 0 8 0a4 4 0 1 0 -8 0M1246.5 2427.1a4 4 0 1 0 8 0a4 4 0 1 0 -8 0M1472.1 2414.6a4 4 0 1 0 8 0a4 4 0 1 0 -8 0M1375.6 2400.1a4 4 0 1 0 8 0a4 4 0 1 0 -8 0M1093.6 2487.1a4 4 0 1 0 8 0a4 4 0 1 0 -8 0M1367.9 2392.7a4 4 0 1 0 8 0a4 4 0 1 0 -8 0M1428.7 2414.3a4 4 0 1 0 8 0a4 4 0 1 0 -8 0M1550.6 2396.9a4 4 0 1 0 8 0a4 4 0 1 0 -8 0M1305.3 2396.5a4 4 0 1 0 8 0a4 4 0 1 0 -8 0M1375.4 2398a4 4 0 1 0 8 0a4 4 0 1 0 -8 0M1326.3 2394.9a4 4 0 1 0 8 0a4 4 0 1 0 -8 0M1343.6 2395.1a4 4 0 1 0 8 0a4 4 0 1 0 -8 0M1427.6 2413.8a4 4 0 1 0 8 0a4 4 0 1 0 -8 0M1364.7 2394.5a4 4 0 1 0 8 0a4 4 0 1 0 -8 0M1517.6 2403.6a4 4 0 1 0 8 0a4 4 0 1 0 -8 0M1161.5 2454.7a4 4 0 1 0 8 0a4 4 0 1 0 -8 0M1388.8 2398.3a4 4 0 1 0 8 0a4 4 0 1 0 -8 0M1003.7 2500.7a4 4 0 1 0 8 0a4 4 0 1 0 -8 0M1257.1 2415.5a4 4 0 1 0 8 0a4 4 0 1 0 -8 0M1353.5 2390.2a4 4 0 1 0 8 0a4 4 0 1 0 -8 0M1111.8 2481.3a4 4 0 1 0 8 0a4 4 0 1 0 -8 0M1426.2 2417a4 4 0 1 0 8 0a4 4 0 1 0 -8 0M1502 2408.8a4 4 0 1 0 8 0a4 4 0 1 0 -8 0M1516.6 2406a4 4 0 1 0 8 0a4 4 0 1 0 -8 0M1327 2390.3a4 4 0 1 0 8 0a4 4 0 1 0 -8 0M1208.3 2463.5a4 4 0 1 0 8 0a4 4 0 1 0 -8 0M1418.9 2409.2a4 4 0 1 0 8 0a4 4 0 1 0 -8 0M1561.7 2402.1a4 4 0 1 0 8 0a4 4 0 1 0 -8 0M1159.3 2457.1a4 4 0 1 0 8 0a4 4 0 1 0 -8 0M1443.5 2418.8a4 4 0 1 0 8 0a4 4 0 1 0 -8 0M1517.3 2400.2a4 4 0 1 0 8 0a4 4 0 1 0 -8 0M1066.4 2488.9a4 4 0 1 0 8 0a4 4 0 1 0 -8 0M1303.4 2401.4a4 4 0 1 0 8 0a4 4 0 1 0 -8 0M1187 2453.7a4 4 0 1 0 8 0a4 4 0 1 0 -8 0M1308.4 2396.4a4 4 0 1 0 8 0a4 4 0 1 0 -8 0M1006.9 2503.8a4 4 0 1 0 8 0a4 4 0 1 0 -8 0M1173.5 2446.2a4 4 0 1 0 8 0a4 4 0 1 0 -8 0M1055.1 2489.3a4 4 0 1 0 8 0a4 4 0 1 0 -8 0M1406.7 2407.5a4 4 0 1 0 8 0a4 4 0 1 0 -8 0M1546.4 2405a4 4 0 1 0 8 0a4 4 0 1 0 -8 0M1028 2515.4a4 4 0 1 0 8 0a4 4 0 1 0 -8 0M1474.1 2417.6a4 4 0 1 0 8 0a4 4 0 1 0 -8 0" fill="#D95319"/>
<polygon fill="#0072BD" points="982,2417 984.2,2417 986.6,2415.7 988.9,2415.7 991.2,2411.4 993.5,2411.4 995.8,2405.2 998.1,2405.2 1000.4,2400.5 1002.7,2400.5 1005,2394.2 1007.3,2394.2 1009.6,2389.7 1011.9,2389.7 1014.2,2377.4 1016.5,2377.4 1018.8,2367.8 1021.1,2367.8 1023.4,2359.5 1025.7,2359.5 1028,2351.4 1030.3,2351.4 1032.6,2344.9 1034.9,2344.9 1037.2,2340.7 1039.5,2340.7 1041.8,2337.2 1044.1,2337.2 1046.4,2332.5 1048.7,2332.5 1051,2329.9 1053.3,2329.9 1055.6,2325.6 1057.9,2325.6 1060.2,2324.6 1062.5,2324.6 1064.8,2320.2 1067.1,2320.2 1069.4,2318.7 1071.7,2318.7 1074,2315.4 1076.3,2315.4 1078.6,2312 1080.9,2312 1083.2,2310.1 1085.5,2310.1 1087.8,2304.6 1090.1,2304.6 1092.4,2299.1 1094.7,2299.1 1097,2295.2 1099.3,2295.2 1101.6,2295.2 1103.9,2295.2 1106.2,2291.6 1108.5,2291.6 1110.8,2291.4 1113.1,2291.4 1115.4,2291 1117.7,2291 1120,2295.9 1122.3,2295.9 1124.6,2291.3 1126.9,2291.3 1129.2,2293.2 1131.5,2293.2 1133.8,2292.6 1136.1,2292.6 1138.4,2292.4 1140.7,2292.4 1143,2291.8 1145.3,2291.8 1147.6,2290.5 1149.9,2290.5 1152.2,2288.8 1154.5,2288.8 1156.8,2288.6 1159.1,2288.6 1161.4,2289.2 1163.7,2289.2 1166,2288.5 1168.3,2288.5 1170.6,2290.8 1172.9,2290.8 1175.2,2288 1177.5,2288 1179.8,2290 1182.1,2290 1184.4,2293.1 1186.7,2293.1 1189,2285.1 1191.3,2285.1 1193.6,2285.3 1195.9,2285.3 1198.2,2283.1 1200.5,2283.1 1202.8,2284.1 1205.1,2284.1 1207.4,2285.5 1209.7,2285.5 1212,2287.9 1214.3,2287.9 1216.6,2291.4 1218.9,2291.4 1221.2,2294.2 1223.5,2294.2 1225.8,2295.1 1228.1,2295.1 1230.4,2297.9 1232.7,2297.9 1235,2299 1237.3,2299 1239.6,2301.8 1241.9,2301.8 1244.2,2303.9 1246.5,2303.9 1248.8,2306.6 1251.1,2306.6 1253.4,2306.3 1255.7,2306.3 1258,2309.4 1260.3,2309.4 1262.6,2311.6 1264.9,2311.6 1267.2,2316 1269.5,2316 1271.8,2319.1 1274.1,2319.1 1276.4,2321.6 1278.7,2321.6 1281,2326.2 1283.3,2326.2 1285.6,2336.1 1287.9,2336.1 1290.2,2345.4 1292.5,2345.4 1294.8,2357.3 1297.1,2357.3 1299.4,2367.4 1301.7,2367.4 1304,2376.3 1306.3,2376.3 1308.6,2371.4 1310.9,2371.4 1313.2,2367 1315.5,2367 1317.8,2364.8 1320.1,2364.8 1322.4,2363.8 1324.7,2363.8 1327,2360.6 1329.3,2360.6 1331.6,2358.5 1333.9,2358.5 1336.2,2356.8 1338.5,2356.8 1340.8,2359.4 1343.1,2359.4 1345.4,2363.7 1347.7,2363.7 1350,2370.2 1352.3,2370.2 1354.6,2374.4 1356.9,2374.4 1359.2,2380.2 1361.5,2380.2 1363.8,2382.4 1366.1,2382.4 1368.4,2382.9 1370.7,2382.9 1373,2386.3 1375.3,2386.3 1377.6,2386.7 1379.9,2386.7 1382.2,2385.7 1384.5,2385.7 1386.8,2386.5 1389.1,2386.5 1391.4,2385.5 1393.7,2385.5 1396,2386.3 1398.3,2386.3 1400.6,2385.3 1402.9,2385.3 1405.2,2394.5 1407.5,2394.5 1409.8,2399.8 1412.1,2399.8 1414.4,2407.5 1416.7,2407.5 1419,2421.8 1421.3,2421.8 1423.6,2445 1425.9,2445 1428.2,2452.6 1430.5,2452.6 1432.8,2445.4 1435.1,2445.4 1437.4,2450.4 1439.7,2450.4 1442,2447 1444.3,2447 1446.6,2451.8 1448.9,2451.8 1451.2,2445.9 1453.5,2445.9 1455.8,2446.1 1458.1,2446.1 1460.4,2445.9 1462.7,2445.9 1465,2447.5 1467.3,2447.5 1469.6,2447.3 1471.9,2447.3 1474.2,2448.6 1476.5,2448.6 1478.8,2450 1481.1,2450 1483.4,2445.8 1485.7,2445.8 1488,2444.7 1490.3,2444.7 1492.6,2446.6 1494.9,2446.6 1497.2,2443.4 1499.5,2443.4 1501.8,2443.3 1504.1,2443.3 1506.4,2441.2 1508.7,2441.2 1511,2437.2 1513.3,2437.2 1515.6,2434.9 1517.9,2434.9 1520.2,2420.4 1522.5,2420.4 1524.8,2406.6 1527.1,2406.6 1529.4,2403.8 1531.7,2403.8 1534,2401.9 1536.3,2401.9 1538.6,2401.5 1540.9,2401.5 1543.2,2399.8 1545.5,2399.8 1547.8,2396.6 1550.1,2396.6 1552.4,2395 1554.7,2395 1557,2402.2 1559.3,2402.2 1561.6,2394.9 1563.9,2394.9 1566.2,2394.5 1568.5,2394.5 1570.8,2392.7 1573.1,2392.7 1575.4,2394.4 1577.7,2394.4 1577.7,2492.7 1575.4,2492.7 1573.1,2494.1 1570.8,2494.1 1568.5,2497.7 1566.2,2497.7 1563.9,2502.9 1561.6,2502.9 1559.3,2501.8 1557,2501.8 1554.7,2511.5 1552.4,2511.5 1550.1,2507.6 1547.8,2507.6 1545.5,2518.5 1543.2,2518.5 1540.9,2524.7 1538.6,2524.7 1536.3,2525.9 1534,2525.9 1531.7,2534.8 1529.4,2534.8 1527.1,2540.1 1524.8,2540.1 1522.5,2544.6 1520.2,2544.6 1517.9,2550.4 1515.6,2550.4 1513.3,2553.8 1511,2553.8 1508.7,2558.8 1506.4,2558.8 1504.1,2558.7 1501.8,2558.7 1499.5,2564.2 1497.2,2564.2 1494.9,2565.1 1492.6,2565.1 1490.3,2564 1488,2564 1485.7,2564.2 1483.4,2564.2 1481.1,2566.4 1478.8,2566.4 1476.5,2565.5 1474.2,2565.5 1471.9,2566.3 1469.6,2566.3 1467.3,2564.1 1465,2564.1 1462.7,2565.4 1460.4,2565.4 1458.1,2555.3 1455.8,2555.3 1453.5,2563.5 1451.2,2563.5 1448.9,2561.8 1446.6,2561.8 1444.3,2558.4 1442,2558.4 1439.7,2553.6 1437.4,2553.6 1435.1,2562.2 1432.8,2562.2 1430.5,2559.4 1428.2,2559.4 1425.9,2567.1 1423.6,2567.1 1421.3,2570.2 1419,2570.2 1416.7,2567.1 1414.4,2567.1 1412.1,2565.5 1409.8,2565.5 1407.5,2562.2 1405.2,2562.2 1402.9,2557.8 1400.6,2557.8 1398.3,2553.1 1396,2553.1 1393.7,2550.2 1391.4,2550.2 1389.1,2543.6 1386.8,2543.6 1384.5,2539.3 1382.2,2539.3 1379.9,2534.1 1377.6,2534.1 1375.3,2531.8 1373,2531.8 1370.7,2526.1 1368.4,2526.1 1366.1,2523.1 1363.8,2523.1 1361.5,2518.9 1359.2,2518.9 1356.9,2514 1354.6,2514 1352.3,2509.8 1350,2509.8 1347.7,2505.2 1345.4,2505.2 1343.1,2499.5 1340.8,2499.5 1338.5,2495.3 1336.2,2495.3 1333.9,2492.3 1331.6,2492.3 1329.3,2487 1327,2487 1324.7,2484 1322.4,2484 1320.1,2482.4 1317.8,2482.4 1315.5,2477.7 1313.2,2477.7 1310.9,2474.2 1308.6,2474.2 1306.3,2471.4 1304,2471.4 1301.7,2469.4 1299.4,2469.4 1297.1,2467.5 1294.8,2467.5 1292.5,2464 1290.2,2464 1287.9,2460.4 1285.6,2460.4 1283.3,2456.5 1281,2456.5 1278.7,2453.8 1276.4,2453.8 1274.1,2450.6 1271.8,2450.6 1269.5,2449.1 1267.2,2449.1 1264.9,2447.4 1262.6,2447.4 1260.3,2445 1258,2445 1255.7,2443 1253.4,2443 1251.1,2442.6 1248.8,2442.6 1246.5,2438.3 1244.2,2438.3 1241.9,2439.4 1239.6,2439.4 1237.3,2436.8 1235,2436.8 1232.7,2435.6 1230.4,2435.6 1228.1,2432.8 1225.8,2432.8 1223.5,2429.8 1221.2,2429.8 1218.9,2424.8 1216.6,2424.8 1214.3,2421 1212,2421 1209.7,2418.4 1207.4,2418.4 1205.1,2414.8 1202.8,2414.8 1200.5,2417.1 1198.2,2417.1 1195.9,2413.4 1193.6,2413.4 1191.3,2413.4 1189,2413.4 1186.7,2421.2 1184.4,2421.2 1182.1,2422.3 1179.8,2422.3 1177.5,2422.8 1175.2,2422.8 1172.9,2425.8 1170.6,2425.8 1168.3,2425 1166,2425 1163.7,2428.3 1161.4,2428.3 1159.1,2428.9 1156.8,2428.9 1154.5,2429 1152.2,2429 1149.9,2432.9 1147.6,2432.9 1145.3,2433 1143,2433 1140.7,2433 1138.4,2433 1136.1,2437.1 1133.8,2437.1 1131.5,2439 1129.2,2439 1126.9,2442.2 1124.6,2442.2 1122.3,2447 1120,2447 1117.7,2449.5 1115.4,2449.5 1113.1,2455.8 1110.8,2455.8 1108.5,2458.2 1106.2,2458.2 1103.9,2452.8 1101.6,2452.8 1099.3,2460 1097,2460 1094.7,2459.2 1092.4,2459.2 1090.1,2460 1087.8,2460 1085.5,2460.2 1083.2,2460.2 1080.9,2462.1 1078.6,2462.1 1076.3,2462.4 1074,2462.4 1071.7,2461.8 1069.4,2461.8 1067.1,2463.8 1064.8,2463.8 1062.5,2464.9 1060.2,2464.9 1057.9,2461.4 1055.6,2461.4 1053.3,2467.4 1051,2467.4 1048.7,2469 1046.4,2469 1044.1,2468.3 1041.8,2468.3 1039.5,2463.1 1037.2,2463.1 1034.9,2473.6 1032.6,2473.6 1030.3,2478.2 1028,2478.2 1025.7,2480.6 1023.4,2480.6 1021.1,2484.4 1018.8,2484.4 1016.5,2488.8 1014.2,2488.8 1011.9,2492.6 1009.6,2492.6 1007.3,2500.4 1005,2500.4 1002.7,2505 1000.4,2505 998.1,2507.1 995.8,2507.1 993.5,2511.3 991.2,2511.3 988.9,2513 986.6,2513 984.2,2514.5 982,2514.5"/>
<path d="M1250 2311.1V2276.8M1413.8 2409.9V2362.9M1083.8 2455.4V2491.7M1264.7 2441.9V2498.8M1421.1 2566.5V2584.3M1482.2 2559.3V2591.4M1494.9 2453.7V2437.8M1498.6 2453.2V2443.7M1489.6 2454.3V2438.9M1008.2 2400.4V2385.1M1522.9 2418.4V2402.6M1445.1 2454.8V2443.1M1387.4 2394.8V2380.8M1188.7 2294.7V2282.6M1362.4 2388.7V2376.5M1257 2317V2306.9M1088.3 2313.9V2303M1348.3 2374.5V2359.9M999.6 2410.4V2395.8M1227.1 2304.5V2291M991.1 2420.3V2404.8M1137 2300.2V2291M1558.6 2404V2391.6M1471.7 2455.9V2444.1M1076.4 2323.7V2314.5M1270.5 2324.9V2308.6M1128 2300.8V2284.7M1184.5 2296.2V2283.2M1564.1 2403.2V2387.7M1540.1 2409V2398M1442 2454.6V2445.1M1479.5 2455.5V2443.6M1358.9 2386.4V2376.1M1515.7 2439.4V2426.2M1198.9 2291V2278.5M993.9 2417V2402.3M1517.2 2435.1V2421.9M991.3 2420.1V2404M1346.8 2372.8V2359.4M1089.3 2312.7V2299.3M1081.1 2321V2304.3M1168.6 2297.3V2281.4M1245.4 2311.9V2301.3M1472 2455.9V2440.3M1173.7 2297.3V2280.6M1520.7 2537.9V2546.8M1208.4 2408.5V2422.8M1451.5 2553.4V2566.1M1036.6 2462.9V2478.2M1048.7 2459.4V2471.2M1377.9 2525.4V2540.9M1294.9 2456.9V2469.2M1306.6 2465.2V2478.8M1194 2410V2424.8M1262.1 2438.1V2454M1474.6 2556.6V2565.5M1327 2477.6V2492.1M1454.6 2554.3V2563.9M1206.1 2406.5V2421.3M1448.1 2552.4V2566M1349.7 2500.2V2511.4M1161 2419.6V2436.1M1436.2 2551.2V2561.4M1159.6 2420V2436.2M1036.7 2462.9V2479.8M1188.8 2411.5V2425M1411.3 2556.6V2566.2M1303.6 2463.2V2475.2M1260 2437.2V2448.2M1407 2553.5V2568.9M1192.6 2410.4V2423.3M1123.1 2436.3V2452.8M1191.6 2410.7V2422.2M1393.2 2541V2555.9M1244 2431.7V2443.3M1467.6 2556.6V2571.6M1241.3 2431V2441M1414.9 2559.2V2570.8M1277.5 2444.8V2458.9M1223.4 2421.7V2431.4M1521.1 2537.6V2554.6M1278 2445V2457.9M1516.1 2542V2551.9M1333.4 2483.6V2499.8" stroke="#0072BD" stroke-width="2.6" fill="none"/>
<path d="M1246 2276.8a4 4 0 1 0 8 0a4 4 0 1 0 -8 0M1409.8 2362.9a4 4 0 1 0 8 0a4 4 0 1 0 -8 0M1079.8 2491.7a4 4 0 1 0 8 0a4 4 0 1 0 -8 0M1260.7 2498.8a4 4 0 1 0 8 0a4 4 0 1 0 -8 0M1417.1 2584.3a4 4 0 1 0 8 0a4 4 0 1 0 -8 0M1478.2 2591.4a4 4 0 1 0 8 0a4 4 0 1 0 -8 0M1490.9 2437.8a4 4 0 1 0 8 0a4 4 0 1 0 -8 0M1494.6 2443.7a4 4 0 1 0 8 0a4 4 0 1 0 -8 0M1485.6 2438.9a4 4 0 1 0 8 0a4 4 0 1 0 -8 0M1004.2 2385.1a4 4 0 1 0 8 0a4 4 0 1 0 -8 0M1518.9 2402.6a4 4 0 1 0 8 0a4 4 0 1 0 -8 0M1441.1 2443.1a4 4 0 1 0 8 0a4 4 0 1 0 -8 0M1383.4 2380.8a4 4 0 1 0 8 0a4 4 0 1 0 -8 0M1184.7 2282.6a4 4 0 1 0 8 0a4 4 0 1 0 -8 0M1358.4 2376.5a4 4 0 1 0 8 0a4 4 0 1 0 -8 0M1253 2306.9a4 4 0 1 0 8 0a4 4 0 1 0 -8 0M1084.3 2303a4 4 0 1 0 8 0a4 4 0 1 0 -8 0M1344.3 2359.9a4 4 0 1 0 8 0a4 4 0 1 0 -8 0M995.6 2395.8a4 4 0 1 0 8 0a4 4 0 1 0 -8 0M1223.1 2291a4 4 0 1 0 8 0a4 4 0 1 0 -8 0M987.1 2404.8a4 4 0 1 0 8 0a4 4 0 1 0 -8 0M1133 2291a4 4 0 1 0 8 0a4 4 0 1 0 -8 0M1554.6 2391.6a4 4 0 1 0 8 0a4 4 0 1 0 -8 0M1467.7 2444.1a4 4 0 1 0 8 0a4 4 0 1 0 -8 0M1072.4 2314.5a4 4 0 1 0 8 0a4 4 0 1 0 -8 0M1266.5 2308.6a4 4 0 1 0 8 0a4 4 0 1 0 -8 0M1124 2284.7a4 4 0 1 0 8 0a4 4 0 1 0 -8 0M1180.5 2283.2a4 4 0 1 0 8 0a4 4 0 1 0 -8 0M1560.1 2387.7a4 4 0 1 0 8 0a4 4 0 1 0 -8 0M1536.1 2398a4 4 0 1 0 8 0a4 4 0 1 0 -8 0M1438 2445.1a4 4 0 1 0 8 0a4 4 0 1 0 -8 0M1475.5 2443.6a4 4 0 1 0 8 0a4 4 0 1 0 -8 0M1354.9 2376.1a4 4 0 1 0 8 0a4 4 0 1 0 -8 0M1511.7 2426.2a4 4 0 1 0 8 0a4 4 0 1 0 -8 0M1194.9 2278.5a4 4 0 1 0 8 0a4 4 0 1 0 -8 0M989.9 2402.3a4 4 0 1 0 8 0a4 4 0 1 0 -8 0M1513.2 2421.9a4 4 0 1 0 8 0a4 4 0 1 0 -8 0M987.3 2404a4 4 0 1 0 8 0a4 4 0 1 0 -8 0M1342.8 2359.4a4 4 0 1 0 8 0a4 4 0 1 0 -8 0M1085.3 2299.3a4 4 0 1 0 8 0a4 4 0 1 0 -8 0M1077.1 2304.3a4 4 0 1 0 8 0a4 4 0 1 0 -8 0M1164.6 2281.4a4 4 0 1 0 8 0a4 4 0 1 0 -8 0M1241.4 2301.3a4 4 0 1 0 8 0a4 4 0 1 0 -8 0M1468 2440.3a4 4 0 1 0 8 0a4 4 0 1 0 -8 0M1169.7 2280.6a4 4 0 1 0 8 0a4 4 0 1 0 -8 0M1516.7 2546.8a4 4 0 1 0 8 0a4 4 0 1 0 -8 0M1204.4 2422.8a4 4 0 1 0 8 0a4 4 0 1 0 -8 0M1447.5 2566.1a4 4 0 1 0 8 0a4 4 0 1 0 -8 0M1032.6 2478.2a4 4 0 1 0 8 0a4 4 0 1 0 -8 0M1044.7 2471.2a4 4 0 1 0 8 0a4 4 0 1 0 -8 0M1373.9 2540.9a4 4 0 1 0 8 0a4 4 0 1 0 -8 0M1290.9 2469.2a4 4 0 1 0 8 0a4 4 0 1 0 -8 0M1302.6 2478.8a4 4 0 1 0 8 0a4 4 0 1 0 -8 0M1190 2424.8a4 4 0 1 0 8 0a4 4 0 1 0 -8 0M1258.1 2454a4 4 0 1 0 8 0a4 4 0 1 0 -8 0M1470.6 2565.5a4 4 0 1 0 8 0a4 4 0 1 0 -8 0M1323 2492.1a4 4 0 1 0 8 0a4 4 0 1 0 -8 0M1450.6 2563.9a4 4 0 1 0 8 0a4 4 0 1 0 -8 0M1202.1 2421.3a4 4 0 1 0 8 0a4 4 0 1 0 -8 0M1444.1 2566a4 4 0 1 0 8 0a4 4 0 1 0 -8 0M1345.7 2511.4a4 4 0 1 0 8 0a4 4 0 1 0 -8 0M1157 2436.1a4 4 0 1 0 8 0a4 4 0 1 0 -8 0M1432.2 2561.4a4 4 0 1 0 8 0a4 4 0 1 0 -8 0M1155.6 2436.2a4 4 0 1 0 8 0a4 4 0 1 0 -8 0M1032.7 2479.8a4 4 0 1 0 8 0a4 4 0 1 0 -8 0M1184.8 2425a4 4 0 1 0 8 0a4 4 0 1 0 -8 0M1407.3 2566.2a4 4 0 1 0 8 0a4 4 0 1 0 -8 0M1299.6 2475.2a4 4 0 1 0 8 0a4 4 0 1 0 -8 0M1256 2448.2a4 4 0 1 0 8 0a4 4 0 1 0 -8 0M1403 2568.9a4 4 0 1 0 8 0a4 4 0 1 0 -8 0M1188.6 2423.3a4 4 0 1 0 8 0a4 4 0 1 0 -8 0M1119.1 2452.8a4 4 0 1 0 8 0a4 4 0 1 0 -8 0M1187.6 2422.2a4 4 0 1 0 8 0a4 4 0 1 0 -8 0M1389.2 2555.9a4 4 0 1 0 8 0a4 4 0 1 0 -8 0M1240 2443.3a4 4 0 1 0 8 0a4 4 0 1 0 -8 0M1463.6 2571.6a4 4 0 1 0 8 0a4 4 0 1 0 -8 0M1237.3 2441a4 4 0 1 0 8 0a4 4 0 1 0 -8 0M1410.9 2570.8a4 4 0 1 0 8 0a4 4 0 1 0 -8 0M1273.5 2458.9a4 4 0 1 0 8 0a4 4 0 1 0 -8 0M1219.4 2431.4a4 4 0 1 0 8 0a4 4 0 1 0 -8 0M1517.1 2554.6a4 4 0 1 0 8 0a4 4 0 1 0 -8 0M1274 2457.9a4 4 0 1 0 8 0a4 4 0 1 0 -8 0M1512.1 2551.9a4 4 0 1 0 8 0a4 4 0 1 0 -8 0M1329.4 2499.8a4 4 0 1 0 8 0a4 4 0 1 0 -8 0" fill="#0072BD"/>
</g>
<path d="M986.1 2865.4v-11.5M986.1 2011.3v11.5M1083.8 2865.4v-11.5M1083.8 2011.3v11.5M1181.6 2865.4v-11.5M1181.6 2011.3v11.5M1279.3 2865.4v-11.5M1279.3 2011.3v11.5M1377.1 2865.4v-11.5M1377.1 2011.3v11.5M1474.8 2865.4v-11.5M1474.8 2011.3v11.5M1572.6 2865.4v-11.5M1572.6 2011.3v11.5M986.1 2865.4h11.5M1572.6 2865.4h-11.5M986.1 2723.1h11.5M1572.6 2723.1h-11.5M986.1 2580.7h11.5M1572.6 2580.7h-11.5M986.1 2438.3h11.5M1572.6 2438.3h-11.5M986.1 2296h11.5M1572.6 2296h-11.5M986.1 2153.7h11.5M1572.6 2153.7h-11.5M986.1 2011.3h11.5M1572.6 2011.3h-11.5" stroke="#262626" stroke-width="3" fill="none"/>
<rect x="986.1" y="2011.3" width="586.5" height="854.1" fill="none" stroke="#222" stroke-width="4.3"/>
<g font-size="59" fill="#383838"><text x="995.6" y="2941.9" text-anchor="middle">0</text><text x="1086.8" y="2941.9" text-anchor="middle">04</text><text x="1183.6" y="2941.9" text-anchor="middle">08</text><text x="1282.8" y="2941.9" text-anchor="middle">12</text><text x="1378.6" y="2941.9" text-anchor="middle">16</text><text x="1476.3" y="2941.9" text-anchor="middle">20</text><text x="1570.4" y="2941.9" text-anchor="middle">24</text><text x="965.6" y="2888.9" text-anchor="end">−6</text><text x="965.6" y="2746.6" text-anchor="end">−4</text><text x="965.6" y="2604.2" text-anchor="end">−2</text><text x="962.1" y="2461.8" text-anchor="end">0</text><text x="962.1" y="2319.5" text-anchor="end">2</text><text x="962.1" y="2177.2" text-anchor="end">4</text><text x="962.1" y="2034.8" text-anchor="end">6</text></g>
<text x="1013.3" y="2088.5" font-size="61" fill="#111" textLength="77" lengthAdjust="spacingAndGlyphs">(h)</text>
<text x="1105.7" y="2088.5" font-size="61" fill="#111" textLength="149.8" lengthAdjust="spacingAndGlyphs">PALV</text>
<clipPath id="ci"><rect x="1727.9" y="2011.3" width="586.3" height="853.3"/></clipPath>
<path d="M1825.6 2011.3V2864.6M1923.3 2011.3V2864.6M2021 2011.3V2864.6M2118.8 2011.3V2864.6M2216.5 2011.3V2864.6" stroke="#262626" stroke-opacity="0.145" stroke-width="3.6" fill="none"/>
<path d="M1727.9 2722.4H2314.2M1727.9 2580.2H2314.2M1727.9 2437.9H2314.2M1727.9 2295.7H2314.2M1727.9 2153.5H2314.2" stroke="#262626" stroke-opacity="0.145" stroke-width="3.6" fill="none"/>
<g clip-path="url(#ci)">
<polygon fill="#D95319" points="1723.8,2375.6 1726.1,2375.6 1728.3,2378.8 1730.7,2378.8 1732.9,2388.5 1735.2,2388.5 1737.5,2401.6 1739.8,2401.6 1742.1,2402 1744.4,2402 1746.7,2397.3 1749,2397.3 1751.3,2395 1753.6,2395 1755.9,2391.6 1758.2,2391.6 1760.5,2389.2 1762.8,2389.2 1765.1,2380.1 1767.4,2380.1 1769.7,2375.7 1772,2375.7 1774.3,2371.8 1776.6,2371.8 1778.9,2370.6 1781.2,2370.6 1783.5,2370.1 1785.8,2370.1 1788.1,2374.9 1790.4,2374.9 1792.7,2372 1795,2372 1797.3,2373.5 1799.6,2373.5 1801.9,2371.1 1804.2,2371.1 1806.5,2367.7 1808.8,2367.7 1811.1,2362.7 1813.4,2362.7 1815.7,2372.1 1818,2372.1 1820.3,2393.2 1822.6,2393.2 1824.9,2407.6 1827.2,2407.6 1829.5,2409.9 1831.8,2409.9 1834.1,2406.2 1836.4,2406.2 1838.7,2406.6 1841,2406.6 1843.3,2404.7 1845.6,2404.7 1847.9,2404.5 1850.2,2404.5 1852.5,2401.5 1854.8,2401.5 1857.1,2399.1 1859.4,2399.1 1861.7,2399.2 1864,2399.2 1866.3,2389.1 1868.6,2389.1 1870.9,2381.1 1873.2,2381.1 1875.5,2377.2 1877.8,2377.2 1880.1,2386.1 1882.4,2386.1 1884.7,2383.6 1887,2383.6 1889.3,2388.9 1891.6,2388.9 1893.9,2391.6 1896.2,2391.6 1898.5,2391.5 1900.8,2391.5 1903.1,2392.1 1905.4,2392.1 1907.7,2394.6 1910,2394.6 1912.3,2398 1914.6,2398 1916.9,2397.3 1919.2,2397.3 1921.5,2401.2 1923.8,2401.2 1926.1,2402.6 1928.4,2402.6 1930.7,2405 1933,2405 1935.3,2403.5 1937.6,2403.5 1939.9,2403.2 1942.2,2403.2 1944.5,2399.1 1946.8,2399.1 1949.1,2391.4 1951.4,2391.4 1953.7,2392 1956,2392 1958.3,2384.8 1960.6,2384.8 1962.9,2373.2 1965.2,2373.2 1967.5,2365.9 1969.8,2365.9 1972.1,2363 1974.4,2363 1976.7,2356.3 1979,2356.3 1981.3,2356.1 1983.6,2356.1 1985.9,2358.2 1988.2,2358.2 1990.5,2357.9 1992.8,2357.9 1995.1,2361.3 1997.4,2361.3 1999.7,2369.6 2002,2369.6 2004.3,2378.4 2006.6,2378.4 2008.9,2389 2011.2,2389 2013.5,2408 2015.8,2408 2018.1,2427.2 2020.4,2427.2 2022.7,2434.5 2025,2434.5 2027.3,2434.4 2029.6,2434.4 2031.9,2436.6 2034.2,2436.6 2036.5,2435.4 2038.8,2435.4 2041.1,2438.1 2043.4,2438.1 2045.7,2435.6 2048,2435.6 2050.3,2429.3 2052.6,2429.3 2054.9,2428 2057.2,2428 2059.5,2416.1 2061.8,2416.1 2064.1,2413.5 2066.4,2413.5 2068.7,2409.4 2071,2409.4 2073.3,2412.5 2075.6,2412.5 2077.9,2406.2 2080.2,2406.2 2082.5,2398.7 2084.8,2398.7 2087.1,2384.9 2089.4,2384.9 2091.7,2371.1 2094,2371.1 2096.3,2367.2 2098.6,2367.2 2100.9,2356.8 2103.2,2356.8 2105.5,2356.5 2107.8,2356.5 2110.1,2354.3 2112.4,2354.3 2114.7,2351.3 2117,2351.3 2119.3,2350.1 2121.6,2350.1 2123.9,2347.7 2126.2,2347.7 2128.5,2341.9 2130.8,2341.9 2133.1,2343.4 2135.4,2343.4 2137.7,2349.5 2140,2349.5 2142.3,2354.3 2144.6,2354.3 2146.9,2357.1 2149.2,2357.1 2151.5,2362 2153.8,2362 2156.1,2359.6 2158.4,2359.6 2160.7,2354.4 2163,2354.4 2165.3,2349 2167.6,2349 2169.9,2343.1 2172.2,2343.1 2174.5,2338.5 2176.8,2338.5 2179.1,2332.7 2181.4,2332.7 2183.7,2332.4 2186,2332.4 2188.3,2342.1 2190.6,2342.1 2192.9,2344 2195.2,2344 2197.5,2341.7 2199.8,2341.7 2202.1,2349.9 2204.4,2349.9 2206.7,2346.2 2209,2346.2 2211.3,2350.9 2213.6,2350.9 2215.9,2352 2218.2,2352 2220.5,2357.6 2222.8,2357.6 2225.1,2359.6 2227.4,2359.6 2229.7,2366.4 2232,2366.4 2234.3,2369.6 2236.6,2369.6 2238.9,2372.5 2241.2,2372.5 2243.5,2376.1 2245.8,2376.1 2248.1,2376.8 2250.4,2376.8 2252.7,2378.3 2255,2378.3 2257.3,2380.5 2259.6,2380.5 2261.9,2380.2 2264.2,2380.2 2266.5,2383.6 2268.8,2383.6 2271.1,2387 2273.4,2387 2275.7,2390.6 2278,2390.6 2280.3,2389.7 2282.6,2389.7 2284.9,2392.6 2287.2,2392.6 2289.5,2396.7 2291.8,2396.7 2294.1,2397.9 2296.4,2397.9 2298.7,2402.4 2301,2402.4 2303.3,2406.4 2305.6,2406.4 2307.9,2407.1 2310.2,2407.1 2312.5,2410.1 2314.8,2410.1 2317.1,2411.8 2319.4,2411.8 2319.4,2552.6 2317.1,2552.6 2314.8,2550.5 2312.5,2550.5 2310.2,2556.4 2307.9,2556.4 2305.6,2556.6 2303.3,2556.6 2301,2552.2 2298.7,2552.2 2296.4,2538.5 2294.1,2538.5 2291.8,2526.9 2289.5,2526.9 2287.2,2514.1 2284.9,2514.1 2282.6,2503.1 2280.3,2503.1 2278,2495.3 2275.7,2495.3 2273.4,2489 2271.1,2489 2268.8,2485.9 2266.5,2485.9 2264.2,2481.3 2261.9,2481.3 2259.6,2479.9 2257.3,2479.9 2255,2478.2 2252.7,2478.2 2250.4,2478.7 2248.1,2478.7 2245.8,2476.6 2243.5,2476.6 2241.2,2482.4 2238.9,2482.4 2236.6,2483.5 2234.3,2483.5 2232,2482.9 2229.7,2482.9 2227.4,2482.7 2225.1,2482.7 2222.8,2485.5 2220.5,2485.5 2218.2,2488.2 2215.9,2488.2 2213.6,2488 2211.3,2488 2209,2485.1 2206.7,2485.1 2204.4,2474 2202.1,2474 2199.8,2473.1 2197.5,2473.1 2195.2,2468 2192.9,2468 2190.6,2468.2 2188.3,2468.2 2186,2466.6 2183.7,2466.6 2181.4,2469.1 2179.1,2469.1 2176.8,2472.5 2174.5,2472.5 2172.2,2475.3 2169.9,2475.3 2167.6,2478.3 2165.3,2478.3 2163,2477.7 2160.7,2477.7 2158.4,2483.2 2156.1,2483.2 2153.8,2485.9 2151.5,2485.9 2149.2,2488.3 2146.9,2488.3 2144.6,2489.7 2142.3,2489.7 2140,2486.2 2137.7,2486.2 2135.4,2494.7 2133.1,2494.7 2130.8,2494.5 2128.5,2494.5 2126.2,2496.9 2123.9,2496.9 2121.6,2492.5 2119.3,2492.5 2117,2492.8 2114.7,2492.8 2112.4,2504.1 2110.1,2504.1 2107.8,2505.2 2105.5,2505.2 2103.2,2506.8 2100.9,2506.8 2098.6,2511 2096.3,2511 2094,2515.6 2091.7,2515.6 2089.4,2521.3 2087.1,2521.3 2084.8,2525.8 2082.5,2525.8 2080.2,2533.8 2077.9,2533.8 2075.6,2543.4 2073.3,2543.4 2071,2546.7 2068.7,2546.7 2066.4,2555.9 2064.1,2555.9 2061.8,2562.7 2059.5,2562.7 2057.2,2570.2 2054.9,2570.2 2052.6,2578.8 2050.3,2578.8 2048,2587.5 2045.7,2587.5 2043.4,2589.3 2041.1,2589.3 2038.8,2586.9 2036.5,2586.9 2034.2,2586.6 2031.9,2586.6 2029.6,2593.5 2027.3,2593.5 2025,2596.4 2022.7,2596.4 2020.4,2596 2018.1,2596 2015.8,2570.9 2013.5,2570.9 2011.2,2553.7 2008.9,2553.7 2006.6,2541 2004.3,2541 2002,2529.3 1999.7,2529.3 1997.4,2518 1995.1,2518 1992.8,2505 1990.5,2505 1988.2,2505 1985.9,2505 1983.6,2520.1 1981.3,2520.1 1979,2533.2 1976.7,2533.2 1974.4,2546.3 1972.1,2546.3 1969.8,2553.1 1967.5,2553.1 1965.2,2562.2 1962.9,2562.2 1960.6,2568.7 1958.3,2568.7 1956,2571.8 1953.7,2571.8 1951.4,2582.4 1949.1,2582.4 1946.8,2583.3 1944.5,2583.3 1942.2,2579.6 1939.9,2579.6 1937.6,2574.8 1935.3,2574.8 1933,2571.4 1930.7,2571.4 1928.4,2566.7 1926.1,2566.7 1923.8,2563.6 1921.5,2563.6 1919.2,2559.5 1916.9,2559.5 1914.6,2562.5 1912.3,2562.5 1910,2563.2 1907.7,2563.2 1905.4,2564.2 1903.1,2564.2 1900.8,2555.8 1898.5,2555.8 1896.2,2561.2 1893.9,2561.2 1891.6,2559 1889.3,2559 1887,2555.5 1884.7,2555.5 1882.4,2551 1880.1,2551 1877.8,2548 1875.5,2548 1873.2,2550.2 1870.9,2550.2 1868.6,2553.7 1866.3,2553.7 1864,2555 1861.7,2555 1859.4,2560.9 1857.1,2560.9 1854.8,2564.3 1852.5,2564.3 1850.2,2564.7 1847.9,2564.7 1845.6,2566.5 1843.3,2566.5 1841,2565.2 1838.7,2565.2 1836.4,2562.8 1834.1,2562.8 1831.8,2558.5 1829.5,2558.5 1827.2,2560.8 1824.9,2560.8 1822.6,2559.6 1820.3,2559.6 1818,2561.1 1815.7,2561.1 1813.4,2563.3 1811.1,2563.3 1808.8,2565.1 1806.5,2565.1 1804.2,2564.6 1801.9,2564.6 1799.6,2569.9 1797.3,2569.9 1795,2574.7 1792.7,2574.7 1790.4,2577.4 1788.1,2577.4 1785.8,2581.5 1783.5,2581.5 1781.2,2585.4 1778.9,2585.4 1776.6,2591.2 1774.3,2591.2 1772,2591.2 1769.7,2591.2 1767.4,2589.4 1765.1,2589.4 1762.8,2587 1760.5,2587 1758.2,2585.2 1755.9,2585.2 1753.6,2582.8 1751.3,2582.8 1749,2569.2 1746.7,2569.2 1744.4,2556.2 1742.1,2556.2 1739.8,2541.9 1737.5,2541.9 1735.2,2523.7 1732.9,2523.7 1730.7,2500.2 1728.3,2500.2 1726.1,2493.3 1723.8,2493.3"/>
<path d="M1801.2 2377.5V2327M1845.2 2406.7V2334.1M1918.4 2402.2V2341.2M1994.2 2362.9V2305.7M2118.8 2351.9V2309.2M2216.5 2355.7V2309.2M2282.4 2394.6V2302.1M1776.8 2373.2V2359.7M2236 2478.5V2524M2039.1 2447.2V2426.1M2085.3 2404.3V2387.1M1821.4 2402V2391.2M1747.8 2408.7V2392M2241.1 2384.2V2362.7M1861.6 2408.5V2399.6M1953.2 2400V2380.5M1863.2 2406.7V2384.8M1745.5 2410.7V2399.3M1921 2409.8V2387.9M2148.4 2366.6V2346.8M2280.2 2399.9V2380M1804 2380.7V2363.8M2249.3 2386.6V2365.4M1751.8 2405.2V2383.9M2015.6 2422.1V2403.7M2018 2431.8V2413.6M1807.1 2376.9V2360.9M1995.8 2369.7V2356.4M1765.9 2389.3V2370.1M2061.1 2424.6V2414.7M1985.3 2367.9V2346.1M2117.5 2359.2V2340.3M2139.8 2359.1V2343.4M1997.1 2370.9V2348.8M2228.4 2373V2359.1M2252.4 2387.5V2369M1748 2408.6V2395.9M2074.2 2418.9V2402M2040.1 2447.3V2430.1M1893.4 2398V2389M2278.6 2398.9V2380.7M1754.5 2402.2V2391.6M1957.4 2396.3V2379.1M1811.9 2371V2350.8M2101.6 2368.5V2356.9M1764.4 2390.7V2369.7M2000.7 2377.9V2358.8M2020.5 2442.4V2421.5M2282.5 2401.2V2382M1939.8 2411.7V2397.9M1866.6 2400.7V2385.2M2280.3 2399.9V2389.7M2168.7 2355.4V2340M2010.8 2402.2V2392.2M1833.2 2416.8V2403.1M1804.5 2380.1V2365M2162.7 2363.2V2345.3M1811.2 2371.9V2351.2M2061 2424.6V2414.9M2019.8 2439.4V2421.1M1920.3 2409.5V2392.4M2106.9 2365.4V2351.8M2302.9 2413.1V2398.2M1737.8 2409.4V2395.7M2256.3 2388.6V2375.9M1900.7 2401.9V2381.1M1768.7 2386.9V2365.1M1761.1 2394.6V2383.1M1948.8 2403.8V2385.3M2300.6 2411.8V2400M1959.6 2394.4V2376.5M2173.1 2349.5V2327.6M1910.3 2405.6V2387M1968.2 2374.9V2354.7M1964.3 2551.3V2570.4M1886.8 2545.9V2559.9M1986.2 2500.2V2513.4M1896.4 2551.5V2560.4M1820 2551V2565.1M2077.2 2528V2548.5M2004.6 2528.5V2547.4M1996.8 2509.7V2530.9M1966.5 2547.9V2570.1M2080.4 2523.4V2542.6M2110.1 2493.5V2514.7M2038 2579.2V2590.7M1856.8 2551.6V2572.3M2228.1 2474.2V2483.6M2191.6 2456.4V2472M2113.1 2491.7V2504.2M2230.5 2473.5V2492.4M2165.8 2468V2485.3M2069.4 2539.6V2548.9M2085.7 2515.7V2531.4M1967.5 2546.2V2562.7M2180.5 2461.3V2482.9M2043.1 2580.7V2596.7M1749.4 2565.7V2587.6M2142.7 2481.3V2496.4M2145.9 2479.5V2500.1M1959 2559.8V2578.8M1860.3 2549V2568.9M1897.5 2552.1V2572.5M2198.4 2465.5V2481.5M2207 2474.8V2485.4M2076.7 2528.8V2542.3M2310.5 2544.4V2564.7M1842.9 2554.4V2565.3M2108.6 2494.5V2512.2M1905.2 2552.9V2571.7M1838.6 2553.1V2566.6M1775.4 2581V2596M2164.2 2468.9V2478.5M2172.1 2465V2474M2059.7 2556.5V2575.3M1920.3 2552.9V2569.7M1915.1 2552.9V2572.2M1907 2552.9V2574.1M1758 2575.9V2598M1804 2555.7V2575.3M1969.4 2543.1V2553.6M1834.4 2551.9V2565.1M1996.3 2508.7V2529.2M1804.5 2555.5V2568.8M1871.5 2540.9V2554.2M2116.2 2489.8V2509.7M1947.9 2577.7V2596.6M2083.3 2519.2V2537.1M1834.9 2552.1V2564.7M1847.9 2555.9V2576.4M1904.1 2552.9V2572.9M1984.1 2506.2V2518.4M1889 2547.2V2556.3M1962.9 2553.6V2563.6M2265.4 2475.8V2493.9M1985.1 2503.3V2523M1859.4 2549.7V2571.6M1961.2 2556.2V2577.3M1847.4 2555.7V2577.4" stroke="#D95319" stroke-width="2.6" fill="none"/>
<path d="M1797.2 2327a4 4 0 1 0 8 0a4 4 0 1 0 -8 0M1841.2 2334.1a4 4 0 1 0 8 0a4 4 0 1 0 -8 0M1914.4 2341.2a4 4 0 1 0 8 0a4 4 0 1 0 -8 0M1990.2 2305.7a4 4 0 1 0 8 0a4 4 0 1 0 -8 0M2114.8 2309.2a4 4 0 1 0 8 0a4 4 0 1 0 -8 0M2212.5 2309.2a4 4 0 1 0 8 0a4 4 0 1 0 -8 0M2278.4 2302.1a4 4 0 1 0 8 0a4 4 0 1 0 -8 0M1772.8 2359.7a4 4 0 1 0 8 0a4 4 0 1 0 -8 0M2232 2524a4 4 0 1 0 8 0a4 4 0 1 0 -8 0M2035.1 2426.1a4 4 0 1 0 8 0a4 4 0 1 0 -8 0M2081.3 2387.1a4 4 0 1 0 8 0a4 4 0 1 0 -8 0M1817.4 2391.2a4 4 0 1 0 8 0a4 4 0 1 0 -8 0M1743.8 2392a4 4 0 1 0 8 0a4 4 0 1 0 -8 0M2237.1 2362.7a4 4 0 1 0 8 0a4 4 0 1 0 -8 0M1857.6 2399.6a4 4 0 1 0 8 0a4 4 0 1 0 -8 0M1949.2 2380.5a4 4 0 1 0 8 0a4 4 0 1 0 -8 0M1859.2 2384.8a4 4 0 1 0 8 0a4 4 0 1 0 -8 0M1741.5 2399.3a4 4 0 1 0 8 0a4 4 0 1 0 -8 0M1917 2387.9a4 4 0 1 0 8 0a4 4 0 1 0 -8 0M2144.4 2346.8a4 4 0 1 0 8 0a4 4 0 1 0 -8 0M2276.2 2380a4 4 0 1 0 8 0a4 4 0 1 0 -8 0M1800 2363.8a4 4 0 1 0 8 0a4 4 0 1 0 -8 0M2245.3 2365.4a4 4 0 1 0 8 0a4 4 0 1 0 -8 0M1747.8 2383.9a4 4 0 1 0 8 0a4 4 0 1 0 -8 0M2011.6 2403.7a4 4 0 1 0 8 0a4 4 0 1 0 -8 0M2014 2413.6a4 4 0 1 0 8 0a4 4 0 1 0 -8 0M1803.1 2360.9a4 4 0 1 0 8 0a4 4 0 1 0 -8 0M1991.8 2356.4a4 4 0 1 0 8 0a4 4 0 1 0 -8 0M1761.9 2370.1a4 4 0 1 0 8 0a4 4 0 1 0 -8 0M2057.1 2414.7a4 4 0 1 0 8 0a4 4 0 1 0 -8 0M1981.3 2346.1a4 4 0 1 0 8 0a4 4 0 1 0 -8 0M2113.5 2340.3a4 4 0 1 0 8 0a4 4 0 1 0 -8 0M2135.8 2343.4a4 4 0 1 0 8 0a4 4 0 1 0 -8 0M1993.1 2348.8a4 4 0 1 0 8 0a4 4 0 1 0 -8 0M2224.4 2359.1a4 4 0 1 0 8 0a4 4 0 1 0 -8 0M2248.4 2369a4 4 0 1 0 8 0a4 4 0 1 0 -8 0M1744 2395.9a4 4 0 1 0 8 0a4 4 0 1 0 -8 0M2070.2 2402a4 4 0 1 0 8 0a4 4 0 1 0 -8 0M2036.1 2430.1a4 4 0 1 0 8 0a4 4 0 1 0 -8 0M1889.4 2389a4 4 0 1 0 8 0a4 4 0 1 0 -8 0M2274.6 2380.7a4 4 0 1 0 8 0a4 4 0 1 0 -8 0M1750.5 2391.6a4 4 0 1 0 8 0a4 4 0 1 0 -8 0M1953.4 2379.1a4 4 0 1 0 8 0a4 4 0 1 0 -8 0M1807.9 2350.8a4 4 0 1 0 8 0a4 4 0 1 0 -8 0M2097.6 2356.9a4 4 0 1 0 8 0a4 4 0 1 0 -8 0M1760.4 2369.7a4 4 0 1 0 8 0a4 4 0 1 0 -8 0M1996.7 2358.8a4 4 0 1 0 8 0a4 4 0 1 0 -8 0M2016.5 2421.5a4 4 0 1 0 8 0a4 4 0 1 0 -8 0M2278.5 2382a4 4 0 1 0 8 0a4 4 0 1 0 -8 0M1935.8 2397.9a4 4 0 1 0 8 0a4 4 0 1 0 -8 0M1862.6 2385.2a4 4 0 1 0 8 0a4 4 0 1 0 -8 0M2276.3 2389.7a4 4 0 1 0 8 0a4 4 0 1 0 -8 0M2164.7 2340a4 4 0 1 0 8 0a4 4 0 1 0 -8 0M2006.8 2392.2a4 4 0 1 0 8 0a4 4 0 1 0 -8 0M1829.2 2403.1a4 4 0 1 0 8 0a4 4 0 1 0 -8 0M1800.5 2365a4 4 0 1 0 8 0a4 4 0 1 0 -8 0M2158.7 2345.3a4 4 0 1 0 8 0a4 4 0 1 0 -8 0M1807.2 2351.2a4 4 0 1 0 8 0a4 4 0 1 0 -8 0M2057 2414.9a4 4 0 1 0 8 0a4 4 0 1 0 -8 0M2015.8 2421.1a4 4 0 1 0 8 0a4 4 0 1 0 -8 0M1916.3 2392.4a4 4 0 1 0 8 0a4 4 0 1 0 -8 0M2102.9 2351.8a4 4 0 1 0 8 0a4 4 0 1 0 -8 0M2298.9 2398.2a4 4 0 1 0 8 0a4 4 0 1 0 -8 0M1733.8 2395.7a4 4 0 1 0 8 0a4 4 0 1 0 -8 0M2252.3 2375.9a4 4 0 1 0 8 0a4 4 0 1 0 -8 0M1896.7 2381.1a4 4 0 1 0 8 0a4 4 0 1 0 -8 0M1764.7 2365.1a4 4 0 1 0 8 0a4 4 0 1 0 -8 0M1757.1 2383.1a4 4 0 1 0 8 0a4 4 0 1 0 -8 0M1944.8 2385.3a4 4 0 1 0 8 0a4 4 0 1 0 -8 0M2296.6 2400a4 4 0 1 0 8 0a4 4 0 1 0 -8 0M1955.6 2376.5a4 4 0 1 0 8 0a4 4 0 1 0 -8 0M2169.1 2327.6a4 4 0 1 0 8 0a4 4 0 1 0 -8 0M1906.3 2387a4 4 0 1 0 8 0a4 4 0 1 0 -8 0M1964.2 2354.7a4 4 0 1 0 8 0a4 4 0 1 0 -8 0M1960.3 2570.4a4 4 0 1 0 8 0a4 4 0 1 0 -8 0M1882.8 2559.9a4 4 0 1 0 8 0a4 4 0 1 0 -8 0M1982.2 2513.4a4 4 0 1 0 8 0a4 4 0 1 0 -8 0M1892.4 2560.4a4 4 0 1 0 8 0a4 4 0 1 0 -8 0M1816 2565.1a4 4 0 1 0 8 0a4 4 0 1 0 -8 0M2073.2 2548.5a4 4 0 1 0 8 0a4 4 0 1 0 -8 0M2000.6 2547.4a4 4 0 1 0 8 0a4 4 0 1 0 -8 0M1992.8 2530.9a4 4 0 1 0 8 0a4 4 0 1 0 -8 0M1962.5 2570.1a4 4 0 1 0 8 0a4 4 0 1 0 -8 0M2076.4 2542.6a4 4 0 1 0 8 0a4 4 0 1 0 -8 0M2106.1 2514.7a4 4 0 1 0 8 0a4 4 0 1 0 -8 0M2034 2590.7a4 4 0 1 0 8 0a4 4 0 1 0 -8 0M1852.8 2572.3a4 4 0 1 0 8 0a4 4 0 1 0 -8 0M2224.1 2483.6a4 4 0 1 0 8 0a4 4 0 1 0 -8 0M2187.6 2472a4 4 0 1 0 8 0a4 4 0 1 0 -8 0M2109.1 2504.2a4 4 0 1 0 8 0a4 4 0 1 0 -8 0M2226.5 2492.4a4 4 0 1 0 8 0a4 4 0 1 0 -8 0M2161.8 2485.3a4 4 0 1 0 8 0a4 4 0 1 0 -8 0M2065.4 2548.9a4 4 0 1 0 8 0a4 4 0 1 0 -8 0M2081.7 2531.4a4 4 0 1 0 8 0a4 4 0 1 0 -8 0M1963.5 2562.7a4 4 0 1 0 8 0a4 4 0 1 0 -8 0M2176.5 2482.9a4 4 0 1 0 8 0a4 4 0 1 0 -8 0M2039.1 2596.7a4 4 0 1 0 8 0a4 4 0 1 0 -8 0M1745.4 2587.6a4 4 0 1 0 8 0a4 4 0 1 0 -8 0M2138.7 2496.4a4 4 0 1 0 8 0a4 4 0 1 0 -8 0M2141.9 2500.1a4 4 0 1 0 8 0a4 4 0 1 0 -8 0M1955 2578.8a4 4 0 1 0 8 0a4 4 0 1 0 -8 0M1856.3 2568.9a4 4 0 1 0 8 0a4 4 0 1 0 -8 0M1893.5 2572.5a4 4 0 1 0 8 0a4 4 0 1 0 -8 0M2194.4 2481.5a4 4 0 1 0 8 0a4 4 0 1 0 -8 0M2203 2485.4a4 4 0 1 0 8 0a4 4 0 1 0 -8 0M2072.7 2542.3a4 4 0 1 0 8 0a4 4 0 1 0 -8 0M2306.5 2564.7a4 4 0 1 0 8 0a4 4 0 1 0 -8 0M1838.9 2565.3a4 4 0 1 0 8 0a4 4 0 1 0 -8 0M2104.6 2512.2a4 4 0 1 0 8 0a4 4 0 1 0 -8 0M1901.2 2571.7a4 4 0 1 0 8 0a4 4 0 1 0 -8 0M1834.6 2566.6a4 4 0 1 0 8 0a4 4 0 1 0 -8 0M1771.4 2596a4 4 0 1 0 8 0a4 4 0 1 0 -8 0M2160.2 2478.5a4 4 0 1 0 8 0a4 4 0 1 0 -8 0M2168.1 2474a4 4 0 1 0 8 0a4 4 0 1 0 -8 0M2055.7 2575.3a4 4 0 1 0 8 0a4 4 0 1 0 -8 0M1916.3 2569.7a4 4 0 1 0 8 0a4 4 0 1 0 -8 0M1911.1 2572.2a4 4 0 1 0 8 0a4 4 0 1 0 -8 0M1903 2574.1a4 4 0 1 0 8 0a4 4 0 1 0 -8 0M1754 2598a4 4 0 1 0 8 0a4 4 0 1 0 -8 0M1800 2575.3a4 4 0 1 0 8 0a4 4 0 1 0 -8 0M1965.4 2553.6a4 4 0 1 0 8 0a4 4 0 1 0 -8 0M1830.4 2565.1a4 4 0 1 0 8 0a4 4 0 1 0 -8 0M1992.3 2529.2a4 4 0 1 0 8 0a4 4 0 1 0 -8 0M1800.5 2568.8a4 4 0 1 0 8 0a4 4 0 1 0 -8 0M1867.5 2554.2a4 4 0 1 0 8 0a4 4 0 1 0 -8 0M2112.2 2509.7a4 4 0 1 0 8 0a4 4 0 1 0 -8 0M1943.9 2596.6a4 4 0 1 0 8 0a4 4 0 1 0 -8 0M2079.3 2537.1a4 4 0 1 0 8 0a4 4 0 1 0 -8 0M1830.9 2564.7a4 4 0 1 0 8 0a4 4 0 1 0 -8 0M1843.9 2576.4a4 4 0 1 0 8 0a4 4 0 1 0 -8 0M1900.1 2572.9a4 4 0 1 0 8 0a4 4 0 1 0 -8 0M1980.1 2518.4a4 4 0 1 0 8 0a4 4 0 1 0 -8 0M1885 2556.3a4 4 0 1 0 8 0a4 4 0 1 0 -8 0M1958.9 2563.6a4 4 0 1 0 8 0a4 4 0 1 0 -8 0M2261.4 2493.9a4 4 0 1 0 8 0a4 4 0 1 0 -8 0M1981.1 2523a4 4 0 1 0 8 0a4 4 0 1 0 -8 0M1855.4 2571.6a4 4 0 1 0 8 0a4 4 0 1 0 -8 0M1957.2 2577.3a4 4 0 1 0 8 0a4 4 0 1 0 -8 0M1843.4 2577.4a4 4 0 1 0 8 0a4 4 0 1 0 -8 0" fill="#D95319"/>
<polygon fill="#0072BD" points="1723.8,2445 1726.1,2445 1728.3,2437.5 1730.7,2437.5 1732.9,2436 1735.2,2436 1737.5,2435.9 1739.8,2435.9 1742.1,2435.9 1744.4,2435.9 1746.7,2435 1749,2435 1751.3,2434.4 1753.6,2434.4 1755.9,2432.9 1758.2,2432.9 1760.5,2430.1 1762.8,2430.1 1765.1,2428.2 1767.4,2428.2 1769.7,2427.3 1772,2427.3 1774.3,2432.2 1776.6,2432.2 1778.9,2431 1781.2,2431 1783.5,2434.1 1785.8,2434.1 1788.1,2438.1 1790.4,2438.1 1792.7,2440.5 1795,2440.5 1797.3,2443.4 1799.6,2443.4 1801.9,2444.3 1804.2,2444.3 1806.5,2444.8 1808.8,2444.8 1811.1,2446.4 1813.4,2446.4 1815.7,2449.5 1818,2449.5 1820.3,2448.3 1822.6,2448.3 1824.9,2448.3 1827.2,2448.3 1829.5,2448.2 1831.8,2448.2 1834.1,2447.3 1836.4,2447.3 1838.7,2446.6 1841,2446.6 1843.3,2445.8 1845.6,2445.8 1847.9,2443.9 1850.2,2443.9 1852.5,2444.9 1854.8,2444.9 1857.1,2445.1 1859.4,2445.1 1861.7,2445.8 1864,2445.8 1866.3,2445.5 1868.6,2445.5 1870.9,2446 1873.2,2446 1875.5,2446.3 1877.8,2446.3 1880.1,2446 1882.4,2446 1884.7,2446.1 1887,2446.1 1889.3,2445.4 1891.6,2445.4 1893.9,2453.4 1896.2,2453.4 1898.5,2445.8 1900.8,2445.8 1903.1,2446 1905.4,2446 1907.7,2447.1 1910,2447.1 1912.3,2447.6 1914.6,2447.6 1916.9,2447.4 1919.2,2447.4 1921.5,2447.6 1923.8,2447.6 1926.1,2447.5 1928.4,2447.5 1930.7,2446.9 1933,2446.9 1935.3,2448.4 1937.6,2448.4 1939.9,2447.5 1942.2,2447.5 1944.5,2448.3 1946.8,2448.3 1949.1,2454.9 1951.4,2454.9 1953.7,2446.1 1956,2446.1 1958.3,2445.4 1960.6,2445.4 1962.9,2444.2 1965.2,2444.2 1967.5,2442.6 1969.8,2442.6 1972.1,2440 1974.4,2440 1976.7,2446.6 1979,2446.6 1981.3,2440.7 1983.6,2440.7 1985.9,2448 1988.2,2448 1990.5,2439.8 1992.8,2439.8 1995.1,2439.9 1997.4,2439.9 1999.7,2438.5 2002,2438.5 2004.3,2437.7 2006.6,2437.7 2008.9,2437.5 2011.2,2437.5 2013.5,2437.5 2015.8,2437.5 2018.1,2438.4 2020.4,2438.4 2022.7,2436.3 2025,2436.3 2027.3,2435.6 2029.6,2435.6 2031.9,2434.9 2034.2,2434.9 2036.5,2436.4 2038.8,2436.4 2041.1,2435 2043.4,2435 2045.7,2433.4 2048,2433.4 2050.3,2433.2 2052.6,2433.2 2054.9,2433.6 2057.2,2433.6 2059.5,2432.5 2061.8,2432.5 2064.1,2432.3 2066.4,2432.3 2068.7,2431.8 2071,2431.8 2073.3,2432.6 2075.6,2432.6 2077.9,2431 2080.2,2431 2082.5,2430.9 2084.8,2430.9 2087.1,2435.5 2089.4,2435.5 2091.7,2429.9 2094,2429.9 2096.3,2429.3 2098.6,2429.3 2100.9,2427.3 2103.2,2427.3 2105.5,2433.5 2107.8,2433.5 2110.1,2419.7 2112.4,2419.7 2114.7,2412.7 2117,2412.7 2119.3,2406.5 2121.6,2406.5 2123.9,2398.3 2126.2,2398.3 2128.5,2391.9 2130.8,2391.9 2133.1,2386.5 2135.4,2386.5 2137.7,2378.8 2140,2378.8 2142.3,2372.4 2144.6,2372.4 2146.9,2366.7 2149.2,2366.7 2151.5,2362.5 2153.8,2362.5 2156.1,2356.8 2158.4,2356.8 2160.7,2351 2163,2351 2165.3,2345.7 2167.6,2345.7 2169.9,2343.9 2172.2,2343.9 2174.5,2342.2 2176.8,2342.2 2179.1,2340.4 2181.4,2340.4 2183.7,2339.7 2186,2339.7 2188.3,2337.9 2190.6,2337.9 2192.9,2334.7 2195.2,2334.7 2197.5,2331 2199.8,2331 2202.1,2327.3 2204.4,2327.3 2206.7,2324.4 2209,2324.4 2211.3,2321.6 2213.6,2321.6 2215.9,2319.3 2218.2,2319.3 2220.5,2315.6 2222.8,2315.6 2225.1,2313.9 2227.4,2313.9 2229.7,2311.6 2232,2311.6 2234.3,2309.9 2236.6,2309.9 2238.9,2306.2 2241.2,2306.2 2243.5,2305.2 2245.8,2305.2 2248.1,2305.5 2250.4,2305.5 2252.7,2304.4 2255,2304.4 2257.3,2305.5 2259.6,2305.5 2261.9,2304.3 2264.2,2304.3 2266.5,2307 2268.8,2307 2271.1,2312.1 2273.4,2312.1 2275.7,2315.6 2278,2315.6 2280.3,2319.5 2282.6,2319.5 2284.9,2322.6 2287.2,2322.6 2289.5,2328.7 2291.8,2328.7 2294.1,2337.2 2296.4,2337.2 2298.7,2347.2 2301,2347.2 2303.3,2352.9 2305.6,2352.9 2307.9,2353.7 2310.2,2353.7 2312.5,2354 2314.8,2354 2317.1,2355.4 2319.4,2355.4 2319.4,2495.8 2317.1,2495.8 2314.8,2495.1 2312.5,2495.1 2310.2,2486.1 2307.9,2486.1 2305.6,2478.6 2303.3,2478.6 2301,2460.9 2298.7,2460.9 2296.4,2430.4 2294.1,2430.4 2291.8,2400.4 2289.5,2400.4 2287.2,2390.5 2284.9,2390.5 2282.6,2385.8 2280.3,2385.8 2278,2376.3 2275.7,2376.3 2273.4,2375.6 2271.1,2375.6 2268.8,2369.8 2266.5,2369.8 2264.2,2368.2 2261.9,2368.2 2259.6,2370.9 2257.3,2370.9 2255,2373.2 2252.7,2373.2 2250.4,2376.6 2248.1,2376.6 2245.8,2378.6 2243.5,2378.6 2241.2,2382 2238.9,2382 2236.6,2385.9 2234.3,2385.9 2232,2389.4 2229.7,2389.4 2227.4,2393.6 2225.1,2393.6 2222.8,2397.7 2220.5,2397.7 2218.2,2401.8 2215.9,2401.8 2213.6,2404 2211.3,2404 2209,2404.9 2206.7,2404.9 2204.4,2405.9 2202.1,2405.9 2199.8,2407.2 2197.5,2407.2 2195.2,2407.8 2192.9,2407.8 2190.6,2411.4 2188.3,2411.4 2186,2413.2 2183.7,2413.2 2181.4,2412.5 2179.1,2412.5 2176.8,2418.6 2174.5,2418.6 2172.2,2422.4 2169.9,2422.4 2167.6,2425.1 2165.3,2425.1 2163,2429.8 2160.7,2429.8 2158.4,2425.5 2156.1,2425.5 2153.8,2437.6 2151.5,2437.6 2149.2,2442.1 2146.9,2442.1 2144.6,2446 2142.3,2446 2140,2446.2 2137.7,2446.2 2135.4,2450.7 2133.1,2450.7 2130.8,2464.7 2128.5,2464.7 2126.2,2471.4 2123.9,2471.4 2121.6,2478.2 2119.3,2478.2 2117,2485.2 2114.7,2485.2 2112.4,2492.8 2110.1,2492.8 2107.8,2498.1 2105.5,2498.1 2103.2,2497.1 2100.9,2497.1 2098.6,2501.5 2096.3,2501.5 2094,2501.5 2091.7,2501.5 2089.4,2501.3 2087.1,2501.3 2084.8,2499.3 2082.5,2499.3 2080.2,2498.8 2077.9,2498.8 2075.6,2497.2 2073.3,2497.2 2071,2495 2068.7,2495 2066.4,2495 2064.1,2495 2061.8,2493.8 2059.5,2493.8 2057.2,2493.8 2054.9,2493.8 2052.6,2492.6 2050.3,2492.6 2048,2492 2045.7,2492 2043.4,2492 2041.1,2492 2038.8,2491.3 2036.5,2491.3 2034.2,2491.8 2031.9,2491.8 2029.6,2491.2 2027.3,2491.2 2025,2491.2 2022.7,2491.2 2020.4,2493.2 2018.1,2493.2 2015.8,2494.8 2013.5,2494.8 2011.2,2496.2 2008.9,2496.2 2006.6,2499.3 2004.3,2499.3 2002,2501.4 1999.7,2501.4 1997.4,2503.1 1995.1,2503.1 1992.8,2503.3 1990.5,2503.3 1988.2,2502.6 1985.9,2502.6 1983.6,2503.1 1981.3,2503.1 1979,2503 1976.7,2503 1974.4,2502.7 1972.1,2502.7 1969.8,2502.9 1967.5,2502.9 1965.2,2501.8 1962.9,2501.8 1960.6,2501.7 1958.3,2501.7 1956,2500.9 1953.7,2500.9 1951.4,2503.2 1949.1,2503.2 1946.8,2502.5 1944.5,2502.5 1942.2,2503.8 1939.9,2503.8 1937.6,2504.1 1935.3,2504.1 1933,2504.2 1930.7,2504.2 1928.4,2506.1 1926.1,2506.1 1923.8,2506.2 1921.5,2506.2 1919.2,2507.5 1916.9,2507.5 1914.6,2507.5 1912.3,2507.5 1910,2500 1907.7,2500 1905.4,2509.4 1903.1,2509.4 1900.8,2509.7 1898.5,2509.7 1896.2,2509.3 1893.9,2509.3 1891.6,2511.2 1889.3,2511.2 1887,2506 1884.7,2506 1882.4,2512 1880.1,2512 1877.8,2512.2 1875.5,2512.2 1873.2,2512.4 1870.9,2512.4 1868.6,2510.8 1866.3,2510.8 1864,2507.2 1861.7,2507.2 1859.4,2508 1857.1,2508 1854.8,2507.9 1852.5,2507.9 1850.2,2506.7 1847.9,2506.7 1845.6,2506.8 1843.3,2506.8 1841,2505.7 1838.7,2505.7 1836.4,2506.3 1834.1,2506.3 1831.8,2506.4 1829.5,2506.4 1827.2,2505.5 1824.9,2505.5 1822.6,2505.8 1820.3,2505.8 1818,2505.5 1815.7,2505.5 1813.4,2505.5 1811.1,2505.5 1808.8,2505.5 1806.5,2505.5 1804.2,2506.7 1801.9,2506.7 1799.6,2505.5 1797.3,2505.5 1795,2505.2 1792.7,2505.2 1790.4,2506 1788.1,2506 1785.8,2506.2 1783.5,2506.2 1781.2,2506.7 1778.9,2506.7 1776.6,2506.6 1774.3,2506.6 1772,2506.6 1769.7,2506.6 1767.4,2508.3 1765.1,2508.3 1762.8,2507.4 1760.5,2507.4 1758.2,2509.6 1755.9,2509.6 1753.6,2509.9 1751.3,2509.9 1749,2506.9 1746.7,2506.9 1744.4,2504.4 1742.1,2504.4 1739.8,2501 1737.5,2501 1735.2,2499.4 1732.9,2499.4 1730.7,2495.8 1728.3,2495.8 1726.1,2494.6 1723.8,2494.6"/>
<path d="M2090 2438.6V2429.5M2159.4 2361.9V2350.6M1960.6 2452.4V2440.1M2279.4 2325.5V2315.6M2059 2440.9V2430.4M1828.4 2455.7V2442.9M1890.3 2454V2441.2M2077.5 2439.5V2427.9M2181 2348.4V2339.5M2261.5 2313.2V2300M1989.3 2447.7V2437.7M2065.9 2440.4V2427.7M2103.4 2435.7V2423.1M1970.9 2449.3V2439M2285.9 2331.1V2318.5M2263.3 2313.2V2300.6M1940 2455.8V2444.3M1732.1 2444.8V2433.4M2168 2352.2V2342.1M2145.9 2435.2V2448.1M1906.4 2500.5V2514.1M1757.6 2500.8V2514.5M2148.6 2432.9V2445.1M2012.8 2487.4V2499M1866.3 2502.8V2513.4M2151.7 2430.2V2442M1988.4 2494.5V2504.5M2307.2 2475.2V2487.1M2284.4 2380.9V2390.6M1981.1 2494.5V2507.2M1990.2 2494.5V2506.6M2266.1 2359.5V2373.2M1833.6 2498V2510.9M2310 2480.1V2493.1M2094.8 2494.4V2505.3M1737.3 2492.8V2506.4M1917 2499V2509.8M2211.4 2395.7V2404.8" stroke="#0072BD" stroke-width="2.6" fill="none"/>
<path d="M2086 2429.5a4 4 0 1 0 8 0a4 4 0 1 0 -8 0M2155.4 2350.6a4 4 0 1 0 8 0a4 4 0 1 0 -8 0M1956.6 2440.1a4 4 0 1 0 8 0a4 4 0 1 0 -8 0M2275.4 2315.6a4 4 0 1 0 8 0a4 4 0 1 0 -8 0M2055 2430.4a4 4 0 1 0 8 0a4 4 0 1 0 -8 0M1824.4 2442.9a4 4 0 1 0 8 0a4 4 0 1 0 -8 0M1886.3 2441.2a4 4 0 1 0 8 0a4 4 0 1 0 -8 0M2073.5 2427.9a4 4 0 1 0 8 0a4 4 0 1 0 -8 0M2177 2339.5a4 4 0 1 0 8 0a4 4 0 1 0 -8 0M2257.5 2300a4 4 0 1 0 8 0a4 4 0 1 0 -8 0M1985.3 2437.7a4 4 0 1 0 8 0a4 4 0 1 0 -8 0M2061.9 2427.7a4 4 0 1 0 8 0a4 4 0 1 0 -8 0M2099.4 2423.1a4 4 0 1 0 8 0a4 4 0 1 0 -8 0M1966.9 2439a4 4 0 1 0 8 0a4 4 0 1 0 -8 0M2281.9 2318.5a4 4 0 1 0 8 0a4 4 0 1 0 -8 0M2259.3 2300.6a4 4 0 1 0 8 0a4 4 0 1 0 -8 0M1936 2444.3a4 4 0 1 0 8 0a4 4 0 1 0 -8 0M1728.1 2433.4a4 4 0 1 0 8 0a4 4 0 1 0 -8 0M2164 2342.1a4 4 0 1 0 8 0a4 4 0 1 0 -8 0M2141.9 2448.1a4 4 0 1 0 8 0a4 4 0 1 0 -8 0M1902.4 2514.1a4 4 0 1 0 8 0a4 4 0 1 0 -8 0M1753.6 2514.5a4 4 0 1 0 8 0a4 4 0 1 0 -8 0M2144.6 2445.1a4 4 0 1 0 8 0a4 4 0 1 0 -8 0M2008.8 2499a4 4 0 1 0 8 0a4 4 0 1 0 -8 0M1862.3 2513.4a4 4 0 1 0 8 0a4 4 0 1 0 -8 0M2147.7 2442a4 4 0 1 0 8 0a4 4 0 1 0 -8 0M1984.4 2504.5a4 4 0 1 0 8 0a4 4 0 1 0 -8 0M2303.2 2487.1a4 4 0 1 0 8 0a4 4 0 1 0 -8 0M2280.4 2390.6a4 4 0 1 0 8 0a4 4 0 1 0 -8 0M1977.1 2507.2a4 4 0 1 0 8 0a4 4 0 1 0 -8 0M1986.2 2506.6a4 4 0 1 0 8 0a4 4 0 1 0 -8 0M2262.1 2373.2a4 4 0 1 0 8 0a4 4 0 1 0 -8 0M1829.6 2510.9a4 4 0 1 0 8 0a4 4 0 1 0 -8 0M2306 2493.1a4 4 0 1 0 8 0a4 4 0 1 0 -8 0M2090.8 2505.3a4 4 0 1 0 8 0a4 4 0 1 0 -8 0M1733.3 2506.4a4 4 0 1 0 8 0a4 4 0 1 0 -8 0M1913 2509.8a4 4 0 1 0 8 0a4 4 0 1 0 -8 0M2207.4 2404.8a4 4 0 1 0 8 0a4 4 0 1 0 -8 0" fill="#0072BD"/>
</g>
<path d="M1727.9 2864.6v-11.5M1727.9 2011.3v11.5M1825.6 2864.6v-11.5M1825.6 2011.3v11.5M1923.3 2864.6v-11.5M1923.3 2011.3v11.5M2021 2864.6v-11.5M2021 2011.3v11.5M2118.8 2864.6v-11.5M2118.8 2011.3v11.5M2216.5 2864.6v-11.5M2216.5 2011.3v11.5M2314.2 2864.6v-11.5M2314.2 2011.3v11.5M1727.9 2864.6h11.5M2314.2 2864.6h-11.5M1727.9 2722.4h11.5M2314.2 2722.4h-11.5M1727.9 2580.2h11.5M2314.2 2580.2h-11.5M1727.9 2437.9h11.5M2314.2 2437.9h-11.5M1727.9 2295.7h11.5M2314.2 2295.7h-11.5M1727.9 2153.5h11.5M2314.2 2153.5h-11.5M1727.9 2011.3h11.5M2314.2 2011.3h-11.5" stroke="#262626" stroke-width="3" fill="none"/>
<rect x="1727.9" y="2011.3" width="586.3" height="853.3" fill="none" stroke="#222" stroke-width="4.3"/>
<g font-size="59" fill="#383838"><text x="1737.4" y="2941.1" text-anchor="middle">0</text><text x="1828.6" y="2941.1" text-anchor="middle">04</text><text x="1925.3" y="2941.1" text-anchor="middle">08</text><text x="2024.5" y="2941.1" text-anchor="middle">12</text><text x="2120.3" y="2941.1" text-anchor="middle">16</text><text x="2218" y="2941.1" text-anchor="middle">20</text><text x="2312" y="2941.1" text-anchor="middle">24</text><text x="1707.4" y="2888.1" text-anchor="end">−6</text><text x="1707.4" y="2745.9" text-anchor="end">−4</text><text x="1707.4" y="2603.7" text-anchor="end">−2</text><text x="1703.9" y="2461.4" text-anchor="end">0</text><text x="1703.9" y="2319.2" text-anchor="end">2</text><text x="1703.9" y="2177" text-anchor="end">4</text><text x="1703.9" y="2034.8" text-anchor="end">6</text></g>
<text x="1750.5" y="2088.5" font-size="61" fill="#111" textLength="53.4" lengthAdjust="spacingAndGlyphs">(i)</text>
<text x="1837.2" y="2088.5" font-size="61" fill="#111" textLength="163" lengthAdjust="spacingAndGlyphs">YAR2</text>
<text transform="translate(119.5 1874.7) rotate(-90)" font-size="59" fill="#383838" textLength="911" lengthAdjust="spacingAndGlyphs">Single receiver DCB variation [ns]</text>
<text x="1129.7" y="3035" font-size="61" fill="#383838" textLength="298.6" lengthAdjust="spacingAndGlyphs">UTC [hour]</text>
<rect x="1920.6" y="2687" width="393.6" height="177.4" fill="#fff" stroke="#262626" stroke-width="3.5"/>
<path d="M1955.5 2738.3H2152" stroke="#D95319" stroke-width="3.5"/>
<circle cx="2054" cy="2738.3" r="6" fill="#D95319"/>
<text x="2163.9" y="2759.2" font-size="56.5" fill="#111" textLength="124.7" lengthAdjust="spacingAndGlyphs">2014</text>
<path d="M1955.5 2814.3H2152" stroke="#0072BD" stroke-width="3.5"/>
<circle cx="2054" cy="2814.3" r="6" fill="#0072BD"/>
<text x="2163.9" y="2838.5" font-size="56.5" fill="#111" textLength="126.6" lengthAdjust="spacingAndGlyphs">2017</text>
</svg></body></html>
